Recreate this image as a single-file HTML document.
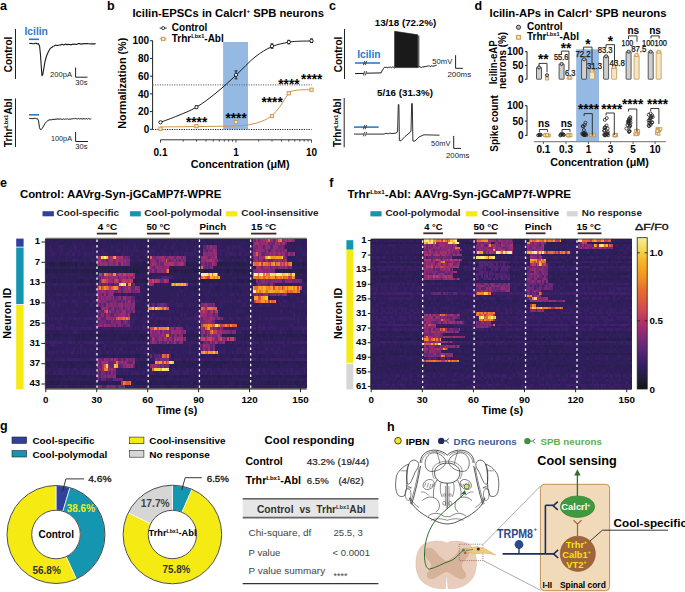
<!DOCTYPE html>
<html><head><meta charset="utf-8"><style>
html,body{margin:0;padding:0;background:#fff;}
body{width:685px;height:592px;position:relative;overflow:hidden;font-family:"Liberation Sans", sans-serif;}
.hm{position:absolute;overflow:hidden;}
.hm div{position:absolute;left:0;width:100%;}
svg{position:absolute;left:0;top:0;}
svg text{font-family:"Liberation Sans", sans-serif;}
</style></head><body>
<div class="hm" style="left:45.80px;top:238.60px;width:260.90px;height:149.64px"><div style="top:0.00px;height:4.00px;background:linear-gradient(90deg,#321e5f 0 3.4px,#2f1e59 0 6.8px,#2b1e54 0 11.9px,#2f1e59 0 13.7px,#2b1e54 0 15.4px,#321e5f 0 17.1px,#2b1e54 0 22.2px,#2f1e59 0 23.9px,#2b1e54 0 25.6px,#2f1e59 0 27.3px,#2b1e54 0 29.0px,#2f1e59 0 30.7px,#2b1e54 0 34.1px,#2f1e59 0 35.8px,#2b1e54 0 39.3px,#321e5f 0 41.0px,#2f1e59 0 44.4px,#321e5f 0 46.1px,#2b1e54 0 49.5px,#2f1e59 0 51.2px,#2b1e54 0 52.9px,#2f1e59 0 54.6px,#281e4e 0 56.3px,#2f1e59 0 59.7px,#2b1e54 0 61.5px,#281e4e 0 63.2px,#2f1e59 0 64.9px,#281e4e 0 66.6px,#2f1e59 0 68.3px,#2b1e54 0 70.0px,#281e4e 0 71.7px,#2b1e54 0 76.8px,#2f1e59 0 80.2px,#2b1e54 0 81.9px,#2f1e59 0 87.1px,#321e5f 0 88.8px,#2b1e54 0 90.5px,#321e5f 0 92.2px,#2f1e59 0 95.6px,#281e4e 0 97.3px,#2b1e54 0 99.0px,#281e4e 0 100.7px,#2b1e54 0 102.4px,#321e5f 0 107.5px,#2b1e54 0 109.2px,#2f1e59 0 112.7px,#321e5f 0 114.4px,#2f1e59 0 116.1px,#2b1e54 0 119.5px,#2f1e59 0 122.9px,#321e5f 0 124.6px,#2f1e59 0 126.3px,#321e5f 0 128.0px,#2b1e54 0 129.7px,#321e5f 0 133.1px,#2b1e54 0 136.6px,#2f1e59 0 140.0px,#2b1e54 0 145.1px,#321e5f 0 146.8px,#2b1e54 0 148.5px,#321e5f 0 150.2px,#2b1e54 0 155.3px,#321e5f 0 158.8px,#2b1e54 0 162.2px,#2f1e59 0 163.9px,#321e5f 0 165.6px,#281e4e 0 167.3px,#2f1e59 0 169.0px,#321e5f 0 170.7px,#2f1e59 0 174.1px,#321e5f 0 175.8px,#2b1e54 0 179.2px,#2f1e59 0 184.4px,#2b1e54 0 186.1px,#321e5f 0 187.8px,#2b1e54 0 189.5px,#2f1e59 0 191.2px,#321e5f 0 192.9px,#2b1e54 0 206.5px,#952c72 0 208.3px,#5f2874 0 210.0px,#a4306c 0 211.7px,#5f2874 0 213.4px,#862a74 0 215.1px,#952c72 0 216.8px,#9d2d70 0 220.2px,#ac3268 0 221.9px,#df5d3a 0 223.6px,#7e2975 0 225.3px,#9d2d70 0 227.0px,#5f2874 0 228.7px,#7e2975 0 230.4px,#ac3268 0 232.2px,#e46635 0 233.9px,#ed8129 0 235.6px,#762876 0 237.3px,#8d2b73 0 239.0px,#a4306c 0 240.7px,#7e2975 0 242.4px,#a4306c 0 245.8px,#952c72 0 247.5px,#7e2975 0 249.2px,#2f1e59 0 252.6px,#321e5f 0 256.1px,#2b1e54 0 259.5px,#2f1e59 0 260.9px)"></div><div style="top:3.40px;height:4.00px;background:linear-gradient(90deg,#2b1e54 0 3.4px,#2f1e59 0 5.1px,#321e5f 0 8.5px,#2f1e59 0 10.2px,#321e5f 0 11.9px,#2f1e59 0 13.7px,#2b1e54 0 18.8px,#2f1e59 0 20.5px,#321e5f 0 22.2px,#2b1e54 0 25.6px,#321e5f 0 27.3px,#2f1e59 0 30.7px,#2b1e54 0 32.4px,#321e5f 0 39.3px,#2f1e59 0 41.0px,#2b1e54 0 44.4px,#321e5f 0 46.1px,#2f1e59 0 47.8px,#2b1e54 0 52.9px,#2f1e59 0 54.6px,#321e5f 0 61.5px,#2b1e54 0 63.2px,#321e5f 0 64.9px,#2b1e54 0 66.6px,#2f1e59 0 68.3px,#2b1e54 0 70.0px,#321e5f 0 71.7px,#2b1e54 0 73.4px,#2f1e59 0 81.9px,#321e5f 0 85.4px,#2f1e59 0 87.1px,#321e5f 0 90.5px,#2b1e54 0 92.2px,#2f1e59 0 93.9px,#2b1e54 0 95.6px,#2f1e59 0 99.0px,#321e5f 0 100.7px,#2b1e54 0 102.4px,#321e5f 0 104.1px,#2b1e54 0 111.0px,#321e5f 0 116.1px,#2b1e54 0 117.8px,#321e5f 0 122.9px,#2b1e54 0 124.6px,#321e5f 0 129.7px,#2b1e54 0 131.4px,#2f1e59 0 133.1px,#321e5f 0 134.9px,#2f1e59 0 138.3px,#321e5f 0 140.0px,#2f1e59 0 141.7px,#321e5f 0 143.4px,#2b1e54 0 145.1px,#2f1e59 0 146.8px,#321e5f 0 148.5px,#2b1e54 0 150.2px,#321e5f 0 151.9px,#2b1e54 0 153.6px,#2f1e59 0 157.0px,#2b1e54 0 158.8px,#321e5f 0 160.5px,#2b1e54 0 163.9px,#2f1e59 0 165.6px,#2b1e54 0 169.0px,#321e5f 0 170.7px,#2b1e54 0 172.4px,#2f1e59 0 174.1px,#321e5f 0 175.8px,#2f1e59 0 177.5px,#321e5f 0 180.9px,#2b1e54 0 184.4px,#321e5f 0 191.2px,#2f1e59 0 192.9px,#321e5f 0 199.7px,#2b1e54 0 201.4px,#321e5f 0 203.1px,#2f1e59 0 204.8px,#2b1e54 0 206.5px,#5f2874 0 208.3px,#a4306c 0 211.7px,#9d2d70 0 213.4px,#862a74 0 215.1px,#952c72 0 218.5px,#862a74 0 220.2px,#a4306c 0 221.9px,#5f2874 0 223.6px,#9d2d70 0 225.3px,#5f2874 0 228.7px,#a4306c 0 230.4px,#862a74 0 232.2px,#a4306c 0 233.9px,#7e2975 0 235.6px,#952c72 0 237.3px,#a4306c 0 239.0px,#5f2874 0 240.7px,#2f1e59 0 242.4px,#321e5f 0 244.1px,#2b1e54 0 245.8px,#321e5f 0 247.5px,#2b1e54 0 250.9px,#2f1e59 0 252.6px,#2b1e54 0 254.3px,#2f1e59 0 256.1px,#2b1e54 0 259.5px,#321e5f 0 260.9px)"></div><div style="top:6.80px;height:4.00px;background:linear-gradient(90deg,#321e5f 0 1.7px,#2f1e59 0 3.4px,#391f64 0 5.1px,#321e5f 0 10.2px,#2f1e59 0 11.9px,#391f64 0 17.1px,#321e5f 0 18.8px,#2f1e59 0 23.9px,#321e5f 0 25.6px,#2f1e59 0 27.3px,#391f64 0 30.7px,#321e5f 0 34.1px,#2f1e59 0 35.8px,#391f64 0 37.6px,#2f1e59 0 39.3px,#321e5f 0 44.4px,#2f1e59 0 46.1px,#391f64 0 47.8px,#2f1e59 0 51.2px,#321e5f 0 54.6px,#2b1e54 0 56.3px,#321e5f 0 61.5px,#2f1e59 0 63.2px,#321e5f 0 64.9px,#391f64 0 66.6px,#2f1e59 0 68.3px,#321e5f 0 71.7px,#2f1e59 0 76.8px,#391f64 0 78.5px,#2f1e59 0 80.2px,#391f64 0 81.9px,#321e5f 0 83.6px,#2f1e59 0 85.4px,#321e5f 0 88.8px,#391f64 0 90.5px,#2f1e59 0 92.2px,#321e5f 0 93.9px,#2b1e54 0 95.6px,#2f1e59 0 102.4px,#321e5f 0 105.8px,#2f1e59 0 107.5px,#321e5f 0 111.0px,#2f1e59 0 112.7px,#391f64 0 114.4px,#2b1e54 0 116.1px,#2f1e59 0 117.8px,#391f64 0 119.5px,#2f1e59 0 124.6px,#391f64 0 128.0px,#2f1e59 0 129.7px,#321e5f 0 131.4px,#2f1e59 0 133.1px,#2b1e54 0 134.9px,#2f1e59 0 136.6px,#321e5f 0 140.0px,#2f1e59 0 141.7px,#321e5f 0 143.4px,#2f1e59 0 148.5px,#391f64 0 150.2px,#2f1e59 0 151.9px,#321e5f 0 153.6px,#2f1e59 0 157.0px,#582773 0 160.5px,#9d2d70 0 162.2px,#6f2875 0 163.9px,#952c72 0 165.6px,#6f2875 0 167.3px,#7e2975 0 169.0px,#762876 0 170.7px,#2f1e59 0 172.4px,#321e5f 0 174.1px,#2f1e59 0 175.8px,#321e5f 0 177.5px,#2f1e59 0 179.2px,#321e5f 0 180.9px,#391f64 0 184.4px,#321e5f 0 186.1px,#391f64 0 189.5px,#2f1e59 0 191.2px,#391f64 0 194.6px,#2f1e59 0 196.3px,#321e5f 0 203.1px,#2f1e59 0 204.8px,#391f64 0 206.5px,#8d2b73 0 208.3px,#862a74 0 210.0px,#762876 0 211.7px,#952c72 0 215.1px,#7e2975 0 216.8px,#582773 0 218.5px,#952c72 0 220.2px,#8d2b73 0 221.9px,#952c72 0 223.6px,#582773 0 227.0px,#9d2d70 0 228.7px,#8d2b73 0 230.4px,#952c72 0 232.2px,#6f2875 0 235.6px,#8d2b73 0 237.3px,#582773 0 239.0px,#321e5f 0 240.7px,#391f64 0 242.4px,#321e5f 0 245.8px,#2f1e59 0 247.5px,#321e5f 0 252.6px,#391f64 0 254.3px,#321e5f 0 256.1px,#2f1e59 0 257.8px,#321e5f 0 260.9px)"></div><div style="top:10.20px;height:4.00px;background:linear-gradient(90deg,#321e5f 0 1.7px,#2f1e59 0 3.4px,#391f64 0 6.8px,#321e5f 0 8.5px,#2f1e59 0 10.2px,#321e5f 0 15.4px,#391f64 0 17.1px,#2f1e59 0 20.5px,#321e5f 0 23.9px,#391f64 0 25.6px,#321e5f 0 29.0px,#391f64 0 30.7px,#2f1e59 0 32.4px,#391f64 0 34.1px,#2f1e59 0 35.8px,#321e5f 0 41.0px,#2f1e59 0 42.7px,#321e5f 0 44.4px,#2f1e59 0 47.8px,#321e5f 0 51.2px,#2f1e59 0 52.9px,#321e5f 0 54.6px,#391f64 0 58.0px,#2f1e59 0 61.5px,#321e5f 0 70.0px,#391f64 0 75.1px,#2f1e59 0 76.8px,#391f64 0 78.5px,#2f1e59 0 80.2px,#391f64 0 81.9px,#321e5f 0 83.6px,#391f64 0 85.4px,#321e5f 0 87.1px,#391f64 0 88.8px,#2f1e59 0 90.5px,#391f64 0 92.2px,#2f1e59 0 97.3px,#321e5f 0 100.7px,#391f64 0 102.4px,#321e5f 0 104.1px,#391f64 0 107.5px,#2f1e59 0 114.4px,#321e5f 0 116.1px,#391f64 0 117.8px,#2f1e59 0 119.5px,#321e5f 0 121.2px,#2f1e59 0 128.0px,#321e5f 0 129.7px,#391f64 0 131.4px,#2f1e59 0 133.1px,#321e5f 0 138.3px,#2f1e59 0 140.0px,#391f64 0 141.7px,#2f1e59 0 143.4px,#321e5f 0 148.5px,#391f64 0 150.2px,#321e5f 0 153.6px,#391f64 0 155.3px,#2f1e59 0 157.0px,#762876 0 158.8px,#582773 0 162.2px,#7e2975 0 163.9px,#6f2875 0 167.3px,#9d2d70 0 169.0px,#8d2b73 0 170.7px,#2f1e59 0 172.4px,#321e5f 0 174.1px,#391f64 0 175.8px,#321e5f 0 177.5px,#391f64 0 179.2px,#321e5f 0 180.9px,#391f64 0 184.4px,#2f1e59 0 186.1px,#391f64 0 187.8px,#321e5f 0 189.5px,#2f1e59 0 192.9px,#391f64 0 194.6px,#321e5f 0 196.3px,#391f64 0 199.7px,#321e5f 0 203.1px,#391f64 0 206.5px,#862a74 0 208.3px,#6f2875 0 210.0px,#952c72 0 215.1px,#8d2b73 0 218.5px,#582773 0 220.2px,#8d2b73 0 221.9px,#582773 0 225.3px,#862a74 0 227.0px,#952c72 0 228.7px,#862a74 0 230.4px,#6f2875 0 232.2px,#862a74 0 233.9px,#762876 0 235.6px,#7e2975 0 239.0px,#8d2b73 0 240.7px,#321e5f 0 242.4px,#2f1e59 0 247.5px,#321e5f 0 250.9px,#2f1e59 0 252.6px,#321e5f 0 254.3px,#391f64 0 256.1px,#321e5f 0 257.8px,#391f64 0 259.5px,#321e5f 0 260.9px)"></div><div style="top:13.60px;height:4.00px;background:linear-gradient(90deg,#321e5f 0 5.1px,#391f64 0 8.5px,#321e5f 0 10.2px,#2f1e59 0 13.7px,#391f64 0 15.4px,#321e5f 0 17.1px,#2f1e59 0 18.8px,#321e5f 0 20.5px,#391f64 0 23.9px,#321e5f 0 25.6px,#3f1f69 0 29.0px,#2f1e59 0 30.7px,#321e5f 0 32.4px,#391f64 0 34.1px,#321e5f 0 37.6px,#391f64 0 41.0px,#321e5f 0 42.7px,#3f1f69 0 44.4px,#321e5f 0 46.1px,#391f64 0 47.8px,#321e5f 0 49.5px,#391f64 0 52.9px,#321e5f 0 56.3px,#391f64 0 61.5px,#2f1e59 0 64.9px,#321e5f 0 66.6px,#2f1e59 0 68.3px,#321e5f 0 71.7px,#2f1e59 0 75.1px,#391f64 0 78.5px,#321e5f 0 80.2px,#391f64 0 81.9px,#321e5f 0 83.6px,#2f1e59 0 85.4px,#391f64 0 87.1px,#2f1e59 0 88.8px,#321e5f 0 90.5px,#2f1e59 0 92.2px,#321e5f 0 99.0px,#3f1f69 0 100.7px,#391f64 0 102.4px,#321e5f 0 104.1px,#391f64 0 105.8px,#321e5f 0 107.5px,#391f64 0 109.2px,#321e5f 0 111.0px,#391f64 0 112.7px,#2f1e59 0 116.1px,#391f64 0 119.5px,#321e5f 0 121.2px,#2f1e59 0 122.9px,#391f64 0 124.6px,#2f1e59 0 126.3px,#321e5f 0 128.0px,#391f64 0 133.1px,#2f1e59 0 134.9px,#391f64 0 136.6px,#2f1e59 0 138.3px,#3f1f69 0 140.0px,#391f64 0 150.2px,#2f1e59 0 153.6px,#391f64 0 155.3px,#2f1e59 0 157.0px,#952c72 0 158.8px,#862a74 0 160.5px,#7e2975 0 162.2px,#8d2b73 0 165.6px,#7e2975 0 167.3px,#8d2b73 0 169.0px,#9d2d70 0 170.7px,#321e5f 0 172.4px,#391f64 0 175.8px,#321e5f 0 177.5px,#2f1e59 0 179.2px,#391f64 0 184.4px,#3f1f69 0 186.1px,#391f64 0 189.5px,#321e5f 0 192.9px,#3f1f69 0 196.3px,#2f1e59 0 198.0px,#391f64 0 203.1px,#321e5f 0 206.5px,#9d2d70 0 208.3px,#ac3268 0 210.0px,#df5d3a 0 211.7px,#862a74 0 213.4px,#a4306c 0 215.1px,#5f2874 0 218.5px,#762876 0 220.2px,#862a74 0 221.9px,#7e2975 0 223.6px,#a4306c 0 225.3px,#862a74 0 227.0px,#a4306c 0 228.7px,#952c72 0 230.4px,#7e2975 0 232.2px,#9d2d70 0 233.9px,#862a74 0 235.6px,#9d2d70 0 239.0px,#5f2874 0 242.4px,#9d2d70 0 244.1px,#762876 0 245.8px,#7e2975 0 247.5px,#9d2d70 0 249.2px,#2f1e59 0 250.9px,#321e5f 0 256.1px,#391f64 0 257.8px,#321e5f 0 259.5px,#391f64 0 260.9px)"></div><div style="top:17.00px;height:4.00px;background:linear-gradient(90deg,#2f1e59 0 5.1px,#321e5f 0 8.5px,#2f1e59 0 10.2px,#2b1e54 0 11.9px,#321e5f 0 13.7px,#2b1e54 0 18.8px,#2f1e59 0 20.5px,#321e5f 0 22.2px,#2f1e59 0 23.9px,#321e5f 0 25.6px,#2f1e59 0 27.3px,#321e5f 0 29.0px,#2f1e59 0 30.7px,#321e5f 0 32.4px,#2f1e59 0 34.1px,#2b1e54 0 35.8px,#321e5f 0 41.0px,#2f1e59 0 42.7px,#321e5f 0 44.4px,#2f1e59 0 47.8px,#321e5f 0 49.5px,#2f1e59 0 51.2px,#952c72 0 52.9px,#9d2d70 0 54.6px,#f4ee9a 0 56.3px,#f5c63d 0 58.0px,#f4ee9a 0 59.7px,#f5c63d 0 61.5px,#b43464 0 63.2px,#8d2b73 0 64.9px,#b43464 0 66.6px,#eb792c 0 68.3px,#f5a624 0 70.0px,#ac3268 0 73.4px,#9d2d70 0 75.1px,#ac3268 0 76.8px,#5f2874 0 78.5px,#762876 0 81.9px,#5f2874 0 83.6px,#2f1e59 0 85.4px,#2b1e54 0 87.1px,#2f1e59 0 90.5px,#321e5f 0 93.9px,#2b1e54 0 97.3px,#2f1e59 0 100.7px,#321e5f 0 102.4px,#2f1e59 0 104.1px,#e26237 0 105.8px,#7e2975 0 107.5px,#5f2874 0 109.2px,#7e2975 0 111.0px,#8d2b73 0 112.7px,#952c72 0 116.1px,#a4306c 0 117.8px,#862a74 0 119.5px,#5f2874 0 121.2px,#862a74 0 122.9px,#9d2d70 0 124.6px,#8d2b73 0 126.3px,#952c72 0 128.0px,#5f2874 0 129.7px,#862a74 0 131.4px,#952c72 0 134.9px,#5f2874 0 136.6px,#9d2d70 0 138.3px,#7e2975 0 140.0px,#2f1e59 0 146.8px,#321e5f 0 148.5px,#2f1e59 0 155.3px,#8d2b73 0 157.0px,#a4306c 0 158.8px,#9d2d70 0 160.5px,#8d2b73 0 162.2px,#672875 0 163.9px,#862a74 0 165.6px,#8d2b73 0 167.3px,#7e2975 0 169.0px,#ac3268 0 170.7px,#2b1e54 0 172.4px,#321e5f 0 177.5px,#2b1e54 0 179.2px,#321e5f 0 184.4px,#2b1e54 0 187.8px,#321e5f 0 189.5px,#2f1e59 0 191.2px,#2b1e54 0 194.6px,#321e5f 0 198.0px,#2f1e59 0 201.4px,#2b1e54 0 204.8px,#321e5f 0 206.5px,#5f2874 0 208.3px,#9d2d70 0 210.0px,#952c72 0 211.7px,#5f2874 0 213.4px,#a4306c 0 215.1px,#9d2d70 0 218.5px,#f08826 0 220.2px,#f5ac28 0 221.9px,#f4e070 0 223.6px,#f5a624 0 225.3px,#f39b21 0 227.0px,#f18f24 0 230.4px,#f5a624 0 232.2px,#f39b21 0 233.9px,#f4a121 0 235.6px,#f4da62 0 237.3px,#952c72 0 239.0px,#7e2975 0 240.7px,#321e5f 0 242.4px,#2b1e54 0 245.8px,#321e5f 0 247.5px,#2b1e54 0 249.2px,#321e5f 0 252.6px,#2b1e54 0 254.3px,#321e5f 0 256.1px,#2b1e54 0 259.5px,#321e5f 0 260.9px)"></div><div style="top:20.41px;height:4.00px;background:linear-gradient(90deg,#2f1e59 0 3.4px,#321e5f 0 5.1px,#2f1e59 0 8.5px,#321e5f 0 11.9px,#2f1e59 0 13.7px,#321e5f 0 15.4px,#2f1e59 0 17.1px,#321e5f 0 18.8px,#391f64 0 20.5px,#321e5f 0 25.6px,#391f64 0 32.4px,#321e5f 0 35.8px,#2f1e59 0 37.6px,#391f64 0 39.3px,#2f1e59 0 42.7px,#321e5f 0 44.4px,#2f1e59 0 46.1px,#391f64 0 47.8px,#2f1e59 0 49.5px,#391f64 0 51.2px,#9d2d70 0 52.9px,#a4306c 0 54.6px,#9d2d70 0 56.3px,#762876 0 58.0px,#8d2b73 0 59.7px,#5f2874 0 61.5px,#7e2975 0 63.2px,#9d2d70 0 64.9px,#a4306c 0 66.6px,#862a74 0 68.3px,#7e2975 0 70.0px,#a4306c 0 71.7px,#9d2d70 0 73.4px,#952c72 0 76.8px,#862a74 0 78.5px,#a4306c 0 80.2px,#762876 0 81.9px,#7e2975 0 83.6px,#391f64 0 85.4px,#321e5f 0 88.8px,#2f1e59 0 90.5px,#321e5f 0 92.2px,#391f64 0 95.6px,#321e5f 0 100.7px,#391f64 0 102.4px,#2f1e59 0 104.1px,#862a74 0 105.8px,#952c72 0 107.5px,#9d2d70 0 109.2px,#762876 0 111.0px,#5f2874 0 112.7px,#9d2d70 0 114.4px,#862a74 0 116.1px,#a4306c 0 117.8px,#862a74 0 119.5px,#dd583e 0 121.2px,#862a74 0 122.9px,#5f2874 0 124.6px,#8d2b73 0 126.3px,#7e2975 0 128.0px,#952c72 0 129.7px,#5f2874 0 131.4px,#862a74 0 133.1px,#5f2874 0 134.9px,#952c72 0 136.6px,#5f2874 0 138.3px,#862a74 0 140.0px,#321e5f 0 141.7px,#2f1e59 0 143.4px,#391f64 0 145.1px,#2f1e59 0 146.8px,#391f64 0 148.5px,#2f1e59 0 155.3px,#952c72 0 157.0px,#8d2b73 0 160.5px,#a4306c 0 162.2px,#9d2d70 0 163.9px,#b43464 0 165.6px,#8d2b73 0 167.3px,#a4306c 0 169.0px,#6f2875 0 170.7px,#952c72 0 172.4px,#391f64 0 175.8px,#321e5f 0 180.9px,#2f1e59 0 186.1px,#391f64 0 187.8px,#2f1e59 0 191.2px,#391f64 0 192.9px,#321e5f 0 196.3px,#2f1e59 0 198.0px,#391f64 0 199.7px,#2f1e59 0 203.1px,#391f64 0 204.8px,#2f1e59 0 206.5px,#762876 0 208.3px,#8d2b73 0 210.0px,#a4306c 0 211.7px,#5f2874 0 213.4px,#952c72 0 215.1px,#8d2b73 0 216.8px,#5f2874 0 218.5px,#862a74 0 220.2px,#9d2d70 0 221.9px,#5f2874 0 223.6px,#862a74 0 225.3px,#5f2874 0 227.0px,#952c72 0 228.7px,#9d2d70 0 230.4px,#862a74 0 232.2px,#9d2d70 0 235.6px,#5f2874 0 237.3px,#8d2b73 0 239.0px,#a4306c 0 240.7px,#2f1e59 0 242.4px,#321e5f 0 244.1px,#391f64 0 245.8px,#2f1e59 0 250.9px,#321e5f 0 252.6px,#391f64 0 256.1px,#321e5f 0 257.8px,#2f1e59 0 260.9px)"></div><div style="top:23.81px;height:4.00px;background:linear-gradient(90deg,#281e4e 0 1.7px,#2b1e54 0 3.4px,#251d43 0 8.5px,#281e4e 0 13.7px,#211d38 0 15.4px,#251d43 0 17.1px,#211d38 0 18.8px,#251d43 0 27.3px,#2b1e54 0 29.0px,#211d38 0 30.7px,#281e4e 0 32.4px,#2b1e54 0 34.1px,#281e4e 0 35.8px,#251d43 0 37.6px,#2b1e54 0 41.0px,#281e4e 0 42.7px,#2b1e54 0 44.4px,#251d43 0 46.1px,#281e4e 0 47.8px,#251d43 0 49.5px,#211d38 0 51.2px,#9d2d70 0 52.9px,#8d2b73 0 54.6px,#a4306c 0 56.3px,#952c72 0 59.7px,#9d2d70 0 61.5px,#5f2874 0 63.2px,#952c72 0 64.9px,#8d2b73 0 66.6px,#862a74 0 68.3px,#7e2975 0 70.0px,#a4306c 0 71.7px,#5f2874 0 75.1px,#a4306c 0 76.8px,#7e2975 0 78.5px,#952c72 0 80.2px,#7e2975 0 81.9px,#762876 0 83.6px,#2b1e54 0 87.1px,#281e4e 0 88.8px,#251d43 0 90.5px,#281e4e 0 92.2px,#2b1e54 0 95.6px,#281e4e 0 97.3px,#251d43 0 99.0px,#281e4e 0 100.7px,#251d43 0 104.1px,#862a74 0 105.8px,#a4306c 0 107.5px,#952c72 0 111.0px,#672875 0 112.7px,#952c72 0 114.4px,#672875 0 117.8px,#a4306c 0 119.5px,#ac3268 0 121.2px,#a4306c 0 122.9px,#b43464 0 124.6px,#9d2d70 0 126.3px,#ac3268 0 128.0px,#862a74 0 131.4px,#952c72 0 133.1px,#a4306c 0 134.9px,#ac3268 0 136.6px,#9d2d70 0 138.3px,#672875 0 140.0px,#211d38 0 141.7px,#2b1e54 0 143.4px,#281e4e 0 146.8px,#251d43 0 148.5px,#2b1e54 0 150.2px,#281e4e 0 151.9px,#251d43 0 153.6px,#281e4e 0 155.3px,#7e2975 0 158.8px,#5f2874 0 160.5px,#862a74 0 162.2px,#5f2874 0 165.6px,#a4306c 0 167.3px,#952c72 0 169.0px,#7e2975 0 170.7px,#211d38 0 172.4px,#281e4e 0 174.1px,#211d38 0 175.8px,#251d43 0 177.5px,#281e4e 0 179.2px,#251d43 0 180.9px,#281e4e 0 191.2px,#251d43 0 194.6px,#2b1e54 0 196.3px,#251d43 0 198.0px,#281e4e 0 199.7px,#2b1e54 0 201.4px,#281e4e 0 203.1px,#2b1e54 0 204.8px,#281e4e 0 206.5px,#f39b21 0 208.3px,#e46635 0 213.4px,#f18f24 0 215.1px,#c13e5d 0 216.8px,#ed8129 0 218.5px,#e9712f 0 221.9px,#dd583e 0 223.6px,#c13e5d 0 225.3px,#ed8129 0 227.0px,#f39b21 0 228.7px,#c13e5d 0 230.4px,#e76b32 0 232.2px,#ed8129 0 233.9px,#c13e5d 0 235.6px,#e26237 0 237.3px,#c13e5d 0 239.0px,#e46635 0 240.7px,#c13e5d 0 242.4px,#e76b32 0 244.1px,#f18f24 0 245.8px,#251d43 0 247.5px,#281e4e 0 250.9px,#251d43 0 254.3px,#2b1e54 0 256.1px,#211d38 0 257.8px,#251d43 0 259.5px,#281e4e 0 260.9px)"></div><div style="top:27.21px;height:4.00px;background:linear-gradient(90deg,#321e5f 0 3.4px,#2f1e59 0 5.1px,#321e5f 0 6.8px,#2b1e54 0 8.5px,#2f1e59 0 11.9px,#321e5f 0 13.7px,#2b1e54 0 17.1px,#321e5f 0 18.8px,#2b1e54 0 20.5px,#321e5f 0 22.2px,#2b1e54 0 23.9px,#321e5f 0 25.6px,#2f1e59 0 27.3px,#321e5f 0 29.0px,#2b1e54 0 30.7px,#2f1e59 0 32.4px,#321e5f 0 34.1px,#2f1e59 0 35.8px,#321e5f 0 39.3px,#2b1e54 0 41.0px,#321e5f 0 44.4px,#2b1e54 0 46.1px,#321e5f 0 47.8px,#2f1e59 0 49.5px,#391f64 0 51.2px,#281e4e 0 102.4px,#d95444 0 104.1px,#862a74 0 105.8px,#762876 0 107.5px,#582773 0 109.2px,#8d2b73 0 111.0px,#9d2d70 0 112.7px,#862a74 0 114.4px,#8d2b73 0 116.1px,#7e2975 0 117.8px,#862a74 0 121.2px,#952c72 0 122.9px,#321e5f 0 124.6px,#2f1e59 0 126.3px,#2b1e54 0 129.7px,#2f1e59 0 133.1px,#321e5f 0 134.9px,#2f1e59 0 136.6px,#2b1e54 0 138.3px,#2f1e59 0 140.0px,#321e5f 0 143.4px,#2f1e59 0 145.1px,#321e5f 0 146.8px,#2b1e54 0 150.2px,#321e5f 0 153.6px,#2f1e59 0 155.3px,#e76b32 0 157.0px,#7e2975 0 158.8px,#582773 0 160.5px,#862a74 0 162.2px,#582773 0 163.9px,#7e2975 0 165.6px,#8d2b73 0 167.3px,#2f1e59 0 170.7px,#2b1e54 0 172.4px,#2f1e59 0 174.1px,#321e5f 0 179.2px,#2b1e54 0 184.4px,#2f1e59 0 186.1px,#321e5f 0 187.8px,#2b1e54 0 189.5px,#2f1e59 0 191.2px,#321e5f 0 192.9px,#2f1e59 0 199.7px,#321e5f 0 208.3px,#2b1e54 0 210.0px,#952c72 0 211.7px,#a4306c 0 213.4px,#8d2b73 0 215.1px,#762876 0 216.8px,#952c72 0 218.5px,#a4306c 0 220.2px,#9d2d70 0 221.9px,#952c72 0 223.6px,#5f2874 0 225.3px,#862a74 0 227.0px,#7e2975 0 228.7px,#9d2d70 0 230.4px,#5f2874 0 232.2px,#862a74 0 233.9px,#952c72 0 235.6px,#8d2b73 0 237.3px,#862a74 0 239.0px,#9d2d70 0 240.7px,#7e2975 0 242.4px,#5f2874 0 244.1px,#862a74 0 245.8px,#321e5f 0 247.5px,#2f1e59 0 249.2px,#2b1e54 0 250.9px,#2f1e59 0 256.1px,#2b1e54 0 257.8px,#321e5f 0 259.5px,#2f1e59 0 260.9px)"></div><div style="top:30.61px;height:4.00px;background:linear-gradient(90deg,#251d43 0 1.7px,#281e4e 0 6.8px,#251d43 0 8.5px,#281e4e 0 10.2px,#251d43 0 11.9px,#281e4e 0 13.7px,#251d43 0 15.4px,#2b1e54 0 17.1px,#251d43 0 18.8px,#281e4e 0 20.5px,#2b1e54 0 22.2px,#251d43 0 23.9px,#281e4e 0 27.3px,#251d43 0 29.0px,#281e4e 0 30.7px,#251d43 0 32.4px,#2b1e54 0 34.1px,#281e4e 0 41.0px,#251d43 0 42.7px,#281e4e 0 44.4px,#2b1e54 0 46.1px,#251d43 0 47.8px,#281e4e 0 51.2px,#251d43 0 52.9px,#2b1e54 0 56.3px,#281e4e 0 58.0px,#251d43 0 59.7px,#2b1e54 0 61.5px,#251d43 0 64.9px,#281e4e 0 66.6px,#251d43 0 68.3px,#281e4e 0 73.4px,#2b1e54 0 76.8px,#251d43 0 81.9px,#2b1e54 0 83.6px,#251d43 0 85.4px,#281e4e 0 87.1px,#211d38 0 88.8px,#281e4e 0 90.5px,#211d38 0 92.2px,#251d43 0 93.9px,#281e4e 0 95.6px,#2b1e54 0 97.3px,#281e4e 0 100.7px,#251d43 0 102.4px,#8d2b73 0 104.1px,#6f2875 0 105.8px,#8d2b73 0 107.5px,#762876 0 109.2px,#582773 0 111.0px,#952c72 0 112.7px,#862a74 0 116.1px,#952c72 0 117.8px,#7e2975 0 119.5px,#c13e5d 0 121.2px,#eb792c 0 122.9px,#251d43 0 124.6px,#281e4e 0 128.0px,#251d43 0 131.4px,#281e4e 0 133.1px,#2b1e54 0 134.9px,#251d43 0 136.6px,#2b1e54 0 138.3px,#251d43 0 140.0px,#281e4e 0 141.7px,#251d43 0 143.4px,#281e4e 0 145.1px,#2b1e54 0 146.8px,#251d43 0 148.5px,#211d38 0 150.2px,#251d43 0 153.6px,#281e4e 0 157.0px,#251d43 0 158.8px,#211d38 0 160.5px,#281e4e 0 162.2px,#251d43 0 165.6px,#281e4e 0 170.7px,#251d43 0 174.1px,#281e4e 0 175.8px,#2b1e54 0 179.2px,#281e4e 0 180.9px,#211d38 0 182.6px,#281e4e 0 184.4px,#2b1e54 0 187.8px,#251d43 0 192.9px,#281e4e 0 194.6px,#251d43 0 199.7px,#281e4e 0 203.1px,#2b1e54 0 206.5px,#7e2975 0 210.0px,#8d2b73 0 211.7px,#862a74 0 213.4px,#9d2d70 0 215.1px,#952c72 0 216.8px,#7e2975 0 218.5px,#952c72 0 220.2px,#7e2975 0 221.9px,#8d2b73 0 223.6px,#762876 0 227.0px,#7e2975 0 228.7px,#281e4e 0 235.6px,#2b1e54 0 237.3px,#211d38 0 239.0px,#281e4e 0 240.7px,#251d43 0 245.8px,#281e4e 0 247.5px,#2b1e54 0 249.2px,#281e4e 0 252.6px,#251d43 0 259.5px,#281e4e 0 260.9px)"></div><div style="top:34.01px;height:4.00px;background:linear-gradient(90deg,#2f1e59 0 1.7px,#2b1e54 0 3.4px,#321e5f 0 5.1px,#2f1e59 0 8.5px,#2b1e54 0 11.9px,#2f1e59 0 13.7px,#2b1e54 0 17.1px,#2f1e59 0 18.8px,#321e5f 0 20.5px,#2b1e54 0 22.2px,#321e5f 0 25.6px,#2f1e59 0 30.7px,#2b1e54 0 32.4px,#2f1e59 0 34.1px,#2b1e54 0 37.6px,#2f1e59 0 39.3px,#2b1e54 0 42.7px,#2f1e59 0 46.1px,#2b1e54 0 47.8px,#2f1e59 0 51.2px,#2b1e54 0 52.9px,#bb3960 0 54.6px,#ac3268 0 56.3px,#6f2875 0 58.0px,#ed8129 0 59.7px,#dd583e 0 61.5px,#c84259 0 64.9px,#a4306c 0 66.6px,#f18f24 0 70.0px,#952c72 0 71.7px,#ac3268 0 73.4px,#bb3960 0 75.1px,#9d2d70 0 76.8px,#c13e5d 0 78.5px,#c84259 0 80.2px,#a4306c 0 81.9px,#b43464 0 83.6px,#ac3268 0 85.4px,#bb3960 0 87.1px,#952c72 0 88.8px,#2b1e54 0 90.5px,#2f1e59 0 92.2px,#2b1e54 0 93.9px,#321e5f 0 95.6px,#2b1e54 0 97.3px,#321e5f 0 99.0px,#2f1e59 0 102.4px,#321e5f 0 104.1px,#2b1e54 0 105.8px,#2f1e59 0 107.5px,#2b1e54 0 109.2px,#2f1e59 0 111.0px,#321e5f 0 112.7px,#2f1e59 0 116.1px,#2b1e54 0 117.8px,#2f1e59 0 121.2px,#2b1e54 0 122.9px,#321e5f 0 126.3px,#2f1e59 0 131.4px,#321e5f 0 133.1px,#2f1e59 0 134.9px,#2b1e54 0 136.6px,#2f1e59 0 138.3px,#2b1e54 0 141.7px,#2f1e59 0 143.4px,#2b1e54 0 145.1px,#2f1e59 0 148.5px,#321e5f 0 150.2px,#2b1e54 0 153.6px,#321e5f 0 155.3px,#f4ee9a 0 160.5px,#f4e98c 0 162.2px,#f6b62f 0 163.9px,#f4e070 0 165.6px,#eb792c 0 167.3px,#f4da62 0 169.0px,#f4ee9a 0 170.7px,#eb792c 0 172.4px,#2f1e59 0 174.1px,#321e5f 0 175.8px,#2b1e54 0 177.5px,#2f1e59 0 179.2px,#2b1e54 0 180.9px,#2f1e59 0 184.4px,#321e5f 0 186.1px,#2b1e54 0 189.5px,#2f1e59 0 191.2px,#2b1e54 0 192.9px,#2f1e59 0 194.6px,#2b1e54 0 196.3px,#2f1e59 0 198.0px,#2b1e54 0 199.7px,#2f1e59 0 203.1px,#2b1e54 0 206.5px,#eb792c 0 208.3px,#f4ee9a 0 211.7px,#eb792c 0 213.4px,#f4ee9a 0 216.8px,#eb792c 0 218.5px,#f4e070 0 220.2px,#eb792c 0 223.6px,#f4ee9a 0 225.3px,#f4da62 0 228.7px,#f6b62f 0 230.4px,#f4ee9a 0 233.9px,#f4e57e 0 235.6px,#f5b12b 0 237.3px,#f5c63d 0 239.0px,#f4da62 0 240.7px,#f4e57e 0 242.4px,#f5b12b 0 244.1px,#eb792c 0 245.8px,#f4da62 0 249.2px,#2f1e59 0 250.9px,#2b1e54 0 252.6px,#2f1e59 0 256.1px,#2b1e54 0 257.8px,#2f1e59 0 259.5px,#2b1e54 0 260.9px)"></div><div style="top:37.41px;height:4.00px;background:linear-gradient(90deg,#321e5f 0 3.4px,#2b1e54 0 5.1px,#2f1e59 0 6.8px,#321e5f 0 8.5px,#2f1e59 0 11.9px,#2b1e54 0 15.4px,#321e5f 0 17.1px,#2b1e54 0 18.8px,#321e5f 0 20.5px,#2f1e59 0 22.2px,#2b1e54 0 23.9px,#2f1e59 0 25.6px,#2b1e54 0 30.7px,#321e5f 0 32.4px,#2f1e59 0 34.1px,#321e5f 0 35.8px,#2f1e59 0 37.6px,#321e5f 0 39.3px,#2f1e59 0 44.4px,#321e5f 0 47.8px,#2b1e54 0 49.5px,#321e5f 0 51.2px,#5f2874 0 54.6px,#9d2d70 0 56.3px,#7e2975 0 58.0px,#8d2b73 0 59.7px,#a4306c 0 61.5px,#8d2b73 0 63.2px,#952c72 0 64.9px,#9d2d70 0 68.3px,#952c72 0 70.0px,#9d2d70 0 71.7px,#5f2874 0 73.4px,#952c72 0 75.1px,#9d2d70 0 76.8px,#952c72 0 78.5px,#9d2d70 0 80.2px,#762876 0 81.9px,#a4306c 0 83.6px,#862a74 0 85.4px,#7e2975 0 87.1px,#9d2d70 0 88.8px,#2b1e54 0 90.5px,#2f1e59 0 93.9px,#321e5f 0 97.3px,#2b1e54 0 99.0px,#2f1e59 0 102.4px,#321e5f 0 105.8px,#3f1f69 0 107.5px,#321e5f 0 109.2px,#3f1f69 0 116.1px,#522471 0 121.2px,#4c2270 0 122.9px,#46206e 0 124.6px,#4c2270 0 126.3px,#3f1f69 0 128.0px,#321e5f 0 129.7px,#2f1e59 0 131.4px,#321e5f 0 133.1px,#2f1e59 0 134.9px,#321e5f 0 136.6px,#2b1e54 0 138.3px,#2f1e59 0 146.8px,#2b1e54 0 148.5px,#2f1e59 0 155.3px,#e76b32 0 157.0px,#f29522 0 158.8px,#e26237 0 160.5px,#c84259 0 163.9px,#f5b12b 0 165.6px,#f5a624 0 167.3px,#f08826 0 169.0px,#f4a121 0 170.7px,#e9712f 0 172.4px,#f5ac28 0 174.1px,#321e5f 0 177.5px,#2f1e59 0 179.2px,#2b1e54 0 180.9px,#2f1e59 0 182.6px,#2b1e54 0 184.4px,#2f1e59 0 187.8px,#321e5f 0 191.2px,#2b1e54 0 192.9px,#321e5f 0 196.3px,#2f1e59 0 198.0px,#321e5f 0 199.7px,#2f1e59 0 201.4px,#321e5f 0 204.8px,#2b1e54 0 206.5px,#eb792c 0 210.0px,#e9712f 0 211.7px,#e46635 0 213.4px,#ed8129 0 215.1px,#f29522 0 216.8px,#e26237 0 218.5px,#e46635 0 220.2px,#f29522 0 221.9px,#e9712f 0 223.6px,#f29522 0 228.7px,#c13e5d 0 230.4px,#e9712f 0 232.2px,#f18f24 0 233.9px,#e9712f 0 235.6px,#f4a121 0 237.3px,#e46635 0 239.0px,#e76b32 0 240.7px,#eb792c 0 242.4px,#c13e5d 0 245.8px,#f39b21 0 247.5px,#ed8129 0 249.2px,#2b1e54 0 250.9px,#321e5f 0 252.6px,#2b1e54 0 254.3px,#2f1e59 0 256.1px,#2b1e54 0 257.8px,#2f1e59 0 259.5px,#2b1e54 0 260.9px)"></div><div style="top:40.81px;height:4.00px;background:linear-gradient(90deg,#2b1e54 0 3.4px,#2f1e59 0 5.1px,#281e4e 0 6.8px,#251d43 0 10.2px,#2b1e54 0 11.9px,#281e4e 0 13.7px,#2b1e54 0 23.9px,#281e4e 0 25.6px,#2b1e54 0 30.7px,#251d43 0 32.4px,#281e4e 0 34.1px,#251d43 0 37.6px,#281e4e 0 39.3px,#2b1e54 0 44.4px,#251d43 0 46.1px,#281e4e 0 47.8px,#2b1e54 0 51.2px,#251d43 0 52.9px,#6f2875 0 54.6px,#b43464 0 56.3px,#e26237 0 58.0px,#d95444 0 59.7px,#c13e5d 0 61.5px,#9d2d70 0 64.9px,#952c72 0 66.6px,#6f2875 0 68.3px,#bb3960 0 70.0px,#c84259 0 71.7px,#ac3268 0 73.4px,#6f2875 0 75.1px,#ac3268 0 76.8px,#c13e5d 0 78.5px,#bb3960 0 80.2px,#b43464 0 81.9px,#ac3268 0 83.6px,#c84259 0 85.4px,#b43464 0 87.1px,#281e4e 0 88.8px,#251d43 0 90.5px,#281e4e 0 92.2px,#2b1e54 0 93.9px,#281e4e 0 95.6px,#251d43 0 97.3px,#281e4e 0 99.0px,#251d43 0 102.4px,#bb3960 0 104.1px,#a4306c 0 105.8px,#c84259 0 107.5px,#9d2d70 0 109.2px,#bb3960 0 111.0px,#b43464 0 112.7px,#a4306c 0 114.4px,#6f2875 0 117.8px,#b43464 0 119.5px,#a4306c 0 121.2px,#952c72 0 122.9px,#281e4e 0 124.6px,#2b1e54 0 126.3px,#281e4e 0 128.0px,#2b1e54 0 129.7px,#281e4e 0 133.1px,#2b1e54 0 134.9px,#281e4e 0 138.3px,#2b1e54 0 140.0px,#2f1e59 0 141.7px,#251d43 0 143.4px,#2b1e54 0 148.5px,#251d43 0 150.2px,#2b1e54 0 153.6px,#251d43 0 158.8px,#281e4e 0 160.5px,#2b1e54 0 162.2px,#281e4e 0 169.0px,#2b1e54 0 170.7px,#281e4e 0 174.1px,#2b1e54 0 175.8px,#281e4e 0 177.5px,#2b1e54 0 180.9px,#281e4e 0 182.6px,#2b1e54 0 184.4px,#281e4e 0 186.1px,#2b1e54 0 189.5px,#281e4e 0 191.2px,#251d43 0 198.0px,#2b1e54 0 199.7px,#281e4e 0 203.1px,#251d43 0 206.5px,#281e4e 0 210.0px,#8d2b73 0 211.7px,#522471 0 213.4px,#762876 0 215.1px,#8d2b73 0 218.5px,#672875 0 220.2px,#862a74 0 221.9px,#762876 0 223.6px,#672875 0 225.3px,#862a74 0 227.0px,#7e2975 0 228.7px,#952c72 0 230.4px,#862a74 0 235.6px,#522471 0 239.0px,#8d2b73 0 240.7px,#862a74 0 242.4px,#8d2b73 0 245.8px,#762876 0 247.5px,#6f2875 0 249.2px,#7e2975 0 250.9px,#762876 0 254.3px,#672875 0 256.1px,#2b1e54 0 257.8px,#281e4e 0 260.9px)"></div><div style="top:44.21px;height:4.00px;background:linear-gradient(90deg,#391f64 0 1.7px,#321e5f 0 3.4px,#2f1e59 0 5.1px,#321e5f 0 6.8px,#391f64 0 11.9px,#321e5f 0 13.7px,#2f1e59 0 15.4px,#391f64 0 18.8px,#2f1e59 0 20.5px,#391f64 0 22.2px,#321e5f 0 23.9px,#2f1e59 0 25.6px,#321e5f 0 27.3px,#391f64 0 29.0px,#321e5f 0 30.7px,#391f64 0 34.1px,#321e5f 0 35.8px,#391f64 0 37.6px,#321e5f 0 39.3px,#391f64 0 42.7px,#2f1e59 0 44.4px,#321e5f 0 49.5px,#391f64 0 51.2px,#5f2874 0 52.9px,#762876 0 54.6px,#4c2270 0 56.3px,#672875 0 58.0px,#5f2874 0 59.7px,#7e2975 0 61.5px,#4c2270 0 63.2px,#5f2874 0 64.9px,#4c2270 0 68.3px,#5f2874 0 73.4px,#f6b62f 0 75.1px,#f4ee9a 0 76.8px,#f5d553 0 78.5px,#f4ee9a 0 80.2px,#6f2875 0 81.9px,#ed8129 0 83.6px,#f4a121 0 85.4px,#4c2270 0 87.1px,#762876 0 88.8px,#2f1e59 0 90.5px,#321e5f 0 92.2px,#2f1e59 0 93.9px,#391f64 0 95.6px,#3f1f69 0 97.3px,#321e5f 0 99.0px,#2f1e59 0 100.7px,#321e5f 0 102.4px,#7e2975 0 104.1px,#9d2d70 0 105.8px,#862a74 0 107.5px,#2f1e59 0 111.0px,#391f64 0 112.7px,#321e5f 0 114.4px,#2f1e59 0 116.1px,#321e5f 0 117.8px,#391f64 0 121.2px,#321e5f 0 122.9px,#2f1e59 0 124.6px,#d6504a 0 126.3px,#f6b62f 0 128.0px,#f08826 0 129.7px,#f6be35 0 131.4px,#f5b12b 0 133.1px,#f4a121 0 134.9px,#f6b62f 0 136.6px,#f29522 0 138.3px,#f5b12b 0 140.0px,#d6504a 0 141.7px,#391f64 0 148.5px,#2f1e59 0 150.2px,#391f64 0 151.9px,#321e5f 0 155.3px,#391f64 0 157.0px,#2f1e59 0 158.8px,#321e5f 0 163.9px,#391f64 0 167.3px,#321e5f 0 169.0px,#391f64 0 170.7px,#321e5f 0 172.4px,#2f1e59 0 175.8px,#391f64 0 177.5px,#321e5f 0 182.6px,#391f64 0 186.1px,#321e5f 0 189.5px,#391f64 0 191.2px,#321e5f 0 192.9px,#391f64 0 194.6px,#321e5f 0 198.0px,#391f64 0 199.7px,#321e5f 0 201.4px,#391f64 0 203.1px,#2f1e59 0 204.8px,#391f64 0 206.5px,#321e5f 0 210.0px,#522471 0 211.7px,#8d2b73 0 213.4px,#762876 0 215.1px,#672875 0 216.8px,#7e2975 0 218.5px,#762876 0 220.2px,#6f2875 0 221.9px,#522471 0 223.6px,#8d2b73 0 227.0px,#522471 0 228.7px,#321e5f 0 230.4px,#2f1e59 0 233.9px,#321e5f 0 235.6px,#2f1e59 0 237.3px,#3f1f69 0 239.0px,#2f1e59 0 240.7px,#391f64 0 242.4px,#321e5f 0 244.1px,#2f1e59 0 245.8px,#391f64 0 247.5px,#321e5f 0 249.2px,#2f1e59 0 250.9px,#321e5f 0 254.3px,#391f64 0 257.8px,#2f1e59 0 260.9px)"></div><div style="top:47.61px;height:4.00px;background:linear-gradient(90deg,#2b1e54 0 1.7px,#2f1e59 0 5.1px,#2b1e54 0 6.8px,#2f1e59 0 8.5px,#321e5f 0 10.2px,#2b1e54 0 11.9px,#2f1e59 0 15.4px,#2b1e54 0 18.8px,#2f1e59 0 23.9px,#2b1e54 0 27.3px,#321e5f 0 30.7px,#2b1e54 0 32.4px,#281e4e 0 34.1px,#2b1e54 0 35.8px,#281e4e 0 37.6px,#2b1e54 0 39.3px,#2f1e59 0 41.0px,#281e4e 0 42.7px,#2f1e59 0 44.4px,#2b1e54 0 46.1px,#281e4e 0 47.8px,#321e5f 0 49.5px,#2b1e54 0 51.2px,#bb3960 0 52.9px,#f08826 0 54.6px,#bb3960 0 56.3px,#df5d3a 0 58.0px,#f18f24 0 59.7px,#e9712f 0 61.5px,#df5d3a 0 63.2px,#bb3960 0 64.9px,#dd583e 0 66.6px,#ed8129 0 68.3px,#f29522 0 70.0px,#f08826 0 71.7px,#bb3960 0 73.4px,#7e2975 0 75.1px,#5f2874 0 76.8px,#7e2975 0 78.5px,#a4306c 0 80.2px,#862a74 0 81.9px,#a4306c 0 83.6px,#952c72 0 85.4px,#5f2874 0 88.8px,#9d2d70 0 90.5px,#8d2b73 0 92.2px,#862a74 0 93.9px,#2b1e54 0 95.6px,#321e5f 0 97.3px,#2f1e59 0 99.0px,#2b1e54 0 100.7px,#2f1e59 0 124.6px,#2b1e54 0 126.3px,#2f1e59 0 128.0px,#321e5f 0 129.7px,#2b1e54 0 131.4px,#2f1e59 0 133.1px,#321e5f 0 134.9px,#281e4e 0 136.6px,#2b1e54 0 138.3px,#2f1e59 0 140.0px,#321e5f 0 141.7px,#2b1e54 0 143.4px,#281e4e 0 145.1px,#2b1e54 0 148.5px,#281e4e 0 151.9px,#2b1e54 0 157.0px,#2f1e59 0 160.5px,#281e4e 0 162.2px,#2f1e59 0 163.9px,#321e5f 0 165.6px,#2b1e54 0 167.3px,#321e5f 0 169.0px,#281e4e 0 174.1px,#2f1e59 0 175.8px,#2b1e54 0 177.5px,#321e5f 0 179.2px,#2b1e54 0 182.6px,#2f1e59 0 186.1px,#2b1e54 0 187.8px,#281e4e 0 189.5px,#2f1e59 0 191.2px,#2b1e54 0 192.9px,#2f1e59 0 196.3px,#321e5f 0 198.0px,#2f1e59 0 199.7px,#2b1e54 0 201.4px,#321e5f 0 203.1px,#281e4e 0 204.8px,#2b1e54 0 206.5px,#f5ac28 0 208.3px,#e76b32 0 211.7px,#f39b21 0 213.4px,#f5a624 0 215.1px,#f39b21 0 216.8px,#f6b62f 0 218.5px,#f5a624 0 220.2px,#f18f24 0 221.9px,#ed8129 0 223.6px,#f18f24 0 225.3px,#f5a624 0 227.0px,#cf4756 0 228.7px,#f18f24 0 230.4px,#f39b21 0 232.2px,#eb792c 0 233.9px,#f08826 0 235.6px,#cf4756 0 237.3px,#eb792c 0 239.0px,#f5a624 0 240.7px,#e76b32 0 242.4px,#f4a121 0 244.1px,#f5a624 0 245.8px,#f6b62f 0 247.5px,#f08826 0 249.2px,#f5a624 0 250.9px,#cf4756 0 252.6px,#f5b12b 0 254.3px,#cf4756 0 256.1px,#2b1e54 0 257.8px,#2f1e59 0 260.9px)"></div><div style="top:51.02px;height:4.00px;background:linear-gradient(90deg,#321e5f 0 1.7px,#2b1e54 0 3.4px,#321e5f 0 5.1px,#2f1e59 0 6.8px,#2b1e54 0 8.5px,#2f1e59 0 10.2px,#321e5f 0 11.9px,#2b1e54 0 13.7px,#321e5f 0 15.4px,#2b1e54 0 17.1px,#321e5f 0 18.8px,#2b1e54 0 20.5px,#2f1e59 0 23.9px,#2b1e54 0 25.6px,#2f1e59 0 37.6px,#2b1e54 0 39.3px,#2f1e59 0 41.0px,#2b1e54 0 44.4px,#2f1e59 0 46.1px,#2b1e54 0 47.8px,#2f1e59 0 49.5px,#321e5f 0 51.2px,#8d2b73 0 52.9px,#7e2975 0 54.6px,#9d2d70 0 58.0px,#952c72 0 59.7px,#762876 0 61.5px,#862a74 0 63.2px,#952c72 0 64.9px,#8d2b73 0 66.6px,#862a74 0 68.3px,#5f2874 0 71.7px,#952c72 0 73.4px,#862a74 0 75.1px,#5f2874 0 76.8px,#862a74 0 78.5px,#8d2b73 0 80.2px,#952c72 0 81.9px,#862a74 0 83.6px,#a4306c 0 85.4px,#5f2874 0 87.1px,#762876 0 88.8px,#7e2975 0 90.5px,#762876 0 92.2px,#952c72 0 93.9px,#321e5f 0 95.6px,#2f1e59 0 97.3px,#321e5f 0 100.7px,#2f1e59 0 131.4px,#321e5f 0 134.9px,#391f64 0 136.6px,#2f1e59 0 138.3px,#321e5f 0 140.0px,#2f1e59 0 141.7px,#321e5f 0 145.1px,#2f1e59 0 146.8px,#321e5f 0 148.5px,#2b1e54 0 150.2px,#321e5f 0 151.9px,#2f1e59 0 153.6px,#2b1e54 0 155.3px,#321e5f 0 157.0px,#2f1e59 0 158.8px,#321e5f 0 162.2px,#391f64 0 163.9px,#2f1e59 0 165.6px,#2b1e54 0 167.3px,#2f1e59 0 170.7px,#321e5f 0 172.4px,#2b1e54 0 174.1px,#321e5f 0 175.8px,#2f1e59 0 177.5px,#321e5f 0 180.9px,#2b1e54 0 182.6px,#321e5f 0 186.1px,#2b1e54 0 187.8px,#321e5f 0 189.5px,#2f1e59 0 192.9px,#2b1e54 0 196.3px,#2f1e59 0 198.0px,#321e5f 0 203.1px,#2f1e59 0 204.8px,#321e5f 0 206.5px,#f4ee9a 0 210.0px,#ed8129 0 211.7px,#f5ac28 0 213.4px,#e76b32 0 215.1px,#f29522 0 216.8px,#f5ac28 0 218.5px,#f29522 0 220.2px,#e9712f 0 221.9px,#f4a121 0 223.6px,#f6b62f 0 225.3px,#f5a624 0 227.0px,#f4a121 0 228.7px,#f18f24 0 230.4px,#f29522 0 232.2px,#f18f24 0 233.9px,#f5ac28 0 235.6px,#f4a121 0 237.3px,#f18f24 0 239.0px,#ed8129 0 240.7px,#cf4756 0 242.4px,#e9712f 0 244.1px,#e46635 0 245.8px,#e76b32 0 247.5px,#ed8129 0 249.2px,#f18f24 0 250.9px,#e46635 0 252.6px,#eb792c 0 254.3px,#321e5f 0 259.5px,#391f64 0 260.9px)"></div><div style="top:54.42px;height:4.00px;background:linear-gradient(90deg,#321e5f 0 1.7px,#391f64 0 3.4px,#2f1e59 0 5.1px,#321e5f 0 10.2px,#391f64 0 15.4px,#321e5f 0 17.1px,#2f1e59 0 18.8px,#391f64 0 20.5px,#321e5f 0 23.9px,#2f1e59 0 27.3px,#391f64 0 29.0px,#321e5f 0 30.7px,#2f1e59 0 32.4px,#391f64 0 34.1px,#321e5f 0 35.8px,#2f1e59 0 37.6px,#321e5f 0 39.3px,#391f64 0 41.0px,#321e5f 0 42.7px,#391f64 0 44.4px,#321e5f 0 46.1px,#391f64 0 49.5px,#321e5f 0 51.2px,#952c72 0 52.9px,#7e2975 0 54.6px,#8d2b73 0 56.3px,#582773 0 58.0px,#9d2d70 0 59.7px,#582773 0 61.5px,#8d2b73 0 64.9px,#9d2d70 0 66.6px,#582773 0 68.3px,#321e5f 0 71.7px,#2f1e59 0 73.4px,#391f64 0 75.1px,#2f1e59 0 76.8px,#321e5f 0 80.2px,#391f64 0 81.9px,#2f1e59 0 87.1px,#321e5f 0 88.8px,#391f64 0 90.5px,#2f1e59 0 92.2px,#391f64 0 93.9px,#321e5f 0 95.6px,#391f64 0 97.3px,#2f1e59 0 100.7px,#321e5f 0 102.4px,#2f1e59 0 124.6px,#391f64 0 126.3px,#2f1e59 0 128.0px,#321e5f 0 131.4px,#391f64 0 133.1px,#321e5f 0 136.6px,#2f1e59 0 138.3px,#391f64 0 140.0px,#321e5f 0 145.1px,#2f1e59 0 146.8px,#391f64 0 148.5px,#321e5f 0 151.9px,#391f64 0 155.3px,#2f1e59 0 158.8px,#391f64 0 160.5px,#2f1e59 0 163.9px,#321e5f 0 165.6px,#391f64 0 167.3px,#2f1e59 0 169.0px,#391f64 0 170.7px,#2f1e59 0 174.1px,#391f64 0 175.8px,#321e5f 0 179.2px,#2f1e59 0 184.4px,#391f64 0 187.8px,#321e5f 0 189.5px,#2f1e59 0 191.2px,#391f64 0 192.9px,#321e5f 0 196.3px,#391f64 0 198.0px,#321e5f 0 199.7px,#391f64 0 201.4px,#2f1e59 0 203.1px,#321e5f 0 204.8px,#391f64 0 206.5px,#5f2874 0 208.3px,#762876 0 210.0px,#952c72 0 211.7px,#5f2874 0 213.4px,#862a74 0 215.1px,#762876 0 216.8px,#9d2d70 0 218.5px,#952c72 0 220.2px,#9d2d70 0 221.9px,#5f2874 0 223.6px,#762876 0 227.0px,#7e2975 0 228.7px,#862a74 0 230.4px,#5f2874 0 232.2px,#862a74 0 233.9px,#5f2874 0 235.6px,#762876 0 237.3px,#8d2b73 0 239.0px,#9d2d70 0 240.7px,#2f1e59 0 242.4px,#321e5f 0 244.1px,#391f64 0 245.8px,#2f1e59 0 249.2px,#321e5f 0 250.9px,#2f1e59 0 252.6px,#321e5f 0 254.3px,#2f1e59 0 256.1px,#321e5f 0 257.8px,#391f64 0 259.5px,#321e5f 0 260.9px)"></div><div style="top:57.82px;height:4.00px;background:linear-gradient(90deg,#2f1e59 0 1.7px,#321e5f 0 6.8px,#2b1e54 0 10.2px,#321e5f 0 11.9px,#2f1e59 0 13.7px,#2b1e54 0 15.4px,#2f1e59 0 17.1px,#321e5f 0 18.8px,#2f1e59 0 22.2px,#321e5f 0 27.3px,#2f1e59 0 29.0px,#2b1e54 0 32.4px,#321e5f 0 37.6px,#2f1e59 0 39.3px,#321e5f 0 41.0px,#2f1e59 0 42.7px,#2b1e54 0 44.4px,#2f1e59 0 46.1px,#321e5f 0 47.8px,#2b1e54 0 49.5px,#2f1e59 0 51.2px,#9d2d70 0 52.9px,#762876 0 54.6px,#9d2d70 0 56.3px,#862a74 0 58.0px,#762876 0 59.7px,#952c72 0 61.5px,#7e2975 0 63.2px,#8d2b73 0 64.9px,#762876 0 66.6px,#9d2d70 0 68.3px,#582773 0 70.0px,#6f2875 0 71.7px,#7e2975 0 73.4px,#8d2b73 0 75.1px,#582773 0 76.8px,#9d2d70 0 80.2px,#762876 0 83.6px,#8d2b73 0 85.4px,#582773 0 88.8px,#2f1e59 0 92.2px,#2b1e54 0 93.9px,#321e5f 0 95.6px,#2f1e59 0 97.3px,#2b1e54 0 100.7px,#2f1e59 0 126.3px,#321e5f 0 129.7px,#2f1e59 0 131.4px,#321e5f 0 133.1px,#2f1e59 0 134.9px,#2b1e54 0 136.6px,#321e5f 0 140.0px,#2f1e59 0 141.7px,#321e5f 0 146.8px,#2b1e54 0 150.2px,#2f1e59 0 151.9px,#2b1e54 0 155.3px,#321e5f 0 157.0px,#2f1e59 0 160.5px,#321e5f 0 167.3px,#2b1e54 0 169.0px,#2f1e59 0 175.8px,#321e5f 0 179.2px,#2f1e59 0 180.9px,#321e5f 0 182.6px,#2b1e54 0 184.4px,#321e5f 0 186.1px,#2f1e59 0 187.8px,#321e5f 0 189.5px,#2b1e54 0 192.9px,#321e5f 0 194.6px,#2f1e59 0 198.0px,#321e5f 0 199.7px,#2f1e59 0 201.4px,#2b1e54 0 203.1px,#321e5f 0 204.8px,#2b1e54 0 206.5px,#321e5f 0 208.3px,#f4a121 0 211.7px,#d95444 0 215.1px,#f39b21 0 216.8px,#f4a121 0 218.5px,#f5c63d 0 221.9px,#2b1e54 0 225.3px,#2f1e59 0 230.4px,#2b1e54 0 232.2px,#2f1e59 0 235.6px,#321e5f 0 237.3px,#2f1e59 0 239.0px,#2b1e54 0 244.1px,#321e5f 0 245.8px,#2f1e59 0 249.2px,#321e5f 0 252.6px,#2b1e54 0 254.3px,#321e5f 0 256.1px,#2f1e59 0 257.8px,#321e5f 0 260.9px)"></div><div style="top:61.22px;height:4.00px;background:linear-gradient(90deg,#2f1e59 0 1.7px,#321e5f 0 3.4px,#391f64 0 5.1px,#321e5f 0 6.8px,#391f64 0 8.5px,#2f1e59 0 10.2px,#321e5f 0 17.1px,#391f64 0 20.5px,#321e5f 0 23.9px,#2f1e59 0 25.6px,#391f64 0 30.7px,#2f1e59 0 32.4px,#321e5f 0 39.3px,#391f64 0 42.7px,#2f1e59 0 46.1px,#391f64 0 49.5px,#2f1e59 0 51.2px,#952c72 0 52.9px,#862a74 0 54.6px,#762876 0 56.3px,#862a74 0 59.7px,#6f2875 0 61.5px,#582773 0 63.2px,#6f2875 0 64.9px,#762876 0 68.3px,#862a74 0 70.0px,#6f2875 0 71.7px,#582773 0 75.1px,#7e2975 0 76.8px,#582773 0 78.5px,#9d2d70 0 80.2px,#6f2875 0 81.9px,#9d2d70 0 83.6px,#8d2b73 0 85.4px,#582773 0 87.1px,#7e2975 0 88.8px,#321e5f 0 90.5px,#391f64 0 93.9px,#321e5f 0 97.3px,#2f1e59 0 99.0px,#321e5f 0 102.4px,#2f1e59 0 124.6px,#391f64 0 126.3px,#321e5f 0 128.0px,#2f1e59 0 129.7px,#391f64 0 131.4px,#2f1e59 0 133.1px,#321e5f 0 143.4px,#2f1e59 0 145.1px,#321e5f 0 146.8px,#2f1e59 0 148.5px,#391f64 0 150.2px,#2f1e59 0 153.6px,#321e5f 0 155.3px,#391f64 0 157.0px,#2f1e59 0 158.8px,#391f64 0 163.9px,#2f1e59 0 165.6px,#391f64 0 167.3px,#321e5f 0 174.1px,#391f64 0 175.8px,#321e5f 0 177.5px,#391f64 0 179.2px,#321e5f 0 180.9px,#391f64 0 182.6px,#2f1e59 0 184.4px,#391f64 0 186.1px,#321e5f 0 189.5px,#2f1e59 0 191.2px,#391f64 0 194.6px,#2f1e59 0 196.3px,#321e5f 0 198.0px,#2f1e59 0 199.7px,#391f64 0 201.4px,#321e5f 0 208.3px,#c13e5d 0 210.0px,#e76b32 0 211.7px,#dd583e 0 213.4px,#e9712f 0 215.1px,#f29522 0 216.8px,#f39b21 0 218.5px,#dd583e 0 220.2px,#f18f24 0 221.9px,#c13e5d 0 223.6px,#f39b21 0 225.3px,#dd583e 0 227.0px,#e46635 0 228.7px,#f18f24 0 230.4px,#321e5f 0 232.2px,#391f64 0 233.9px,#2f1e59 0 237.3px,#391f64 0 240.7px,#2f1e59 0 242.4px,#321e5f 0 244.1px,#2f1e59 0 247.5px,#321e5f 0 250.9px,#391f64 0 252.6px,#321e5f 0 254.3px,#391f64 0 257.8px,#321e5f 0 259.5px,#2f1e59 0 260.9px)"></div><div style="top:64.62px;height:4.00px;background:linear-gradient(90deg,#2f1e59 0 5.1px,#391f64 0 8.5px,#321e5f 0 10.2px,#2f1e59 0 11.9px,#391f64 0 13.7px,#2f1e59 0 20.5px,#391f64 0 22.2px,#2b1e54 0 23.9px,#321e5f 0 25.6px,#2f1e59 0 29.0px,#391f64 0 32.4px,#2f1e59 0 39.3px,#2b1e54 0 41.0px,#2f1e59 0 42.7px,#321e5f 0 44.4px,#391f64 0 46.1px,#321e5f 0 49.5px,#391f64 0 51.2px,#8d2b73 0 52.9px,#582773 0 54.6px,#7e2975 0 56.3px,#6f2875 0 58.0px,#582773 0 59.7px,#9d2d70 0 61.5px,#762876 0 63.2px,#8d2b73 0 66.6px,#762876 0 68.3px,#8d2b73 0 70.0px,#6f2875 0 71.7px,#8d2b73 0 75.1px,#9d2d70 0 76.8px,#762876 0 78.5px,#952c72 0 80.2px,#862a74 0 85.4px,#7e2975 0 87.1px,#952c72 0 88.8px,#2f1e59 0 92.2px,#321e5f 0 93.9px,#2f1e59 0 95.6px,#321e5f 0 97.3px,#2b1e54 0 99.0px,#391f64 0 102.4px,#5f2874 0 104.1px,#3f1f69 0 105.8px,#5f2874 0 107.5px,#522471 0 109.2px,#3f1f69 0 111.0px,#672875 0 112.7px,#582773 0 114.4px,#6f2875 0 116.1px,#672875 0 117.8px,#5f2874 0 121.2px,#3f1f69 0 122.9px,#321e5f 0 124.6px,#2f1e59 0 126.3px,#321e5f 0 128.0px,#2f1e59 0 129.7px,#391f64 0 136.6px,#321e5f 0 138.3px,#2f1e59 0 140.0px,#321e5f 0 143.4px,#391f64 0 145.1px,#321e5f 0 146.8px,#391f64 0 148.5px,#2f1e59 0 150.2px,#321e5f 0 151.9px,#2f1e59 0 153.6px,#391f64 0 155.3px,#7e2975 0 157.0px,#862a74 0 158.8px,#952c72 0 160.5px,#862a74 0 162.2px,#6f2875 0 163.9px,#762876 0 165.6px,#522471 0 167.3px,#862a74 0 169.0px,#2f1e59 0 170.7px,#321e5f 0 174.1px,#391f64 0 175.8px,#321e5f 0 177.5px,#2f1e59 0 179.2px,#321e5f 0 180.9px,#2f1e59 0 182.6px,#321e5f 0 184.4px,#2f1e59 0 187.8px,#321e5f 0 189.5px,#2f1e59 0 192.9px,#321e5f 0 194.6px,#2f1e59 0 196.3px,#391f64 0 199.7px,#2f1e59 0 201.4px,#321e5f 0 203.1px,#2f1e59 0 204.8px,#391f64 0 206.5px,#321e5f 0 208.3px,#2f1e59 0 211.7px,#321e5f 0 213.4px,#391f64 0 216.8px,#321e5f 0 220.2px,#391f64 0 223.6px,#2f1e59 0 225.3px,#321e5f 0 232.2px,#2f1e59 0 233.9px,#391f64 0 235.6px,#2f1e59 0 237.3px,#391f64 0 239.0px,#2f1e59 0 240.7px,#391f64 0 242.4px,#321e5f 0 244.1px,#2f1e59 0 245.8px,#391f64 0 249.2px,#2f1e59 0 250.9px,#321e5f 0 256.1px,#2f1e59 0 257.8px,#321e5f 0 260.9px)"></div><div style="top:68.02px;height:4.00px;background:linear-gradient(90deg,#2b1e54 0 1.7px,#2f1e59 0 5.1px,#321e5f 0 10.2px,#2f1e59 0 20.5px,#321e5f 0 23.9px,#2f1e59 0 25.6px,#321e5f 0 27.3px,#2f1e59 0 29.0px,#2b1e54 0 30.7px,#321e5f 0 32.4px,#2f1e59 0 34.1px,#321e5f 0 35.8px,#2b1e54 0 37.6px,#2f1e59 0 41.0px,#321e5f 0 42.7px,#2f1e59 0 44.4px,#2b1e54 0 46.1px,#2f1e59 0 47.8px,#2b1e54 0 49.5px,#321e5f 0 51.2px,#2f1e59 0 52.9px,#2b1e54 0 54.6px,#7e2975 0 56.3px,#9d2d70 0 58.0px,#8d2b73 0 59.7px,#9d2d70 0 61.5px,#7e2975 0 63.2px,#582773 0 64.9px,#862a74 0 66.6px,#9d2d70 0 68.3px,#582773 0 70.0px,#762876 0 71.7px,#582773 0 73.4px,#7e2975 0 75.1px,#952c72 0 76.8px,#582773 0 78.5px,#8d2b73 0 80.2px,#7e2975 0 81.9px,#952c72 0 83.6px,#582773 0 85.4px,#8d2b73 0 87.1px,#762876 0 88.8px,#2b1e54 0 90.5px,#2f1e59 0 92.2px,#2b1e54 0 93.9px,#2f1e59 0 95.6px,#321e5f 0 99.0px,#2f1e59 0 100.7px,#321e5f 0 102.4px,#f29522 0 105.8px,#f5c63d 0 107.5px,#d95444 0 109.2px,#f5d553 0 111.0px,#f5a624 0 112.7px,#f4a121 0 114.4px,#f29522 0 116.1px,#d95444 0 117.8px,#f18f24 0 119.5px,#d95444 0 122.9px,#2f1e59 0 126.3px,#2b1e54 0 128.0px,#2f1e59 0 131.4px,#321e5f 0 133.1px,#2f1e59 0 136.6px,#2b1e54 0 140.0px,#2f1e59 0 141.7px,#321e5f 0 143.4px,#2b1e54 0 145.1px,#321e5f 0 146.8px,#2b1e54 0 148.5px,#2f1e59 0 150.2px,#321e5f 0 151.9px,#2b1e54 0 153.6px,#321e5f 0 155.3px,#e9712f 0 157.0px,#d34b50 0 158.8px,#a4306c 0 160.5px,#df5d3a 0 162.2px,#eb792c 0 163.9px,#e9712f 0 167.3px,#dd583e 0 169.0px,#e26237 0 170.7px,#321e5f 0 174.1px,#2f1e59 0 180.9px,#321e5f 0 182.6px,#2f1e59 0 184.4px,#321e5f 0 186.1px,#2b1e54 0 187.8px,#321e5f 0 189.5px,#2f1e59 0 191.2px,#321e5f 0 192.9px,#2f1e59 0 196.3px,#2b1e54 0 199.7px,#2f1e59 0 201.4px,#2b1e54 0 203.1px,#321e5f 0 208.3px,#2f1e59 0 210.0px,#321e5f 0 213.4px,#2b1e54 0 215.1px,#2f1e59 0 216.8px,#2b1e54 0 218.5px,#2f1e59 0 221.9px,#321e5f 0 223.6px,#2b1e54 0 225.3px,#2f1e59 0 227.0px,#321e5f 0 228.7px,#2f1e59 0 230.4px,#321e5f 0 232.2px,#2f1e59 0 233.9px,#321e5f 0 235.6px,#2b1e54 0 237.3px,#321e5f 0 239.0px,#2f1e59 0 240.7px,#2b1e54 0 244.1px,#321e5f 0 245.8px,#2b1e54 0 247.5px,#321e5f 0 249.2px,#2f1e59 0 250.9px,#321e5f 0 252.6px,#2f1e59 0 254.3px,#321e5f 0 260.9px)"></div><div style="top:71.42px;height:4.00px;background:linear-gradient(90deg,#2f1e59 0 1.7px,#321e5f 0 3.4px,#2f1e59 0 5.1px,#321e5f 0 6.8px,#2b1e54 0 8.5px,#2f1e59 0 10.2px,#321e5f 0 17.1px,#2f1e59 0 18.8px,#321e5f 0 20.5px,#391f64 0 22.2px,#321e5f 0 27.3px,#391f64 0 30.7px,#321e5f 0 32.4px,#2f1e59 0 34.1px,#2b1e54 0 35.8px,#2f1e59 0 37.6px,#2b1e54 0 39.3px,#321e5f 0 41.0px,#2f1e59 0 42.7px,#321e5f 0 44.4px,#2f1e59 0 46.1px,#321e5f 0 47.8px,#2f1e59 0 51.2px,#8d2b73 0 52.9px,#762876 0 54.6px,#5f2874 0 58.0px,#bb3960 0 59.7px,#df5d3a 0 61.5px,#5f2874 0 63.2px,#a4306c 0 64.9px,#762876 0 66.6px,#7e2975 0 68.3px,#5f2874 0 70.0px,#7e2975 0 71.7px,#8d2b73 0 73.4px,#5f2874 0 75.1px,#862a74 0 76.8px,#a4306c 0 78.5px,#8d2b73 0 80.2px,#5f2874 0 81.9px,#762876 0 83.6px,#862a74 0 85.4px,#5f2874 0 87.1px,#952c72 0 88.8px,#2f1e59 0 92.2px,#391f64 0 93.9px,#321e5f 0 99.0px,#2f1e59 0 102.4px,#321e5f 0 104.1px,#2f1e59 0 105.8px,#321e5f 0 107.5px,#2b1e54 0 109.2px,#2f1e59 0 111.0px,#321e5f 0 114.4px,#2b1e54 0 117.8px,#2f1e59 0 119.5px,#391f64 0 121.2px,#321e5f 0 122.9px,#391f64 0 124.6px,#2f1e59 0 126.3px,#391f64 0 128.0px,#2b1e54 0 129.7px,#2f1e59 0 131.4px,#321e5f 0 133.1px,#2f1e59 0 134.9px,#321e5f 0 136.6px,#2f1e59 0 138.3px,#321e5f 0 143.4px,#2f1e59 0 148.5px,#321e5f 0 150.2px,#2b1e54 0 153.6px,#ac3268 0 155.3px,#9d2d70 0 157.0px,#bb3960 0 158.8px,#9d2d70 0 160.5px,#952c72 0 162.2px,#6f2875 0 163.9px,#a4306c 0 165.6px,#bb3960 0 167.3px,#6f2875 0 169.0px,#bb3960 0 170.7px,#c84259 0 172.4px,#321e5f 0 174.1px,#2f1e59 0 177.5px,#321e5f 0 179.2px,#2f1e59 0 182.6px,#321e5f 0 184.4px,#2b1e54 0 186.1px,#2f1e59 0 187.8px,#321e5f 0 189.5px,#2f1e59 0 191.2px,#391f64 0 192.9px,#2f1e59 0 194.6px,#321e5f 0 196.3px,#391f64 0 198.0px,#2f1e59 0 201.4px,#2b1e54 0 203.1px,#321e5f 0 204.8px,#391f64 0 206.5px,#321e5f 0 211.7px,#2f1e59 0 216.8px,#321e5f 0 220.2px,#2b1e54 0 221.9px,#2f1e59 0 227.0px,#321e5f 0 230.4px,#2f1e59 0 233.9px,#391f64 0 237.3px,#2b1e54 0 239.0px,#321e5f 0 240.7px,#2f1e59 0 242.4px,#321e5f 0 244.1px,#391f64 0 245.8px,#321e5f 0 249.2px,#2b1e54 0 250.9px,#2f1e59 0 259.5px,#2b1e54 0 260.9px)"></div><div style="top:74.82px;height:4.00px;background:linear-gradient(90deg,#391f64 0 1.7px,#2f1e59 0 3.4px,#321e5f 0 6.8px,#2f1e59 0 13.7px,#2b1e54 0 15.4px,#391f64 0 17.1px,#2f1e59 0 20.5px,#2b1e54 0 22.2px,#2f1e59 0 23.9px,#2b1e54 0 25.6px,#321e5f 0 27.3px,#2f1e59 0 32.4px,#2b1e54 0 34.1px,#2f1e59 0 35.8px,#321e5f 0 37.6px,#2f1e59 0 41.0px,#321e5f 0 42.7px,#2f1e59 0 44.4px,#321e5f 0 49.5px,#2b1e54 0 51.2px,#6f2875 0 52.9px,#582773 0 54.6px,#952c72 0 56.3px,#862a74 0 58.0px,#582773 0 59.7px,#952c72 0 61.5px,#762876 0 64.9px,#582773 0 68.3px,#862a74 0 70.0px,#762876 0 71.7px,#8d2b73 0 75.1px,#9d2d70 0 78.5px,#862a74 0 80.2px,#6f2875 0 81.9px,#9d2d70 0 83.6px,#321e5f 0 85.4px,#2f1e59 0 87.1px,#321e5f 0 90.5px,#2f1e59 0 92.2px,#321e5f 0 93.9px,#2b1e54 0 95.6px,#2f1e59 0 99.0px,#321e5f 0 100.7px,#2f1e59 0 102.4px,#321e5f 0 105.8px,#391f64 0 109.2px,#321e5f 0 114.4px,#2f1e59 0 116.1px,#321e5f 0 119.5px,#2f1e59 0 121.2px,#321e5f 0 124.6px,#2f1e59 0 128.0px,#321e5f 0 129.7px,#2f1e59 0 131.4px,#2b1e54 0 133.1px,#321e5f 0 134.9px,#391f64 0 136.6px,#2b1e54 0 138.3px,#391f64 0 140.0px,#321e5f 0 141.7px,#2b1e54 0 143.4px,#2f1e59 0 148.5px,#391f64 0 151.9px,#321e5f 0 153.6px,#952c72 0 155.3px,#9d2d70 0 157.0px,#952c72 0 160.5px,#762876 0 162.2px,#7e2975 0 163.9px,#8d2b73 0 165.6px,#862a74 0 167.3px,#5f2874 0 169.0px,#762876 0 170.7px,#8d2b73 0 172.4px,#321e5f 0 174.1px,#2f1e59 0 175.8px,#2b1e54 0 177.5px,#2f1e59 0 179.2px,#321e5f 0 180.9px,#2f1e59 0 182.6px,#391f64 0 184.4px,#2f1e59 0 187.8px,#321e5f 0 191.2px,#2f1e59 0 192.9px,#2b1e54 0 194.6px,#321e5f 0 196.3px,#2b1e54 0 198.0px,#2f1e59 0 201.4px,#321e5f 0 203.1px,#2b1e54 0 204.8px,#2f1e59 0 210.0px,#321e5f 0 211.7px,#2f1e59 0 213.4px,#321e5f 0 215.1px,#2f1e59 0 221.9px,#321e5f 0 223.6px,#2f1e59 0 225.3px,#321e5f 0 227.0px,#2f1e59 0 230.4px,#321e5f 0 242.4px,#2f1e59 0 244.1px,#321e5f 0 245.8px,#2b1e54 0 247.5px,#391f64 0 249.2px,#321e5f 0 250.9px,#2f1e59 0 252.6px,#391f64 0 254.3px,#2f1e59 0 259.5px,#321e5f 0 260.9px)"></div><div style="top:78.22px;height:4.00px;background:linear-gradient(90deg,#321e5f 0 1.7px,#3f1f69 0 3.4px,#321e5f 0 5.1px,#391f64 0 6.8px,#321e5f 0 8.5px,#3f1f69 0 10.2px,#391f64 0 11.9px,#321e5f 0 13.7px,#3f1f69 0 17.1px,#321e5f 0 22.2px,#391f64 0 25.6px,#321e5f 0 27.3px,#391f64 0 29.0px,#3f1f69 0 30.7px,#321e5f 0 32.4px,#391f64 0 34.1px,#321e5f 0 37.6px,#391f64 0 44.4px,#3f1f69 0 46.1px,#391f64 0 47.8px,#3f1f69 0 49.5px,#391f64 0 51.2px,#9d2d70 0 52.9px,#952c72 0 54.6px,#5f2874 0 59.7px,#9d2d70 0 61.5px,#8d2b73 0 63.2px,#9d2d70 0 64.9px,#862a74 0 66.6px,#a4306c 0 68.3px,#7e2975 0 70.0px,#d6504a 0 71.7px,#e9712f 0 73.4px,#d95444 0 75.1px,#e26237 0 76.8px,#e9712f 0 78.5px,#d6504a 0 80.2px,#ed8129 0 81.9px,#d95444 0 83.6px,#391f64 0 88.8px,#3f1f69 0 90.5px,#391f64 0 92.2px,#321e5f 0 95.6px,#391f64 0 99.0px,#321e5f 0 100.7px,#391f64 0 104.1px,#3f1f69 0 105.8px,#391f64 0 107.5px,#321e5f 0 109.2px,#391f64 0 111.0px,#3f1f69 0 112.7px,#321e5f 0 114.4px,#3f1f69 0 116.1px,#391f64 0 119.5px,#321e5f 0 121.2px,#391f64 0 122.9px,#3f1f69 0 124.6px,#321e5f 0 128.0px,#391f64 0 133.1px,#321e5f 0 138.3px,#391f64 0 146.8px,#321e5f 0 148.5px,#3f1f69 0 150.2px,#391f64 0 151.9px,#3f1f69 0 153.6px,#8d2b73 0 155.3px,#5f2874 0 157.0px,#952c72 0 158.8px,#8d2b73 0 160.5px,#762876 0 162.2px,#8d2b73 0 163.9px,#a4306c 0 165.6px,#862a74 0 167.3px,#952c72 0 169.0px,#5f2874 0 170.7px,#7e2975 0 172.4px,#952c72 0 174.1px,#5f2874 0 175.8px,#952c72 0 177.5px,#391f64 0 179.2px,#321e5f 0 182.6px,#3f1f69 0 186.1px,#391f64 0 187.8px,#321e5f 0 189.5px,#391f64 0 191.2px,#3f1f69 0 194.6px,#321e5f 0 199.7px,#3f1f69 0 203.1px,#391f64 0 206.5px,#321e5f 0 213.4px,#391f64 0 215.1px,#321e5f 0 218.5px,#3f1f69 0 220.2px,#391f64 0 221.9px,#321e5f 0 223.6px,#3f1f69 0 225.3px,#391f64 0 233.9px,#3f1f69 0 235.6px,#391f64 0 240.7px,#3f1f69 0 242.4px,#391f64 0 245.8px,#321e5f 0 247.5px,#3f1f69 0 249.2px,#321e5f 0 250.9px,#391f64 0 252.6px,#321e5f 0 259.5px,#391f64 0 260.9px)"></div><div style="top:81.62px;height:4.00px;background:linear-gradient(90deg,#2f1e59 0 1.7px,#391f64 0 3.4px,#2f1e59 0 5.1px,#321e5f 0 6.8px,#2f1e59 0 10.2px,#321e5f 0 11.9px,#391f64 0 13.7px,#321e5f 0 17.1px,#2f1e59 0 23.9px,#2b1e54 0 25.6px,#321e5f 0 27.3px,#2b1e54 0 29.0px,#2f1e59 0 30.7px,#321e5f 0 34.1px,#2f1e59 0 37.6px,#321e5f 0 41.0px,#2f1e59 0 44.4px,#2b1e54 0 46.1px,#321e5f 0 47.8px,#2f1e59 0 51.2px,#522471 0 52.9px,#6f2875 0 54.6px,#762876 0 56.3px,#6f2875 0 58.0px,#762876 0 59.7px,#522471 0 61.5px,#762876 0 63.2px,#522471 0 64.9px,#8d2b73 0 66.6px,#762876 0 68.3px,#6f2875 0 70.0px,#862a74 0 75.1px,#522471 0 76.8px,#762876 0 78.5px,#952c72 0 80.2px,#6f2875 0 81.9px,#522471 0 83.6px,#391f64 0 88.8px,#2f1e59 0 90.5px,#2b1e54 0 92.2px,#2f1e59 0 93.9px,#321e5f 0 95.6px,#391f64 0 97.3px,#321e5f 0 99.0px,#391f64 0 100.7px,#2f1e59 0 104.1px,#321e5f 0 107.5px,#2f1e59 0 109.2px,#391f64 0 111.0px,#321e5f 0 112.7px,#2b1e54 0 114.4px,#2f1e59 0 119.5px,#391f64 0 121.2px,#321e5f 0 122.9px,#391f64 0 124.6px,#321e5f 0 131.4px,#2f1e59 0 133.1px,#391f64 0 134.9px,#321e5f 0 138.3px,#2f1e59 0 140.0px,#321e5f 0 141.7px,#2f1e59 0 143.4px,#321e5f 0 145.1px,#2f1e59 0 146.8px,#321e5f 0 150.2px,#391f64 0 151.9px,#321e5f 0 153.6px,#582773 0 155.3px,#6f2875 0 157.0px,#7e2975 0 158.8px,#8d2b73 0 160.5px,#862a74 0 162.2px,#9d2d70 0 163.9px,#8d2b73 0 165.6px,#6f2875 0 169.0px,#391f64 0 172.4px,#321e5f 0 174.1px,#391f64 0 175.8px,#321e5f 0 179.2px,#2f1e59 0 180.9px,#321e5f 0 182.6px,#2f1e59 0 184.4px,#321e5f 0 186.1px,#391f64 0 187.8px,#2f1e59 0 189.5px,#321e5f 0 191.2px,#2f1e59 0 199.7px,#321e5f 0 201.4px,#2b1e54 0 203.1px,#321e5f 0 204.8px,#2b1e54 0 206.5px,#2f1e59 0 208.3px,#391f64 0 210.0px,#2f1e59 0 215.1px,#321e5f 0 218.5px,#2f1e59 0 220.2px,#321e5f 0 223.6px,#391f64 0 225.3px,#2f1e59 0 227.0px,#321e5f 0 230.4px,#2f1e59 0 233.9px,#321e5f 0 239.0px,#2f1e59 0 240.7px,#321e5f 0 242.4px,#2f1e59 0 245.8px,#321e5f 0 249.2px,#2f1e59 0 250.9px,#391f64 0 252.6px,#321e5f 0 254.3px,#2f1e59 0 256.1px,#321e5f 0 259.5px,#2f1e59 0 260.9px)"></div><div style="top:85.03px;height:4.00px;background:linear-gradient(90deg,#2f1e59 0 1.7px,#321e5f 0 3.4px,#391f64 0 8.5px,#2f1e59 0 11.9px,#321e5f 0 13.7px,#391f64 0 15.4px,#321e5f 0 18.8px,#391f64 0 20.5px,#2f1e59 0 22.2px,#321e5f 0 23.9px,#2f1e59 0 25.6px,#321e5f 0 29.0px,#2f1e59 0 30.7px,#321e5f 0 34.1px,#2f1e59 0 35.8px,#391f64 0 37.6px,#2f1e59 0 39.3px,#321e5f 0 47.8px,#391f64 0 51.2px,#8d2b73 0 52.9px,#952c72 0 56.3px,#762876 0 58.0px,#9d2d70 0 59.7px,#862a74 0 61.5px,#952c72 0 63.2px,#862a74 0 64.9px,#6f2875 0 66.6px,#862a74 0 68.3px,#8d2b73 0 70.0px,#522471 0 71.7px,#952c72 0 73.4px,#862a74 0 75.1px,#6f2875 0 76.8px,#522471 0 80.2px,#6f2875 0 81.9px,#762876 0 83.6px,#391f64 0 87.1px,#2f1e59 0 88.8px,#321e5f 0 95.6px,#391f64 0 102.4px,#321e5f 0 104.1px,#2f1e59 0 105.8px,#391f64 0 107.5px,#321e5f 0 114.4px,#391f64 0 116.1px,#321e5f 0 119.5px,#2f1e59 0 121.2px,#391f64 0 122.9px,#321e5f 0 124.6px,#2f1e59 0 126.3px,#321e5f 0 128.0px,#391f64 0 129.7px,#2f1e59 0 131.4px,#391f64 0 134.9px,#321e5f 0 136.6px,#2f1e59 0 138.3px,#321e5f 0 140.0px,#391f64 0 141.7px,#321e5f 0 146.8px,#391f64 0 148.5px,#2f1e59 0 150.2px,#321e5f 0 151.9px,#391f64 0 153.6px,#321e5f 0 155.3px,#c13e5d 0 157.0px,#e9712f 0 158.8px,#ed8129 0 160.5px,#e76b32 0 162.2px,#f29522 0 163.9px,#f08826 0 165.6px,#e26237 0 167.3px,#e46635 0 169.0px,#f4e98c 0 170.7px,#f4ee9a 0 172.4px,#f29522 0 174.1px,#c13e5d 0 177.5px,#dd583e 0 179.2px,#ed8129 0 180.9px,#dd583e 0 182.6px,#c13e5d 0 184.4px,#f08826 0 186.1px,#df5d3a 0 187.8px,#e26237 0 189.5px,#df5d3a 0 191.2px,#2f1e59 0 194.6px,#391f64 0 196.3px,#2f1e59 0 201.4px,#321e5f 0 203.1px,#2f1e59 0 204.8px,#391f64 0 210.0px,#2f1e59 0 211.7px,#321e5f 0 213.4px,#391f64 0 215.1px,#2f1e59 0 216.8px,#391f64 0 218.5px,#2f1e59 0 221.9px,#321e5f 0 223.6px,#2f1e59 0 225.3px,#391f64 0 227.0px,#2f1e59 0 228.7px,#391f64 0 230.4px,#321e5f 0 232.2px,#2f1e59 0 235.6px,#321e5f 0 240.7px,#2f1e59 0 242.4px,#321e5f 0 244.1px,#391f64 0 247.5px,#2f1e59 0 249.2px,#321e5f 0 250.9px,#391f64 0 252.6px,#2f1e59 0 254.3px,#391f64 0 256.1px,#2f1e59 0 257.8px,#321e5f 0 259.5px,#2f1e59 0 260.9px)"></div><div style="top:88.43px;height:4.00px;background:linear-gradient(90deg,#3f1f69 0 3.4px,#391f64 0 8.5px,#321e5f 0 10.2px,#3f1f69 0 15.4px,#391f64 0 17.1px,#321e5f 0 18.8px,#391f64 0 22.2px,#321e5f 0 23.9px,#391f64 0 32.4px,#321e5f 0 34.1px,#391f64 0 39.3px,#3f1f69 0 41.0px,#391f64 0 42.7px,#3f1f69 0 46.1px,#321e5f 0 47.8px,#391f64 0 49.5px,#3f1f69 0 51.2px,#391f64 0 52.9px,#321e5f 0 54.6px,#391f64 0 61.5px,#321e5f 0 63.2px,#391f64 0 64.9px,#321e5f 0 68.3px,#3f1f69 0 71.7px,#391f64 0 73.4px,#321e5f 0 75.1px,#3f1f69 0 76.8px,#391f64 0 81.9px,#3f1f69 0 85.4px,#391f64 0 87.1px,#321e5f 0 88.8px,#3f1f69 0 90.5px,#321e5f 0 92.2px,#391f64 0 93.9px,#321e5f 0 95.6px,#3f1f69 0 104.1px,#cf4756 0 107.5px,#f39b21 0 111.0px,#cf4756 0 112.7px,#f29522 0 114.4px,#eb792c 0 116.1px,#ed8129 0 117.8px,#f08826 0 119.5px,#ed8129 0 121.2px,#f5ac28 0 122.9px,#7e2975 0 124.6px,#9d2d70 0 126.3px,#8d2b73 0 128.0px,#5f2874 0 129.7px,#9d2d70 0 131.4px,#8d2b73 0 133.1px,#862a74 0 134.9px,#762876 0 136.6px,#3f1f69 0 138.3px,#321e5f 0 140.0px,#391f64 0 141.7px,#3f1f69 0 143.4px,#391f64 0 145.1px,#3f1f69 0 146.8px,#321e5f 0 150.2px,#391f64 0 151.9px,#3f1f69 0 153.6px,#391f64 0 155.3px,#a4306c 0 157.0px,#862a74 0 158.8px,#d95444 0 160.5px,#f08826 0 162.2px,#f39b21 0 163.9px,#952c72 0 165.6px,#a4306c 0 167.3px,#7e2975 0 170.7px,#5f2874 0 174.1px,#862a74 0 175.8px,#7e2975 0 177.5px,#3f1f69 0 179.2px,#391f64 0 180.9px,#3f1f69 0 182.6px,#321e5f 0 184.4px,#3f1f69 0 186.1px,#321e5f 0 187.8px,#3f1f69 0 192.9px,#321e5f 0 194.6px,#391f64 0 196.3px,#3f1f69 0 198.0px,#391f64 0 201.4px,#3f1f69 0 204.8px,#391f64 0 208.3px,#3f1f69 0 210.0px,#321e5f 0 211.7px,#3f1f69 0 213.4px,#391f64 0 215.1px,#3f1f69 0 220.2px,#321e5f 0 221.9px,#3f1f69 0 223.6px,#391f64 0 230.4px,#321e5f 0 233.9px,#391f64 0 235.6px,#3f1f69 0 237.3px,#391f64 0 239.0px,#321e5f 0 240.7px,#391f64 0 242.4px,#321e5f 0 247.5px,#3f1f69 0 249.2px,#391f64 0 256.1px,#3f1f69 0 257.8px,#391f64 0 259.5px,#3f1f69 0 260.9px)"></div><div style="top:91.83px;height:4.00px;background:linear-gradient(90deg,#321e5f 0 3.4px,#2f1e59 0 10.2px,#2b1e54 0 11.9px,#2f1e59 0 13.7px,#321e5f 0 15.4px,#2f1e59 0 17.1px,#321e5f 0 20.5px,#2f1e59 0 25.6px,#321e5f 0 27.3px,#391f64 0 30.7px,#321e5f 0 34.1px,#2f1e59 0 35.8px,#2b1e54 0 37.6px,#321e5f 0 39.3px,#2f1e59 0 41.0px,#2b1e54 0 42.7px,#321e5f 0 44.4px,#2b1e54 0 46.1px,#2f1e59 0 49.5px,#2b1e54 0 51.2px,#321e5f 0 58.0px,#2f1e59 0 63.2px,#321e5f 0 64.9px,#2b1e54 0 68.3px,#321e5f 0 70.0px,#2f1e59 0 71.7px,#2b1e54 0 73.4px,#321e5f 0 78.5px,#2f1e59 0 80.2px,#321e5f 0 81.9px,#2f1e59 0 83.6px,#321e5f 0 85.4px,#2f1e59 0 87.1px,#321e5f 0 88.8px,#2b1e54 0 92.2px,#2f1e59 0 93.9px,#321e5f 0 95.6px,#2f1e59 0 99.0px,#321e5f 0 100.7px,#2f1e59 0 104.1px,#9d2d70 0 105.8px,#7e2975 0 107.5px,#9d2d70 0 109.2px,#7e2975 0 111.0px,#952c72 0 112.7px,#9d2d70 0 114.4px,#5f2874 0 116.1px,#9d2d70 0 117.8px,#7e2975 0 119.5px,#5f2874 0 121.2px,#952c72 0 122.9px,#5f2874 0 124.6px,#9d2d70 0 126.3px,#a4306c 0 128.0px,#952c72 0 133.1px,#9d2d70 0 134.9px,#7e2975 0 138.3px,#952c72 0 140.0px,#2f1e59 0 143.4px,#321e5f 0 145.1px,#2f1e59 0 146.8px,#2b1e54 0 148.5px,#391f64 0 150.2px,#321e5f 0 151.9px,#2f1e59 0 153.6px,#391f64 0 155.3px,#862a74 0 157.0px,#a4306c 0 158.8px,#5f2874 0 160.5px,#952c72 0 162.2px,#8d2b73 0 163.9px,#e26237 0 165.6px,#f29522 0 167.3px,#c13e5d 0 170.7px,#9d2d70 0 172.4px,#952c72 0 174.1px,#a4306c 0 175.8px,#862a74 0 177.5px,#8d2b73 0 179.2px,#862a74 0 182.6px,#7e2975 0 184.4px,#5f2874 0 186.1px,#7e2975 0 187.8px,#862a74 0 189.5px,#321e5f 0 192.9px,#391f64 0 194.6px,#2b1e54 0 196.3px,#321e5f 0 198.0px,#2b1e54 0 199.7px,#321e5f 0 203.1px,#2b1e54 0 204.8px,#2f1e59 0 206.5px,#2b1e54 0 208.3px,#321e5f 0 210.0px,#2b1e54 0 211.7px,#2f1e59 0 213.4px,#391f64 0 215.1px,#321e5f 0 216.8px,#2b1e54 0 218.5px,#321e5f 0 223.6px,#2f1e59 0 227.0px,#321e5f 0 228.7px,#2f1e59 0 232.2px,#321e5f 0 233.9px,#391f64 0 235.6px,#2f1e59 0 237.3px,#321e5f 0 240.7px,#2b1e54 0 247.5px,#321e5f 0 250.9px,#2f1e59 0 252.6px,#2b1e54 0 256.1px,#391f64 0 257.8px,#321e5f 0 259.5px,#2f1e59 0 260.9px)"></div><div style="top:95.23px;height:4.00px;background:linear-gradient(90deg,#281e4e 0 3.4px,#2b1e54 0 5.1px,#2f1e59 0 6.8px,#281e4e 0 13.7px,#2b1e54 0 20.5px,#281e4e 0 22.2px,#2f1e59 0 23.9px,#2b1e54 0 29.0px,#281e4e 0 30.7px,#2b1e54 0 32.4px,#251d43 0 34.1px,#2b1e54 0 35.8px,#281e4e 0 39.3px,#2b1e54 0 42.7px,#281e4e 0 44.4px,#251d43 0 46.1px,#2b1e54 0 49.5px,#281e4e 0 51.2px,#251d43 0 52.9px,#281e4e 0 59.7px,#2b1e54 0 61.5px,#2f1e59 0 63.2px,#2b1e54 0 64.9px,#2f1e59 0 66.6px,#2b1e54 0 68.3px,#251d43 0 70.0px,#2f1e59 0 71.7px,#2b1e54 0 76.8px,#281e4e 0 78.5px,#2b1e54 0 81.9px,#251d43 0 83.6px,#281e4e 0 85.4px,#2f1e59 0 87.1px,#2b1e54 0 88.8px,#281e4e 0 90.5px,#2b1e54 0 93.9px,#251d43 0 95.6px,#281e4e 0 100.7px,#2b1e54 0 102.4px,#281e4e 0 104.1px,#862a74 0 107.5px,#7e2975 0 109.2px,#8d2b73 0 111.0px,#7e2975 0 112.7px,#8d2b73 0 114.4px,#862a74 0 116.1px,#9d2d70 0 117.8px,#862a74 0 119.5px,#f18f24 0 121.2px,#f08826 0 122.9px,#582773 0 124.6px,#8d2b73 0 126.3px,#582773 0 128.0px,#8d2b73 0 129.7px,#862a74 0 131.4px,#582773 0 133.1px,#862a74 0 136.6px,#251d43 0 138.3px,#2f1e59 0 140.0px,#2b1e54 0 143.4px,#281e4e 0 145.1px,#2b1e54 0 146.8px,#251d43 0 148.5px,#281e4e 0 155.3px,#8d2b73 0 157.0px,#5f2874 0 160.5px,#a4306c 0 162.2px,#762876 0 163.9px,#9d2d70 0 165.6px,#762876 0 167.3px,#862a74 0 169.0px,#7e2975 0 170.7px,#9d2d70 0 172.4px,#a4306c 0 174.1px,#762876 0 175.8px,#281e4e 0 179.2px,#2b1e54 0 180.9px,#251d43 0 182.6px,#2b1e54 0 184.4px,#251d43 0 186.1px,#281e4e 0 187.8px,#2b1e54 0 189.5px,#251d43 0 191.2px,#2b1e54 0 194.6px,#281e4e 0 196.3px,#2f1e59 0 198.0px,#281e4e 0 199.7px,#251d43 0 201.4px,#2b1e54 0 203.1px,#281e4e 0 208.3px,#2b1e54 0 210.0px,#251d43 0 215.1px,#2b1e54 0 216.8px,#251d43 0 218.5px,#2b1e54 0 223.6px,#251d43 0 227.0px,#2b1e54 0 228.7px,#281e4e 0 230.4px,#2b1e54 0 237.3px,#281e4e 0 239.0px,#2b1e54 0 240.7px,#251d43 0 242.4px,#281e4e 0 244.1px,#251d43 0 245.8px,#2b1e54 0 247.5px,#281e4e 0 250.9px,#2b1e54 0 256.1px,#251d43 0 257.8px,#281e4e 0 260.9px)"></div><div style="top:98.63px;height:4.00px;background:linear-gradient(90deg,#321e5f 0 1.7px,#2b1e54 0 5.1px,#2f1e59 0 6.8px,#2b1e54 0 8.5px,#321e5f 0 10.2px,#2f1e59 0 11.9px,#2b1e54 0 13.7px,#2f1e59 0 22.2px,#321e5f 0 25.6px,#2b1e54 0 27.3px,#2f1e59 0 29.0px,#2b1e54 0 35.8px,#281e4e 0 39.3px,#2b1e54 0 44.4px,#321e5f 0 46.1px,#2f1e59 0 49.5px,#2b1e54 0 52.9px,#321e5f 0 54.6px,#2f1e59 0 56.3px,#2b1e54 0 59.7px,#2f1e59 0 61.5px,#2b1e54 0 63.2px,#2f1e59 0 64.9px,#2b1e54 0 66.6px,#281e4e 0 68.3px,#2f1e59 0 71.7px,#2b1e54 0 73.4px,#2f1e59 0 75.1px,#281e4e 0 76.8px,#2b1e54 0 78.5px,#281e4e 0 80.2px,#2b1e54 0 87.1px,#2f1e59 0 92.2px,#281e4e 0 93.9px,#2f1e59 0 95.6px,#281e4e 0 99.0px,#321e5f 0 100.7px,#2b1e54 0 104.1px,#5f2874 0 105.8px,#a4306c 0 107.5px,#9d2d70 0 109.2px,#5f2874 0 111.0px,#7e2975 0 112.7px,#9d2d70 0 114.4px,#952c72 0 116.1px,#762876 0 117.8px,#a4306c 0 121.2px,#762876 0 122.9px,#9d2d70 0 124.6px,#8d2b73 0 126.3px,#5f2874 0 128.0px,#a4306c 0 129.7px,#862a74 0 131.4px,#a4306c 0 133.1px,#9d2d70 0 134.9px,#a4306c 0 136.6px,#5f2874 0 138.3px,#8d2b73 0 140.0px,#2f1e59 0 141.7px,#281e4e 0 143.4px,#2f1e59 0 146.8px,#2b1e54 0 148.5px,#2f1e59 0 151.9px,#281e4e 0 153.6px,#762876 0 155.3px,#c13e5d 0 157.0px,#c84259 0 158.8px,#9d2d70 0 160.5px,#c13e5d 0 163.9px,#c84259 0 165.6px,#9d2d70 0 167.3px,#a4306c 0 169.0px,#762876 0 172.4px,#ac3268 0 174.1px,#cf4756 0 175.8px,#762876 0 177.5px,#9d2d70 0 179.2px,#762876 0 180.9px,#c13e5d 0 182.6px,#762876 0 184.4px,#c13e5d 0 186.1px,#c84259 0 187.8px,#762876 0 189.5px,#2f1e59 0 191.2px,#321e5f 0 192.9px,#2f1e59 0 194.6px,#281e4e 0 196.3px,#2b1e54 0 198.0px,#281e4e 0 199.7px,#2b1e54 0 203.1px,#321e5f 0 206.5px,#2f1e59 0 208.3px,#2b1e54 0 211.7px,#2f1e59 0 213.4px,#2b1e54 0 215.1px,#321e5f 0 216.8px,#2f1e59 0 218.5px,#2b1e54 0 221.9px,#321e5f 0 223.6px,#2b1e54 0 227.0px,#2f1e59 0 233.9px,#2b1e54 0 235.6px,#2f1e59 0 237.3px,#321e5f 0 239.0px,#2b1e54 0 240.7px,#2f1e59 0 242.4px,#321e5f 0 244.1px,#2f1e59 0 245.8px,#281e4e 0 247.5px,#2f1e59 0 250.9px,#2b1e54 0 254.3px,#321e5f 0 256.1px,#2f1e59 0 259.5px,#281e4e 0 260.9px)"></div><div style="top:102.03px;height:4.00px;background:linear-gradient(90deg,#3f1f69 0 1.7px,#321e5f 0 3.4px,#3f1f69 0 10.2px,#391f64 0 11.9px,#3f1f69 0 13.7px,#391f64 0 15.4px,#3f1f69 0 17.1px,#321e5f 0 22.2px,#3f1f69 0 25.6px,#321e5f 0 27.3px,#391f64 0 29.0px,#321e5f 0 32.4px,#391f64 0 34.1px,#321e5f 0 37.6px,#3f1f69 0 39.3px,#391f64 0 42.7px,#3f1f69 0 47.8px,#321e5f 0 49.5px,#3f1f69 0 51.2px,#391f64 0 52.9px,#3f1f69 0 54.6px,#391f64 0 56.3px,#3f1f69 0 58.0px,#321e5f 0 66.6px,#391f64 0 71.7px,#3f1f69 0 73.4px,#391f64 0 75.1px,#3f1f69 0 80.2px,#321e5f 0 81.9px,#391f64 0 87.1px,#3f1f69 0 88.8px,#391f64 0 95.6px,#3f1f69 0 97.3px,#391f64 0 100.7px,#3f1f69 0 104.1px,#762876 0 105.8px,#9d2d70 0 107.5px,#862a74 0 111.0px,#582773 0 112.7px,#952c72 0 114.4px,#762876 0 116.1px,#582773 0 117.8px,#6f2875 0 119.5px,#582773 0 121.2px,#9d2d70 0 122.9px,#582773 0 124.6px,#862a74 0 126.3px,#762876 0 128.0px,#9d2d70 0 129.7px,#6f2875 0 131.4px,#582773 0 133.1px,#862a74 0 134.9px,#8d2b73 0 136.6px,#391f64 0 138.3px,#321e5f 0 140.0px,#3f1f69 0 141.7px,#321e5f 0 143.4px,#391f64 0 145.1px,#3f1f69 0 148.5px,#391f64 0 155.3px,#3f1f69 0 157.0px,#5f2874 0 158.8px,#762876 0 160.5px,#7e2975 0 162.2px,#5f2874 0 163.9px,#9d2d70 0 165.6px,#5f2874 0 167.3px,#7e2975 0 169.0px,#a4306c 0 170.7px,#8d2b73 0 172.4px,#5f2874 0 174.1px,#7e2975 0 175.8px,#762876 0 177.5px,#9d2d70 0 179.2px,#321e5f 0 182.6px,#391f64 0 184.4px,#3f1f69 0 186.1px,#321e5f 0 187.8px,#391f64 0 194.6px,#321e5f 0 196.3px,#391f64 0 198.0px,#321e5f 0 199.7px,#3f1f69 0 201.4px,#391f64 0 203.1px,#321e5f 0 204.8px,#3f1f69 0 206.5px,#391f64 0 208.3px,#3f1f69 0 211.7px,#391f64 0 213.4px,#321e5f 0 216.8px,#391f64 0 218.5px,#3f1f69 0 220.2px,#391f64 0 221.9px,#3f1f69 0 223.6px,#321e5f 0 225.3px,#3f1f69 0 227.0px,#321e5f 0 228.7px,#391f64 0 235.6px,#3f1f69 0 237.3px,#391f64 0 239.0px,#321e5f 0 240.7px,#3f1f69 0 242.4px,#391f64 0 244.1px,#321e5f 0 245.8px,#3f1f69 0 249.2px,#391f64 0 250.9px,#3f1f69 0 252.6px,#391f64 0 254.3px,#3f1f69 0 260.9px)"></div><div style="top:105.43px;height:4.00px;background:linear-gradient(90deg,#2b1e54 0 1.7px,#2f1e59 0 5.1px,#391f64 0 8.5px,#321e5f 0 11.9px,#2f1e59 0 15.4px,#321e5f 0 17.1px,#2f1e59 0 18.8px,#321e5f 0 20.5px,#2f1e59 0 22.2px,#321e5f 0 23.9px,#2f1e59 0 29.0px,#321e5f 0 30.7px,#2f1e59 0 32.4px,#2b1e54 0 34.1px,#391f64 0 35.8px,#321e5f 0 37.6px,#2f1e59 0 39.3px,#2b1e54 0 41.0px,#2f1e59 0 42.7px,#321e5f 0 47.8px,#391f64 0 49.5px,#2f1e59 0 51.2px,#321e5f 0 52.9px,#2b1e54 0 56.3px,#2f1e59 0 58.0px,#391f64 0 59.7px,#321e5f 0 68.3px,#2f1e59 0 70.0px,#321e5f 0 71.7px,#2f1e59 0 73.4px,#2b1e54 0 75.1px,#321e5f 0 80.2px,#2f1e59 0 88.8px,#2b1e54 0 90.5px,#2f1e59 0 92.2px,#2b1e54 0 93.9px,#2f1e59 0 95.6px,#391f64 0 97.3px,#321e5f 0 99.0px,#2b1e54 0 100.7px,#321e5f 0 102.4px,#2f1e59 0 104.1px,#321e5f 0 105.8px,#2f1e59 0 107.5px,#321e5f 0 111.0px,#2f1e59 0 112.7px,#321e5f 0 114.4px,#2f1e59 0 116.1px,#321e5f 0 119.5px,#2f1e59 0 121.2px,#2b1e54 0 122.9px,#2f1e59 0 124.6px,#321e5f 0 128.0px,#2f1e59 0 129.7px,#321e5f 0 133.1px,#2f1e59 0 134.9px,#321e5f 0 140.0px,#2f1e59 0 141.7px,#321e5f 0 143.4px,#391f64 0 145.1px,#321e5f 0 146.8px,#2b1e54 0 148.5px,#2f1e59 0 150.2px,#2b1e54 0 151.9px,#321e5f 0 153.6px,#862a74 0 155.3px,#582773 0 157.0px,#9d2d70 0 158.8px,#862a74 0 160.5px,#952c72 0 162.2px,#8d2b73 0 163.9px,#582773 0 167.3px,#7e2975 0 169.0px,#321e5f 0 170.7px,#2f1e59 0 172.4px,#321e5f 0 175.8px,#2b1e54 0 177.5px,#321e5f 0 179.2px,#2f1e59 0 184.4px,#2b1e54 0 187.8px,#321e5f 0 191.2px,#2f1e59 0 192.9px,#2b1e54 0 196.3px,#321e5f 0 198.0px,#2b1e54 0 201.4px,#2f1e59 0 203.1px,#321e5f 0 206.5px,#2f1e59 0 208.3px,#321e5f 0 210.0px,#2b1e54 0 211.7px,#2f1e59 0 213.4px,#321e5f 0 215.1px,#2f1e59 0 216.8px,#321e5f 0 220.2px,#2f1e59 0 221.9px,#321e5f 0 223.6px,#2b1e54 0 225.3px,#321e5f 0 230.4px,#2b1e54 0 232.2px,#321e5f 0 233.9px,#2f1e59 0 235.6px,#321e5f 0 237.3px,#391f64 0 239.0px,#321e5f 0 245.8px,#2b1e54 0 247.5px,#321e5f 0 249.2px,#2b1e54 0 252.6px,#321e5f 0 254.3px,#2f1e59 0 257.8px,#321e5f 0 259.5px,#2f1e59 0 260.9px)"></div><div style="top:108.83px;height:4.00px;background:linear-gradient(90deg,#391f64 0 1.7px,#321e5f 0 3.4px,#2b1e54 0 6.8px,#321e5f 0 8.5px,#2f1e59 0 10.2px,#321e5f 0 20.5px,#391f64 0 22.2px,#2f1e59 0 23.9px,#321e5f 0 25.6px,#2f1e59 0 27.3px,#391f64 0 29.0px,#2f1e59 0 34.1px,#391f64 0 35.8px,#2f1e59 0 37.6px,#391f64 0 39.3px,#2f1e59 0 44.4px,#391f64 0 46.1px,#2f1e59 0 49.5px,#391f64 0 51.2px,#2f1e59 0 52.9px,#391f64 0 54.6px,#2f1e59 0 58.0px,#391f64 0 59.7px,#2b1e54 0 61.5px,#2f1e59 0 63.2px,#321e5f 0 66.6px,#2f1e59 0 68.3px,#391f64 0 70.0px,#2f1e59 0 73.4px,#391f64 0 76.8px,#2b1e54 0 78.5px,#321e5f 0 81.9px,#2f1e59 0 83.6px,#321e5f 0 88.8px,#2b1e54 0 90.5px,#391f64 0 92.2px,#321e5f 0 93.9px,#391f64 0 95.6px,#2f1e59 0 97.3px,#321e5f 0 99.0px,#391f64 0 100.7px,#321e5f 0 104.1px,#391f64 0 105.8px,#2f1e59 0 107.5px,#321e5f 0 109.2px,#2f1e59 0 111.0px,#321e5f 0 116.1px,#2f1e59 0 121.2px,#321e5f 0 124.6px,#391f64 0 126.3px,#321e5f 0 129.7px,#2f1e59 0 131.4px,#321e5f 0 133.1px,#2f1e59 0 134.9px,#321e5f 0 136.6px,#2f1e59 0 138.3px,#321e5f 0 140.0px,#2f1e59 0 143.4px,#391f64 0 145.1px,#2f1e59 0 153.6px,#582773 0 157.0px,#952c72 0 158.8px,#7e2975 0 160.5px,#6f2875 0 162.2px,#9d2d70 0 163.9px,#582773 0 167.3px,#7e2975 0 169.0px,#321e5f 0 170.7px,#2f1e59 0 172.4px,#321e5f 0 175.8px,#2f1e59 0 177.5px,#391f64 0 179.2px,#2f1e59 0 182.6px,#321e5f 0 184.4px,#2f1e59 0 189.5px,#321e5f 0 191.2px,#391f64 0 194.6px,#2f1e59 0 196.3px,#321e5f 0 198.0px,#2f1e59 0 201.4px,#391f64 0 204.8px,#2f1e59 0 206.5px,#391f64 0 208.3px,#2b1e54 0 210.0px,#2f1e59 0 211.7px,#321e5f 0 213.4px,#2f1e59 0 218.5px,#391f64 0 221.9px,#2f1e59 0 225.3px,#391f64 0 227.0px,#321e5f 0 232.2px,#391f64 0 233.9px,#2f1e59 0 235.6px,#321e5f 0 239.0px,#2f1e59 0 247.5px,#321e5f 0 249.2px,#2f1e59 0 250.9px,#321e5f 0 252.6px,#2f1e59 0 254.3px,#321e5f 0 256.1px,#391f64 0 259.5px,#321e5f 0 260.9px)"></div><div style="top:112.23px;height:4.00px;background:linear-gradient(90deg,#2f1e59 0 1.7px,#391f64 0 6.8px,#3f1f69 0 8.5px,#321e5f 0 10.2px,#391f64 0 11.9px,#2f1e59 0 13.7px,#321e5f 0 15.4px,#391f64 0 18.8px,#321e5f 0 20.5px,#391f64 0 22.2px,#321e5f 0 23.9px,#391f64 0 25.6px,#3f1f69 0 27.3px,#391f64 0 29.0px,#2f1e59 0 30.7px,#3f1f69 0 32.4px,#321e5f 0 34.1px,#391f64 0 35.8px,#321e5f 0 37.6px,#391f64 0 41.0px,#321e5f 0 42.7px,#391f64 0 44.4px,#321e5f 0 47.8px,#391f64 0 49.5px,#3f1f69 0 51.2px,#2f1e59 0 52.9px,#391f64 0 54.6px,#3f1f69 0 56.3px,#321e5f 0 59.7px,#3f1f69 0 63.2px,#321e5f 0 64.9px,#391f64 0 66.6px,#2f1e59 0 68.3px,#321e5f 0 70.0px,#391f64 0 73.4px,#321e5f 0 76.8px,#3f1f69 0 78.5px,#391f64 0 80.2px,#321e5f 0 81.9px,#2f1e59 0 83.6px,#391f64 0 85.4px,#3f1f69 0 87.1px,#391f64 0 88.8px,#321e5f 0 92.2px,#391f64 0 93.9px,#321e5f 0 97.3px,#3f1f69 0 99.0px,#391f64 0 100.7px,#3f1f69 0 102.4px,#2f1e59 0 104.1px,#321e5f 0 105.8px,#391f64 0 107.5px,#321e5f 0 112.7px,#2f1e59 0 114.4px,#321e5f 0 116.1px,#391f64 0 119.5px,#321e5f 0 121.2px,#391f64 0 122.9px,#3f1f69 0 124.6px,#2f1e59 0 126.3px,#321e5f 0 128.0px,#391f64 0 129.7px,#321e5f 0 136.6px,#3f1f69 0 138.3px,#321e5f 0 141.7px,#391f64 0 143.4px,#3f1f69 0 145.1px,#321e5f 0 146.8px,#391f64 0 148.5px,#321e5f 0 151.9px,#3f1f69 0 155.3px,#f08826 0 157.0px,#f5a624 0 158.8px,#ed8129 0 160.5px,#d6504a 0 162.2px,#f4a121 0 163.9px,#f18f24 0 165.6px,#f29522 0 167.3px,#f6be35 0 169.0px,#eb792c 0 170.7px,#f5a624 0 172.4px,#391f64 0 175.8px,#321e5f 0 177.5px,#3f1f69 0 179.2px,#321e5f 0 180.9px,#2f1e59 0 182.6px,#391f64 0 184.4px,#321e5f 0 186.1px,#391f64 0 187.8px,#321e5f 0 189.5px,#391f64 0 192.9px,#321e5f 0 194.6px,#391f64 0 196.3px,#321e5f 0 198.0px,#391f64 0 201.4px,#321e5f 0 203.1px,#3f1f69 0 204.8px,#321e5f 0 206.5px,#391f64 0 208.3px,#3f1f69 0 210.0px,#321e5f 0 211.7px,#3f1f69 0 213.4px,#391f64 0 216.8px,#3f1f69 0 218.5px,#2f1e59 0 220.2px,#321e5f 0 221.9px,#2f1e59 0 223.6px,#321e5f 0 227.0px,#391f64 0 228.7px,#321e5f 0 230.4px,#391f64 0 232.2px,#2f1e59 0 233.9px,#391f64 0 235.6px,#2f1e59 0 237.3px,#391f64 0 239.0px,#321e5f 0 244.1px,#2f1e59 0 245.8px,#3f1f69 0 247.5px,#321e5f 0 249.2px,#2f1e59 0 250.9px,#321e5f 0 252.6px,#3f1f69 0 257.8px,#391f64 0 260.9px)"></div><div style="top:115.63px;height:4.00px;background:linear-gradient(90deg,#2f1e59 0 5.1px,#321e5f 0 6.8px,#2b1e54 0 8.5px,#2f1e59 0 11.9px,#321e5f 0 13.7px,#2f1e59 0 27.3px,#2b1e54 0 29.0px,#2f1e59 0 32.4px,#2b1e54 0 34.1px,#2f1e59 0 35.8px,#2b1e54 0 39.3px,#321e5f 0 41.0px,#2b1e54 0 42.7px,#2f1e59 0 44.4px,#2b1e54 0 47.8px,#321e5f 0 49.5px,#2f1e59 0 51.2px,#281e4e 0 52.9px,#2f1e59 0 56.3px,#2b1e54 0 59.7px,#2f1e59 0 64.9px,#2b1e54 0 66.6px,#281e4e 0 68.3px,#2b1e54 0 70.0px,#321e5f 0 71.7px,#2b1e54 0 73.4px,#2f1e59 0 75.1px,#2b1e54 0 78.5px,#2f1e59 0 80.2px,#2b1e54 0 83.6px,#281e4e 0 85.4px,#2f1e59 0 87.1px,#321e5f 0 88.8px,#2b1e54 0 90.5px,#281e4e 0 93.9px,#2f1e59 0 95.6px,#2b1e54 0 100.7px,#2f1e59 0 102.4px,#2b1e54 0 104.1px,#672875 0 105.8px,#391f64 0 107.5px,#582773 0 109.2px,#522471 0 112.7px,#672875 0 114.4px,#522471 0 116.1px,#e76b32 0 117.8px,#dd583e 0 119.5px,#b43464 0 121.2px,#eb792c 0 122.9px,#522471 0 124.6px,#2b1e54 0 126.3px,#281e4e 0 128.0px,#2f1e59 0 129.7px,#321e5f 0 131.4px,#2f1e59 0 133.1px,#321e5f 0 134.9px,#2f1e59 0 140.0px,#2b1e54 0 141.7px,#321e5f 0 143.4px,#2f1e59 0 146.8px,#321e5f 0 148.5px,#2f1e59 0 151.9px,#2b1e54 0 153.6px,#2f1e59 0 155.3px,#2b1e54 0 158.8px,#321e5f 0 160.5px,#2b1e54 0 162.2px,#321e5f 0 165.6px,#2f1e59 0 167.3px,#2b1e54 0 169.0px,#281e4e 0 170.7px,#2f1e59 0 172.4px,#321e5f 0 174.1px,#2b1e54 0 175.8px,#2f1e59 0 179.2px,#2b1e54 0 180.9px,#2f1e59 0 184.4px,#2b1e54 0 186.1px,#281e4e 0 187.8px,#2f1e59 0 189.5px,#2b1e54 0 192.9px,#281e4e 0 194.6px,#2b1e54 0 199.7px,#2f1e59 0 201.4px,#2b1e54 0 203.1px,#2f1e59 0 206.5px,#2b1e54 0 208.3px,#2f1e59 0 211.7px,#2b1e54 0 213.4px,#281e4e 0 215.1px,#2b1e54 0 216.8px,#281e4e 0 218.5px,#2f1e59 0 221.9px,#2b1e54 0 227.0px,#281e4e 0 228.7px,#2f1e59 0 235.6px,#2b1e54 0 237.3px,#2f1e59 0 240.7px,#321e5f 0 242.4px,#2b1e54 0 245.8px,#321e5f 0 247.5px,#2b1e54 0 249.2px,#321e5f 0 250.9px,#2f1e59 0 252.6px,#321e5f 0 254.3px,#2b1e54 0 256.1px,#2f1e59 0 257.8px,#2b1e54 0 260.9px)"></div><div style="top:119.03px;height:4.00px;background:linear-gradient(90deg,#3f1f69 0 3.4px,#391f64 0 5.1px,#321e5f 0 8.5px,#3f1f69 0 10.2px,#391f64 0 13.7px,#321e5f 0 15.4px,#3f1f69 0 17.1px,#391f64 0 18.8px,#321e5f 0 20.5px,#3f1f69 0 23.9px,#391f64 0 27.3px,#3f1f69 0 30.7px,#391f64 0 32.4px,#3f1f69 0 34.1px,#391f64 0 35.8px,#321e5f 0 37.6px,#391f64 0 39.3px,#321e5f 0 41.0px,#391f64 0 49.5px,#3f1f69 0 51.2px,#862a74 0 52.9px,#762876 0 54.6px,#6f2875 0 56.3px,#582773 0 58.0px,#952c72 0 59.7px,#7e2975 0 61.5px,#862a74 0 63.2px,#762876 0 64.9px,#9d2d70 0 66.6px,#582773 0 68.3px,#9d2d70 0 70.0px,#862a74 0 71.7px,#582773 0 75.1px,#7e2975 0 76.8px,#582773 0 80.2px,#8d2b73 0 81.9px,#762876 0 83.6px,#7e2975 0 85.4px,#762876 0 87.1px,#7e2975 0 88.8px,#391f64 0 90.5px,#3f1f69 0 92.2px,#321e5f 0 93.9px,#3f1f69 0 95.6px,#391f64 0 97.3px,#321e5f 0 99.0px,#3f1f69 0 100.7px,#391f64 0 102.4px,#321e5f 0 104.1px,#391f64 0 109.2px,#7e2975 0 111.0px,#762876 0 112.7px,#522471 0 114.4px,#862a74 0 116.1px,#7e2975 0 117.8px,#6f2875 0 119.5px,#862a74 0 122.9px,#391f64 0 126.3px,#321e5f 0 128.0px,#391f64 0 129.7px,#3f1f69 0 131.4px,#391f64 0 133.1px,#3f1f69 0 134.9px,#321e5f 0 140.0px,#3f1f69 0 141.7px,#321e5f 0 145.1px,#3f1f69 0 146.8px,#321e5f 0 148.5px,#3f1f69 0 150.2px,#391f64 0 151.9px,#3f1f69 0 155.3px,#321e5f 0 157.0px,#391f64 0 158.8px,#321e5f 0 163.9px,#391f64 0 167.3px,#321e5f 0 169.0px,#391f64 0 170.7px,#3f1f69 0 174.1px,#321e5f 0 179.2px,#3f1f69 0 180.9px,#391f64 0 184.4px,#321e5f 0 186.1px,#391f64 0 187.8px,#3f1f69 0 192.9px,#391f64 0 194.6px,#3f1f69 0 196.3px,#321e5f 0 198.0px,#391f64 0 201.4px,#321e5f 0 203.1px,#3f1f69 0 210.0px,#321e5f 0 215.1px,#391f64 0 218.5px,#321e5f 0 220.2px,#3f1f69 0 221.9px,#391f64 0 225.3px,#3f1f69 0 230.4px,#391f64 0 232.2px,#3f1f69 0 239.0px,#391f64 0 240.7px,#3f1f69 0 245.8px,#391f64 0 247.5px,#321e5f 0 249.2px,#3f1f69 0 250.9px,#391f64 0 252.6px,#3f1f69 0 259.5px,#391f64 0 260.9px)"></div><div style="top:122.44px;height:4.00px;background:linear-gradient(90deg,#281e4e 0 3.4px,#2b1e54 0 6.8px,#2f1e59 0 8.5px,#281e4e 0 13.7px,#2b1e54 0 15.4px,#281e4e 0 17.1px,#2b1e54 0 18.8px,#281e4e 0 25.6px,#2b1e54 0 30.7px,#2f1e59 0 32.4px,#281e4e 0 34.1px,#2b1e54 0 35.8px,#2f1e59 0 37.6px,#281e4e 0 39.3px,#2b1e54 0 41.0px,#281e4e 0 42.7px,#2b1e54 0 44.4px,#251d43 0 46.1px,#2b1e54 0 51.2px,#952c72 0 52.9px,#5f2874 0 54.6px,#862a74 0 56.3px,#a4306c 0 58.0px,#952c72 0 59.7px,#a4306c 0 61.5px,#5f2874 0 68.3px,#7e2975 0 70.0px,#e9712f 0 71.7px,#a4306c 0 73.4px,#862a74 0 75.1px,#9d2d70 0 76.8px,#7e2975 0 78.5px,#a4306c 0 80.2px,#7e2975 0 81.9px,#5f2874 0 87.1px,#9d2d70 0 88.8px,#281e4e 0 90.5px,#2f1e59 0 92.2px,#2b1e54 0 93.9px,#281e4e 0 97.3px,#2b1e54 0 99.0px,#281e4e 0 100.7px,#2b1e54 0 102.4px,#281e4e 0 105.8px,#2b1e54 0 107.5px,#251d43 0 109.2px,#f4a121 0 111.0px,#eb792c 0 112.7px,#f5a624 0 114.4px,#f39b21 0 116.1px,#c13e5d 0 117.8px,#f08826 0 119.5px,#c13e5d 0 121.2px,#e46635 0 122.9px,#f4da62 0 124.6px,#f4ee9a 0 126.3px,#f6be35 0 128.0px,#2b1e54 0 136.6px,#281e4e 0 140.0px,#2b1e54 0 146.8px,#2f1e59 0 148.5px,#281e4e 0 151.9px,#251d43 0 153.6px,#2b1e54 0 155.3px,#2f1e59 0 157.0px,#281e4e 0 160.5px,#2f1e59 0 162.2px,#281e4e 0 163.9px,#2b1e54 0 165.6px,#251d43 0 167.3px,#2f1e59 0 169.0px,#2b1e54 0 170.7px,#251d43 0 172.4px,#281e4e 0 177.5px,#251d43 0 180.9px,#2b1e54 0 182.6px,#251d43 0 184.4px,#2f1e59 0 186.1px,#251d43 0 187.8px,#281e4e 0 189.5px,#2f1e59 0 191.2px,#281e4e 0 192.9px,#2b1e54 0 196.3px,#281e4e 0 199.7px,#2f1e59 0 201.4px,#281e4e 0 203.1px,#2b1e54 0 204.8px,#251d43 0 206.5px,#2b1e54 0 210.0px,#281e4e 0 211.7px,#2b1e54 0 213.4px,#251d43 0 215.1px,#2b1e54 0 220.2px,#2f1e59 0 221.9px,#281e4e 0 225.3px,#2b1e54 0 227.0px,#281e4e 0 230.4px,#251d43 0 232.2px,#2b1e54 0 233.9px,#2f1e59 0 235.6px,#2b1e54 0 237.3px,#281e4e 0 242.4px,#2b1e54 0 249.2px,#281e4e 0 252.6px,#2b1e54 0 257.8px,#281e4e 0 259.5px,#2b1e54 0 260.9px)"></div><div style="top:125.84px;height:4.00px;background:linear-gradient(90deg,#281e4e 0 5.1px,#2f1e59 0 11.9px,#281e4e 0 13.7px,#2b1e54 0 17.1px,#281e4e 0 20.5px,#2b1e54 0 23.9px,#281e4e 0 29.0px,#2f1e59 0 30.7px,#2b1e54 0 32.4px,#2f1e59 0 34.1px,#2b1e54 0 37.6px,#281e4e 0 39.3px,#2f1e59 0 42.7px,#281e4e 0 44.4px,#2b1e54 0 46.1px,#281e4e 0 47.8px,#2b1e54 0 51.2px,#862a74 0 52.9px,#5f2874 0 56.3px,#a4306c 0 58.0px,#df5d3a 0 59.7px,#f5d553 0 61.5px,#9d2d70 0 63.2px,#762876 0 64.9px,#5f2874 0 66.6px,#7e2975 0 68.3px,#f5c63d 0 70.0px,#f5b12b 0 71.7px,#5f2874 0 76.8px,#8d2b73 0 78.5px,#7e2975 0 80.2px,#9d2d70 0 83.6px,#8d2b73 0 85.4px,#a4306c 0 87.1px,#5f2874 0 88.8px,#281e4e 0 92.2px,#2f1e59 0 93.9px,#281e4e 0 95.6px,#2b1e54 0 97.3px,#281e4e 0 99.0px,#2b1e54 0 102.4px,#2f1e59 0 104.1px,#862a74 0 105.8px,#9d2d70 0 107.5px,#952c72 0 109.2px,#9d2d70 0 111.0px,#862a74 0 114.4px,#5f2874 0 116.1px,#8d2b73 0 117.8px,#5f2874 0 119.5px,#762876 0 121.2px,#7e2975 0 122.9px,#281e4e 0 124.6px,#2b1e54 0 126.3px,#2f1e59 0 128.0px,#2b1e54 0 129.7px,#281e4e 0 131.4px,#2b1e54 0 133.1px,#2f1e59 0 134.9px,#281e4e 0 136.6px,#2b1e54 0 138.3px,#2f1e59 0 140.0px,#2b1e54 0 141.7px,#281e4e 0 143.4px,#2b1e54 0 150.2px,#2f1e59 0 151.9px,#281e4e 0 153.6px,#2f1e59 0 155.3px,#281e4e 0 157.0px,#2b1e54 0 158.8px,#281e4e 0 162.2px,#2b1e54 0 167.3px,#281e4e 0 170.7px,#2b1e54 0 174.1px,#281e4e 0 175.8px,#2f1e59 0 182.6px,#2b1e54 0 184.4px,#2f1e59 0 187.8px,#2b1e54 0 191.2px,#2f1e59 0 196.3px,#281e4e 0 198.0px,#2f1e59 0 199.7px,#281e4e 0 204.8px,#2b1e54 0 206.5px,#281e4e 0 208.3px,#2b1e54 0 210.0px,#281e4e 0 211.7px,#2b1e54 0 213.4px,#2f1e59 0 215.1px,#2b1e54 0 218.5px,#281e4e 0 220.2px,#2b1e54 0 223.6px,#2f1e59 0 225.3px,#2b1e54 0 227.0px,#2f1e59 0 232.2px,#281e4e 0 233.9px,#2f1e59 0 237.3px,#2b1e54 0 239.0px,#2f1e59 0 247.5px,#2b1e54 0 249.2px,#2f1e59 0 252.6px,#281e4e 0 254.3px,#2b1e54 0 257.8px,#2f1e59 0 260.9px)"></div><div style="top:129.24px;height:4.00px;background:linear-gradient(90deg,#2f1e59 0 1.7px,#321e5f 0 3.4px,#391f64 0 5.1px,#321e5f 0 11.9px,#391f64 0 13.7px,#321e5f 0 15.4px,#391f64 0 17.1px,#321e5f 0 20.5px,#391f64 0 23.9px,#321e5f 0 27.3px,#391f64 0 30.7px,#321e5f 0 32.4px,#2f1e59 0 34.1px,#321e5f 0 37.6px,#391f64 0 41.0px,#321e5f 0 42.7px,#391f64 0 44.4px,#2f1e59 0 51.2px,#5f2874 0 52.9px,#862a74 0 54.6px,#5f2874 0 56.3px,#a4306c 0 58.0px,#eb792c 0 59.7px,#f08826 0 61.5px,#7e2975 0 63.2px,#8d2b73 0 64.9px,#a4306c 0 66.6px,#762876 0 68.3px,#862a74 0 70.0px,#391f64 0 71.7px,#321e5f 0 75.1px,#391f64 0 81.9px,#321e5f 0 83.6px,#2f1e59 0 85.4px,#321e5f 0 90.5px,#2f1e59 0 92.2px,#321e5f 0 93.9px,#2f1e59 0 100.7px,#391f64 0 104.1px,#321e5f 0 105.8px,#e76b32 0 107.5px,#f5c63d 0 109.2px,#f5cf45 0 112.7px,#f4da62 0 114.4px,#f5b12b 0 116.1px,#f4e98c 0 117.8px,#f4e070 0 119.5px,#f4e98c 0 121.2px,#f4e070 0 122.9px,#321e5f 0 124.6px,#2f1e59 0 126.3px,#391f64 0 129.7px,#2f1e59 0 131.4px,#321e5f 0 136.6px,#2f1e59 0 140.0px,#391f64 0 143.4px,#321e5f 0 145.1px,#391f64 0 146.8px,#321e5f 0 148.5px,#2f1e59 0 150.2px,#391f64 0 151.9px,#321e5f 0 158.8px,#2f1e59 0 160.5px,#391f64 0 165.6px,#321e5f 0 172.4px,#391f64 0 174.1px,#321e5f 0 175.8px,#391f64 0 177.5px,#321e5f 0 179.2px,#391f64 0 180.9px,#2f1e59 0 182.6px,#321e5f 0 186.1px,#2f1e59 0 187.8px,#391f64 0 191.2px,#321e5f 0 192.9px,#2f1e59 0 194.6px,#391f64 0 199.7px,#321e5f 0 201.4px,#2f1e59 0 203.1px,#321e5f 0 204.8px,#391f64 0 206.5px,#2f1e59 0 211.7px,#391f64 0 213.4px,#2f1e59 0 216.8px,#391f64 0 218.5px,#2f1e59 0 221.9px,#321e5f 0 233.9px,#2f1e59 0 235.6px,#391f64 0 237.3px,#321e5f 0 240.7px,#391f64 0 242.4px,#321e5f 0 244.1px,#391f64 0 247.5px,#321e5f 0 250.9px,#2f1e59 0 252.6px,#321e5f 0 256.1px,#2f1e59 0 257.8px,#391f64 0 259.5px,#321e5f 0 260.9px)"></div><div style="top:132.64px;height:4.00px;background:linear-gradient(90deg,#391f64 0 1.7px,#2f1e59 0 3.4px,#321e5f 0 5.1px,#2f1e59 0 6.8px,#391f64 0 10.2px,#321e5f 0 11.9px,#391f64 0 13.7px,#3f1f69 0 15.4px,#391f64 0 17.1px,#321e5f 0 20.5px,#391f64 0 22.2px,#321e5f 0 25.6px,#391f64 0 27.3px,#2f1e59 0 29.0px,#321e5f 0 30.7px,#391f64 0 32.4px,#321e5f 0 35.8px,#391f64 0 44.4px,#321e5f 0 46.1px,#391f64 0 47.8px,#321e5f 0 49.5px,#391f64 0 51.2px,#762876 0 52.9px,#522471 0 54.6px,#7e2975 0 56.3px,#762876 0 58.0px,#6f2875 0 59.7px,#522471 0 61.5px,#862a74 0 63.2px,#522471 0 64.9px,#8d2b73 0 66.6px,#522471 0 68.3px,#7e2975 0 70.0px,#391f64 0 75.1px,#321e5f 0 76.8px,#391f64 0 78.5px,#321e5f 0 80.2px,#391f64 0 81.9px,#321e5f 0 83.6px,#2f1e59 0 85.4px,#391f64 0 93.9px,#321e5f 0 95.6px,#391f64 0 99.0px,#321e5f 0 102.4px,#2f1e59 0 104.1px,#391f64 0 105.8px,#3f1f69 0 107.5px,#391f64 0 109.2px,#321e5f 0 111.0px,#2f1e59 0 112.7px,#391f64 0 116.1px,#321e5f 0 117.8px,#391f64 0 119.5px,#321e5f 0 122.9px,#391f64 0 124.6px,#321e5f 0 126.3px,#391f64 0 133.1px,#321e5f 0 134.9px,#2f1e59 0 136.6px,#3f1f69 0 140.0px,#391f64 0 143.4px,#321e5f 0 146.8px,#391f64 0 148.5px,#321e5f 0 151.9px,#391f64 0 153.6px,#321e5f 0 155.3px,#391f64 0 157.0px,#321e5f 0 158.8px,#3f1f69 0 160.5px,#2f1e59 0 162.2px,#321e5f 0 163.9px,#3f1f69 0 165.6px,#321e5f 0 167.3px,#391f64 0 169.0px,#321e5f 0 170.7px,#391f64 0 172.4px,#2f1e59 0 174.1px,#391f64 0 186.1px,#321e5f 0 187.8px,#391f64 0 192.9px,#321e5f 0 194.6px,#391f64 0 198.0px,#321e5f 0 199.7px,#391f64 0 201.4px,#321e5f 0 206.5px,#391f64 0 213.4px,#2f1e59 0 215.1px,#321e5f 0 216.8px,#391f64 0 218.5px,#321e5f 0 221.9px,#2f1e59 0 223.6px,#321e5f 0 225.3px,#391f64 0 228.7px,#321e5f 0 233.9px,#391f64 0 237.3px,#321e5f 0 240.7px,#391f64 0 242.4px,#321e5f 0 244.1px,#391f64 0 247.5px,#2f1e59 0 249.2px,#391f64 0 254.3px,#321e5f 0 257.8px,#391f64 0 259.5px,#321e5f 0 260.9px)"></div><div style="top:136.04px;height:4.00px;background:linear-gradient(90deg,#2b1e54 0 1.7px,#251d43 0 3.4px,#281e4e 0 10.2px,#2f1e59 0 11.9px,#251d43 0 13.7px,#281e4e 0 17.1px,#2f1e59 0 18.8px,#281e4e 0 20.5px,#2b1e54 0 22.2px,#2f1e59 0 23.9px,#2b1e54 0 25.6px,#2f1e59 0 29.0px,#2b1e54 0 35.8px,#281e4e 0 39.3px,#2b1e54 0 42.7px,#2f1e59 0 44.4px,#281e4e 0 46.1px,#2b1e54 0 51.2px,#8d2b73 0 52.9px,#522471 0 54.6px,#8d2b73 0 56.3px,#672875 0 58.0px,#862a74 0 59.7px,#762876 0 61.5px,#952c72 0 63.2px,#862a74 0 64.9px,#762876 0 66.6px,#952c72 0 68.3px,#8d2b73 0 70.0px,#281e4e 0 71.7px,#251d43 0 73.4px,#281e4e 0 76.8px,#251d43 0 78.5px,#281e4e 0 80.2px,#2b1e54 0 81.9px,#281e4e 0 85.4px,#2f1e59 0 87.1px,#281e4e 0 88.8px,#2b1e54 0 93.9px,#281e4e 0 97.3px,#251d43 0 99.0px,#2f1e59 0 100.7px,#2b1e54 0 104.1px,#281e4e 0 114.4px,#251d43 0 116.1px,#2b1e54 0 117.8px,#251d43 0 119.5px,#281e4e 0 121.2px,#2b1e54 0 122.9px,#2f1e59 0 124.6px,#2b1e54 0 126.3px,#2f1e59 0 128.0px,#281e4e 0 131.4px,#2b1e54 0 133.1px,#281e4e 0 136.6px,#251d43 0 138.3px,#2f1e59 0 140.0px,#251d43 0 141.7px,#281e4e 0 143.4px,#2b1e54 0 145.1px,#2f1e59 0 146.8px,#281e4e 0 148.5px,#2b1e54 0 151.9px,#251d43 0 153.6px,#281e4e 0 157.0px,#2b1e54 0 158.8px,#251d43 0 160.5px,#281e4e 0 162.2px,#2b1e54 0 163.9px,#281e4e 0 165.6px,#2f1e59 0 167.3px,#251d43 0 169.0px,#2f1e59 0 170.7px,#281e4e 0 172.4px,#251d43 0 174.1px,#2b1e54 0 175.8px,#281e4e 0 177.5px,#2b1e54 0 179.2px,#281e4e 0 180.9px,#2b1e54 0 184.4px,#281e4e 0 186.1px,#2f1e59 0 187.8px,#2b1e54 0 189.5px,#2f1e59 0 191.2px,#2b1e54 0 192.9px,#281e4e 0 199.7px,#2b1e54 0 203.1px,#281e4e 0 204.8px,#2b1e54 0 206.5px,#281e4e 0 208.3px,#2f1e59 0 210.0px,#281e4e 0 211.7px,#2b1e54 0 213.4px,#281e4e 0 215.1px,#2b1e54 0 221.9px,#281e4e 0 223.6px,#2b1e54 0 225.3px,#281e4e 0 227.0px,#251d43 0 228.7px,#2b1e54 0 232.2px,#281e4e 0 233.9px,#251d43 0 235.6px,#2b1e54 0 237.3px,#2f1e59 0 239.0px,#281e4e 0 240.7px,#2b1e54 0 242.4px,#281e4e 0 245.8px,#251d43 0 247.5px,#2b1e54 0 250.9px,#281e4e 0 252.6px,#251d43 0 254.3px,#281e4e 0 256.1px,#251d43 0 257.8px,#281e4e 0 259.5px,#251d43 0 260.9px)"></div><div style="top:139.44px;height:4.00px;background:linear-gradient(90deg,#2f1e59 0 3.4px,#2b1e54 0 6.8px,#321e5f 0 8.5px,#2b1e54 0 10.2px,#2f1e59 0 11.9px,#2b1e54 0 17.1px,#321e5f 0 22.2px,#2b1e54 0 23.9px,#321e5f 0 29.0px,#2b1e54 0 30.7px,#321e5f 0 32.4px,#2f1e59 0 34.1px,#321e5f 0 37.6px,#2b1e54 0 39.3px,#2f1e59 0 41.0px,#321e5f 0 42.7px,#2f1e59 0 44.4px,#2b1e54 0 46.1px,#2f1e59 0 47.8px,#2b1e54 0 49.5px,#321e5f 0 51.2px,#6f2875 0 52.9px,#3f1f69 0 54.6px,#5f2874 0 56.3px,#582773 0 59.7px,#3f1f69 0 61.5px,#582773 0 63.2px,#3f1f69 0 66.6px,#5f2874 0 71.7px,#522471 0 73.4px,#672875 0 76.8px,#2b1e54 0 78.5px,#321e5f 0 83.6px,#2f1e59 0 85.4px,#321e5f 0 87.1px,#2b1e54 0 88.8px,#2f1e59 0 90.5px,#321e5f 0 92.2px,#2f1e59 0 95.6px,#321e5f 0 100.7px,#2f1e59 0 104.1px,#321e5f 0 105.8px,#2b1e54 0 107.5px,#2f1e59 0 116.1px,#321e5f 0 117.8px,#2b1e54 0 119.5px,#321e5f 0 121.2px,#2f1e59 0 122.9px,#321e5f 0 126.3px,#2b1e54 0 128.0px,#2f1e59 0 131.4px,#321e5f 0 133.1px,#2b1e54 0 134.9px,#321e5f 0 136.6px,#2f1e59 0 138.3px,#321e5f 0 143.4px,#2f1e59 0 146.8px,#2b1e54 0 150.2px,#321e5f 0 158.8px,#2f1e59 0 160.5px,#2b1e54 0 162.2px,#2f1e59 0 165.6px,#321e5f 0 167.3px,#2f1e59 0 169.0px,#2b1e54 0 170.7px,#2f1e59 0 172.4px,#2b1e54 0 175.8px,#321e5f 0 177.5px,#2f1e59 0 179.2px,#2b1e54 0 180.9px,#321e5f 0 184.4px,#2f1e59 0 187.8px,#2b1e54 0 189.5px,#321e5f 0 196.3px,#2f1e59 0 198.0px,#321e5f 0 199.7px,#2f1e59 0 201.4px,#321e5f 0 203.1px,#2f1e59 0 204.8px,#2b1e54 0 208.3px,#2f1e59 0 211.7px,#2b1e54 0 215.1px,#2f1e59 0 218.5px,#321e5f 0 221.9px,#2b1e54 0 223.6px,#321e5f 0 225.3px,#2b1e54 0 227.0px,#2f1e59 0 228.7px,#321e5f 0 230.4px,#2b1e54 0 232.2px,#321e5f 0 233.9px,#2f1e59 0 237.3px,#2b1e54 0 239.0px,#2f1e59 0 242.4px,#321e5f 0 245.8px,#2f1e59 0 247.5px,#321e5f 0 250.9px,#2f1e59 0 254.3px,#321e5f 0 257.8px,#2f1e59 0 259.5px,#321e5f 0 260.9px)"></div><div style="top:142.84px;height:4.00px;background:linear-gradient(90deg,#2b1e54 0 3.4px,#281e4e 0 5.1px,#251d43 0 6.8px,#281e4e 0 8.5px,#2b1e54 0 10.2px,#281e4e 0 13.7px,#2f1e59 0 17.1px,#281e4e 0 18.8px,#2b1e54 0 20.5px,#281e4e 0 29.0px,#2b1e54 0 30.7px,#281e4e 0 32.4px,#2f1e59 0 34.1px,#281e4e 0 42.7px,#2f1e59 0 44.4px,#2b1e54 0 47.8px,#2f1e59 0 49.5px,#2b1e54 0 51.2px,#2f1e59 0 52.9px,#2b1e54 0 54.6px,#281e4e 0 56.3px,#2b1e54 0 59.7px,#281e4e 0 61.5px,#2b1e54 0 63.2px,#2f1e59 0 64.9px,#2b1e54 0 66.6px,#281e4e 0 68.3px,#2b1e54 0 70.0px,#281e4e 0 71.7px,#2b1e54 0 73.4px,#281e4e 0 75.1px,#ac3268 0 76.8px,#ed8129 0 78.5px,#e26237 0 80.2px,#d95444 0 83.6px,#ed8129 0 85.4px,#2f1e59 0 90.5px,#281e4e 0 93.9px,#2b1e54 0 97.3px,#281e4e 0 99.0px,#2b1e54 0 100.7px,#2f1e59 0 104.1px,#281e4e 0 105.8px,#2b1e54 0 109.2px,#281e4e 0 111.0px,#2b1e54 0 117.8px,#281e4e 0 121.2px,#2b1e54 0 122.9px,#281e4e 0 124.6px,#2b1e54 0 126.3px,#281e4e 0 128.0px,#2b1e54 0 131.4px,#281e4e 0 134.9px,#2b1e54 0 136.6px,#281e4e 0 138.3px,#2b1e54 0 140.0px,#2f1e59 0 141.7px,#2b1e54 0 143.4px,#2f1e59 0 146.8px,#281e4e 0 150.2px,#2b1e54 0 151.9px,#2f1e59 0 153.6px,#2b1e54 0 157.0px,#281e4e 0 158.8px,#2b1e54 0 162.2px,#281e4e 0 163.9px,#2b1e54 0 167.3px,#281e4e 0 169.0px,#2b1e54 0 175.8px,#2f1e59 0 177.5px,#2b1e54 0 182.6px,#2f1e59 0 187.8px,#2b1e54 0 189.5px,#281e4e 0 192.9px,#2f1e59 0 194.6px,#281e4e 0 199.7px,#2b1e54 0 203.1px,#251d43 0 204.8px,#281e4e 0 206.5px,#2f1e59 0 211.7px,#2b1e54 0 213.4px,#2f1e59 0 215.1px,#281e4e 0 216.8px,#2b1e54 0 218.5px,#281e4e 0 221.9px,#251d43 0 223.6px,#2b1e54 0 225.3px,#281e4e 0 227.0px,#2b1e54 0 228.7px,#281e4e 0 232.2px,#2b1e54 0 235.6px,#281e4e 0 237.3px,#2b1e54 0 239.0px,#281e4e 0 240.7px,#2f1e59 0 242.4px,#2b1e54 0 244.1px,#281e4e 0 245.8px,#2f1e59 0 247.5px,#2b1e54 0 249.2px,#281e4e 0 252.6px,#2f1e59 0 254.3px,#2b1e54 0 256.1px,#281e4e 0 257.8px,#2b1e54 0 260.9px)"></div><div style="top:146.24px;height:3.40px;background:linear-gradient(90deg,#2f1e59 0 1.7px,#2b1e54 0 3.4px,#321e5f 0 6.8px,#2f1e59 0 8.5px,#321e5f 0 10.2px,#2f1e59 0 11.9px,#391f64 0 13.7px,#321e5f 0 15.4px,#2f1e59 0 17.1px,#321e5f 0 18.8px,#391f64 0 20.5px,#321e5f 0 23.9px,#2f1e59 0 25.6px,#321e5f 0 27.3px,#2b1e54 0 29.0px,#2f1e59 0 30.7px,#321e5f 0 35.8px,#2f1e59 0 37.6px,#2b1e54 0 39.3px,#391f64 0 41.0px,#321e5f 0 42.7px,#2f1e59 0 47.8px,#391f64 0 49.5px,#321e5f 0 51.2px,#762876 0 52.9px,#6f2875 0 54.6px,#7e2975 0 56.3px,#4c2270 0 59.7px,#6f2875 0 61.5px,#8d2b73 0 63.2px,#672875 0 64.9px,#762876 0 66.6px,#7e2975 0 68.3px,#6f2875 0 70.0px,#4c2270 0 71.7px,#672875 0 73.4px,#7e2975 0 75.1px,#5f2874 0 76.8px,#7e2975 0 78.5px,#2f1e59 0 80.2px,#321e5f 0 83.6px,#391f64 0 87.1px,#321e5f 0 88.8px,#2f1e59 0 90.5px,#391f64 0 92.2px,#321e5f 0 95.6px,#391f64 0 97.3px,#2f1e59 0 99.0px,#391f64 0 102.4px,#2f1e59 0 104.1px,#321e5f 0 107.5px,#391f64 0 109.2px,#321e5f 0 112.7px,#2f1e59 0 114.4px,#391f64 0 119.5px,#2f1e59 0 126.3px,#391f64 0 131.4px,#321e5f 0 133.1px,#2f1e59 0 134.9px,#321e5f 0 136.6px,#391f64 0 138.3px,#2f1e59 0 140.0px,#321e5f 0 141.7px,#391f64 0 143.4px,#2f1e59 0 146.8px,#2b1e54 0 148.5px,#321e5f 0 150.2px,#391f64 0 151.9px,#2f1e59 0 153.6px,#321e5f 0 158.8px,#391f64 0 160.5px,#321e5f 0 163.9px,#2f1e59 0 165.6px,#391f64 0 167.3px,#2f1e59 0 169.0px,#321e5f 0 172.4px,#2f1e59 0 177.5px,#391f64 0 179.2px,#321e5f 0 180.9px,#391f64 0 182.6px,#321e5f 0 187.8px,#2b1e54 0 189.5px,#321e5f 0 191.2px,#2f1e59 0 192.9px,#391f64 0 194.6px,#2f1e59 0 203.1px,#321e5f 0 204.8px,#391f64 0 206.5px,#321e5f 0 208.3px,#2f1e59 0 218.5px,#321e5f 0 223.6px,#2f1e59 0 227.0px,#321e5f 0 230.4px,#2f1e59 0 232.2px,#391f64 0 233.9px,#321e5f 0 235.6px,#2f1e59 0 237.3px,#391f64 0 239.0px,#321e5f 0 240.7px,#391f64 0 242.4px,#2f1e59 0 245.8px,#391f64 0 247.5px,#321e5f 0 249.2px,#391f64 0 250.9px,#2f1e59 0 252.6px,#2b1e54 0 254.3px,#321e5f 0 257.8px,#2f1e59 0 260.9px)"></div></div>
<div class="hm" style="left:371.20px;top:239.30px;width:260.50px;height:149.42px"><div style="top:0.00px;height:3.01px;background:linear-gradient(90deg,#2f1e59 0 3.4px,#321e5f 0 5.1px,#391f64 0 6.9px,#2f1e59 0 8.6px,#321e5f 0 10.3px,#2b1e54 0 12.0px,#321e5f 0 13.7px,#2f1e59 0 15.4px,#321e5f 0 22.3px,#391f64 0 24.0px,#2f1e59 0 29.2px,#321e5f 0 32.6px,#2b1e54 0 34.3px,#2f1e59 0 39.4px,#391f64 0 41.2px,#2f1e59 0 42.9px,#2b1e54 0 44.6px,#391f64 0 48.0px,#321e5f 0 49.7px,#2b1e54 0 51.5px,#2f1e59 0 53.2px,#f4e070 0 54.9px,#f4ee9a 0 56.6px,#f4e57e 0 58.3px,#f6b62f 0 60.0px,#f4ee9a 0 61.7px,#f39b21 0 63.5px,#f4a121 0 65.2px,#e76b32 0 68.6px,#ed8129 0 70.3px,#c84259 0 72.0px,#f4a121 0 73.7px,#e76b32 0 75.5px,#c84259 0 77.2px,#e76b32 0 78.9px,#f5cf45 0 80.6px,#f5b12b 0 82.3px,#f4e070 0 84.0px,#f4e98c 0 85.8px,#321e5f 0 89.2px,#2f1e59 0 92.6px,#321e5f 0 94.3px,#2f1e59 0 97.8px,#391f64 0 99.5px,#321e5f 0 101.2px,#2b1e54 0 102.9px,#391f64 0 104.6px,#9d2d70 0 106.3px,#e46635 0 108.0px,#e26237 0 109.8px,#ed8129 0 111.5px,#f08826 0 114.9px,#f18f24 0 116.6px,#862a74 0 118.3px,#a4306c 0 120.1px,#9d2d70 0 121.8px,#862a74 0 123.5px,#952c72 0 125.2px,#5f2874 0 126.9px,#9d2d70 0 128.6px,#8d2b73 0 130.3px,#952c72 0 132.1px,#7e2975 0 133.8px,#862a74 0 135.5px,#a4306c 0 137.2px,#7e2975 0 138.9px,#952c72 0 140.6px,#5f2874 0 142.3px,#2b1e54 0 145.8px,#321e5f 0 147.5px,#2f1e59 0 149.2px,#2b1e54 0 152.6px,#321e5f 0 154.3px,#391f64 0 156.1px,#321e5f 0 157.8px,#c13e5d 0 159.5px,#f08826 0 161.2px,#df5d3a 0 162.9px,#e26237 0 164.6px,#ed8129 0 166.4px,#f39b21 0 168.1px,#e9712f 0 169.8px,#e46635 0 171.5px,#df5d3a 0 173.2px,#f4a121 0 174.9px,#df5d3a 0 176.6px,#eb792c 0 178.4px,#ed8129 0 180.1px,#e46635 0 181.8px,#f18f24 0 183.5px,#c13e5d 0 188.7px,#f4a121 0 190.4px,#321e5f 0 192.1px,#2b1e54 0 193.8px,#2f1e59 0 195.5px,#391f64 0 197.2px,#321e5f 0 200.7px,#391f64 0 202.4px,#321e5f 0 205.8px,#2f1e59 0 207.5px,#f4ee9a 0 209.2px,#f4e98c 0 210.9px,#e46635 0 212.7px,#df5d3a 0 214.4px,#e76b32 0 216.1px,#e26237 0 217.8px,#dd583e 0 219.5px,#c13e5d 0 221.2px,#ed8129 0 223.0px,#f4a121 0 224.7px,#ed8129 0 226.4px,#df5d3a 0 229.8px,#f18f24 0 231.5px,#f29522 0 233.2px,#c13e5d 0 236.7px,#dd583e 0 238.4px,#e26237 0 240.1px,#321e5f 0 241.8px,#391f64 0 243.5px,#321e5f 0 245.2px,#2f1e59 0 250.4px,#2b1e54 0 252.1px,#321e5f 0 257.2px,#2f1e59 0 259.0px,#391f64 0 260.5px)"></div><div style="top:2.41px;height:3.01px;background:linear-gradient(90deg,#281e4e 0 1.7px,#2b1e54 0 3.4px,#281e4e 0 5.1px,#2f1e59 0 6.9px,#281e4e 0 8.6px,#2b1e54 0 10.3px,#2f1e59 0 12.0px,#281e4e 0 17.2px,#2b1e54 0 18.9px,#281e4e 0 24.0px,#2b1e54 0 25.7px,#281e4e 0 27.4px,#2b1e54 0 29.2px,#251d43 0 30.9px,#2b1e54 0 32.6px,#2f1e59 0 34.3px,#281e4e 0 37.7px,#2b1e54 0 39.4px,#281e4e 0 41.2px,#2b1e54 0 42.9px,#281e4e 0 48.0px,#2b1e54 0 51.5px,#281e4e 0 53.2px,#f5c63d 0 54.9px,#f39b21 0 56.6px,#f4e57e 0 58.3px,#f5d553 0 60.0px,#f4e57e 0 61.7px,#df5d3a 0 63.5px,#f4e070 0 65.2px,#7e2975 0 68.6px,#9d2d70 0 72.0px,#952c72 0 73.7px,#862a74 0 75.5px,#a4306c 0 77.2px,#f5cf45 0 78.9px,#f4ee9a 0 80.6px,#f5c63d 0 82.3px,#f4a121 0 84.0px,#f4ee9a 0 85.8px,#f4e98c 0 87.5px,#762876 0 89.2px,#2f1e59 0 90.9px,#2b1e54 0 94.3px,#251d43 0 96.0px,#2b1e54 0 97.8px,#251d43 0 99.5px,#2b1e54 0 101.2px,#281e4e 0 104.6px,#2b1e54 0 106.3px,#862a74 0 108.0px,#762876 0 109.8px,#7e2975 0 111.5px,#582773 0 113.2px,#952c72 0 114.9px,#8d2b73 0 118.3px,#7e2975 0 120.1px,#2f1e59 0 123.5px,#862a74 0 126.9px,#582773 0 130.3px,#8d2b73 0 132.1px,#7e2975 0 133.8px,#8d2b73 0 135.5px,#862a74 0 137.2px,#762876 0 140.6px,#952c72 0 142.3px,#281e4e 0 144.1px,#2b1e54 0 145.8px,#281e4e 0 147.5px,#2b1e54 0 149.2px,#281e4e 0 150.9px,#2b1e54 0 152.6px,#281e4e 0 156.1px,#f18f24 0 157.8px,#f08826 0 159.5px,#9d2d70 0 161.2px,#5f2874 0 162.9px,#9d2d70 0 166.4px,#7e2975 0 168.1px,#5f2874 0 169.8px,#a4306c 0 171.5px,#8d2b73 0 173.2px,#862a74 0 174.9px,#2b1e54 0 181.8px,#281e4e 0 183.5px,#2f1e59 0 185.2px,#2b1e54 0 188.7px,#281e4e 0 190.4px,#2b1e54 0 192.1px,#251d43 0 193.8px,#2b1e54 0 197.2px,#2f1e59 0 200.7px,#2b1e54 0 204.1px,#281e4e 0 207.5px,#2f1e59 0 209.2px,#7e2975 0 210.9px,#c84259 0 212.7px,#a4306c 0 214.4px,#bb3960 0 216.1px,#2f1e59 0 217.8px,#2b1e54 0 223.0px,#281e4e 0 224.7px,#2b1e54 0 229.8px,#2f1e59 0 231.5px,#2b1e54 0 236.7px,#281e4e 0 238.4px,#2f1e59 0 240.1px,#281e4e 0 241.8px,#2f1e59 0 245.2px,#281e4e 0 247.0px,#2b1e54 0 252.1px,#281e4e 0 259.0px,#2f1e59 0 260.5px)"></div><div style="top:4.82px;height:3.01px;background:linear-gradient(90deg,#2f1e59 0 1.7px,#391f64 0 3.4px,#321e5f 0 5.1px,#2f1e59 0 6.9px,#321e5f 0 8.6px,#391f64 0 10.3px,#321e5f 0 12.0px,#2f1e59 0 13.7px,#391f64 0 15.4px,#321e5f 0 17.2px,#391f64 0 24.0px,#2f1e59 0 29.2px,#321e5f 0 30.9px,#2f1e59 0 32.6px,#321e5f 0 34.3px,#2f1e59 0 36.0px,#321e5f 0 37.7px,#2f1e59 0 39.4px,#321e5f 0 41.2px,#2f1e59 0 42.9px,#321e5f 0 44.6px,#391f64 0 48.0px,#2f1e59 0 49.7px,#391f64 0 53.2px,#a4306c 0 54.9px,#5f2874 0 56.6px,#8d2b73 0 58.3px,#862a74 0 60.0px,#5f2874 0 61.7px,#a4306c 0 63.5px,#952c72 0 65.2px,#5f2874 0 66.9px,#8d2b73 0 68.6px,#a4306c 0 70.3px,#9d2d70 0 72.0px,#a4306c 0 73.7px,#862a74 0 75.5px,#a4306c 0 77.2px,#862a74 0 78.9px,#952c72 0 80.6px,#5f2874 0 82.3px,#9d2d70 0 84.0px,#952c72 0 85.8px,#2f1e59 0 90.9px,#321e5f 0 92.6px,#391f64 0 94.3px,#321e5f 0 97.8px,#2f1e59 0 99.5px,#321e5f 0 101.2px,#2f1e59 0 104.6px,#7e2975 0 106.3px,#862a74 0 108.0px,#7e2975 0 109.8px,#a4306c 0 111.5px,#8d2b73 0 113.2px,#5f2874 0 116.6px,#b43464 0 118.3px,#f08826 0 120.1px,#9d2d70 0 121.8px,#a4306c 0 125.2px,#7e2975 0 128.6px,#5f2874 0 130.3px,#a4306c 0 132.1px,#8d2b73 0 133.8px,#7e2975 0 135.5px,#8d2b73 0 138.9px,#a4306c 0 142.3px,#2f1e59 0 147.5px,#391f64 0 149.2px,#2f1e59 0 152.6px,#391f64 0 154.3px,#2f1e59 0 156.1px,#9d2d70 0 157.8px,#952c72 0 159.5px,#7e2975 0 161.2px,#862a74 0 164.6px,#7e2975 0 168.1px,#5f2874 0 169.8px,#862a74 0 171.5px,#a4306c 0 173.2px,#321e5f 0 178.4px,#2f1e59 0 185.2px,#321e5f 0 186.9px,#2f1e59 0 193.8px,#321e5f 0 195.5px,#391f64 0 197.2px,#2f1e59 0 198.9px,#321e5f 0 202.4px,#2f1e59 0 204.1px,#391f64 0 205.8px,#321e5f 0 207.5px,#862a74 0 209.2px,#582773 0 210.9px,#952c72 0 212.7px,#582773 0 214.4px,#7e2975 0 216.1px,#862a74 0 217.8px,#7e2975 0 221.2px,#582773 0 223.0px,#f5ac28 0 224.7px,#eb792c 0 226.4px,#862a74 0 228.1px,#f4e070 0 229.8px,#f4ee9a 0 231.5px,#f5cf45 0 233.2px,#eb792c 0 235.0px,#f6b62f 0 236.7px,#8d2b73 0 238.4px,#e46635 0 240.1px,#c84259 0 241.8px,#2f1e59 0 245.2px,#391f64 0 247.0px,#2f1e59 0 252.1px,#391f64 0 253.8px,#321e5f 0 255.5px,#2f1e59 0 257.2px,#321e5f 0 259.0px,#391f64 0 260.5px)"></div><div style="top:7.23px;height:3.01px;background:linear-gradient(90deg,#2f1e59 0 6.9px,#321e5f 0 8.6px,#2f1e59 0 10.3px,#321e5f 0 13.7px,#2f1e59 0 15.4px,#2b1e54 0 17.2px,#321e5f 0 18.9px,#2b1e54 0 20.6px,#321e5f 0 22.3px,#2f1e59 0 24.0px,#321e5f 0 25.7px,#2f1e59 0 27.4px,#2b1e54 0 29.2px,#321e5f 0 32.6px,#2f1e59 0 37.7px,#321e5f 0 39.4px,#2f1e59 0 41.2px,#321e5f 0 42.9px,#2f1e59 0 48.0px,#321e5f 0 49.7px,#2f1e59 0 53.2px,#9d2d70 0 54.9px,#5f2874 0 56.6px,#9d2d70 0 58.3px,#5f2874 0 60.0px,#862a74 0 61.7px,#8d2b73 0 65.2px,#952c72 0 66.9px,#9d2d70 0 68.6px,#5f2874 0 70.3px,#9d2d70 0 72.0px,#862a74 0 73.7px,#9d2d70 0 75.5px,#8d2b73 0 80.6px,#5f2874 0 82.3px,#9d2d70 0 84.0px,#e76b32 0 87.5px,#eb792c 0 89.2px,#2f1e59 0 92.6px,#2b1e54 0 94.3px,#391f64 0 96.0px,#2f1e59 0 97.8px,#391f64 0 99.5px,#321e5f 0 101.2px,#391f64 0 104.6px,#7e2975 0 108.0px,#952c72 0 109.8px,#7e2975 0 111.5px,#762876 0 113.2px,#8d2b73 0 116.6px,#7e2975 0 120.1px,#5f2874 0 121.8px,#c13e5d 0 123.5px,#862a74 0 125.2px,#7e2975 0 126.9px,#9d2d70 0 128.6px,#862a74 0 130.3px,#7e2975 0 132.1px,#5f2874 0 133.8px,#762876 0 137.2px,#8d2b73 0 138.9px,#952c72 0 140.6px,#a4306c 0 142.3px,#391f64 0 144.1px,#321e5f 0 147.5px,#391f64 0 149.2px,#321e5f 0 150.9px,#2f1e59 0 152.6px,#321e5f 0 156.1px,#862a74 0 157.8px,#7e2975 0 159.5px,#5f2874 0 161.2px,#9d2d70 0 162.9px,#952c72 0 164.6px,#5f2874 0 166.4px,#862a74 0 169.8px,#952c72 0 171.5px,#9d2d70 0 173.2px,#2f1e59 0 174.9px,#2b1e54 0 176.6px,#391f64 0 178.4px,#321e5f 0 180.1px,#2b1e54 0 181.8px,#321e5f 0 183.5px,#391f64 0 185.2px,#2f1e59 0 188.7px,#2b1e54 0 190.4px,#321e5f 0 192.1px,#2b1e54 0 193.8px,#2f1e59 0 197.2px,#321e5f 0 200.7px,#2f1e59 0 202.4px,#321e5f 0 204.1px,#2b1e54 0 205.8px,#321e5f 0 207.5px,#762876 0 209.2px,#9d2d70 0 210.9px,#762876 0 212.7px,#6f2875 0 214.4px,#9d2d70 0 216.1px,#862a74 0 217.8px,#7e2975 0 219.5px,#762876 0 221.2px,#9d2d70 0 223.0px,#952c72 0 224.7px,#762876 0 226.4px,#8d2b73 0 228.1px,#9d2d70 0 229.8px,#8d2b73 0 231.5px,#6f2875 0 233.2px,#9d2d70 0 235.0px,#6f2875 0 236.7px,#9d2d70 0 238.4px,#762876 0 240.1px,#862a74 0 241.8px,#2f1e59 0 245.2px,#321e5f 0 253.8px,#2b1e54 0 255.5px,#391f64 0 259.0px,#2f1e59 0 260.5px)"></div><div style="top:9.64px;height:3.01px;background:linear-gradient(90deg,#391f64 0 1.7px,#2f1e59 0 3.4px,#2b1e54 0 5.1px,#391f64 0 6.9px,#321e5f 0 12.0px,#2f1e59 0 13.7px,#321e5f 0 15.4px,#2f1e59 0 20.6px,#391f64 0 22.3px,#2f1e59 0 24.0px,#321e5f 0 25.7px,#2f1e59 0 37.7px,#321e5f 0 39.4px,#2f1e59 0 41.2px,#391f64 0 42.9px,#2f1e59 0 46.3px,#321e5f 0 48.0px,#2f1e59 0 51.5px,#321e5f 0 53.2px,#7e2975 0 54.9px,#5f2874 0 56.6px,#862a74 0 58.3px,#a4306c 0 60.0px,#862a74 0 61.7px,#5f2874 0 63.5px,#7e2975 0 65.2px,#762876 0 66.9px,#7e2975 0 68.6px,#862a74 0 75.5px,#952c72 0 77.2px,#a4306c 0 78.9px,#7e2975 0 80.6px,#a4306c 0 82.3px,#862a74 0 84.0px,#a4306c 0 85.8px,#952c72 0 87.5px,#5f2874 0 89.2px,#862a74 0 90.9px,#321e5f 0 96.0px,#2f1e59 0 97.8px,#321e5f 0 99.5px,#2f1e59 0 101.2px,#391f64 0 102.9px,#2f1e59 0 104.6px,#9d2d70 0 106.3px,#672875 0 108.0px,#952c72 0 109.8px,#8d2b73 0 113.2px,#672875 0 114.9px,#952c72 0 116.6px,#9d2d70 0 120.1px,#952c72 0 121.8px,#f29522 0 123.5px,#b43464 0 125.2px,#862a74 0 126.9px,#8d2b73 0 128.6px,#9d2d70 0 130.3px,#b43464 0 133.8px,#672875 0 135.5px,#952c72 0 137.2px,#862a74 0 138.9px,#952c72 0 140.6px,#9d2d70 0 142.3px,#321e5f 0 150.9px,#2f1e59 0 154.3px,#391f64 0 156.1px,#9d2d70 0 157.8px,#862a74 0 159.5px,#952c72 0 161.2px,#5f2874 0 162.9px,#862a74 0 164.6px,#9d2d70 0 166.4px,#8d2b73 0 169.8px,#a4306c 0 171.5px,#952c72 0 173.2px,#321e5f 0 174.9px,#2b1e54 0 176.6px,#2f1e59 0 178.4px,#321e5f 0 181.8px,#2f1e59 0 183.5px,#321e5f 0 185.2px,#2b1e54 0 188.7px,#2f1e59 0 192.1px,#2b1e54 0 193.8px,#321e5f 0 200.7px,#2f1e59 0 202.4px,#321e5f 0 204.1px,#391f64 0 205.8px,#2f1e59 0 209.2px,#2b1e54 0 210.9px,#321e5f 0 212.7px,#2f1e59 0 214.4px,#2b1e54 0 216.1px,#2f1e59 0 217.8px,#321e5f 0 219.5px,#2f1e59 0 221.2px,#2b1e54 0 223.0px,#321e5f 0 224.7px,#2b1e54 0 228.1px,#321e5f 0 236.7px,#2f1e59 0 238.4px,#321e5f 0 241.8px,#2b1e54 0 243.5px,#321e5f 0 247.0px,#2f1e59 0 248.7px,#391f64 0 252.1px,#321e5f 0 259.0px,#391f64 0 260.5px)"></div><div style="top:12.05px;height:3.01px;background:linear-gradient(90deg,#321e5f 0 3.4px,#2f1e59 0 5.1px,#321e5f 0 10.3px,#2f1e59 0 12.0px,#321e5f 0 15.4px,#391f64 0 17.2px,#321e5f 0 24.0px,#2f1e59 0 25.7px,#2b1e54 0 27.4px,#321e5f 0 34.3px,#2f1e59 0 36.0px,#321e5f 0 41.2px,#2f1e59 0 44.6px,#391f64 0 48.0px,#321e5f 0 49.7px,#2f1e59 0 53.2px,#952c72 0 56.6px,#762876 0 58.3px,#a4306c 0 60.0px,#862a74 0 61.7px,#7e2975 0 63.5px,#8d2b73 0 65.2px,#9d2d70 0 66.9px,#7e2975 0 68.6px,#a4306c 0 72.0px,#9d2d70 0 73.7px,#a4306c 0 75.5px,#5f2874 0 77.2px,#9d2d70 0 78.9px,#7e2975 0 80.6px,#8d2b73 0 82.3px,#762876 0 84.0px,#5f2874 0 85.8px,#8d2b73 0 87.5px,#5f2874 0 89.2px,#321e5f 0 90.9px,#2f1e59 0 101.2px,#2b1e54 0 102.9px,#2f1e59 0 104.6px,#8d2b73 0 106.3px,#f5c63d 0 108.0px,#f39b21 0 109.8px,#f4a121 0 111.5px,#9d2d70 0 113.2px,#672875 0 114.9px,#a4306c 0 116.6px,#672875 0 118.3px,#b43464 0 120.1px,#a4306c 0 121.8px,#952c72 0 123.5px,#8d2b73 0 125.2px,#f4ee9a 0 128.6px,#f6b62f 0 130.3px,#e9712f 0 132.1px,#f4ee9a 0 133.8px,#f5b12b 0 135.5px,#f5d553 0 137.2px,#f4ee9a 0 140.6px,#a4306c 0 142.3px,#2f1e59 0 144.1px,#321e5f 0 149.2px,#2b1e54 0 150.9px,#391f64 0 152.6px,#2f1e59 0 156.1px,#f5b12b 0 157.8px,#f5c63d 0 159.5px,#f5a624 0 161.2px,#f4da62 0 162.9px,#f4ee9a 0 166.4px,#e76b32 0 168.1px,#f5d553 0 169.8px,#e76b32 0 171.5px,#f4e98c 0 173.2px,#e9712f 0 174.9px,#b43464 0 176.6px,#e9712f 0 178.4px,#e46635 0 180.1px,#eb792c 0 181.8px,#dd583e 0 183.5px,#b43464 0 185.2px,#d95444 0 186.9px,#b43464 0 188.7px,#f08826 0 190.4px,#e26237 0 192.1px,#f08826 0 193.8px,#b43464 0 195.5px,#e46635 0 197.2px,#f08826 0 198.9px,#391f64 0 200.7px,#321e5f 0 202.4px,#2f1e59 0 205.8px,#391f64 0 207.5px,#321e5f 0 210.9px,#2f1e59 0 216.1px,#391f64 0 217.8px,#321e5f 0 219.5px,#2b1e54 0 221.2px,#2f1e59 0 223.0px,#321e5f 0 224.7px,#391f64 0 226.4px,#2f1e59 0 229.8px,#2b1e54 0 233.2px,#321e5f 0 240.1px,#2b1e54 0 243.5px,#2f1e59 0 245.2px,#2b1e54 0 247.0px,#321e5f 0 250.4px,#2b1e54 0 252.1px,#321e5f 0 253.8px,#391f64 0 255.5px,#2f1e59 0 260.5px)"></div><div style="top:14.46px;height:3.01px;background:linear-gradient(90deg,#2f1e59 0 1.7px,#2b1e54 0 3.4px,#2f1e59 0 5.1px,#2b1e54 0 6.9px,#281e4e 0 8.6px,#2f1e59 0 10.3px,#281e4e 0 12.0px,#321e5f 0 13.7px,#2f1e59 0 15.4px,#2b1e54 0 22.3px,#2f1e59 0 27.4px,#2b1e54 0 30.9px,#281e4e 0 32.6px,#2f1e59 0 37.7px,#2b1e54 0 39.4px,#2f1e59 0 42.9px,#2b1e54 0 44.6px,#281e4e 0 46.3px,#2b1e54 0 51.5px,#2f1e59 0 53.2px,#ac3268 0 54.9px,#b43464 0 56.6px,#862a74 0 58.3px,#b43464 0 60.0px,#672875 0 61.7px,#a4306c 0 63.5px,#b43464 0 66.9px,#ac3268 0 68.6px,#672875 0 70.3px,#a4306c 0 73.7px,#8d2b73 0 78.9px,#672875 0 82.3px,#a4306c 0 84.0px,#862a74 0 85.8px,#a4306c 0 87.5px,#9d2d70 0 89.2px,#952c72 0 90.9px,#2f1e59 0 94.3px,#2b1e54 0 97.8px,#281e4e 0 99.5px,#2b1e54 0 101.2px,#2f1e59 0 104.6px,#281e4e 0 144.1px,#2f1e59 0 145.8px,#2b1e54 0 147.5px,#281e4e 0 149.2px,#2f1e59 0 150.9px,#2b1e54 0 152.6px,#2f1e59 0 154.3px,#2b1e54 0 159.5px,#7e2975 0 161.2px,#762876 0 164.6px,#6f2875 0 166.4px,#672875 0 168.1px,#7e2975 0 169.8px,#2b1e54 0 178.4px,#2f1e59 0 181.8px,#2b1e54 0 183.5px,#2f1e59 0 186.9px,#2b1e54 0 188.7px,#2f1e59 0 190.4px,#2b1e54 0 193.8px,#281e4e 0 195.5px,#321e5f 0 197.2px,#2f1e59 0 198.9px,#2b1e54 0 200.7px,#2f1e59 0 202.4px,#2b1e54 0 204.1px,#321e5f 0 205.8px,#2f1e59 0 209.2px,#321e5f 0 210.9px,#2b1e54 0 212.7px,#281e4e 0 214.4px,#2b1e54 0 216.1px,#281e4e 0 219.5px,#2b1e54 0 221.2px,#281e4e 0 223.0px,#2f1e59 0 224.7px,#2b1e54 0 228.1px,#281e4e 0 229.8px,#2f1e59 0 231.5px,#2b1e54 0 233.2px,#2f1e59 0 240.1px,#2b1e54 0 241.8px,#2f1e59 0 243.5px,#2b1e54 0 245.2px,#2f1e59 0 247.0px,#2b1e54 0 248.7px,#2f1e59 0 252.1px,#2b1e54 0 255.5px,#2f1e59 0 257.2px,#281e4e 0 259.0px,#2f1e59 0 260.5px)"></div><div style="top:16.87px;height:3.01px;background:linear-gradient(90deg,#391f64 0 1.7px,#321e5f 0 5.1px,#391f64 0 8.6px,#2f1e59 0 10.3px,#321e5f 0 12.0px,#391f64 0 13.7px,#321e5f 0 18.9px,#2f1e59 0 20.6px,#321e5f 0 22.3px,#391f64 0 24.0px,#2f1e59 0 25.7px,#321e5f 0 27.4px,#2f1e59 0 29.2px,#391f64 0 30.9px,#321e5f 0 34.3px,#391f64 0 36.0px,#2f1e59 0 37.7px,#321e5f 0 42.9px,#391f64 0 44.6px,#321e5f 0 48.0px,#2f1e59 0 53.2px,#762876 0 54.9px,#46206e 0 56.6px,#762876 0 58.3px,#5f2874 0 61.7px,#672875 0 63.5px,#762876 0 66.9px,#672875 0 70.3px,#5f2874 0 72.0px,#762876 0 75.5px,#5f2874 0 78.9px,#7e2975 0 80.6px,#46206e 0 82.3px,#321e5f 0 84.0px,#391f64 0 85.8px,#321e5f 0 90.9px,#391f64 0 92.6px,#321e5f 0 99.5px,#2f1e59 0 102.9px,#391f64 0 104.6px,#f4e070 0 108.0px,#f4e57e 0 109.8px,#f4ee9a 0 113.2px,#f4da62 0 114.9px,#f6be35 0 116.6px,#e46635 0 118.3px,#f5d553 0 120.1px,#f4da62 0 121.8px,#f4e98c 0 123.5px,#391f64 0 126.9px,#321e5f 0 128.6px,#2f1e59 0 130.3px,#391f64 0 132.1px,#2f1e59 0 133.8px,#391f64 0 135.5px,#321e5f 0 137.2px,#2f1e59 0 138.9px,#321e5f 0 142.3px,#2f1e59 0 144.1px,#391f64 0 145.8px,#321e5f 0 149.2px,#391f64 0 152.6px,#321e5f 0 156.1px,#391f64 0 157.8px,#321e5f 0 159.5px,#a4306c 0 161.2px,#8d2b73 0 162.9px,#862a74 0 166.4px,#5f2874 0 168.1px,#9d2d70 0 169.8px,#952c72 0 171.5px,#391f64 0 176.6px,#2f1e59 0 178.4px,#321e5f 0 180.1px,#2f1e59 0 181.8px,#391f64 0 186.9px,#321e5f 0 188.7px,#2f1e59 0 190.4px,#391f64 0 193.8px,#321e5f 0 198.9px,#391f64 0 200.7px,#321e5f 0 205.8px,#2f1e59 0 207.5px,#391f64 0 209.2px,#321e5f 0 210.9px,#391f64 0 212.7px,#2f1e59 0 214.4px,#321e5f 0 216.1px,#391f64 0 217.8px,#321e5f 0 219.5px,#391f64 0 223.0px,#321e5f 0 226.4px,#391f64 0 228.1px,#321e5f 0 229.8px,#2f1e59 0 231.5px,#321e5f 0 233.2px,#2f1e59 0 235.0px,#391f64 0 238.4px,#321e5f 0 240.1px,#2f1e59 0 243.5px,#391f64 0 245.2px,#2f1e59 0 247.0px,#391f64 0 248.7px,#2f1e59 0 250.4px,#321e5f 0 252.1px,#391f64 0 255.5px,#321e5f 0 257.2px,#391f64 0 260.5px)"></div><div style="top:19.28px;height:3.01px;background:linear-gradient(90deg,#281e4e 0 1.7px,#2f1e59 0 3.4px,#2b1e54 0 12.0px,#281e4e 0 17.2px,#2f1e59 0 18.9px,#281e4e 0 22.3px,#2b1e54 0 27.4px,#281e4e 0 29.2px,#2f1e59 0 30.9px,#2b1e54 0 34.3px,#2f1e59 0 36.0px,#281e4e 0 37.7px,#2f1e59 0 39.4px,#2b1e54 0 42.9px,#281e4e 0 44.6px,#2b1e54 0 46.3px,#281e4e 0 48.0px,#2b1e54 0 53.2px,#b43464 0 54.9px,#a4306c 0 56.6px,#ac3268 0 58.3px,#bb3960 0 60.0px,#6f2875 0 61.7px,#9d2d70 0 63.5px,#ac3268 0 65.2px,#c84259 0 66.9px,#bb3960 0 68.6px,#9d2d70 0 70.3px,#6f2875 0 72.0px,#ac3268 0 73.7px,#952c72 0 75.5px,#bb3960 0 77.2px,#952c72 0 78.9px,#c84259 0 80.6px,#a4306c 0 84.0px,#bb3960 0 85.8px,#a4306c 0 87.5px,#c13e5d 0 89.2px,#9d2d70 0 90.9px,#281e4e 0 97.8px,#2b1e54 0 101.2px,#281e4e 0 102.9px,#2b1e54 0 104.6px,#2f1e59 0 106.3px,#2b1e54 0 109.8px,#281e4e 0 111.5px,#2f1e59 0 113.2px,#2b1e54 0 116.6px,#2f1e59 0 118.3px,#281e4e 0 120.1px,#2b1e54 0 123.5px,#281e4e 0 126.9px,#2b1e54 0 132.1px,#281e4e 0 133.8px,#2f1e59 0 135.5px,#281e4e 0 138.9px,#2f1e59 0 140.6px,#2b1e54 0 142.3px,#2f1e59 0 145.8px,#2b1e54 0 147.5px,#281e4e 0 149.2px,#2b1e54 0 150.9px,#281e4e 0 154.3px,#2f1e59 0 156.1px,#281e4e 0 157.8px,#2b1e54 0 159.5px,#f4a121 0 161.2px,#f5a624 0 162.9px,#f18f24 0 164.6px,#f39b21 0 166.4px,#c84259 0 169.8px,#f4a121 0 171.5px,#e46635 0 173.2px,#f5a624 0 174.9px,#281e4e 0 176.6px,#2b1e54 0 185.2px,#2f1e59 0 186.9px,#2b1e54 0 190.4px,#281e4e 0 192.1px,#2b1e54 0 193.8px,#2f1e59 0 198.9px,#2b1e54 0 200.7px,#281e4e 0 202.4px,#2f1e59 0 204.1px,#2b1e54 0 205.8px,#2f1e59 0 207.5px,#2b1e54 0 209.2px,#281e4e 0 210.9px,#2f1e59 0 212.7px,#2b1e54 0 214.4px,#2f1e59 0 216.1px,#281e4e 0 219.5px,#2f1e59 0 221.2px,#2b1e54 0 223.0px,#281e4e 0 224.7px,#2f1e59 0 226.4px,#2b1e54 0 228.1px,#281e4e 0 229.8px,#2b1e54 0 231.5px,#281e4e 0 233.2px,#2b1e54 0 235.0px,#2f1e59 0 236.7px,#281e4e 0 240.1px,#2f1e59 0 241.8px,#281e4e 0 243.5px,#2f1e59 0 245.2px,#2b1e54 0 252.1px,#281e4e 0 253.8px,#2b1e54 0 255.5px,#281e4e 0 260.5px)"></div><div style="top:21.69px;height:3.01px;background:linear-gradient(90deg,#321e5f 0 1.7px,#3f1f69 0 3.4px,#2f1e59 0 5.1px,#321e5f 0 8.6px,#391f64 0 12.0px,#3f1f69 0 13.7px,#391f64 0 17.2px,#321e5f 0 18.9px,#3f1f69 0 20.6px,#321e5f 0 22.3px,#3f1f69 0 24.0px,#391f64 0 25.7px,#321e5f 0 29.2px,#391f64 0 32.6px,#2f1e59 0 34.3px,#391f64 0 36.0px,#321e5f 0 39.4px,#391f64 0 42.9px,#3f1f69 0 44.6px,#321e5f 0 46.3px,#391f64 0 49.7px,#321e5f 0 51.5px,#391f64 0 53.2px,#7e2975 0 54.9px,#9d2d70 0 58.3px,#8d2b73 0 60.0px,#862a74 0 61.7px,#9d2d70 0 63.5px,#5f2874 0 66.9px,#952c72 0 68.6px,#c13e5d 0 70.3px,#e9712f 0 72.0px,#f08826 0 73.7px,#7e2975 0 75.5px,#5f2874 0 77.2px,#7e2975 0 80.6px,#9d2d70 0 82.3px,#862a74 0 84.0px,#5f2874 0 85.8px,#762876 0 87.5px,#862a74 0 89.2px,#391f64 0 90.9px,#2f1e59 0 92.6px,#391f64 0 94.3px,#2f1e59 0 96.0px,#321e5f 0 97.8px,#3f1f69 0 99.5px,#2f1e59 0 102.9px,#391f64 0 104.6px,#46206e 0 108.0px,#582773 0 111.5px,#522471 0 113.2px,#582773 0 114.9px,#4c2270 0 116.6px,#522471 0 118.3px,#582773 0 120.1px,#46206e 0 121.8px,#4c2270 0 123.5px,#582773 0 125.2px,#522471 0 126.9px,#4c2270 0 128.6px,#522471 0 135.5px,#321e5f 0 137.2px,#522471 0 138.9px,#2f1e59 0 140.6px,#321e5f 0 142.3px,#3f1f69 0 144.1px,#391f64 0 147.5px,#321e5f 0 150.9px,#391f64 0 152.6px,#3f1f69 0 156.1px,#391f64 0 159.5px,#f08826 0 161.2px,#e26237 0 162.9px,#c84259 0 164.6px,#ed8129 0 166.4px,#c84259 0 168.1px,#f4a121 0 169.8px,#e26237 0 171.5px,#eb792c 0 173.2px,#e26237 0 174.9px,#391f64 0 176.6px,#3f1f69 0 178.4px,#391f64 0 181.8px,#321e5f 0 183.5px,#391f64 0 188.7px,#3f1f69 0 190.4px,#321e5f 0 193.8px,#2f1e59 0 195.5px,#391f64 0 197.2px,#2f1e59 0 200.7px,#321e5f 0 202.4px,#3f1f69 0 204.1px,#321e5f 0 205.8px,#391f64 0 207.5px,#321e5f 0 209.2px,#391f64 0 216.1px,#3f1f69 0 221.2px,#321e5f 0 223.0px,#391f64 0 229.8px,#3f1f69 0 233.2px,#391f64 0 236.7px,#321e5f 0 240.1px,#391f64 0 243.5px,#321e5f 0 245.2px,#391f64 0 248.7px,#3f1f69 0 250.4px,#321e5f 0 253.8px,#391f64 0 255.5px,#321e5f 0 257.2px,#391f64 0 260.5px)"></div><div style="top:24.10px;height:3.01px;background:linear-gradient(90deg,#321e5f 0 1.7px,#2b1e54 0 3.4px,#281e4e 0 5.1px,#2b1e54 0 6.9px,#321e5f 0 8.6px,#2b1e54 0 10.3px,#2f1e59 0 12.0px,#2b1e54 0 13.7px,#281e4e 0 15.4px,#2f1e59 0 17.2px,#321e5f 0 18.9px,#2b1e54 0 20.6px,#2f1e59 0 24.0px,#2b1e54 0 27.4px,#2f1e59 0 29.2px,#2b1e54 0 30.9px,#281e4e 0 32.6px,#2f1e59 0 34.3px,#2b1e54 0 36.0px,#281e4e 0 37.7px,#2b1e54 0 39.4px,#281e4e 0 42.9px,#2f1e59 0 44.6px,#2b1e54 0 48.0px,#281e4e 0 49.7px,#2f1e59 0 53.2px,#862a74 0 54.9px,#9d2d70 0 56.6px,#862a74 0 58.3px,#8d2b73 0 60.0px,#ac3268 0 61.7px,#862a74 0 63.5px,#672875 0 65.2px,#8d2b73 0 66.9px,#b43464 0 68.6px,#a4306c 0 70.3px,#672875 0 72.0px,#ac3268 0 73.7px,#8d2b73 0 75.5px,#672875 0 77.2px,#9d2d70 0 78.9px,#b43464 0 80.6px,#ac3268 0 82.3px,#672875 0 84.0px,#7e2975 0 85.8px,#952c72 0 87.5px,#672875 0 89.2px,#281e4e 0 92.6px,#2b1e54 0 94.3px,#281e4e 0 96.0px,#2b1e54 0 97.8px,#2f1e59 0 99.5px,#2b1e54 0 101.2px,#321e5f 0 102.9px,#2f1e59 0 104.6px,#321e5f 0 108.0px,#522471 0 111.5px,#4c2270 0 113.2px,#522471 0 114.9px,#582773 0 116.6px,#4c2270 0 120.1px,#582773 0 121.8px,#3f1f69 0 123.5px,#321e5f 0 125.2px,#522471 0 126.9px,#321e5f 0 128.6px,#4c2270 0 130.3px,#321e5f 0 132.1px,#582773 0 133.8px,#321e5f 0 135.5px,#46206e 0 137.2px,#321e5f 0 138.9px,#2b1e54 0 140.6px,#2f1e59 0 142.3px,#281e4e 0 144.1px,#2f1e59 0 147.5px,#2b1e54 0 152.6px,#2f1e59 0 159.5px,#9d2d70 0 161.2px,#c13e5d 0 162.9px,#b43464 0 164.6px,#6f2875 0 166.4px,#c13e5d 0 168.1px,#f5c63d 0 169.8px,#f08826 0 171.5px,#ac3268 0 173.2px,#c13e5d 0 174.9px,#6f2875 0 176.6px,#2f1e59 0 183.5px,#2b1e54 0 185.2px,#281e4e 0 186.9px,#2f1e59 0 188.7px,#2b1e54 0 190.4px,#2f1e59 0 192.1px,#321e5f 0 193.8px,#2b1e54 0 195.5px,#2f1e59 0 197.2px,#2b1e54 0 198.9px,#281e4e 0 200.7px,#2b1e54 0 205.8px,#2f1e59 0 207.5px,#2b1e54 0 209.2px,#2f1e59 0 210.9px,#2b1e54 0 212.7px,#2f1e59 0 214.4px,#281e4e 0 217.8px,#2b1e54 0 219.5px,#2f1e59 0 228.1px,#2b1e54 0 233.2px,#2f1e59 0 235.0px,#2b1e54 0 236.7px,#2f1e59 0 238.4px,#2b1e54 0 240.1px,#2f1e59 0 241.8px,#2b1e54 0 245.2px,#321e5f 0 247.0px,#281e4e 0 250.4px,#2b1e54 0 252.1px,#2f1e59 0 253.8px,#321e5f 0 255.5px,#2b1e54 0 257.2px,#2f1e59 0 259.0px,#2b1e54 0 260.5px)"></div><div style="top:26.51px;height:3.01px;background:linear-gradient(90deg,#3f1f69 0 1.7px,#391f64 0 3.4px,#321e5f 0 5.1px,#3f1f69 0 6.9px,#391f64 0 8.6px,#46206e 0 10.3px,#321e5f 0 12.0px,#3f1f69 0 22.3px,#391f64 0 24.0px,#3f1f69 0 29.2px,#391f64 0 34.3px,#321e5f 0 36.0px,#391f64 0 37.7px,#3f1f69 0 39.4px,#391f64 0 41.2px,#321e5f 0 42.9px,#391f64 0 48.0px,#3f1f69 0 49.7px,#391f64 0 51.5px,#46206e 0 53.2px,#762876 0 54.9px,#bb3960 0 56.6px,#ac3268 0 58.3px,#b43464 0 60.0px,#c84259 0 61.7px,#762876 0 63.5px,#c84259 0 65.2px,#ac3268 0 66.9px,#9d2d70 0 68.6px,#c13e5d 0 70.3px,#cf4756 0 72.0px,#b43464 0 73.7px,#9d2d70 0 75.5px,#ac3268 0 77.2px,#9d2d70 0 78.9px,#a4306c 0 80.6px,#952c72 0 82.3px,#b43464 0 84.0px,#a4306c 0 85.8px,#b43464 0 87.5px,#391f64 0 89.2px,#321e5f 0 90.9px,#391f64 0 92.6px,#46206e 0 96.0px,#391f64 0 97.8px,#3f1f69 0 99.5px,#321e5f 0 102.9px,#3f1f69 0 104.6px,#321e5f 0 106.3px,#46206e 0 108.0px,#4c2270 0 109.8px,#582773 0 111.5px,#46206e 0 113.2px,#4c2270 0 114.9px,#3f1f69 0 116.6px,#4c2270 0 118.3px,#582773 0 120.1px,#4c2270 0 121.8px,#522471 0 128.6px,#321e5f 0 130.3px,#582773 0 132.1px,#522471 0 133.8px,#582773 0 138.9px,#391f64 0 140.6px,#3f1f69 0 142.3px,#321e5f 0 144.1px,#391f64 0 145.8px,#321e5f 0 147.5px,#3f1f69 0 156.1px,#8d2b73 0 157.8px,#7e2975 0 159.5px,#522471 0 161.2px,#862a74 0 162.9px,#7e2975 0 164.6px,#862a74 0 166.4px,#762876 0 168.1px,#6f2875 0 171.5px,#8d2b73 0 173.2px,#6f2875 0 174.9px,#8d2b73 0 176.6px,#391f64 0 178.4px,#3f1f69 0 180.1px,#391f64 0 181.8px,#321e5f 0 183.5px,#3f1f69 0 185.2px,#321e5f 0 186.9px,#3f1f69 0 190.4px,#46206e 0 192.1px,#3f1f69 0 193.8px,#321e5f 0 195.5px,#391f64 0 198.9px,#321e5f 0 200.7px,#391f64 0 204.1px,#46206e 0 205.8px,#3f1f69 0 207.5px,#391f64 0 209.2px,#3f1f69 0 210.9px,#321e5f 0 212.7px,#3f1f69 0 219.5px,#321e5f 0 223.0px,#391f64 0 224.7px,#321e5f 0 228.1px,#3f1f69 0 229.8px,#391f64 0 231.5px,#46206e 0 233.2px,#321e5f 0 235.0px,#3f1f69 0 236.7px,#321e5f 0 238.4px,#391f64 0 241.8px,#321e5f 0 243.5px,#391f64 0 248.7px,#3f1f69 0 255.5px,#391f64 0 260.5px)"></div><div style="top:28.92px;height:3.01px;background:linear-gradient(90deg,#391f64 0 1.7px,#2f1e59 0 3.4px,#391f64 0 5.1px,#321e5f 0 6.9px,#391f64 0 8.6px,#321e5f 0 10.3px,#391f64 0 15.4px,#321e5f 0 17.2px,#391f64 0 18.9px,#321e5f 0 20.6px,#2f1e59 0 24.0px,#391f64 0 25.7px,#321e5f 0 27.4px,#2f1e59 0 29.2px,#391f64 0 32.6px,#2f1e59 0 34.3px,#321e5f 0 36.0px,#391f64 0 37.7px,#321e5f 0 39.4px,#391f64 0 41.2px,#321e5f 0 42.9px,#391f64 0 44.6px,#2f1e59 0 46.3px,#321e5f 0 48.0px,#2f1e59 0 49.7px,#391f64 0 53.2px,#8d2b73 0 54.9px,#952c72 0 56.6px,#7e2975 0 60.0px,#952c72 0 61.7px,#5f2874 0 63.5px,#7e2975 0 65.2px,#5f2874 0 68.6px,#9d2d70 0 70.3px,#862a74 0 72.0px,#a4306c 0 73.7px,#862a74 0 77.2px,#a4306c 0 78.9px,#5f2874 0 80.6px,#8d2b73 0 82.3px,#2f1e59 0 85.8px,#391f64 0 87.5px,#321e5f 0 89.2px,#2f1e59 0 92.6px,#321e5f 0 94.3px,#391f64 0 96.0px,#321e5f 0 97.8px,#391f64 0 99.5px,#321e5f 0 101.2px,#391f64 0 102.9px,#321e5f 0 104.6px,#522471 0 106.3px,#46206e 0 108.0px,#522471 0 109.8px,#46206e 0 111.5px,#321e5f 0 113.2px,#522471 0 114.9px,#321e5f 0 120.1px,#522471 0 121.8px,#46206e 0 123.5px,#582773 0 126.9px,#321e5f 0 128.6px,#46206e 0 130.3px,#582773 0 132.1px,#4c2270 0 133.8px,#522471 0 135.5px,#582773 0 137.2px,#3f1f69 0 138.9px,#321e5f 0 140.6px,#391f64 0 149.2px,#2f1e59 0 150.9px,#321e5f 0 156.1px,#522471 0 157.8px,#6f2875 0 159.5px,#862a74 0 161.2px,#8d2b73 0 162.9px,#952c72 0 164.6px,#6f2875 0 166.4px,#762876 0 168.1px,#862a74 0 169.8px,#952c72 0 171.5px,#862a74 0 173.2px,#762876 0 174.9px,#672875 0 176.6px,#321e5f 0 178.4px,#391f64 0 180.1px,#321e5f 0 183.5px,#2f1e59 0 185.2px,#321e5f 0 188.7px,#391f64 0 192.1px,#321e5f 0 193.8px,#391f64 0 195.5px,#2f1e59 0 197.2px,#321e5f 0 198.9px,#391f64 0 204.1px,#2f1e59 0 207.5px,#321e5f 0 216.1px,#2f1e59 0 217.8px,#321e5f 0 219.5px,#2f1e59 0 221.2px,#391f64 0 224.7px,#2f1e59 0 226.4px,#321e5f 0 228.1px,#391f64 0 231.5px,#321e5f 0 236.7px,#2f1e59 0 238.4px,#321e5f 0 247.0px,#2f1e59 0 250.4px,#391f64 0 252.1px,#321e5f 0 253.8px,#2f1e59 0 255.5px,#391f64 0 259.0px,#321e5f 0 260.5px)"></div><div style="top:31.33px;height:3.01px;background:linear-gradient(90deg,#2b1e54 0 1.7px,#2f1e59 0 5.1px,#2b1e54 0 8.6px,#321e5f 0 12.0px,#2b1e54 0 13.7px,#321e5f 0 15.4px,#2b1e54 0 17.2px,#321e5f 0 18.9px,#2b1e54 0 20.6px,#2f1e59 0 24.0px,#2b1e54 0 27.4px,#321e5f 0 30.9px,#2b1e54 0 32.6px,#2f1e59 0 34.3px,#321e5f 0 36.0px,#2b1e54 0 41.2px,#2f1e59 0 42.9px,#2b1e54 0 44.6px,#2f1e59 0 46.3px,#2b1e54 0 48.0px,#2f1e59 0 49.7px,#2b1e54 0 53.2px,#9d2d70 0 54.9px,#5f2874 0 56.6px,#9d2d70 0 58.3px,#762876 0 60.0px,#7e2975 0 63.5px,#862a74 0 65.2px,#7e2975 0 66.9px,#5f2874 0 73.7px,#8d2b73 0 77.2px,#762876 0 78.9px,#7e2975 0 82.3px,#9d2d70 0 84.0px,#a4306c 0 85.8px,#2f1e59 0 87.5px,#2b1e54 0 89.2px,#2f1e59 0 90.9px,#321e5f 0 92.6px,#2f1e59 0 94.3px,#2b1e54 0 96.0px,#2f1e59 0 99.5px,#2b1e54 0 101.2px,#2f1e59 0 104.6px,#321e5f 0 108.0px,#522471 0 109.8px,#582773 0 111.5px,#522471 0 113.2px,#46206e 0 114.9px,#522471 0 116.6px,#321e5f 0 118.3px,#4c2270 0 121.8px,#321e5f 0 123.5px,#46206e 0 125.2px,#321e5f 0 128.6px,#4c2270 0 130.3px,#46206e 0 133.8px,#3f1f69 0 135.5px,#46206e 0 137.2px,#321e5f 0 138.9px,#2b1e54 0 142.3px,#321e5f 0 144.1px,#2b1e54 0 145.8px,#2f1e59 0 147.5px,#321e5f 0 150.9px,#2f1e59 0 152.6px,#321e5f 0 154.3px,#2b1e54 0 156.1px,#672875 0 157.8px,#6f2875 0 159.5px,#522471 0 162.9px,#952c72 0 164.6px,#762876 0 166.4px,#7e2975 0 168.1px,#522471 0 169.8px,#862a74 0 173.2px,#762876 0 176.6px,#321e5f 0 178.4px,#2b1e54 0 181.8px,#2f1e59 0 185.2px,#321e5f 0 186.9px,#2f1e59 0 190.4px,#321e5f 0 192.1px,#2f1e59 0 195.5px,#321e5f 0 197.2px,#2b1e54 0 198.9px,#2f1e59 0 200.7px,#321e5f 0 202.4px,#2b1e54 0 204.1px,#2f1e59 0 205.8px,#2b1e54 0 207.5px,#321e5f 0 209.2px,#2f1e59 0 210.9px,#2b1e54 0 212.7px,#2f1e59 0 214.4px,#2b1e54 0 217.8px,#2f1e59 0 224.7px,#2b1e54 0 228.1px,#321e5f 0 231.5px,#2f1e59 0 235.0px,#2b1e54 0 236.7px,#2f1e59 0 238.4px,#2b1e54 0 241.8px,#2f1e59 0 248.7px,#2b1e54 0 252.1px,#2f1e59 0 253.8px,#321e5f 0 255.5px,#2b1e54 0 257.2px,#321e5f 0 259.0px,#2b1e54 0 260.5px)"></div><div style="top:33.74px;height:3.01px;background:linear-gradient(90deg,#2f1e59 0 3.4px,#281e4e 0 6.9px,#321e5f 0 8.6px,#2b1e54 0 10.3px,#281e4e 0 12.0px,#2b1e54 0 13.7px,#281e4e 0 15.4px,#2b1e54 0 17.2px,#281e4e 0 18.9px,#2f1e59 0 24.0px,#281e4e 0 25.7px,#2b1e54 0 29.2px,#2f1e59 0 30.9px,#281e4e 0 34.3px,#2f1e59 0 37.7px,#321e5f 0 39.4px,#2f1e59 0 42.9px,#281e4e 0 44.6px,#2b1e54 0 48.0px,#2f1e59 0 49.7px,#321e5f 0 51.5px,#2f1e59 0 53.2px,#7e2975 0 54.9px,#762876 0 56.6px,#6f2875 0 58.3px,#582773 0 61.7px,#952c72 0 63.5px,#6f2875 0 65.2px,#582773 0 66.9px,#8d2b73 0 70.3px,#952c72 0 72.0px,#862a74 0 73.7px,#582773 0 75.5px,#762876 0 77.2px,#582773 0 78.9px,#7e2975 0 80.6px,#862a74 0 82.3px,#281e4e 0 84.0px,#2f1e59 0 87.5px,#2b1e54 0 96.0px,#2f1e59 0 97.8px,#2b1e54 0 102.9px,#2f1e59 0 104.6px,#582773 0 106.3px,#4c2270 0 108.0px,#582773 0 111.5px,#321e5f 0 113.2px,#4c2270 0 114.9px,#522471 0 116.6px,#321e5f 0 118.3px,#582773 0 120.1px,#4c2270 0 125.2px,#522471 0 126.9px,#4c2270 0 128.6px,#46206e 0 130.3px,#4c2270 0 132.1px,#522471 0 133.8px,#46206e 0 135.5px,#321e5f 0 137.2px,#46206e 0 138.9px,#281e4e 0 140.6px,#2b1e54 0 142.3px,#281e4e 0 144.1px,#2b1e54 0 145.8px,#281e4e 0 147.5px,#2b1e54 0 149.2px,#2f1e59 0 152.6px,#281e4e 0 156.1px,#672875 0 157.8px,#7e2975 0 159.5px,#952c72 0 161.2px,#862a74 0 164.6px,#952c72 0 166.4px,#6f2875 0 168.1px,#672875 0 169.8px,#522471 0 171.5px,#8d2b73 0 173.2px,#6f2875 0 174.9px,#7e2975 0 176.6px,#2f1e59 0 180.1px,#2b1e54 0 183.5px,#2f1e59 0 185.2px,#321e5f 0 186.9px,#281e4e 0 188.7px,#2f1e59 0 192.1px,#2b1e54 0 195.5px,#2f1e59 0 197.2px,#281e4e 0 198.9px,#2b1e54 0 200.7px,#2f1e59 0 202.4px,#2b1e54 0 205.8px,#281e4e 0 209.2px,#2f1e59 0 210.9px,#281e4e 0 212.7px,#2b1e54 0 214.4px,#2f1e59 0 221.2px,#2b1e54 0 233.2px,#2f1e59 0 238.4px,#2b1e54 0 240.1px,#281e4e 0 241.8px,#321e5f 0 243.5px,#2f1e59 0 245.2px,#2b1e54 0 247.0px,#281e4e 0 250.4px,#2f1e59 0 252.1px,#281e4e 0 257.2px,#2f1e59 0 260.5px)"></div><div style="top:36.15px;height:3.01px;background:linear-gradient(90deg,#2f1e59 0 1.7px,#321e5f 0 3.4px,#2f1e59 0 6.9px,#2b1e54 0 8.6px,#391f64 0 10.3px,#2b1e54 0 12.0px,#391f64 0 13.7px,#2f1e59 0 15.4px,#391f64 0 17.2px,#321e5f 0 18.9px,#2f1e59 0 20.6px,#391f64 0 22.3px,#321e5f 0 24.0px,#2f1e59 0 25.7px,#2b1e54 0 27.4px,#2f1e59 0 30.9px,#321e5f 0 36.0px,#2f1e59 0 37.7px,#321e5f 0 39.4px,#2f1e59 0 41.2px,#2b1e54 0 42.9px,#2f1e59 0 44.6px,#321e5f 0 46.3px,#2f1e59 0 53.2px,#8d2b73 0 54.9px,#952c72 0 56.6px,#c13e5d 0 58.3px,#9d2d70 0 60.0px,#952c72 0 61.7px,#c13e5d 0 63.5px,#9d2d70 0 65.2px,#c13e5d 0 66.9px,#a4306c 0 68.6px,#8d2b73 0 72.0px,#ac3268 0 73.7px,#b43464 0 75.5px,#952c72 0 77.2px,#b43464 0 78.9px,#a4306c 0 80.6px,#8d2b73 0 82.3px,#321e5f 0 84.0px,#2b1e54 0 85.8px,#321e5f 0 87.5px,#2b1e54 0 89.2px,#321e5f 0 92.6px,#2f1e59 0 94.3px,#321e5f 0 96.0px,#2f1e59 0 102.9px,#321e5f 0 104.6px,#522471 0 106.3px,#4c2270 0 108.0px,#321e5f 0 109.8px,#582773 0 111.5px,#321e5f 0 113.2px,#522471 0 114.9px,#582773 0 116.6px,#321e5f 0 118.3px,#4c2270 0 120.1px,#46206e 0 121.8px,#321e5f 0 123.5px,#522471 0 126.9px,#4c2270 0 128.6px,#582773 0 132.1px,#46206e 0 133.8px,#582773 0 135.5px,#46206e 0 137.2px,#4c2270 0 138.9px,#321e5f 0 140.6px,#2b1e54 0 142.3px,#391f64 0 144.1px,#2b1e54 0 145.8px,#321e5f 0 147.5px,#2f1e59 0 149.2px,#321e5f 0 152.6px,#2f1e59 0 154.3px,#2b1e54 0 156.1px,#6f2875 0 159.5px,#7e2975 0 161.2px,#6f2875 0 162.9px,#7e2975 0 164.6px,#6f2875 0 166.4px,#8d2b73 0 168.1px,#6f2875 0 171.5px,#522471 0 173.2px,#862a74 0 174.9px,#522471 0 176.6px,#2f1e59 0 178.4px,#391f64 0 180.1px,#321e5f 0 181.8px,#2b1e54 0 183.5px,#321e5f 0 185.2px,#2b1e54 0 186.9px,#2f1e59 0 188.7px,#321e5f 0 190.4px,#2f1e59 0 192.1px,#321e5f 0 195.5px,#2f1e59 0 197.2px,#321e5f 0 198.9px,#2f1e59 0 202.4px,#2b1e54 0 204.1px,#321e5f 0 210.9px,#391f64 0 212.7px,#2f1e59 0 216.1px,#321e5f 0 217.8px,#2b1e54 0 219.5px,#2f1e59 0 221.2px,#321e5f 0 223.0px,#391f64 0 224.7px,#2f1e59 0 226.4px,#321e5f 0 231.5px,#2b1e54 0 233.2px,#321e5f 0 235.0px,#2f1e59 0 236.7px,#321e5f 0 238.4px,#2f1e59 0 241.8px,#2b1e54 0 243.5px,#2f1e59 0 247.0px,#2b1e54 0 248.7px,#321e5f 0 252.1px,#391f64 0 253.8px,#321e5f 0 255.5px,#391f64 0 259.0px,#2f1e59 0 260.5px)"></div><div style="top:38.56px;height:3.01px;background:linear-gradient(90deg,#2f1e59 0 1.7px,#281e4e 0 3.4px,#2b1e54 0 5.1px,#2f1e59 0 6.9px,#2b1e54 0 8.6px,#2f1e59 0 10.3px,#2b1e54 0 12.0px,#281e4e 0 13.7px,#2b1e54 0 17.2px,#321e5f 0 18.9px,#281e4e 0 20.6px,#321e5f 0 22.3px,#2b1e54 0 25.7px,#321e5f 0 27.4px,#281e4e 0 29.2px,#2b1e54 0 32.6px,#2f1e59 0 36.0px,#2b1e54 0 37.7px,#281e4e 0 39.4px,#2f1e59 0 41.2px,#281e4e 0 42.9px,#2f1e59 0 46.3px,#281e4e 0 48.0px,#2b1e54 0 53.2px,#862a74 0 54.9px,#8d2b73 0 56.6px,#9d2d70 0 58.3px,#862a74 0 60.0px,#762876 0 61.7px,#952c72 0 63.5px,#5f2874 0 65.2px,#862a74 0 68.6px,#7e2975 0 70.3px,#5f2874 0 72.0px,#8d2b73 0 73.7px,#a4306c 0 75.5px,#952c72 0 77.2px,#8d2b73 0 78.9px,#a4306c 0 82.3px,#862a74 0 84.0px,#5f2874 0 85.8px,#a4306c 0 87.5px,#762876 0 89.2px,#2b1e54 0 90.9px,#2f1e59 0 92.6px,#321e5f 0 94.3px,#281e4e 0 96.0px,#2f1e59 0 101.2px,#2b1e54 0 104.6px,#4c2270 0 106.3px,#522471 0 108.0px,#321e5f 0 111.5px,#46206e 0 113.2px,#4c2270 0 114.9px,#46206e 0 116.6px,#582773 0 118.3px,#522471 0 120.1px,#3f1f69 0 121.8px,#582773 0 123.5px,#3f1f69 0 125.2px,#582773 0 126.9px,#321e5f 0 128.6px,#46206e 0 130.3px,#582773 0 132.1px,#522471 0 133.8px,#3f1f69 0 135.5px,#4c2270 0 137.2px,#582773 0 138.9px,#2f1e59 0 140.6px,#2b1e54 0 144.1px,#2f1e59 0 145.8px,#2b1e54 0 147.5px,#2f1e59 0 149.2px,#2b1e54 0 150.9px,#2f1e59 0 152.6px,#2b1e54 0 154.3px,#2f1e59 0 156.1px,#952c72 0 159.5px,#762876 0 161.2px,#522471 0 162.9px,#8d2b73 0 166.4px,#522471 0 171.5px,#8d2b73 0 173.2px,#952c72 0 174.9px,#6f2875 0 176.6px,#281e4e 0 178.4px,#2b1e54 0 181.8px,#281e4e 0 183.5px,#2f1e59 0 186.9px,#321e5f 0 188.7px,#281e4e 0 192.1px,#2b1e54 0 193.8px,#2f1e59 0 195.5px,#321e5f 0 197.2px,#2f1e59 0 200.7px,#281e4e 0 202.4px,#2f1e59 0 204.1px,#2b1e54 0 205.8px,#2f1e59 0 209.2px,#2b1e54 0 210.9px,#281e4e 0 214.4px,#2f1e59 0 216.1px,#321e5f 0 217.8px,#2b1e54 0 221.2px,#2f1e59 0 223.0px,#281e4e 0 224.7px,#2b1e54 0 226.4px,#281e4e 0 229.8px,#2b1e54 0 235.0px,#281e4e 0 236.7px,#2b1e54 0 240.1px,#281e4e 0 241.8px,#2f1e59 0 243.5px,#2b1e54 0 247.0px,#281e4e 0 248.7px,#2f1e59 0 253.8px,#281e4e 0 255.5px,#2b1e54 0 259.0px,#321e5f 0 260.5px)"></div><div style="top:40.97px;height:3.01px;background:linear-gradient(90deg,#321e5f 0 1.7px,#2f1e59 0 8.6px,#321e5f 0 10.3px,#2b1e54 0 13.7px,#2f1e59 0 15.4px,#2b1e54 0 18.9px,#2f1e59 0 20.6px,#2b1e54 0 22.3px,#2f1e59 0 25.7px,#2b1e54 0 29.2px,#2f1e59 0 30.9px,#2b1e54 0 36.0px,#321e5f 0 39.4px,#2f1e59 0 41.2px,#2b1e54 0 42.9px,#321e5f 0 44.6px,#2f1e59 0 46.3px,#2b1e54 0 48.0px,#2f1e59 0 49.7px,#321e5f 0 51.5px,#2b1e54 0 53.2px,#2f1e59 0 56.6px,#2b1e54 0 58.3px,#2f1e59 0 60.0px,#321e5f 0 63.5px,#2b1e54 0 68.6px,#2f1e59 0 70.3px,#2b1e54 0 72.0px,#321e5f 0 73.7px,#2b1e54 0 77.2px,#2f1e59 0 78.9px,#321e5f 0 80.6px,#2f1e59 0 84.0px,#2b1e54 0 87.5px,#2f1e59 0 89.2px,#2b1e54 0 90.9px,#2f1e59 0 94.3px,#2b1e54 0 96.0px,#321e5f 0 97.8px,#2f1e59 0 99.5px,#2b1e54 0 101.2px,#2f1e59 0 108.0px,#321e5f 0 113.2px,#2f1e59 0 114.9px,#321e5f 0 116.6px,#2b1e54 0 118.3px,#2f1e59 0 121.8px,#321e5f 0 128.6px,#2b1e54 0 130.3px,#2f1e59 0 132.1px,#321e5f 0 133.8px,#2b1e54 0 135.5px,#2f1e59 0 140.6px,#321e5f 0 152.6px,#2b1e54 0 154.3px,#321e5f 0 156.1px,#762876 0 157.8px,#6f2875 0 159.5px,#762876 0 161.2px,#952c72 0 162.9px,#6f2875 0 164.6px,#522471 0 166.4px,#952c72 0 168.1px,#8d2b73 0 169.8px,#522471 0 171.5px,#862a74 0 173.2px,#522471 0 174.9px,#8d2b73 0 176.6px,#321e5f 0 178.4px,#2f1e59 0 180.1px,#2b1e54 0 186.9px,#2f1e59 0 192.1px,#321e5f 0 193.8px,#2b1e54 0 197.2px,#321e5f 0 198.9px,#2f1e59 0 202.4px,#2b1e54 0 209.2px,#2f1e59 0 210.9px,#2b1e54 0 214.4px,#2f1e59 0 216.1px,#321e5f 0 217.8px,#2b1e54 0 221.2px,#321e5f 0 223.0px,#2b1e54 0 226.4px,#321e5f 0 228.1px,#2b1e54 0 229.8px,#321e5f 0 233.2px,#2f1e59 0 241.8px,#321e5f 0 245.2px,#2f1e59 0 247.0px,#321e5f 0 248.7px,#2b1e54 0 250.4px,#321e5f 0 252.1px,#2f1e59 0 253.8px,#2b1e54 0 255.5px,#2f1e59 0 257.2px,#2b1e54 0 259.0px,#321e5f 0 260.5px)"></div><div style="top:43.38px;height:3.01px;background:linear-gradient(90deg,#321e5f 0 1.7px,#391f64 0 3.4px,#321e5f 0 5.1px,#391f64 0 6.9px,#3f1f69 0 8.6px,#321e5f 0 10.3px,#391f64 0 13.7px,#3f1f69 0 15.4px,#391f64 0 17.2px,#321e5f 0 18.9px,#3f1f69 0 20.6px,#391f64 0 27.4px,#3f1f69 0 29.2px,#321e5f 0 30.9px,#391f64 0 32.6px,#3f1f69 0 34.3px,#321e5f 0 36.0px,#3f1f69 0 37.7px,#321e5f 0 41.2px,#391f64 0 42.9px,#321e5f 0 49.7px,#391f64 0 51.5px,#321e5f 0 53.2px,#3f1f69 0 54.9px,#391f64 0 56.6px,#3f1f69 0 58.3px,#321e5f 0 60.0px,#3f1f69 0 63.5px,#321e5f 0 65.2px,#391f64 0 66.9px,#3f1f69 0 70.3px,#391f64 0 72.0px,#321e5f 0 75.5px,#3f1f69 0 77.2px,#321e5f 0 80.6px,#3f1f69 0 82.3px,#321e5f 0 84.0px,#391f64 0 85.8px,#321e5f 0 87.5px,#391f64 0 89.2px,#321e5f 0 92.6px,#391f64 0 94.3px,#3f1f69 0 96.0px,#391f64 0 97.8px,#3f1f69 0 99.5px,#321e5f 0 101.2px,#391f64 0 102.9px,#3f1f69 0 104.6px,#7e2975 0 109.8px,#582773 0 113.2px,#862a74 0 114.9px,#8d2b73 0 116.6px,#582773 0 118.3px,#6f2875 0 120.1px,#952c72 0 121.8px,#7e2975 0 123.5px,#582773 0 126.9px,#7e2975 0 128.6px,#762876 0 130.3px,#582773 0 132.1px,#7e2975 0 133.8px,#762876 0 135.5px,#582773 0 137.2px,#9d2d70 0 138.9px,#3f1f69 0 140.6px,#391f64 0 142.3px,#3f1f69 0 144.1px,#391f64 0 145.8px,#3f1f69 0 149.2px,#391f64 0 156.1px,#582773 0 157.8px,#6f2875 0 159.5px,#762876 0 161.2px,#582773 0 162.9px,#762876 0 164.6px,#5f2874 0 166.4px,#582773 0 168.1px,#672875 0 169.8px,#762876 0 171.5px,#672875 0 173.2px,#46206e 0 174.9px,#5f2874 0 176.6px,#6f2875 0 181.8px,#3f1f69 0 185.2px,#321e5f 0 188.7px,#391f64 0 190.4px,#321e5f 0 192.1px,#391f64 0 193.8px,#321e5f 0 195.5px,#391f64 0 198.9px,#3f1f69 0 200.7px,#391f64 0 202.4px,#321e5f 0 205.8px,#391f64 0 207.5px,#321e5f 0 209.2px,#391f64 0 210.9px,#3f1f69 0 212.7px,#391f64 0 217.8px,#321e5f 0 219.5px,#391f64 0 221.2px,#3f1f69 0 223.0px,#391f64 0 228.1px,#321e5f 0 229.8px,#3f1f69 0 231.5px,#321e5f 0 233.2px,#3f1f69 0 236.7px,#391f64 0 240.1px,#3f1f69 0 241.8px,#321e5f 0 245.2px,#3f1f69 0 247.0px,#391f64 0 253.8px,#3f1f69 0 257.2px,#391f64 0 259.0px,#321e5f 0 260.5px)"></div><div style="top:45.79px;height:3.01px;background:linear-gradient(90deg,#2f1e59 0 1.7px,#391f64 0 3.4px,#2f1e59 0 5.1px,#321e5f 0 8.6px,#2f1e59 0 10.3px,#391f64 0 12.0px,#2f1e59 0 13.7px,#391f64 0 15.4px,#2f1e59 0 18.9px,#321e5f 0 22.3px,#2f1e59 0 24.0px,#391f64 0 27.4px,#321e5f 0 29.2px,#2f1e59 0 30.9px,#321e5f 0 32.6px,#2f1e59 0 34.3px,#2b1e54 0 36.0px,#2f1e59 0 37.7px,#321e5f 0 39.4px,#2f1e59 0 41.2px,#391f64 0 42.9px,#321e5f 0 46.3px,#2f1e59 0 48.0px,#391f64 0 49.7px,#2f1e59 0 51.5px,#321e5f 0 56.6px,#2f1e59 0 60.0px,#2b1e54 0 61.7px,#321e5f 0 63.5px,#2b1e54 0 65.2px,#2f1e59 0 66.9px,#2b1e54 0 68.6px,#2f1e59 0 70.3px,#2b1e54 0 72.0px,#2f1e59 0 75.5px,#2b1e54 0 77.2px,#2f1e59 0 78.9px,#321e5f 0 80.6px,#2f1e59 0 82.3px,#321e5f 0 84.0px,#2f1e59 0 87.5px,#321e5f 0 90.9px,#2f1e59 0 94.3px,#321e5f 0 96.0px,#391f64 0 97.8px,#321e5f 0 101.2px,#2f1e59 0 104.6px,#862a74 0 106.3px,#8d2b73 0 108.0px,#862a74 0 109.8px,#9d2d70 0 111.5px,#8d2b73 0 113.2px,#862a74 0 114.9px,#582773 0 116.6px,#952c72 0 118.3px,#582773 0 120.1px,#8d2b73 0 121.8px,#952c72 0 123.5px,#762876 0 125.2px,#8d2b73 0 126.9px,#9d2d70 0 128.6px,#582773 0 130.3px,#8d2b73 0 132.1px,#862a74 0 133.8px,#762876 0 135.5px,#952c72 0 137.2px,#7e2975 0 138.9px,#391f64 0 140.6px,#321e5f 0 142.3px,#2f1e59 0 144.1px,#391f64 0 145.8px,#2f1e59 0 147.5px,#391f64 0 149.2px,#2f1e59 0 150.9px,#321e5f 0 154.3px,#391f64 0 156.1px,#762876 0 157.8px,#672875 0 159.5px,#46206e 0 161.2px,#762876 0 162.9px,#46206e 0 164.6px,#582773 0 166.4px,#46206e 0 168.1px,#5f2874 0 171.5px,#46206e 0 173.2px,#5f2874 0 174.9px,#762876 0 176.6px,#46206e 0 178.4px,#762876 0 180.1px,#672875 0 181.8px,#321e5f 0 183.5px,#391f64 0 185.2px,#2f1e59 0 186.9px,#391f64 0 188.7px,#2b1e54 0 190.4px,#321e5f 0 200.7px,#2b1e54 0 204.1px,#2f1e59 0 205.8px,#321e5f 0 207.5px,#2f1e59 0 209.2px,#321e5f 0 210.9px,#391f64 0 212.7px,#321e5f 0 214.4px,#2f1e59 0 216.1px,#391f64 0 217.8px,#2b1e54 0 219.5px,#2f1e59 0 223.0px,#321e5f 0 224.7px,#2f1e59 0 226.4px,#2b1e54 0 228.1px,#2f1e59 0 229.8px,#321e5f 0 233.2px,#2f1e59 0 236.7px,#2b1e54 0 238.4px,#2f1e59 0 245.2px,#321e5f 0 250.4px,#2f1e59 0 252.1px,#321e5f 0 253.8px,#2b1e54 0 255.5px,#321e5f 0 257.2px,#2b1e54 0 259.0px,#321e5f 0 260.5px)"></div><div style="top:48.20px;height:3.01px;background:linear-gradient(90deg,#3f1f69 0 1.7px,#391f64 0 5.1px,#3f1f69 0 6.9px,#321e5f 0 8.6px,#2f1e59 0 10.3px,#391f64 0 15.4px,#321e5f 0 18.9px,#3f1f69 0 20.6px,#321e5f 0 22.3px,#3f1f69 0 24.0px,#391f64 0 25.7px,#3f1f69 0 27.4px,#321e5f 0 32.6px,#391f64 0 36.0px,#2f1e59 0 39.4px,#391f64 0 42.9px,#321e5f 0 44.6px,#391f64 0 49.7px,#3f1f69 0 53.2px,#321e5f 0 65.2px,#391f64 0 66.9px,#321e5f 0 68.6px,#391f64 0 70.3px,#321e5f 0 72.0px,#3f1f69 0 73.7px,#321e5f 0 75.5px,#391f64 0 80.6px,#3f1f69 0 82.3px,#391f64 0 85.8px,#321e5f 0 87.5px,#391f64 0 89.2px,#321e5f 0 92.6px,#2f1e59 0 94.3px,#3f1f69 0 96.0px,#391f64 0 104.6px,#762876 0 106.3px,#582773 0 108.0px,#952c72 0 109.8px,#582773 0 114.9px,#952c72 0 116.6px,#762876 0 118.3px,#9d2d70 0 120.1px,#6f2875 0 121.8px,#762876 0 123.5px,#582773 0 125.2px,#6f2875 0 126.9px,#582773 0 128.6px,#8d2b73 0 130.3px,#952c72 0 132.1px,#8d2b73 0 133.8px,#7e2975 0 135.5px,#762876 0 137.2px,#8d2b73 0 138.9px,#321e5f 0 142.3px,#3f1f69 0 144.1px,#391f64 0 145.8px,#321e5f 0 152.6px,#391f64 0 156.1px,#762876 0 159.5px,#672875 0 161.2px,#762876 0 162.9px,#46206e 0 164.6px,#672875 0 166.4px,#5f2874 0 168.1px,#762876 0 169.8px,#6f2875 0 171.5px,#522471 0 173.2px,#762876 0 176.6px,#6f2875 0 180.1px,#582773 0 181.8px,#321e5f 0 183.5px,#391f64 0 185.2px,#321e5f 0 188.7px,#391f64 0 192.1px,#321e5f 0 193.8px,#2f1e59 0 195.5px,#321e5f 0 197.2px,#2f1e59 0 198.9px,#321e5f 0 205.8px,#391f64 0 207.5px,#321e5f 0 210.9px,#3f1f69 0 214.4px,#321e5f 0 216.1px,#391f64 0 217.8px,#3f1f69 0 219.5px,#391f64 0 223.0px,#321e5f 0 224.7px,#2f1e59 0 226.4px,#391f64 0 228.1px,#321e5f 0 231.5px,#2f1e59 0 233.2px,#321e5f 0 235.0px,#2f1e59 0 236.7px,#321e5f 0 238.4px,#391f64 0 240.1px,#2f1e59 0 241.8px,#391f64 0 243.5px,#321e5f 0 245.2px,#3f1f69 0 248.7px,#391f64 0 260.5px)"></div><div style="top:50.61px;height:3.01px;background:linear-gradient(90deg,#321e5f 0 3.4px,#2f1e59 0 5.1px,#391f64 0 6.9px,#2f1e59 0 10.3px,#321e5f 0 13.7px,#2f1e59 0 15.4px,#391f64 0 17.2px,#321e5f 0 18.9px,#2f1e59 0 20.6px,#391f64 0 22.3px,#321e5f 0 24.0px,#391f64 0 25.7px,#321e5f 0 27.4px,#2f1e59 0 32.6px,#391f64 0 34.3px,#2f1e59 0 44.6px,#391f64 0 46.3px,#321e5f 0 48.0px,#2f1e59 0 54.9px,#391f64 0 56.6px,#321e5f 0 58.3px,#391f64 0 60.0px,#2f1e59 0 61.7px,#321e5f 0 65.2px,#2f1e59 0 70.3px,#391f64 0 72.0px,#321e5f 0 73.7px,#2f1e59 0 75.5px,#391f64 0 77.2px,#2f1e59 0 78.9px,#321e5f 0 84.0px,#2f1e59 0 85.8px,#321e5f 0 87.5px,#391f64 0 90.9px,#2f1e59 0 92.6px,#321e5f 0 94.3px,#2f1e59 0 101.2px,#321e5f 0 102.9px,#391f64 0 104.6px,#862a74 0 106.3px,#762876 0 109.8px,#952c72 0 111.5px,#7e2975 0 113.2px,#8d2b73 0 116.6px,#762876 0 118.3px,#8d2b73 0 120.1px,#7e2975 0 121.8px,#582773 0 123.5px,#8d2b73 0 125.2px,#582773 0 130.3px,#762876 0 132.1px,#582773 0 133.8px,#952c72 0 135.5px,#9d2d70 0 137.2px,#8d2b73 0 138.9px,#321e5f 0 140.6px,#2f1e59 0 142.3px,#321e5f 0 144.1px,#391f64 0 145.8px,#321e5f 0 147.5px,#391f64 0 149.2px,#2f1e59 0 152.6px,#321e5f 0 156.1px,#8d2b73 0 157.8px,#7e2975 0 159.5px,#522471 0 161.2px,#6f2875 0 162.9px,#8d2b73 0 164.6px,#7e2975 0 168.1px,#762876 0 169.8px,#2f1e59 0 171.5px,#321e5f 0 173.2px,#2f1e59 0 176.6px,#321e5f 0 178.4px,#2f1e59 0 180.1px,#391f64 0 181.8px,#321e5f 0 183.5px,#391f64 0 185.2px,#321e5f 0 186.9px,#391f64 0 188.7px,#2f1e59 0 190.4px,#2b1e54 0 192.1px,#321e5f 0 193.8px,#2f1e59 0 197.2px,#321e5f 0 198.9px,#2f1e59 0 200.7px,#321e5f 0 202.4px,#2f1e59 0 205.8px,#321e5f 0 207.5px,#391f64 0 209.2px,#321e5f 0 212.7px,#2f1e59 0 216.1px,#321e5f 0 217.8px,#391f64 0 219.5px,#321e5f 0 223.0px,#2f1e59 0 226.4px,#321e5f 0 229.8px,#391f64 0 231.5px,#321e5f 0 233.2px,#391f64 0 235.0px,#321e5f 0 236.7px,#2f1e59 0 238.4px,#391f64 0 243.5px,#2f1e59 0 247.0px,#391f64 0 248.7px,#321e5f 0 252.1px,#2f1e59 0 253.8px,#321e5f 0 255.5px,#2f1e59 0 257.2px,#321e5f 0 259.0px,#2f1e59 0 260.5px)"></div><div style="top:53.02px;height:3.01px;background:linear-gradient(90deg,#391f64 0 3.4px,#46206e 0 5.1px,#391f64 0 10.3px,#3f1f69 0 13.7px,#391f64 0 15.4px,#3f1f69 0 17.2px,#46206e 0 18.9px,#3f1f69 0 20.6px,#391f64 0 22.3px,#46206e 0 24.0px,#3f1f69 0 25.7px,#46206e 0 32.6px,#3f1f69 0 34.3px,#46206e 0 36.0px,#3f1f69 0 39.4px,#46206e 0 41.2px,#391f64 0 46.3px,#3f1f69 0 48.0px,#46206e 0 49.7px,#3f1f69 0 53.2px,#391f64 0 54.9px,#46206e 0 56.6px,#391f64 0 60.0px,#582773 0 61.7px,#672875 0 63.5px,#5f2874 0 66.9px,#672875 0 70.3px,#391f64 0 72.0px,#672875 0 73.7px,#522471 0 75.5px,#5f2874 0 77.2px,#4c2270 0 80.6px,#391f64 0 82.3px,#5f2874 0 85.8px,#391f64 0 89.2px,#3f1f69 0 90.9px,#46206e 0 94.3px,#3f1f69 0 102.9px,#46206e 0 104.6px,#c13e5d 0 106.3px,#f08826 0 108.0px,#ed8129 0 109.8px,#eb792c 0 113.2px,#f5d553 0 114.9px,#f6be35 0 116.6px,#df5d3a 0 118.3px,#ed8129 0 120.1px,#46206e 0 125.2px,#3f1f69 0 133.8px,#391f64 0 135.5px,#3f1f69 0 137.2px,#391f64 0 138.9px,#46206e 0 140.6px,#3f1f69 0 142.3px,#391f64 0 144.1px,#3f1f69 0 145.8px,#46206e 0 147.5px,#391f64 0 149.2px,#3f1f69 0 152.6px,#391f64 0 156.1px,#762876 0 157.8px,#6f2875 0 159.5px,#522471 0 161.2px,#6f2875 0 164.6px,#522471 0 168.1px,#e76b32 0 169.8px,#c13e5d 0 171.5px,#46206e 0 173.2px,#391f64 0 174.9px,#3f1f69 0 176.6px,#46206e 0 178.4px,#391f64 0 185.2px,#3f1f69 0 186.9px,#391f64 0 188.7px,#46206e 0 190.4px,#3f1f69 0 193.8px,#391f64 0 195.5px,#46206e 0 198.9px,#391f64 0 200.7px,#3f1f69 0 202.4px,#46206e 0 204.1px,#3f1f69 0 207.5px,#391f64 0 209.2px,#3f1f69 0 210.9px,#391f64 0 212.7px,#46206e 0 216.1px,#391f64 0 217.8px,#46206e 0 219.5px,#3f1f69 0 221.2px,#391f64 0 223.0px,#46206e 0 224.7px,#3f1f69 0 226.4px,#391f64 0 228.1px,#46206e 0 229.8px,#3f1f69 0 235.0px,#391f64 0 236.7px,#3f1f69 0 238.4px,#46206e 0 241.8px,#3f1f69 0 243.5px,#46206e 0 245.2px,#3f1f69 0 247.0px,#391f64 0 248.7px,#46206e 0 250.4px,#3f1f69 0 252.1px,#46206e 0 253.8px,#391f64 0 260.5px)"></div><div style="top:55.43px;height:3.01px;background:linear-gradient(90deg,#321e5f 0 5.1px,#2f1e59 0 6.9px,#321e5f 0 8.6px,#2b1e54 0 10.3px,#2f1e59 0 12.0px,#321e5f 0 15.4px,#2f1e59 0 20.6px,#321e5f 0 24.0px,#2f1e59 0 27.4px,#321e5f 0 29.2px,#2b1e54 0 30.9px,#321e5f 0 32.6px,#2f1e59 0 34.3px,#2b1e54 0 37.7px,#2f1e59 0 39.4px,#391f64 0 42.9px,#2f1e59 0 44.6px,#321e5f 0 46.3px,#2f1e59 0 48.0px,#321e5f 0 51.5px,#2f1e59 0 54.9px,#321e5f 0 56.6px,#2f1e59 0 58.3px,#321e5f 0 60.0px,#2b1e54 0 61.7px,#321e5f 0 63.5px,#2b1e54 0 65.2px,#391f64 0 66.9px,#2b1e54 0 68.6px,#321e5f 0 72.0px,#2b1e54 0 73.7px,#391f64 0 75.5px,#2f1e59 0 77.2px,#321e5f 0 78.9px,#2f1e59 0 80.6px,#391f64 0 82.3px,#321e5f 0 85.8px,#2f1e59 0 87.5px,#2b1e54 0 89.2px,#321e5f 0 92.6px,#2f1e59 0 94.3px,#2b1e54 0 96.0px,#2f1e59 0 97.8px,#321e5f 0 101.2px,#2f1e59 0 102.9px,#321e5f 0 106.3px,#2f1e59 0 111.5px,#391f64 0 113.2px,#2f1e59 0 114.9px,#321e5f 0 118.3px,#2f1e59 0 120.1px,#2b1e54 0 121.8px,#321e5f 0 123.5px,#2f1e59 0 125.2px,#321e5f 0 126.9px,#391f64 0 128.6px,#2f1e59 0 130.3px,#321e5f 0 132.1px,#2b1e54 0 133.8px,#321e5f 0 135.5px,#391f64 0 138.9px,#2b1e54 0 140.6px,#2f1e59 0 147.5px,#321e5f 0 149.2px,#2f1e59 0 150.9px,#391f64 0 152.6px,#2f1e59 0 156.1px,#f18f24 0 157.8px,#d95444 0 159.5px,#f08826 0 161.2px,#5f2874 0 162.9px,#862a74 0 166.4px,#a4306c 0 168.1px,#7e2975 0 169.8px,#2b1e54 0 173.2px,#321e5f 0 176.6px,#2f1e59 0 178.4px,#321e5f 0 181.8px,#2f1e59 0 183.5px,#321e5f 0 190.4px,#391f64 0 192.1px,#321e5f 0 195.5px,#2f1e59 0 197.2px,#2b1e54 0 198.9px,#2f1e59 0 200.7px,#2b1e54 0 202.4px,#2f1e59 0 205.8px,#321e5f 0 209.2px,#2f1e59 0 210.9px,#2b1e54 0 212.7px,#2f1e59 0 214.4px,#2b1e54 0 216.1px,#321e5f 0 219.5px,#2f1e59 0 223.0px,#321e5f 0 224.7px,#2f1e59 0 226.4px,#321e5f 0 228.1px,#2f1e59 0 231.5px,#321e5f 0 233.2px,#2f1e59 0 236.7px,#2b1e54 0 241.8px,#391f64 0 243.5px,#321e5f 0 245.2px,#2f1e59 0 250.4px,#391f64 0 252.1px,#2b1e54 0 253.8px,#2f1e59 0 257.2px,#321e5f 0 259.0px,#2f1e59 0 260.5px)"></div><div style="top:57.84px;height:3.01px;background:linear-gradient(90deg,#321e5f 0 1.7px,#391f64 0 3.4px,#3f1f69 0 5.1px,#321e5f 0 8.6px,#391f64 0 10.3px,#321e5f 0 13.7px,#391f64 0 15.4px,#321e5f 0 17.2px,#391f64 0 25.7px,#3f1f69 0 27.4px,#391f64 0 32.6px,#321e5f 0 34.3px,#391f64 0 37.7px,#3f1f69 0 39.4px,#391f64 0 41.2px,#321e5f 0 42.9px,#2f1e59 0 44.6px,#391f64 0 46.3px,#321e5f 0 49.7px,#391f64 0 53.2px,#2f1e59 0 54.9px,#321e5f 0 56.6px,#391f64 0 60.0px,#321e5f 0 61.7px,#391f64 0 63.5px,#321e5f 0 65.2px,#2f1e59 0 68.6px,#321e5f 0 70.3px,#2f1e59 0 72.0px,#321e5f 0 75.5px,#391f64 0 82.3px,#321e5f 0 84.0px,#391f64 0 85.8px,#2f1e59 0 87.5px,#321e5f 0 94.3px,#391f64 0 96.0px,#321e5f 0 99.5px,#2f1e59 0 101.2px,#321e5f 0 104.6px,#391f64 0 108.0px,#2f1e59 0 109.8px,#321e5f 0 113.2px,#391f64 0 114.9px,#321e5f 0 118.3px,#391f64 0 123.5px,#321e5f 0 125.2px,#2f1e59 0 126.9px,#321e5f 0 130.3px,#391f64 0 132.1px,#321e5f 0 133.8px,#391f64 0 140.6px,#321e5f 0 142.3px,#2f1e59 0 145.8px,#321e5f 0 149.2px,#391f64 0 150.9px,#321e5f 0 152.6px,#391f64 0 156.1px,#5f2874 0 157.8px,#a4306c 0 159.5px,#7e2975 0 161.2px,#f18f24 0 162.9px,#f5d553 0 164.6px,#f5cf45 0 166.4px,#8d2b73 0 169.8px,#762876 0 171.5px,#862a74 0 173.2px,#8d2b73 0 174.9px,#9d2d70 0 176.6px,#321e5f 0 178.4px,#2f1e59 0 181.8px,#391f64 0 183.5px,#2f1e59 0 185.2px,#321e5f 0 186.9px,#2f1e59 0 188.7px,#391f64 0 190.4px,#321e5f 0 200.7px,#2f1e59 0 204.1px,#391f64 0 207.5px,#321e5f 0 209.2px,#2f1e59 0 210.9px,#3f1f69 0 214.4px,#391f64 0 217.8px,#321e5f 0 221.2px,#3f1f69 0 223.0px,#391f64 0 224.7px,#2f1e59 0 226.4px,#391f64 0 228.1px,#3f1f69 0 229.8px,#321e5f 0 233.2px,#391f64 0 238.4px,#321e5f 0 241.8px,#3f1f69 0 243.5px,#321e5f 0 245.2px,#2f1e59 0 247.0px,#391f64 0 248.7px,#2f1e59 0 253.8px,#391f64 0 257.2px,#321e5f 0 259.0px,#391f64 0 260.5px)"></div><div style="top:60.25px;height:3.01px;background:linear-gradient(90deg,#2b1e54 0 1.7px,#321e5f 0 5.1px,#2b1e54 0 6.9px,#2f1e59 0 10.3px,#321e5f 0 13.7px,#2f1e59 0 15.4px,#2b1e54 0 17.2px,#321e5f 0 20.6px,#2f1e59 0 25.7px,#321e5f 0 30.9px,#2f1e59 0 32.6px,#2b1e54 0 36.0px,#2f1e59 0 37.7px,#2b1e54 0 39.4px,#321e5f 0 41.2px,#2f1e59 0 42.9px,#321e5f 0 44.6px,#2f1e59 0 46.3px,#2b1e54 0 49.7px,#321e5f 0 51.5px,#2f1e59 0 53.2px,#321e5f 0 54.9px,#2b1e54 0 56.6px,#2f1e59 0 58.3px,#2b1e54 0 60.0px,#2f1e59 0 61.7px,#321e5f 0 65.2px,#2b1e54 0 68.6px,#2f1e59 0 72.0px,#321e5f 0 73.7px,#2f1e59 0 75.5px,#321e5f 0 78.9px,#2f1e59 0 80.6px,#2b1e54 0 82.3px,#2f1e59 0 84.0px,#2b1e54 0 87.5px,#2f1e59 0 89.2px,#321e5f 0 92.6px,#2b1e54 0 94.3px,#2f1e59 0 96.0px,#2b1e54 0 97.8px,#321e5f 0 99.5px,#2f1e59 0 101.2px,#2b1e54 0 102.9px,#321e5f 0 106.3px,#2b1e54 0 108.0px,#321e5f 0 109.8px,#2b1e54 0 111.5px,#2f1e59 0 113.2px,#2b1e54 0 114.9px,#2f1e59 0 116.6px,#2b1e54 0 120.1px,#2f1e59 0 125.2px,#2b1e54 0 133.8px,#2f1e59 0 135.5px,#321e5f 0 137.2px,#2f1e59 0 138.9px,#321e5f 0 140.6px,#2b1e54 0 147.5px,#321e5f 0 149.2px,#2f1e59 0 152.6px,#321e5f 0 154.3px,#2f1e59 0 156.1px,#2b1e54 0 157.8px,#2f1e59 0 159.5px,#8d2b73 0 161.2px,#862a74 0 162.9px,#952c72 0 164.6px,#862a74 0 166.4px,#9d2d70 0 168.1px,#952c72 0 169.8px,#8d2b73 0 171.5px,#7e2975 0 173.2px,#8d2b73 0 174.9px,#7e2975 0 178.4px,#9d2d70 0 180.1px,#862a74 0 181.8px,#952c72 0 183.5px,#a4306c 0 185.2px,#5f2874 0 186.9px,#762876 0 192.1px,#a4306c 0 193.8px,#2f1e59 0 197.2px,#2b1e54 0 204.1px,#2f1e59 0 205.8px,#2b1e54 0 207.5px,#2f1e59 0 210.9px,#2b1e54 0 214.4px,#2f1e59 0 217.8px,#2b1e54 0 219.5px,#321e5f 0 224.7px,#2f1e59 0 229.8px,#2b1e54 0 231.5px,#321e5f 0 236.7px,#2b1e54 0 240.1px,#2f1e59 0 243.5px,#321e5f 0 245.2px,#2f1e59 0 247.0px,#2b1e54 0 250.4px,#321e5f 0 252.1px,#2b1e54 0 253.8px,#321e5f 0 255.5px,#2f1e59 0 257.2px,#2b1e54 0 260.5px)"></div><div style="top:62.66px;height:3.01px;background:linear-gradient(90deg,#321e5f 0 1.7px,#2f1e59 0 6.9px,#321e5f 0 10.3px,#391f64 0 13.7px,#2f1e59 0 15.4px,#321e5f 0 17.2px,#2f1e59 0 20.6px,#321e5f 0 24.0px,#2b1e54 0 25.7px,#2f1e59 0 29.2px,#321e5f 0 30.9px,#2f1e59 0 34.3px,#391f64 0 36.0px,#321e5f 0 37.7px,#2f1e59 0 44.6px,#391f64 0 46.3px,#2f1e59 0 49.7px,#391f64 0 51.5px,#2f1e59 0 54.9px,#321e5f 0 58.3px,#2b1e54 0 60.0px,#391f64 0 61.7px,#2f1e59 0 63.5px,#391f64 0 65.2px,#2f1e59 0 66.9px,#321e5f 0 70.3px,#2f1e59 0 72.0px,#321e5f 0 73.7px,#2f1e59 0 75.5px,#321e5f 0 77.2px,#2b1e54 0 78.9px,#321e5f 0 80.6px,#391f64 0 82.3px,#2f1e59 0 84.0px,#321e5f 0 85.8px,#391f64 0 87.5px,#321e5f 0 89.2px,#2f1e59 0 90.9px,#321e5f 0 92.6px,#2b1e54 0 96.0px,#321e5f 0 97.8px,#2f1e59 0 102.9px,#391f64 0 104.6px,#321e5f 0 106.3px,#2f1e59 0 108.0px,#321e5f 0 109.8px,#2b1e54 0 111.5px,#2f1e59 0 113.2px,#391f64 0 114.9px,#321e5f 0 116.6px,#2f1e59 0 118.3px,#321e5f 0 120.1px,#2f1e59 0 123.5px,#391f64 0 125.2px,#321e5f 0 126.9px,#2b1e54 0 128.6px,#321e5f 0 132.1px,#2f1e59 0 135.5px,#321e5f 0 140.6px,#2f1e59 0 142.3px,#321e5f 0 144.1px,#2f1e59 0 145.8px,#391f64 0 147.5px,#321e5f 0 150.9px,#2f1e59 0 152.6px,#2b1e54 0 156.1px,#281e4e 0 188.7px,#321e5f 0 190.4px,#2f1e59 0 195.5px,#2b1e54 0 197.2px,#2f1e59 0 200.7px,#321e5f 0 204.1px,#2f1e59 0 205.8px,#321e5f 0 210.9px,#2f1e59 0 216.1px,#2b1e54 0 217.8px,#321e5f 0 221.2px,#2f1e59 0 224.7px,#391f64 0 226.4px,#321e5f 0 228.1px,#2b1e54 0 229.8px,#321e5f 0 236.7px,#2f1e59 0 238.4px,#391f64 0 240.1px,#321e5f 0 241.8px,#2b1e54 0 243.5px,#2f1e59 0 245.2px,#321e5f 0 247.0px,#2b1e54 0 248.7px,#2f1e59 0 250.4px,#321e5f 0 260.5px)"></div><div style="top:65.07px;height:3.01px;background:linear-gradient(90deg,#2b1e54 0 1.7px,#2f1e59 0 3.4px,#321e5f 0 5.1px,#391f64 0 6.9px,#2f1e59 0 8.6px,#321e5f 0 12.0px,#2b1e54 0 13.7px,#321e5f 0 15.4px,#2f1e59 0 17.2px,#391f64 0 18.9px,#321e5f 0 22.3px,#2b1e54 0 24.0px,#321e5f 0 29.2px,#2f1e59 0 30.9px,#2b1e54 0 32.6px,#321e5f 0 34.3px,#2b1e54 0 37.7px,#2f1e59 0 39.4px,#391f64 0 41.2px,#321e5f 0 46.3px,#2b1e54 0 48.0px,#2f1e59 0 53.2px,#321e5f 0 56.6px,#2f1e59 0 63.5px,#2b1e54 0 65.2px,#321e5f 0 66.9px,#2f1e59 0 70.3px,#2b1e54 0 73.7px,#2f1e59 0 78.9px,#321e5f 0 82.3px,#2f1e59 0 85.8px,#321e5f 0 87.5px,#2b1e54 0 89.2px,#321e5f 0 94.3px,#2f1e59 0 96.0px,#2b1e54 0 97.8px,#2f1e59 0 99.5px,#321e5f 0 104.6px,#2f1e59 0 108.0px,#2b1e54 0 109.8px,#391f64 0 111.5px,#321e5f 0 118.3px,#2f1e59 0 121.8px,#321e5f 0 123.5px,#2f1e59 0 125.2px,#321e5f 0 126.9px,#391f64 0 128.6px,#321e5f 0 130.3px,#2f1e59 0 132.1px,#321e5f 0 135.5px,#2f1e59 0 137.2px,#321e5f 0 140.6px,#2f1e59 0 142.3px,#321e5f 0 144.1px,#2f1e59 0 145.8px,#321e5f 0 147.5px,#2f1e59 0 149.2px,#321e5f 0 150.9px,#2f1e59 0 152.6px,#321e5f 0 154.3px,#2f1e59 0 156.1px,#321e5f 0 157.8px,#2f1e59 0 159.5px,#b43464 0 161.2px,#f18f24 0 162.9px,#eb792c 0 164.6px,#321e5f 0 166.4px,#2f1e59 0 169.8px,#321e5f 0 171.5px,#2b1e54 0 173.2px,#321e5f 0 174.9px,#2b1e54 0 176.6px,#321e5f 0 178.4px,#2f1e59 0 180.1px,#2b1e54 0 181.8px,#321e5f 0 183.5px,#391f64 0 185.2px,#321e5f 0 188.7px,#2f1e59 0 192.1px,#321e5f 0 193.8px,#2f1e59 0 195.5px,#321e5f 0 202.4px,#2f1e59 0 204.1px,#2b1e54 0 205.8px,#2f1e59 0 209.2px,#2b1e54 0 212.7px,#2f1e59 0 216.1px,#321e5f 0 217.8px,#2f1e59 0 221.2px,#321e5f 0 229.8px,#2f1e59 0 231.5px,#321e5f 0 233.2px,#2f1e59 0 236.7px,#321e5f 0 240.1px,#2b1e54 0 243.5px,#321e5f 0 247.0px,#2f1e59 0 252.1px,#321e5f 0 253.8px,#2f1e59 0 257.2px,#321e5f 0 260.5px)"></div><div style="top:67.48px;height:3.01px;background:linear-gradient(90deg,#391f64 0 1.7px,#321e5f 0 6.9px,#2f1e59 0 8.6px,#321e5f 0 10.3px,#391f64 0 12.0px,#321e5f 0 15.4px,#391f64 0 22.3px,#321e5f 0 27.4px,#391f64 0 32.6px,#321e5f 0 34.3px,#391f64 0 36.0px,#321e5f 0 39.4px,#2f1e59 0 44.6px,#321e5f 0 49.7px,#2f1e59 0 51.5px,#391f64 0 54.9px,#2f1e59 0 56.6px,#321e5f 0 58.3px,#391f64 0 60.0px,#2f1e59 0 61.7px,#391f64 0 65.2px,#321e5f 0 66.9px,#2f1e59 0 68.6px,#391f64 0 78.9px,#2f1e59 0 82.3px,#391f64 0 84.0px,#321e5f 0 89.2px,#2f1e59 0 92.6px,#321e5f 0 94.3px,#2f1e59 0 97.8px,#321e5f 0 102.9px,#2f1e59 0 109.8px,#321e5f 0 114.9px,#391f64 0 116.6px,#321e5f 0 120.1px,#391f64 0 121.8px,#321e5f 0 125.2px,#391f64 0 128.6px,#2f1e59 0 132.1px,#391f64 0 135.5px,#321e5f 0 137.2px,#2f1e59 0 138.9px,#391f64 0 140.6px,#321e5f 0 142.3px,#2f1e59 0 144.1px,#391f64 0 145.8px,#321e5f 0 149.2px,#2f1e59 0 152.6px,#391f64 0 154.3px,#321e5f 0 156.1px,#391f64 0 159.5px,#e76b32 0 161.2px,#f5d553 0 162.9px,#f6be35 0 164.6px,#e9712f 0 166.4px,#f5b12b 0 169.8px,#f4ee9a 0 171.5px,#e9712f 0 173.2px,#f08826 0 176.6px,#df5d3a 0 178.4px,#e46635 0 180.1px,#b43464 0 183.5px,#dd583e 0 185.2px,#df5d3a 0 186.9px,#dd583e 0 188.7px,#f18f24 0 190.4px,#df5d3a 0 192.1px,#2f1e59 0 195.5px,#321e5f 0 197.2px,#391f64 0 198.9px,#2f1e59 0 200.7px,#391f64 0 202.4px,#321e5f 0 205.8px,#2f1e59 0 207.5px,#391f64 0 209.2px,#321e5f 0 210.9px,#391f64 0 212.7px,#2f1e59 0 214.4px,#321e5f 0 216.1px,#391f64 0 217.8px,#2f1e59 0 219.5px,#391f64 0 221.2px,#321e5f 0 223.0px,#2f1e59 0 224.7px,#321e5f 0 226.4px,#2f1e59 0 228.1px,#321e5f 0 229.8px,#391f64 0 231.5px,#321e5f 0 235.0px,#2f1e59 0 236.7px,#321e5f 0 238.4px,#391f64 0 240.1px,#321e5f 0 241.8px,#2f1e59 0 243.5px,#391f64 0 245.2px,#321e5f 0 247.0px,#2f1e59 0 252.1px,#391f64 0 253.8px,#321e5f 0 257.2px,#391f64 0 260.5px)"></div><div style="top:69.89px;height:3.01px;background:linear-gradient(90deg,#391f64 0 1.7px,#3f1f69 0 3.4px,#321e5f 0 5.1px,#391f64 0 6.9px,#321e5f 0 8.6px,#2f1e59 0 10.3px,#391f64 0 13.7px,#321e5f 0 15.4px,#2f1e59 0 17.2px,#391f64 0 18.9px,#2f1e59 0 20.6px,#391f64 0 25.7px,#321e5f 0 27.4px,#2f1e59 0 29.2px,#321e5f 0 30.9px,#391f64 0 32.6px,#321e5f 0 34.3px,#391f64 0 36.0px,#2f1e59 0 37.7px,#321e5f 0 39.4px,#3f1f69 0 41.2px,#391f64 0 42.9px,#2f1e59 0 44.6px,#321e5f 0 46.3px,#391f64 0 48.0px,#2f1e59 0 49.7px,#391f64 0 51.5px,#321e5f 0 56.6px,#391f64 0 58.3px,#2f1e59 0 60.0px,#321e5f 0 61.7px,#391f64 0 63.5px,#2f1e59 0 65.2px,#391f64 0 66.9px,#321e5f 0 68.6px,#391f64 0 70.3px,#2f1e59 0 72.0px,#321e5f 0 75.5px,#391f64 0 77.2px,#2f1e59 0 78.9px,#391f64 0 84.0px,#2f1e59 0 85.8px,#321e5f 0 87.5px,#391f64 0 90.9px,#321e5f 0 94.3px,#391f64 0 101.2px,#3f1f69 0 102.9px,#321e5f 0 104.6px,#2f1e59 0 106.3px,#321e5f 0 109.8px,#391f64 0 114.9px,#321e5f 0 116.6px,#2f1e59 0 120.1px,#321e5f 0 121.8px,#2f1e59 0 123.5px,#321e5f 0 125.2px,#391f64 0 128.6px,#2f1e59 0 132.1px,#321e5f 0 133.8px,#3f1f69 0 135.5px,#391f64 0 140.6px,#2f1e59 0 142.3px,#321e5f 0 144.1px,#2f1e59 0 145.8px,#391f64 0 150.9px,#321e5f 0 154.3px,#2f1e59 0 156.1px,#321e5f 0 159.5px,#7e2975 0 161.2px,#862a74 0 164.6px,#522471 0 166.4px,#862a74 0 168.1px,#8d2b73 0 169.8px,#762876 0 171.5px,#952c72 0 173.2px,#321e5f 0 176.6px,#2f1e59 0 178.4px,#321e5f 0 183.5px,#2f1e59 0 185.2px,#321e5f 0 188.7px,#391f64 0 190.4px,#3f1f69 0 192.1px,#321e5f 0 193.8px,#391f64 0 197.2px,#321e5f 0 198.9px,#391f64 0 202.4px,#321e5f 0 207.5px,#391f64 0 209.2px,#321e5f 0 210.9px,#2f1e59 0 212.7px,#391f64 0 217.8px,#321e5f 0 223.0px,#391f64 0 226.4px,#321e5f 0 228.1px,#3f1f69 0 229.8px,#321e5f 0 231.5px,#2f1e59 0 233.2px,#321e5f 0 235.0px,#391f64 0 236.7px,#321e5f 0 238.4px,#391f64 0 243.5px,#321e5f 0 245.2px,#2f1e59 0 248.7px,#391f64 0 250.4px,#321e5f 0 252.1px,#391f64 0 257.2px,#321e5f 0 260.5px)"></div><div style="top:72.30px;height:3.01px;background:linear-gradient(90deg,#3f1f69 0 1.7px,#391f64 0 5.1px,#321e5f 0 10.3px,#3f1f69 0 12.0px,#321e5f 0 13.7px,#391f64 0 18.9px,#3f1f69 0 20.6px,#391f64 0 22.3px,#321e5f 0 24.0px,#391f64 0 25.7px,#321e5f 0 27.4px,#391f64 0 37.7px,#3f1f69 0 39.4px,#321e5f 0 42.9px,#3f1f69 0 44.6px,#391f64 0 46.3px,#3f1f69 0 48.0px,#391f64 0 49.7px,#321e5f 0 51.5px,#391f64 0 53.2px,#3f1f69 0 56.6px,#321e5f 0 58.3px,#3f1f69 0 60.0px,#321e5f 0 61.7px,#3f1f69 0 65.2px,#391f64 0 66.9px,#321e5f 0 68.6px,#391f64 0 75.5px,#3f1f69 0 77.2px,#321e5f 0 80.6px,#3f1f69 0 82.3px,#321e5f 0 85.8px,#391f64 0 87.5px,#3f1f69 0 89.2px,#321e5f 0 90.9px,#3f1f69 0 92.6px,#391f64 0 97.8px,#321e5f 0 99.5px,#391f64 0 102.9px,#321e5f 0 104.6px,#df5d3a 0 106.3px,#f08826 0 108.0px,#e9712f 0 109.8px,#ed8129 0 111.5px,#b43464 0 113.2px,#f08826 0 114.9px,#d6504a 0 116.6px,#f08826 0 118.3px,#e9712f 0 120.1px,#e46635 0 121.8px,#f08826 0 123.5px,#391f64 0 125.2px,#321e5f 0 126.9px,#391f64 0 130.3px,#3f1f69 0 132.1px,#321e5f 0 133.8px,#3f1f69 0 137.2px,#321e5f 0 138.9px,#3f1f69 0 140.6px,#321e5f 0 144.1px,#391f64 0 147.5px,#321e5f 0 149.2px,#391f64 0 154.3px,#3f1f69 0 157.8px,#391f64 0 162.9px,#321e5f 0 166.4px,#391f64 0 171.5px,#321e5f 0 173.2px,#3f1f69 0 174.9px,#391f64 0 176.6px,#321e5f 0 178.4px,#391f64 0 181.8px,#3f1f69 0 183.5px,#321e5f 0 190.4px,#391f64 0 193.8px,#3f1f69 0 195.5px,#391f64 0 197.2px,#3f1f69 0 198.9px,#391f64 0 202.4px,#3f1f69 0 204.1px,#391f64 0 207.5px,#3f1f69 0 210.9px,#321e5f 0 212.7px,#391f64 0 214.4px,#321e5f 0 217.8px,#391f64 0 219.5px,#3f1f69 0 221.2px,#391f64 0 223.0px,#321e5f 0 224.7px,#3f1f69 0 226.4px,#391f64 0 228.1px,#3f1f69 0 229.8px,#391f64 0 231.5px,#321e5f 0 235.0px,#391f64 0 236.7px,#321e5f 0 238.4px,#3f1f69 0 241.8px,#391f64 0 250.4px,#3f1f69 0 252.1px,#391f64 0 253.8px,#321e5f 0 255.5px,#391f64 0 257.2px,#321e5f 0 259.0px,#391f64 0 260.5px)"></div><div style="top:74.71px;height:3.01px;background:linear-gradient(90deg,#321e5f 0 1.7px,#391f64 0 3.4px,#2f1e59 0 5.1px,#321e5f 0 6.9px,#2f1e59 0 8.6px,#391f64 0 10.3px,#321e5f 0 13.7px,#2f1e59 0 15.4px,#321e5f 0 17.2px,#2f1e59 0 18.9px,#321e5f 0 24.0px,#391f64 0 25.7px,#321e5f 0 27.4px,#2f1e59 0 29.2px,#391f64 0 30.9px,#2f1e59 0 32.6px,#321e5f 0 36.0px,#2f1e59 0 37.7px,#391f64 0 41.2px,#321e5f 0 51.5px,#2b1e54 0 53.2px,#a4306c 0 54.9px,#ac3268 0 56.6px,#672875 0 58.3px,#b43464 0 60.0px,#672875 0 61.7px,#ac3268 0 63.5px,#952c72 0 65.2px,#672875 0 66.9px,#9d2d70 0 68.6px,#eb792c 0 70.3px,#df5d3a 0 72.0px,#e26237 0 73.7px,#b43464 0 75.5px,#7e2975 0 77.2px,#952c72 0 78.9px,#ac3268 0 82.3px,#7e2975 0 84.0px,#672875 0 85.8px,#ac3268 0 87.5px,#862a74 0 89.2px,#2f1e59 0 90.9px,#321e5f 0 92.6px,#391f64 0 94.3px,#2f1e59 0 96.0px,#391f64 0 97.8px,#2f1e59 0 99.5px,#391f64 0 101.2px,#321e5f 0 102.9px,#2f1e59 0 104.6px,#f18f24 0 106.3px,#eb792c 0 108.0px,#d95444 0 109.8px,#dd583e 0 111.5px,#f08826 0 113.2px,#b43464 0 114.9px,#df5d3a 0 116.6px,#e76b32 0 118.3px,#e9712f 0 120.1px,#e76b32 0 121.8px,#b43464 0 123.5px,#321e5f 0 126.9px,#2f1e59 0 128.6px,#391f64 0 130.3px,#321e5f 0 133.8px,#2f1e59 0 135.5px,#391f64 0 137.2px,#2f1e59 0 144.1px,#321e5f 0 147.5px,#391f64 0 149.2px,#2f1e59 0 150.9px,#391f64 0 152.6px,#321e5f 0 154.3px,#391f64 0 156.1px,#321e5f 0 157.8px,#2f1e59 0 159.5px,#321e5f 0 161.2px,#391f64 0 162.9px,#2f1e59 0 164.6px,#321e5f 0 166.4px,#2f1e59 0 168.1px,#321e5f 0 169.8px,#391f64 0 171.5px,#321e5f 0 174.9px,#391f64 0 178.4px,#2f1e59 0 181.8px,#321e5f 0 183.5px,#391f64 0 185.2px,#2f1e59 0 188.7px,#321e5f 0 190.4px,#2f1e59 0 193.8px,#321e5f 0 195.5px,#2f1e59 0 197.2px,#321e5f 0 198.9px,#2b1e54 0 200.7px,#321e5f 0 204.1px,#391f64 0 205.8px,#2f1e59 0 209.2px,#321e5f 0 210.9px,#2b1e54 0 212.7px,#2f1e59 0 214.4px,#391f64 0 216.1px,#2f1e59 0 219.5px,#321e5f 0 221.2px,#2f1e59 0 224.7px,#321e5f 0 226.4px,#2f1e59 0 228.1px,#321e5f 0 229.8px,#2f1e59 0 233.2px,#2b1e54 0 235.0px,#2f1e59 0 236.7px,#391f64 0 240.1px,#2f1e59 0 241.8px,#391f64 0 243.5px,#321e5f 0 245.2px,#2f1e59 0 248.7px,#321e5f 0 252.1px,#2f1e59 0 253.8px,#321e5f 0 257.2px,#2f1e59 0 260.5px)"></div><div style="top:77.12px;height:3.01px;background:linear-gradient(90deg,#391f64 0 5.1px,#3f1f69 0 6.9px,#2f1e59 0 8.6px,#391f64 0 10.3px,#321e5f 0 12.0px,#3f1f69 0 15.4px,#391f64 0 17.2px,#321e5f 0 18.9px,#3f1f69 0 22.3px,#2f1e59 0 24.0px,#321e5f 0 25.7px,#2f1e59 0 27.4px,#391f64 0 29.2px,#3f1f69 0 30.9px,#391f64 0 32.6px,#3f1f69 0 34.3px,#391f64 0 36.0px,#321e5f 0 37.7px,#3f1f69 0 41.2px,#321e5f 0 42.9px,#391f64 0 44.6px,#3f1f69 0 46.3px,#321e5f 0 48.0px,#391f64 0 49.7px,#321e5f 0 53.2px,#8d2b73 0 54.9px,#7e2975 0 56.6px,#952c72 0 58.3px,#9d2d70 0 60.0px,#a4306c 0 61.7px,#5f2874 0 63.5px,#8d2b73 0 65.2px,#a4306c 0 66.9px,#952c72 0 68.6px,#5f2874 0 70.3px,#8d2b73 0 72.0px,#7e2975 0 75.5px,#5f2874 0 77.2px,#762876 0 78.9px,#5f2874 0 80.6px,#762876 0 82.3px,#8d2b73 0 84.0px,#862a74 0 85.8px,#5f2874 0 89.2px,#321e5f 0 90.9px,#391f64 0 92.6px,#321e5f 0 96.0px,#3f1f69 0 97.8px,#321e5f 0 99.5px,#391f64 0 102.9px,#3f1f69 0 104.6px,#391f64 0 108.0px,#f5cf45 0 109.8px,#f4ee9a 0 111.5px,#f4e98c 0 113.2px,#e76b32 0 116.6px,#f5cf45 0 118.3px,#f6be35 0 120.1px,#f4ee9a 0 121.8px,#f5b12b 0 123.5px,#f5d553 0 125.2px,#391f64 0 126.9px,#321e5f 0 128.6px,#2f1e59 0 130.3px,#3f1f69 0 132.1px,#321e5f 0 137.2px,#391f64 0 138.9px,#321e5f 0 140.6px,#391f64 0 144.1px,#3f1f69 0 145.8px,#391f64 0 147.5px,#321e5f 0 149.2px,#391f64 0 150.9px,#3f1f69 0 152.6px,#391f64 0 156.1px,#3f1f69 0 161.2px,#391f64 0 164.6px,#3f1f69 0 166.4px,#391f64 0 171.5px,#321e5f 0 173.2px,#391f64 0 174.9px,#321e5f 0 176.6px,#3f1f69 0 178.4px,#391f64 0 180.1px,#3f1f69 0 181.8px,#391f64 0 188.7px,#321e5f 0 192.1px,#391f64 0 197.2px,#3f1f69 0 198.9px,#391f64 0 200.7px,#2f1e59 0 202.4px,#3f1f69 0 204.1px,#391f64 0 205.8px,#321e5f 0 209.2px,#391f64 0 210.9px,#321e5f 0 214.4px,#391f64 0 224.7px,#2f1e59 0 226.4px,#321e5f 0 229.8px,#3f1f69 0 231.5px,#391f64 0 236.7px,#2f1e59 0 238.4px,#321e5f 0 240.1px,#391f64 0 241.8px,#2f1e59 0 243.5px,#321e5f 0 245.2px,#391f64 0 259.0px,#2f1e59 0 260.5px)"></div><div style="top:79.53px;height:3.01px;background:linear-gradient(90deg,#3f1f69 0 3.4px,#321e5f 0 5.1px,#3f1f69 0 12.0px,#321e5f 0 13.7px,#391f64 0 15.4px,#3f1f69 0 17.2px,#321e5f 0 22.3px,#3f1f69 0 24.0px,#321e5f 0 27.4px,#391f64 0 29.2px,#3f1f69 0 36.0px,#321e5f 0 39.4px,#391f64 0 41.2px,#321e5f 0 42.9px,#391f64 0 48.0px,#321e5f 0 49.7px,#3f1f69 0 51.5px,#391f64 0 53.2px,#a4306c 0 54.9px,#952c72 0 56.6px,#9d2d70 0 58.3px,#8d2b73 0 61.7px,#952c72 0 65.2px,#762876 0 66.9px,#7e2975 0 68.6px,#862a74 0 70.3px,#e46635 0 72.0px,#b43464 0 73.7px,#8d2b73 0 75.5px,#9d2d70 0 77.2px,#8d2b73 0 78.9px,#5f2874 0 80.6px,#7e2975 0 84.0px,#391f64 0 85.8px,#321e5f 0 87.5px,#3f1f69 0 89.2px,#391f64 0 92.6px,#3f1f69 0 94.3px,#321e5f 0 96.0px,#391f64 0 97.8px,#3f1f69 0 99.5px,#391f64 0 101.2px,#321e5f 0 102.9px,#391f64 0 108.0px,#e76b32 0 109.8px,#eb792c 0 111.5px,#b43464 0 113.2px,#f08826 0 114.9px,#e76b32 0 116.6px,#e26237 0 118.3px,#f08826 0 120.1px,#eb792c 0 121.8px,#b43464 0 123.5px,#391f64 0 125.2px,#3f1f69 0 126.9px,#391f64 0 128.6px,#321e5f 0 130.3px,#3f1f69 0 132.1px,#391f64 0 133.8px,#3f1f69 0 135.5px,#321e5f 0 138.9px,#391f64 0 142.3px,#321e5f 0 144.1px,#3f1f69 0 145.8px,#391f64 0 147.5px,#3f1f69 0 154.3px,#321e5f 0 156.1px,#391f64 0 159.5px,#321e5f 0 161.2px,#3f1f69 0 162.9px,#321e5f 0 168.1px,#391f64 0 169.8px,#321e5f 0 173.2px,#391f64 0 174.9px,#3f1f69 0 176.6px,#321e5f 0 178.4px,#391f64 0 183.5px,#321e5f 0 186.9px,#391f64 0 188.7px,#3f1f69 0 190.4px,#321e5f 0 197.2px,#391f64 0 198.9px,#321e5f 0 200.7px,#3f1f69 0 202.4px,#321e5f 0 204.1px,#3f1f69 0 205.8px,#391f64 0 209.2px,#321e5f 0 212.7px,#3f1f69 0 216.1px,#391f64 0 219.5px,#3f1f69 0 221.2px,#321e5f 0 223.0px,#391f64 0 226.4px,#321e5f 0 231.5px,#3f1f69 0 233.2px,#391f64 0 235.0px,#3f1f69 0 236.7px,#391f64 0 238.4px,#3f1f69 0 241.8px,#391f64 0 243.5px,#321e5f 0 247.0px,#391f64 0 250.4px,#321e5f 0 252.1px,#391f64 0 253.8px,#3f1f69 0 255.5px,#391f64 0 257.2px,#321e5f 0 259.0px,#3f1f69 0 260.5px)"></div><div style="top:81.94px;height:3.01px;background:linear-gradient(90deg,#2f1e59 0 6.9px,#391f64 0 8.6px,#321e5f 0 10.3px,#2f1e59 0 13.7px,#321e5f 0 15.4px,#2f1e59 0 17.2px,#391f64 0 20.6px,#2f1e59 0 22.3px,#391f64 0 24.0px,#2f1e59 0 32.6px,#321e5f 0 34.3px,#2f1e59 0 36.0px,#321e5f 0 37.7px,#391f64 0 39.4px,#321e5f 0 41.2px,#2f1e59 0 42.9px,#321e5f 0 44.6px,#2f1e59 0 46.3px,#2b1e54 0 48.0px,#2f1e59 0 49.7px,#391f64 0 51.5px,#2f1e59 0 53.2px,#5f2874 0 54.9px,#9d2d70 0 56.6px,#7e2975 0 58.3px,#9d2d70 0 60.0px,#762876 0 61.7px,#5f2874 0 66.9px,#862a74 0 68.6px,#8d2b73 0 70.3px,#5f2874 0 72.0px,#8d2b73 0 73.7px,#a4306c 0 75.5px,#5f2874 0 77.2px,#952c72 0 78.9px,#a4306c 0 80.6px,#8d2b73 0 82.3px,#9d2d70 0 84.0px,#762876 0 85.8px,#952c72 0 87.5px,#7e2975 0 89.2px,#a4306c 0 90.9px,#5f2874 0 92.6px,#391f64 0 96.0px,#321e5f 0 97.8px,#2f1e59 0 99.5px,#321e5f 0 101.2px,#2f1e59 0 104.6px,#952c72 0 106.3px,#5f2874 0 109.8px,#8d2b73 0 111.5px,#9d2d70 0 113.2px,#762876 0 114.9px,#862a74 0 116.6px,#7e2975 0 118.3px,#862a74 0 120.1px,#2b1e54 0 121.8px,#2f1e59 0 123.5px,#391f64 0 125.2px,#321e5f 0 126.9px,#2f1e59 0 128.6px,#321e5f 0 132.1px,#2f1e59 0 133.8px,#391f64 0 137.2px,#321e5f 0 140.6px,#2f1e59 0 142.3px,#321e5f 0 152.6px,#2f1e59 0 157.8px,#321e5f 0 164.6px,#2f1e59 0 166.4px,#391f64 0 169.8px,#2f1e59 0 171.5px,#321e5f 0 173.2px,#2f1e59 0 174.9px,#321e5f 0 176.6px,#391f64 0 178.4px,#321e5f 0 181.8px,#2f1e59 0 183.5px,#391f64 0 185.2px,#321e5f 0 186.9px,#2f1e59 0 190.4px,#391f64 0 192.1px,#2f1e59 0 193.8px,#321e5f 0 195.5px,#2f1e59 0 197.2px,#2b1e54 0 198.9px,#321e5f 0 200.7px,#391f64 0 202.4px,#321e5f 0 205.8px,#391f64 0 207.5px,#2b1e54 0 209.2px,#2f1e59 0 212.7px,#321e5f 0 214.4px,#2f1e59 0 216.1px,#321e5f 0 217.8px,#2f1e59 0 221.2px,#321e5f 0 223.0px,#2f1e59 0 224.7px,#321e5f 0 226.4px,#391f64 0 228.1px,#2f1e59 0 233.2px,#391f64 0 236.7px,#2f1e59 0 238.4px,#321e5f 0 240.1px,#2f1e59 0 241.8px,#321e5f 0 243.5px,#2f1e59 0 245.2px,#321e5f 0 247.0px,#2f1e59 0 252.1px,#321e5f 0 253.8px,#2f1e59 0 257.2px,#391f64 0 259.0px,#2f1e59 0 260.5px)"></div><div style="top:84.35px;height:3.01px;background:linear-gradient(90deg,#391f64 0 1.7px,#3f1f69 0 3.4px,#391f64 0 6.9px,#3f1f69 0 12.0px,#391f64 0 13.7px,#46206e 0 15.4px,#391f64 0 17.2px,#3f1f69 0 18.9px,#391f64 0 20.6px,#3f1f69 0 22.3px,#46206e 0 25.7px,#391f64 0 27.4px,#46206e 0 32.6px,#391f64 0 36.0px,#46206e 0 37.7px,#391f64 0 39.4px,#46206e 0 41.2px,#3f1f69 0 44.6px,#391f64 0 46.3px,#46206e 0 48.0px,#391f64 0 53.2px,#b43464 0 54.9px,#7e2975 0 56.6px,#d34b50 0 58.3px,#cf4756 0 60.0px,#b43464 0 63.5px,#bb3960 0 65.2px,#391f64 0 66.9px,#3f1f69 0 68.6px,#46206e 0 70.3px,#391f64 0 73.7px,#3f1f69 0 75.5px,#391f64 0 82.3px,#46206e 0 84.0px,#3f1f69 0 85.8px,#46206e 0 89.2px,#3f1f69 0 90.9px,#46206e 0 92.6px,#391f64 0 94.3px,#3f1f69 0 97.8px,#391f64 0 99.5px,#3f1f69 0 101.2px,#46206e 0 102.9px,#391f64 0 104.6px,#862a74 0 106.3px,#5f2874 0 108.0px,#862a74 0 109.8px,#7e2975 0 111.5px,#5f2874 0 113.2px,#7e2975 0 114.9px,#8d2b73 0 116.6px,#5f2874 0 118.3px,#952c72 0 120.1px,#5f2874 0 121.8px,#e46635 0 123.5px,#3f1f69 0 125.2px,#391f64 0 126.9px,#46206e 0 130.3px,#3f1f69 0 135.5px,#391f64 0 137.2px,#46206e 0 140.6px,#391f64 0 144.1px,#3f1f69 0 147.5px,#391f64 0 149.2px,#46206e 0 150.9px,#391f64 0 152.6px,#3f1f69 0 154.3px,#46206e 0 157.8px,#391f64 0 159.5px,#3f1f69 0 164.6px,#46206e 0 166.4px,#3f1f69 0 168.1px,#391f64 0 169.8px,#3f1f69 0 178.4px,#46206e 0 180.1px,#391f64 0 181.8px,#46206e 0 183.5px,#3f1f69 0 185.2px,#46206e 0 186.9px,#3f1f69 0 188.7px,#46206e 0 192.1px,#3f1f69 0 193.8px,#46206e 0 197.2px,#391f64 0 202.4px,#3f1f69 0 205.8px,#46206e 0 209.2px,#391f64 0 212.7px,#3f1f69 0 214.4px,#46206e 0 216.1px,#391f64 0 219.5px,#46206e 0 221.2px,#391f64 0 224.7px,#46206e 0 226.4px,#3f1f69 0 228.1px,#391f64 0 231.5px,#46206e 0 235.0px,#3f1f69 0 236.7px,#391f64 0 238.4px,#3f1f69 0 240.1px,#46206e 0 241.8px,#3f1f69 0 245.2px,#391f64 0 247.0px,#3f1f69 0 248.7px,#391f64 0 250.4px,#46206e 0 253.8px,#3f1f69 0 255.5px,#46206e 0 257.2px,#391f64 0 260.5px)"></div><div style="top:86.76px;height:3.01px;background:linear-gradient(90deg,#321e5f 0 5.1px,#391f64 0 6.9px,#321e5f 0 8.6px,#2f1e59 0 10.3px,#2b1e54 0 12.0px,#2f1e59 0 13.7px,#321e5f 0 17.2px,#2f1e59 0 22.3px,#321e5f 0 29.2px,#2f1e59 0 32.6px,#321e5f 0 34.3px,#2f1e59 0 39.4px,#321e5f 0 41.2px,#2f1e59 0 42.9px,#321e5f 0 44.6px,#391f64 0 46.3px,#321e5f 0 49.7px,#2f1e59 0 51.5px,#321e5f 0 53.2px,#9d2d70 0 54.9px,#862a74 0 56.6px,#9d2d70 0 58.3px,#8d2b73 0 60.0px,#762876 0 61.7px,#8d2b73 0 63.5px,#952c72 0 65.2px,#321e5f 0 66.9px,#2f1e59 0 72.0px,#2b1e54 0 73.7px,#321e5f 0 75.5px,#2b1e54 0 77.2px,#321e5f 0 78.9px,#2f1e59 0 84.0px,#391f64 0 85.8px,#2f1e59 0 87.5px,#321e5f 0 90.9px,#2b1e54 0 94.3px,#321e5f 0 96.0px,#2b1e54 0 97.8px,#2f1e59 0 99.5px,#2b1e54 0 102.9px,#321e5f 0 104.6px,#7e2975 0 106.3px,#762876 0 109.8px,#862a74 0 111.5px,#8d2b73 0 113.2px,#762876 0 114.9px,#862a74 0 116.6px,#582773 0 120.1px,#321e5f 0 128.6px,#2f1e59 0 130.3px,#2b1e54 0 132.1px,#2f1e59 0 133.8px,#321e5f 0 137.2px,#2b1e54 0 138.9px,#321e5f 0 144.1px,#2f1e59 0 147.5px,#321e5f 0 157.8px,#2b1e54 0 159.5px,#2f1e59 0 162.9px,#2b1e54 0 164.6px,#2f1e59 0 168.1px,#321e5f 0 169.8px,#2b1e54 0 173.2px,#2f1e59 0 174.9px,#321e5f 0 180.1px,#2f1e59 0 185.2px,#321e5f 0 186.9px,#2f1e59 0 188.7px,#321e5f 0 190.4px,#391f64 0 192.1px,#321e5f 0 193.8px,#391f64 0 195.5px,#321e5f 0 197.2px,#2f1e59 0 198.9px,#2b1e54 0 200.7px,#321e5f 0 202.4px,#2b1e54 0 204.1px,#2f1e59 0 207.5px,#2b1e54 0 209.2px,#321e5f 0 210.9px,#391f64 0 212.7px,#2f1e59 0 214.4px,#321e5f 0 219.5px,#391f64 0 223.0px,#2f1e59 0 224.7px,#2b1e54 0 226.4px,#321e5f 0 228.1px,#2b1e54 0 229.8px,#2f1e59 0 236.7px,#2b1e54 0 238.4px,#2f1e59 0 243.5px,#2b1e54 0 247.0px,#2f1e59 0 248.7px,#321e5f 0 253.8px,#391f64 0 255.5px,#2b1e54 0 257.2px,#321e5f 0 260.5px)"></div><div style="top:89.17px;height:3.01px;background:linear-gradient(90deg,#391f64 0 3.4px,#321e5f 0 5.1px,#391f64 0 6.9px,#3f1f69 0 8.6px,#391f64 0 13.7px,#321e5f 0 15.4px,#391f64 0 17.2px,#321e5f 0 20.6px,#391f64 0 22.3px,#3f1f69 0 27.4px,#391f64 0 29.2px,#3f1f69 0 30.9px,#321e5f 0 32.6px,#3f1f69 0 34.3px,#391f64 0 36.0px,#321e5f 0 37.7px,#3f1f69 0 39.4px,#321e5f 0 41.2px,#3f1f69 0 42.9px,#391f64 0 44.6px,#3f1f69 0 46.3px,#391f64 0 48.0px,#321e5f 0 49.7px,#391f64 0 53.2px,#862a74 0 54.9px,#952c72 0 56.6px,#762876 0 58.3px,#5f2874 0 60.0px,#a4306c 0 61.7px,#5f2874 0 63.5px,#952c72 0 65.2px,#8d2b73 0 66.9px,#7e2975 0 68.6px,#e26237 0 70.3px,#c13e5d 0 72.0px,#e9712f 0 73.7px,#a4306c 0 75.5px,#5f2874 0 78.9px,#862a74 0 80.6px,#7e2975 0 82.3px,#5f2874 0 87.5px,#a4306c 0 89.2px,#391f64 0 90.9px,#3f1f69 0 92.6px,#321e5f 0 96.0px,#391f64 0 97.8px,#321e5f 0 99.5px,#391f64 0 104.6px,#3f1f69 0 106.3px,#391f64 0 109.8px,#3f1f69 0 113.2px,#321e5f 0 114.9px,#391f64 0 116.6px,#321e5f 0 120.1px,#3f1f69 0 121.8px,#321e5f 0 123.5px,#3f1f69 0 125.2px,#391f64 0 126.9px,#3f1f69 0 128.6px,#321e5f 0 133.8px,#391f64 0 137.2px,#3f1f69 0 138.9px,#391f64 0 142.3px,#321e5f 0 144.1px,#3f1f69 0 147.5px,#391f64 0 150.9px,#321e5f 0 152.6px,#3f1f69 0 154.3px,#391f64 0 157.8px,#321e5f 0 162.9px,#391f64 0 164.6px,#3f1f69 0 166.4px,#391f64 0 168.1px,#321e5f 0 169.8px,#3f1f69 0 171.5px,#391f64 0 173.2px,#3f1f69 0 178.4px,#391f64 0 185.2px,#3f1f69 0 186.9px,#391f64 0 188.7px,#321e5f 0 190.4px,#391f64 0 193.8px,#3f1f69 0 197.2px,#321e5f 0 205.8px,#3f1f69 0 207.5px,#391f64 0 209.2px,#3f1f69 0 210.9px,#391f64 0 212.7px,#3f1f69 0 214.4px,#321e5f 0 217.8px,#391f64 0 219.5px,#3f1f69 0 221.2px,#321e5f 0 226.4px,#391f64 0 229.8px,#3f1f69 0 231.5px,#321e5f 0 235.0px,#3f1f69 0 238.4px,#391f64 0 240.1px,#3f1f69 0 241.8px,#321e5f 0 243.5px,#3f1f69 0 247.0px,#391f64 0 248.7px,#3f1f69 0 250.4px,#321e5f 0 253.8px,#3f1f69 0 255.5px,#321e5f 0 257.2px,#3f1f69 0 259.0px,#391f64 0 260.5px)"></div><div style="top:91.58px;height:3.01px;background:linear-gradient(90deg,#2b1e54 0 3.4px,#2f1e59 0 5.1px,#2b1e54 0 10.3px,#281e4e 0 12.0px,#2f1e59 0 13.7px,#2b1e54 0 15.4px,#2f1e59 0 17.2px,#281e4e 0 18.9px,#2f1e59 0 20.6px,#2b1e54 0 24.0px,#2f1e59 0 25.7px,#2b1e54 0 27.4px,#2f1e59 0 29.2px,#281e4e 0 34.3px,#2b1e54 0 36.0px,#2f1e59 0 37.7px,#2b1e54 0 39.4px,#321e5f 0 41.2px,#2b1e54 0 42.9px,#2f1e59 0 44.6px,#281e4e 0 46.3px,#321e5f 0 48.0px,#2f1e59 0 51.5px,#321e5f 0 53.2px,#862a74 0 54.9px,#9d2d70 0 56.6px,#8d2b73 0 58.3px,#762876 0 60.0px,#a4306c 0 63.5px,#862a74 0 65.2px,#8d2b73 0 66.9px,#a4306c 0 68.6px,#7e2975 0 70.3px,#a4306c 0 72.0px,#952c72 0 73.7px,#a4306c 0 75.5px,#9d2d70 0 77.2px,#8d2b73 0 78.9px,#7e2975 0 80.6px,#9d2d70 0 82.3px,#5f2874 0 84.0px,#952c72 0 85.8px,#8d2b73 0 87.5px,#2f1e59 0 92.6px,#2b1e54 0 97.8px,#2f1e59 0 99.5px,#2b1e54 0 101.2px,#2f1e59 0 102.9px,#2b1e54 0 104.6px,#2f1e59 0 106.3px,#281e4e 0 108.0px,#2f1e59 0 109.8px,#2b1e54 0 111.5px,#2f1e59 0 118.3px,#2b1e54 0 120.1px,#2f1e59 0 123.5px,#2b1e54 0 125.2px,#2f1e59 0 126.9px,#2b1e54 0 130.3px,#2f1e59 0 132.1px,#2b1e54 0 133.8px,#2f1e59 0 137.2px,#2b1e54 0 144.1px,#281e4e 0 145.8px,#2f1e59 0 147.5px,#2b1e54 0 152.6px,#2f1e59 0 154.3px,#2b1e54 0 156.1px,#2f1e59 0 157.8px,#321e5f 0 159.5px,#281e4e 0 161.2px,#321e5f 0 162.9px,#2f1e59 0 164.6px,#281e4e 0 166.4px,#2f1e59 0 168.1px,#321e5f 0 169.8px,#2f1e59 0 171.5px,#2b1e54 0 173.2px,#2f1e59 0 176.6px,#2b1e54 0 178.4px,#281e4e 0 180.1px,#2f1e59 0 181.8px,#2b1e54 0 183.5px,#281e4e 0 185.2px,#2b1e54 0 188.7px,#281e4e 0 190.4px,#2b1e54 0 195.5px,#2f1e59 0 197.2px,#2b1e54 0 200.7px,#321e5f 0 202.4px,#2f1e59 0 204.1px,#2b1e54 0 209.2px,#2f1e59 0 210.9px,#2b1e54 0 212.7px,#2f1e59 0 214.4px,#2b1e54 0 217.8px,#281e4e 0 219.5px,#2f1e59 0 224.7px,#2b1e54 0 226.4px,#281e4e 0 228.1px,#2b1e54 0 231.5px,#2f1e59 0 233.2px,#281e4e 0 235.0px,#2b1e54 0 236.7px,#281e4e 0 238.4px,#2f1e59 0 240.1px,#321e5f 0 241.8px,#281e4e 0 245.2px,#321e5f 0 247.0px,#281e4e 0 248.7px,#2f1e59 0 250.4px,#281e4e 0 252.1px,#2b1e54 0 253.8px,#2f1e59 0 259.0px,#2b1e54 0 260.5px)"></div><div style="top:93.99px;height:3.01px;background:linear-gradient(90deg,#321e5f 0 1.7px,#2b1e54 0 3.4px,#2f1e59 0 5.1px,#321e5f 0 8.6px,#2b1e54 0 10.3px,#2f1e59 0 12.0px,#2b1e54 0 15.4px,#2f1e59 0 17.2px,#321e5f 0 18.9px,#2b1e54 0 20.6px,#321e5f 0 22.3px,#2b1e54 0 24.0px,#2f1e59 0 25.7px,#2b1e54 0 29.2px,#321e5f 0 30.9px,#2b1e54 0 32.6px,#2f1e59 0 34.3px,#2b1e54 0 36.0px,#2f1e59 0 39.4px,#321e5f 0 41.2px,#2f1e59 0 42.9px,#2b1e54 0 48.0px,#2f1e59 0 49.7px,#321e5f 0 51.5px,#2b1e54 0 53.2px,#762876 0 54.9px,#6f2875 0 56.6px,#952c72 0 58.3px,#6f2875 0 60.0px,#762876 0 61.7px,#862a74 0 63.5px,#952c72 0 65.2px,#862a74 0 66.9px,#8d2b73 0 68.6px,#7e2975 0 70.3px,#582773 0 72.0px,#321e5f 0 73.7px,#2b1e54 0 75.5px,#2f1e59 0 77.2px,#321e5f 0 78.9px,#2b1e54 0 80.6px,#2f1e59 0 84.0px,#321e5f 0 85.8px,#2f1e59 0 89.2px,#321e5f 0 90.9px,#2f1e59 0 92.6px,#2b1e54 0 94.3px,#2f1e59 0 96.0px,#321e5f 0 97.8px,#2f1e59 0 99.5px,#2b1e54 0 101.2px,#2f1e59 0 102.9px,#2b1e54 0 104.6px,#2f1e59 0 106.3px,#2b1e54 0 108.0px,#321e5f 0 109.8px,#2f1e59 0 111.5px,#2b1e54 0 113.2px,#321e5f 0 116.6px,#2f1e59 0 120.1px,#321e5f 0 126.9px,#2f1e59 0 130.3px,#321e5f 0 132.1px,#2f1e59 0 137.2px,#2b1e54 0 138.9px,#2f1e59 0 142.3px,#321e5f 0 145.8px,#2b1e54 0 147.5px,#2f1e59 0 149.2px,#2b1e54 0 156.1px,#2f1e59 0 157.8px,#2b1e54 0 159.5px,#2f1e59 0 161.2px,#321e5f 0 162.9px,#2b1e54 0 164.6px,#2f1e59 0 166.4px,#321e5f 0 168.1px,#2b1e54 0 169.8px,#321e5f 0 171.5px,#2f1e59 0 174.9px,#321e5f 0 178.4px,#2b1e54 0 180.1px,#2f1e59 0 181.8px,#2b1e54 0 183.5px,#2f1e59 0 185.2px,#321e5f 0 186.9px,#2f1e59 0 190.4px,#321e5f 0 192.1px,#2b1e54 0 193.8px,#321e5f 0 198.9px,#2f1e59 0 202.4px,#2b1e54 0 205.8px,#2f1e59 0 207.5px,#321e5f 0 209.2px,#2f1e59 0 210.9px,#2b1e54 0 216.1px,#2f1e59 0 217.8px,#321e5f 0 219.5px,#2f1e59 0 223.0px,#2b1e54 0 224.7px,#321e5f 0 226.4px,#2f1e59 0 229.8px,#321e5f 0 231.5px,#2f1e59 0 233.2px,#321e5f 0 235.0px,#2b1e54 0 238.4px,#2f1e59 0 240.1px,#2b1e54 0 241.8px,#321e5f 0 245.2px,#2f1e59 0 247.0px,#321e5f 0 248.7px,#2f1e59 0 250.4px,#321e5f 0 253.8px,#2f1e59 0 259.0px,#2b1e54 0 260.5px)"></div><div style="top:96.40px;height:3.01px;background:linear-gradient(90deg,#391f64 0 1.7px,#321e5f 0 5.1px,#2f1e59 0 6.9px,#321e5f 0 17.2px,#2f1e59 0 18.9px,#321e5f 0 20.6px,#2f1e59 0 22.3px,#321e5f 0 25.7px,#391f64 0 29.2px,#321e5f 0 34.3px,#2f1e59 0 36.0px,#321e5f 0 42.9px,#2f1e59 0 44.6px,#2b1e54 0 46.3px,#321e5f 0 48.0px,#2f1e59 0 49.7px,#321e5f 0 51.5px,#391f64 0 53.2px,#b43464 0 54.9px,#ed8129 0 56.6px,#952c72 0 58.3px,#9d2d70 0 61.7px,#7e2975 0 63.5px,#8d2b73 0 65.2px,#9d2d70 0 66.9px,#7e2975 0 68.6px,#862a74 0 70.3px,#5f2874 0 72.0px,#a4306c 0 73.7px,#9d2d70 0 78.9px,#862a74 0 82.3px,#a4306c 0 84.0px,#952c72 0 87.5px,#7e2975 0 89.2px,#952c72 0 90.9px,#862a74 0 92.6px,#8d2b73 0 94.3px,#2f1e59 0 99.5px,#321e5f 0 101.2px,#2f1e59 0 106.3px,#391f64 0 108.0px,#321e5f 0 109.8px,#2f1e59 0 113.2px,#391f64 0 114.9px,#2f1e59 0 116.6px,#391f64 0 118.3px,#2f1e59 0 120.1px,#321e5f 0 121.8px,#2f1e59 0 123.5px,#321e5f 0 125.2px,#391f64 0 126.9px,#2f1e59 0 132.1px,#321e5f 0 135.5px,#391f64 0 140.6px,#2f1e59 0 142.3px,#321e5f 0 144.1px,#391f64 0 149.2px,#321e5f 0 152.6px,#2f1e59 0 156.1px,#321e5f 0 162.9px,#2f1e59 0 166.4px,#391f64 0 168.1px,#2f1e59 0 169.8px,#391f64 0 173.2px,#321e5f 0 174.9px,#2f1e59 0 178.4px,#391f64 0 180.1px,#2f1e59 0 183.5px,#321e5f 0 185.2px,#391f64 0 186.9px,#2f1e59 0 188.7px,#391f64 0 190.4px,#321e5f 0 193.8px,#2f1e59 0 195.5px,#321e5f 0 198.9px,#2b1e54 0 200.7px,#2f1e59 0 202.4px,#321e5f 0 204.1px,#2f1e59 0 205.8px,#321e5f 0 209.2px,#391f64 0 210.9px,#2f1e59 0 214.4px,#391f64 0 216.1px,#321e5f 0 219.5px,#2f1e59 0 221.2px,#321e5f 0 226.4px,#2f1e59 0 228.1px,#321e5f 0 229.8px,#391f64 0 231.5px,#2f1e59 0 235.0px,#391f64 0 236.7px,#2f1e59 0 238.4px,#2b1e54 0 240.1px,#2f1e59 0 248.7px,#391f64 0 250.4px,#2b1e54 0 253.8px,#391f64 0 255.5px,#2b1e54 0 257.2px,#321e5f 0 259.0px,#2f1e59 0 260.5px)"></div><div style="top:98.81px;height:3.01px;background:linear-gradient(90deg,#281e4e 0 1.7px,#2b1e54 0 3.4px,#2f1e59 0 5.1px,#2b1e54 0 8.6px,#281e4e 0 10.3px,#2b1e54 0 12.0px,#281e4e 0 13.7px,#2b1e54 0 18.9px,#281e4e 0 20.6px,#2f1e59 0 22.3px,#2b1e54 0 27.4px,#281e4e 0 29.2px,#251d43 0 30.9px,#281e4e 0 32.6px,#2b1e54 0 34.3px,#251d43 0 37.7px,#281e4e 0 39.4px,#2b1e54 0 46.3px,#281e4e 0 49.7px,#2b1e54 0 53.2px,#f08826 0 54.9px,#f18f24 0 56.6px,#dd583e 0 58.3px,#b43464 0 60.0px,#dd583e 0 61.7px,#f29522 0 63.5px,#b43464 0 65.2px,#eb792c 0 66.9px,#b43464 0 68.6px,#f29522 0 70.3px,#2b1e54 0 73.7px,#251d43 0 75.5px,#2f1e59 0 77.2px,#251d43 0 78.9px,#281e4e 0 80.6px,#251d43 0 82.3px,#2f1e59 0 84.0px,#281e4e 0 87.5px,#2b1e54 0 90.9px,#281e4e 0 96.0px,#2b1e54 0 99.5px,#281e4e 0 101.2px,#2b1e54 0 106.3px,#251d43 0 108.0px,#2b1e54 0 111.5px,#281e4e 0 113.2px,#251d43 0 114.9px,#2b1e54 0 116.6px,#281e4e 0 118.3px,#2b1e54 0 120.1px,#281e4e 0 121.8px,#2b1e54 0 123.5px,#281e4e 0 125.2px,#2b1e54 0 128.6px,#251d43 0 130.3px,#281e4e 0 132.1px,#2f1e59 0 133.8px,#281e4e 0 135.5px,#251d43 0 137.2px,#2b1e54 0 138.9px,#251d43 0 140.6px,#2b1e54 0 142.3px,#2f1e59 0 144.1px,#281e4e 0 145.8px,#2b1e54 0 150.9px,#281e4e 0 161.2px,#2b1e54 0 162.9px,#251d43 0 164.6px,#281e4e 0 168.1px,#2b1e54 0 171.5px,#251d43 0 174.9px,#2f1e59 0 176.6px,#281e4e 0 178.4px,#2b1e54 0 180.1px,#2f1e59 0 181.8px,#251d43 0 183.5px,#281e4e 0 186.9px,#2b1e54 0 192.1px,#251d43 0 193.8px,#2b1e54 0 195.5px,#281e4e 0 197.2px,#251d43 0 198.9px,#281e4e 0 200.7px,#251d43 0 204.1px,#281e4e 0 209.2px,#251d43 0 210.9px,#281e4e 0 212.7px,#2b1e54 0 216.1px,#2f1e59 0 217.8px,#251d43 0 221.2px,#2b1e54 0 223.0px,#251d43 0 224.7px,#2b1e54 0 228.1px,#281e4e 0 229.8px,#251d43 0 231.5px,#281e4e 0 233.2px,#251d43 0 235.0px,#2b1e54 0 236.7px,#2f1e59 0 238.4px,#281e4e 0 243.5px,#251d43 0 245.2px,#2b1e54 0 247.0px,#251d43 0 248.7px,#2f1e59 0 250.4px,#281e4e 0 252.1px,#2b1e54 0 255.5px,#251d43 0 259.0px,#281e4e 0 260.5px)"></div><div style="top:101.22px;height:3.01px;background:linear-gradient(90deg,#321e5f 0 1.7px,#391f64 0 3.4px,#321e5f 0 5.1px,#391f64 0 6.9px,#321e5f 0 8.6px,#46206e 0 13.7px,#3f1f69 0 15.4px,#391f64 0 17.2px,#46206e 0 18.9px,#391f64 0 22.3px,#46206e 0 24.0px,#3f1f69 0 25.7px,#391f64 0 30.9px,#321e5f 0 32.6px,#3f1f69 0 34.3px,#391f64 0 39.4px,#3f1f69 0 42.9px,#391f64 0 48.0px,#3f1f69 0 49.7px,#391f64 0 51.5px,#3f1f69 0 53.2px,#8d2b73 0 54.9px,#a4306c 0 58.3px,#7e2975 0 60.0px,#8d2b73 0 61.7px,#7e2975 0 63.5px,#952c72 0 65.2px,#a4306c 0 66.9px,#862a74 0 70.3px,#9d2d70 0 73.7px,#8d2b73 0 75.5px,#862a74 0 77.2px,#5f2874 0 78.9px,#a4306c 0 80.6px,#5f2874 0 82.3px,#3f1f69 0 84.0px,#46206e 0 85.8px,#3f1f69 0 94.3px,#391f64 0 96.0px,#3f1f69 0 97.8px,#391f64 0 102.9px,#3f1f69 0 106.3px,#391f64 0 108.0px,#3f1f69 0 109.8px,#46206e 0 111.5px,#3f1f69 0 114.9px,#46206e 0 116.6px,#3f1f69 0 120.1px,#391f64 0 121.8px,#3f1f69 0 125.2px,#391f64 0 128.6px,#46206e 0 132.1px,#391f64 0 135.5px,#3f1f69 0 142.3px,#321e5f 0 144.1px,#3f1f69 0 150.9px,#46206e 0 152.6px,#3f1f69 0 161.2px,#321e5f 0 162.9px,#391f64 0 164.6px,#3f1f69 0 168.1px,#321e5f 0 169.8px,#3f1f69 0 171.5px,#391f64 0 173.2px,#3f1f69 0 174.9px,#321e5f 0 176.6px,#391f64 0 178.4px,#321e5f 0 180.1px,#391f64 0 181.8px,#3f1f69 0 185.2px,#391f64 0 186.9px,#46206e 0 188.7px,#391f64 0 190.4px,#46206e 0 192.1px,#391f64 0 195.5px,#3f1f69 0 197.2px,#391f64 0 198.9px,#3f1f69 0 200.7px,#391f64 0 204.1px,#3f1f69 0 205.8px,#391f64 0 212.7px,#3f1f69 0 221.2px,#321e5f 0 223.0px,#391f64 0 224.7px,#3f1f69 0 226.4px,#391f64 0 229.8px,#3f1f69 0 231.5px,#391f64 0 233.2px,#3f1f69 0 235.0px,#391f64 0 238.4px,#3f1f69 0 241.8px,#391f64 0 243.5px,#3f1f69 0 245.2px,#321e5f 0 248.7px,#391f64 0 250.4px,#3f1f69 0 252.1px,#321e5f 0 253.8px,#3f1f69 0 257.2px,#391f64 0 260.5px)"></div><div style="top:103.63px;height:3.01px;background:linear-gradient(90deg,#321e5f 0 6.9px,#391f64 0 8.6px,#2f1e59 0 10.3px,#321e5f 0 12.0px,#391f64 0 13.7px,#321e5f 0 17.2px,#2f1e59 0 18.9px,#321e5f 0 24.0px,#391f64 0 25.7px,#2f1e59 0 27.4px,#321e5f 0 29.2px,#2f1e59 0 30.9px,#321e5f 0 32.6px,#391f64 0 34.3px,#2f1e59 0 37.7px,#391f64 0 39.4px,#2f1e59 0 41.2px,#321e5f 0 42.9px,#391f64 0 44.6px,#321e5f 0 46.3px,#2f1e59 0 48.0px,#391f64 0 51.5px,#f6b62f 0 53.2px,#d6504a 0 60.0px,#f39b21 0 61.7px,#d6504a 0 63.5px,#f6be35 0 65.2px,#f08826 0 66.9px,#f4ee9a 0 70.3px,#321e5f 0 72.0px,#391f64 0 75.5px,#321e5f 0 78.9px,#2f1e59 0 82.3px,#391f64 0 84.0px,#2f1e59 0 85.8px,#321e5f 0 87.5px,#2f1e59 0 89.2px,#391f64 0 90.9px,#321e5f 0 92.6px,#2f1e59 0 94.3px,#321e5f 0 96.0px,#391f64 0 97.8px,#2f1e59 0 99.5px,#321e5f 0 104.6px,#2f1e59 0 106.3px,#321e5f 0 108.0px,#391f64 0 111.5px,#321e5f 0 113.2px,#2f1e59 0 116.6px,#321e5f 0 118.3px,#391f64 0 120.1px,#2f1e59 0 125.2px,#391f64 0 126.9px,#321e5f 0 128.6px,#391f64 0 130.3px,#321e5f 0 133.8px,#391f64 0 135.5px,#2f1e59 0 142.3px,#321e5f 0 144.1px,#2f1e59 0 150.9px,#321e5f 0 152.6px,#2f1e59 0 154.3px,#321e5f 0 161.2px,#2f1e59 0 162.9px,#321e5f 0 166.4px,#391f64 0 168.1px,#321e5f 0 171.5px,#391f64 0 173.2px,#2f1e59 0 174.9px,#391f64 0 176.6px,#2f1e59 0 178.4px,#321e5f 0 180.1px,#391f64 0 181.8px,#321e5f 0 183.5px,#391f64 0 186.9px,#2f1e59 0 193.8px,#391f64 0 200.7px,#2f1e59 0 202.4px,#321e5f 0 205.8px,#2f1e59 0 209.2px,#321e5f 0 210.9px,#391f64 0 212.7px,#321e5f 0 216.1px,#2f1e59 0 223.0px,#321e5f 0 224.7px,#2f1e59 0 235.0px,#321e5f 0 236.7px,#2f1e59 0 240.1px,#321e5f 0 241.8px,#2f1e59 0 243.5px,#391f64 0 245.2px,#2f1e59 0 248.7px,#391f64 0 250.4px,#321e5f 0 253.8px,#2f1e59 0 255.5px,#391f64 0 257.2px,#321e5f 0 259.0px,#391f64 0 260.5px)"></div><div style="top:106.04px;height:3.01px;background:linear-gradient(90deg,#2f1e59 0 1.7px,#2b1e54 0 3.4px,#2f1e59 0 5.1px,#321e5f 0 8.6px,#2f1e59 0 10.3px,#2b1e54 0 12.0px,#321e5f 0 13.7px,#2b1e54 0 15.4px,#2f1e59 0 17.2px,#2b1e54 0 18.9px,#321e5f 0 20.6px,#2f1e59 0 25.7px,#281e4e 0 27.4px,#2f1e59 0 29.2px,#281e4e 0 30.9px,#2b1e54 0 34.3px,#2f1e59 0 37.7px,#2b1e54 0 42.9px,#2f1e59 0 44.6px,#2b1e54 0 46.3px,#321e5f 0 48.0px,#2b1e54 0 53.2px,#952c72 0 54.9px,#5f2874 0 58.3px,#8d2b73 0 60.0px,#862a74 0 61.7px,#7e2975 0 63.5px,#5f2874 0 68.6px,#9d2d70 0 70.3px,#7e2975 0 73.7px,#8d2b73 0 75.5px,#a4306c 0 77.2px,#7e2975 0 78.9px,#952c72 0 80.6px,#7e2975 0 82.3px,#952c72 0 84.0px,#5f2874 0 85.8px,#9d2d70 0 87.5px,#5f2874 0 89.2px,#281e4e 0 90.9px,#2b1e54 0 92.6px,#2f1e59 0 94.3px,#281e4e 0 96.0px,#2b1e54 0 99.5px,#281e4e 0 101.2px,#2f1e59 0 104.6px,#2b1e54 0 106.3px,#2f1e59 0 109.8px,#2b1e54 0 111.5px,#2f1e59 0 116.6px,#321e5f 0 118.3px,#281e4e 0 120.1px,#2b1e54 0 121.8px,#281e4e 0 123.5px,#2b1e54 0 125.2px,#2f1e59 0 126.9px,#2b1e54 0 128.6px,#2f1e59 0 130.3px,#2b1e54 0 132.1px,#2f1e59 0 135.5px,#2b1e54 0 137.2px,#281e4e 0 138.9px,#2b1e54 0 145.8px,#2f1e59 0 149.2px,#2b1e54 0 150.9px,#321e5f 0 152.6px,#2b1e54 0 154.3px,#321e5f 0 157.8px,#2b1e54 0 159.5px,#281e4e 0 161.2px,#321e5f 0 162.9px,#281e4e 0 164.6px,#321e5f 0 166.4px,#2b1e54 0 168.1px,#2f1e59 0 171.5px,#2b1e54 0 174.9px,#281e4e 0 176.6px,#2f1e59 0 178.4px,#281e4e 0 180.1px,#2f1e59 0 181.8px,#2b1e54 0 190.4px,#281e4e 0 192.1px,#2f1e59 0 195.5px,#281e4e 0 197.2px,#2f1e59 0 198.9px,#321e5f 0 202.4px,#2f1e59 0 204.1px,#321e5f 0 205.8px,#2b1e54 0 207.5px,#2f1e59 0 209.2px,#281e4e 0 212.7px,#2b1e54 0 216.1px,#321e5f 0 217.8px,#281e4e 0 219.5px,#2f1e59 0 221.2px,#2b1e54 0 223.0px,#2f1e59 0 224.7px,#2b1e54 0 226.4px,#2f1e59 0 229.8px,#281e4e 0 231.5px,#2f1e59 0 233.2px,#281e4e 0 235.0px,#2b1e54 0 236.7px,#281e4e 0 238.4px,#2f1e59 0 241.8px,#2b1e54 0 245.2px,#2f1e59 0 247.0px,#2b1e54 0 248.7px,#281e4e 0 250.4px,#2b1e54 0 252.1px,#321e5f 0 253.8px,#2f1e59 0 255.5px,#2b1e54 0 257.2px,#2f1e59 0 259.0px,#321e5f 0 260.5px)"></div><div style="top:108.45px;height:3.01px;background:linear-gradient(90deg,#321e5f 0 3.4px,#2b1e54 0 5.1px,#2f1e59 0 6.9px,#2b1e54 0 8.6px,#2f1e59 0 13.7px,#2b1e54 0 17.2px,#321e5f 0 18.9px,#2f1e59 0 20.6px,#2b1e54 0 22.3px,#2f1e59 0 25.7px,#2b1e54 0 27.4px,#321e5f 0 30.9px,#2f1e59 0 32.6px,#2b1e54 0 34.3px,#2f1e59 0 36.0px,#2b1e54 0 37.7px,#321e5f 0 39.4px,#2f1e59 0 42.9px,#2b1e54 0 53.2px,#9d2d70 0 54.9px,#a4306c 0 56.6px,#5f2874 0 58.3px,#7e2975 0 60.0px,#9d2d70 0 61.7px,#862a74 0 63.5px,#8d2b73 0 65.2px,#a4306c 0 68.6px,#7e2975 0 70.3px,#a4306c 0 72.0px,#f29522 0 73.7px,#d95444 0 75.5px,#862a74 0 77.2px,#2b1e54 0 78.9px,#321e5f 0 80.6px,#2f1e59 0 82.3px,#321e5f 0 84.0px,#2f1e59 0 85.8px,#321e5f 0 89.2px,#2f1e59 0 90.9px,#2b1e54 0 92.6px,#2f1e59 0 94.3px,#2b1e54 0 96.0px,#2f1e59 0 97.8px,#2b1e54 0 104.6px,#2f1e59 0 106.3px,#2b1e54 0 108.0px,#2f1e59 0 109.8px,#2b1e54 0 111.5px,#2f1e59 0 113.2px,#2b1e54 0 114.9px,#2f1e59 0 118.3px,#2b1e54 0 120.1px,#2f1e59 0 121.8px,#2b1e54 0 128.6px,#321e5f 0 130.3px,#2f1e59 0 133.8px,#321e5f 0 137.2px,#2f1e59 0 149.2px,#2b1e54 0 150.9px,#2f1e59 0 152.6px,#2b1e54 0 154.3px,#321e5f 0 157.8px,#2b1e54 0 164.6px,#2f1e59 0 166.4px,#2b1e54 0 169.8px,#281e4e 0 171.5px,#2b1e54 0 173.2px,#321e5f 0 174.9px,#281e4e 0 176.6px,#2f1e59 0 178.4px,#2b1e54 0 183.5px,#321e5f 0 185.2px,#2b1e54 0 188.7px,#2f1e59 0 193.8px,#321e5f 0 198.9px,#2f1e59 0 202.4px,#2b1e54 0 207.5px,#2f1e59 0 209.2px,#2b1e54 0 210.9px,#2f1e59 0 214.4px,#2b1e54 0 216.1px,#281e4e 0 217.8px,#321e5f 0 219.5px,#2f1e59 0 221.2px,#2b1e54 0 223.0px,#2f1e59 0 224.7px,#2b1e54 0 229.8px,#2f1e59 0 233.2px,#2b1e54 0 235.0px,#2f1e59 0 236.7px,#2b1e54 0 238.4px,#2f1e59 0 240.1px,#2b1e54 0 241.8px,#321e5f 0 243.5px,#2f1e59 0 245.2px,#2b1e54 0 248.7px,#2f1e59 0 253.8px,#2b1e54 0 255.5px,#2f1e59 0 260.5px)"></div><div style="top:110.86px;height:3.01px;background:linear-gradient(90deg,#2b1e54 0 3.4px,#2f1e59 0 5.1px,#2b1e54 0 6.9px,#321e5f 0 10.3px,#2f1e59 0 12.0px,#2b1e54 0 13.7px,#2f1e59 0 17.2px,#2b1e54 0 18.9px,#2f1e59 0 20.6px,#2b1e54 0 22.3px,#2f1e59 0 24.0px,#2b1e54 0 29.2px,#321e5f 0 30.9px,#2b1e54 0 32.6px,#321e5f 0 36.0px,#2b1e54 0 37.7px,#321e5f 0 39.4px,#2b1e54 0 41.2px,#2f1e59 0 42.9px,#2b1e54 0 44.6px,#2f1e59 0 46.3px,#2b1e54 0 48.0px,#321e5f 0 51.5px,#2f1e59 0 53.2px,#8d2b73 0 54.9px,#6f2875 0 56.6px,#582773 0 58.3px,#8d2b73 0 61.7px,#952c72 0 63.5px,#762876 0 65.2px,#7e2975 0 68.6px,#952c72 0 70.3px,#321e5f 0 72.0px,#2f1e59 0 73.7px,#321e5f 0 75.5px,#2f1e59 0 77.2px,#321e5f 0 78.9px,#2f1e59 0 82.3px,#321e5f 0 87.5px,#391f64 0 89.2px,#321e5f 0 90.9px,#2b1e54 0 92.6px,#321e5f 0 94.3px,#2f1e59 0 96.0px,#321e5f 0 99.5px,#2b1e54 0 101.2px,#2f1e59 0 106.3px,#321e5f 0 108.0px,#2f1e59 0 114.9px,#321e5f 0 116.6px,#2f1e59 0 120.1px,#321e5f 0 121.8px,#2f1e59 0 123.5px,#321e5f 0 125.2px,#2b1e54 0 126.9px,#321e5f 0 128.6px,#2f1e59 0 130.3px,#2b1e54 0 132.1px,#321e5f 0 137.2px,#2f1e59 0 138.9px,#321e5f 0 140.6px,#2f1e59 0 144.1px,#2b1e54 0 145.8px,#321e5f 0 147.5px,#2f1e59 0 149.2px,#321e5f 0 150.9px,#391f64 0 152.6px,#321e5f 0 154.3px,#2b1e54 0 157.8px,#2f1e59 0 159.5px,#321e5f 0 161.2px,#391f64 0 162.9px,#321e5f 0 164.6px,#2b1e54 0 166.4px,#321e5f 0 169.8px,#2b1e54 0 171.5px,#2f1e59 0 174.9px,#2b1e54 0 178.4px,#391f64 0 180.1px,#2f1e59 0 181.8px,#2b1e54 0 183.5px,#2f1e59 0 186.9px,#321e5f 0 188.7px,#2f1e59 0 192.1px,#2b1e54 0 193.8px,#321e5f 0 197.2px,#2f1e59 0 198.9px,#321e5f 0 200.7px,#2f1e59 0 204.1px,#2b1e54 0 205.8px,#321e5f 0 207.5px,#2b1e54 0 209.2px,#2f1e59 0 212.7px,#2b1e54 0 214.4px,#321e5f 0 219.5px,#2b1e54 0 221.2px,#321e5f 0 223.0px,#2f1e59 0 224.7px,#321e5f 0 226.4px,#2b1e54 0 229.8px,#2f1e59 0 231.5px,#321e5f 0 233.2px,#2f1e59 0 235.0px,#321e5f 0 236.7px,#2f1e59 0 238.4px,#321e5f 0 243.5px,#2f1e59 0 245.2px,#321e5f 0 247.0px,#2f1e59 0 248.7px,#2b1e54 0 250.4px,#321e5f 0 252.1px,#2f1e59 0 253.8px,#321e5f 0 257.2px,#2f1e59 0 259.0px,#321e5f 0 260.5px)"></div><div style="top:113.27px;height:3.01px;background:linear-gradient(90deg,#2b1e54 0 1.7px,#281e4e 0 5.1px,#2f1e59 0 6.9px,#2b1e54 0 12.0px,#281e4e 0 13.7px,#2f1e59 0 18.9px,#281e4e 0 25.7px,#251d43 0 27.4px,#2b1e54 0 29.2px,#281e4e 0 32.6px,#2f1e59 0 34.3px,#2b1e54 0 36.0px,#251d43 0 37.7px,#281e4e 0 39.4px,#2f1e59 0 41.2px,#281e4e 0 42.9px,#2b1e54 0 44.6px,#2f1e59 0 46.3px,#281e4e 0 49.7px,#2b1e54 0 51.5px,#281e4e 0 53.2px,#5f2874 0 56.6px,#762876 0 60.0px,#5f2874 0 61.7px,#8d2b73 0 63.5px,#9d2d70 0 65.2px,#5f2874 0 68.6px,#862a74 0 70.3px,#a4306c 0 72.0px,#952c72 0 73.7px,#862a74 0 75.5px,#a4306c 0 77.2px,#862a74 0 78.9px,#952c72 0 80.6px,#862a74 0 82.3px,#251d43 0 84.0px,#2b1e54 0 85.8px,#281e4e 0 89.2px,#2b1e54 0 96.0px,#2f1e59 0 97.8px,#2b1e54 0 99.5px,#281e4e 0 101.2px,#251d43 0 102.9px,#2b1e54 0 104.6px,#281e4e 0 106.3px,#2f1e59 0 108.0px,#281e4e 0 109.8px,#2f1e59 0 111.5px,#2b1e54 0 118.3px,#281e4e 0 121.8px,#2b1e54 0 123.5px,#281e4e 0 125.2px,#2b1e54 0 128.6px,#281e4e 0 132.1px,#2b1e54 0 133.8px,#251d43 0 137.2px,#281e4e 0 138.9px,#2b1e54 0 140.6px,#2f1e59 0 142.3px,#2b1e54 0 145.8px,#281e4e 0 147.5px,#2b1e54 0 149.2px,#251d43 0 150.9px,#2b1e54 0 152.6px,#281e4e 0 154.3px,#2b1e54 0 156.1px,#281e4e 0 157.8px,#2b1e54 0 161.2px,#281e4e 0 162.9px,#2b1e54 0 164.6px,#251d43 0 168.1px,#2b1e54 0 173.2px,#281e4e 0 176.6px,#2b1e54 0 178.4px,#281e4e 0 180.1px,#2b1e54 0 183.5px,#251d43 0 186.9px,#2f1e59 0 188.7px,#281e4e 0 192.1px,#2b1e54 0 193.8px,#251d43 0 195.5px,#281e4e 0 200.7px,#2b1e54 0 204.1px,#281e4e 0 207.5px,#2b1e54 0 209.2px,#251d43 0 210.9px,#2b1e54 0 212.7px,#2f1e59 0 214.4px,#281e4e 0 216.1px,#251d43 0 217.8px,#2f1e59 0 219.5px,#2b1e54 0 223.0px,#251d43 0 224.7px,#281e4e 0 228.1px,#2b1e54 0 229.8px,#281e4e 0 231.5px,#2b1e54 0 233.2px,#281e4e 0 235.0px,#251d43 0 236.7px,#2f1e59 0 238.4px,#281e4e 0 245.2px,#2f1e59 0 247.0px,#2b1e54 0 250.4px,#281e4e 0 253.8px,#2b1e54 0 255.5px,#281e4e 0 259.0px,#2b1e54 0 260.5px)"></div><div style="top:115.68px;height:3.01px;background:linear-gradient(90deg,#2b1e54 0 1.7px,#2f1e59 0 5.1px,#2b1e54 0 6.9px,#321e5f 0 12.0px,#2b1e54 0 13.7px,#321e5f 0 15.4px,#2f1e59 0 17.2px,#321e5f 0 18.9px,#2f1e59 0 24.0px,#2b1e54 0 25.7px,#2f1e59 0 27.4px,#321e5f 0 29.2px,#391f64 0 30.9px,#321e5f 0 36.0px,#2f1e59 0 39.4px,#321e5f 0 41.2px,#2f1e59 0 44.6px,#321e5f 0 46.3px,#2f1e59 0 48.0px,#2b1e54 0 49.7px,#2f1e59 0 51.5px,#2b1e54 0 53.2px,#8d2b73 0 54.9px,#582773 0 56.6px,#862a74 0 58.3px,#762876 0 60.0px,#952c72 0 61.7px,#7e2975 0 63.5px,#862a74 0 65.2px,#762876 0 66.9px,#7e2975 0 68.6px,#8d2b73 0 70.3px,#f08826 0 72.0px,#e9712f 0 73.7px,#582773 0 75.5px,#7e2975 0 77.2px,#9d2d70 0 78.9px,#952c72 0 80.6px,#9d2d70 0 82.3px,#2b1e54 0 84.0px,#2f1e59 0 85.8px,#321e5f 0 87.5px,#391f64 0 89.2px,#321e5f 0 90.9px,#2f1e59 0 92.6px,#321e5f 0 94.3px,#2b1e54 0 97.8px,#2f1e59 0 99.5px,#321e5f 0 102.9px,#391f64 0 104.6px,#321e5f 0 106.3px,#391f64 0 108.0px,#2f1e59 0 109.8px,#321e5f 0 113.2px,#2f1e59 0 114.9px,#321e5f 0 116.6px,#2b1e54 0 118.3px,#321e5f 0 120.1px,#2f1e59 0 125.2px,#321e5f 0 126.9px,#391f64 0 128.6px,#2b1e54 0 132.1px,#321e5f 0 137.2px,#2f1e59 0 140.6px,#321e5f 0 142.3px,#2f1e59 0 144.1px,#321e5f 0 147.5px,#2b1e54 0 150.9px,#2f1e59 0 152.6px,#2b1e54 0 156.1px,#321e5f 0 157.8px,#2f1e59 0 159.5px,#2b1e54 0 161.2px,#2f1e59 0 162.9px,#321e5f 0 166.4px,#2b1e54 0 168.1px,#2f1e59 0 169.8px,#321e5f 0 171.5px,#2f1e59 0 176.6px,#321e5f 0 178.4px,#2f1e59 0 180.1px,#321e5f 0 183.5px,#2b1e54 0 185.2px,#2f1e59 0 190.4px,#321e5f 0 193.8px,#2b1e54 0 195.5px,#2f1e59 0 197.2px,#2b1e54 0 198.9px,#321e5f 0 200.7px,#2b1e54 0 202.4px,#321e5f 0 204.1px,#2b1e54 0 207.5px,#2f1e59 0 209.2px,#321e5f 0 210.9px,#2b1e54 0 212.7px,#2f1e59 0 214.4px,#321e5f 0 216.1px,#2b1e54 0 217.8px,#321e5f 0 219.5px,#2b1e54 0 221.2px,#2f1e59 0 223.0px,#321e5f 0 226.4px,#2f1e59 0 228.1px,#321e5f 0 231.5px,#2f1e59 0 233.2px,#321e5f 0 235.0px,#391f64 0 236.7px,#2f1e59 0 238.4px,#2b1e54 0 240.1px,#321e5f 0 241.8px,#2b1e54 0 243.5px,#321e5f 0 245.2px,#2b1e54 0 247.0px,#391f64 0 248.7px,#2f1e59 0 253.8px,#321e5f 0 259.0px,#2f1e59 0 260.5px)"></div><div style="top:118.09px;height:3.01px;background:linear-gradient(90deg,#321e5f 0 3.4px,#2b1e54 0 5.1px,#321e5f 0 6.9px,#2f1e59 0 10.3px,#2b1e54 0 13.7px,#2f1e59 0 15.4px,#321e5f 0 17.2px,#2b1e54 0 18.9px,#321e5f 0 22.3px,#2f1e59 0 24.0px,#321e5f 0 29.2px,#2f1e59 0 32.6px,#2b1e54 0 34.3px,#321e5f 0 37.7px,#391f64 0 41.2px,#2f1e59 0 44.6px,#321e5f 0 46.3px,#2f1e59 0 48.0px,#321e5f 0 49.7px,#391f64 0 51.5px,#2f1e59 0 53.2px,#321e5f 0 54.9px,#46206e 0 56.6px,#522471 0 58.3px,#582773 0 60.0px,#46206e 0 61.7px,#522471 0 63.5px,#582773 0 65.2px,#46206e 0 66.9px,#321e5f 0 68.6px,#46206e 0 70.3px,#522471 0 72.0px,#582773 0 73.7px,#321e5f 0 75.5px,#522471 0 77.2px,#46206e 0 78.9px,#321e5f 0 80.6px,#2f1e59 0 82.3px,#321e5f 0 84.0px,#2f1e59 0 87.5px,#2b1e54 0 90.9px,#321e5f 0 92.6px,#2f1e59 0 94.3px,#321e5f 0 97.8px,#2f1e59 0 102.9px,#2b1e54 0 104.6px,#321e5f 0 106.3px,#391f64 0 108.0px,#2f1e59 0 111.5px,#321e5f 0 116.6px,#391f64 0 118.3px,#2f1e59 0 120.1px,#391f64 0 121.8px,#2b1e54 0 123.5px,#2f1e59 0 125.2px,#391f64 0 128.6px,#321e5f 0 132.1px,#2f1e59 0 135.5px,#2b1e54 0 137.2px,#391f64 0 138.9px,#321e5f 0 142.3px,#2f1e59 0 144.1px,#2b1e54 0 145.8px,#391f64 0 147.5px,#321e5f 0 152.6px,#2f1e59 0 156.1px,#321e5f 0 159.5px,#391f64 0 161.2px,#2f1e59 0 162.9px,#391f64 0 166.4px,#2f1e59 0 171.5px,#321e5f 0 173.2px,#2f1e59 0 174.9px,#2b1e54 0 176.6px,#2f1e59 0 183.5px,#321e5f 0 185.2px,#2b1e54 0 186.9px,#321e5f 0 188.7px,#2f1e59 0 190.4px,#321e5f 0 192.1px,#2b1e54 0 193.8px,#321e5f 0 195.5px,#2f1e59 0 205.8px,#321e5f 0 209.2px,#2f1e59 0 214.4px,#321e5f 0 216.1px,#391f64 0 217.8px,#2b1e54 0 219.5px,#321e5f 0 221.2px,#2f1e59 0 224.7px,#391f64 0 226.4px,#2f1e59 0 228.1px,#391f64 0 229.8px,#321e5f 0 231.5px,#2f1e59 0 233.2px,#321e5f 0 235.0px,#391f64 0 236.7px,#2b1e54 0 238.4px,#2f1e59 0 241.8px,#321e5f 0 243.5px,#2f1e59 0 247.0px,#321e5f 0 248.7px,#2f1e59 0 250.4px,#2b1e54 0 252.1px,#2f1e59 0 253.8px,#391f64 0 255.5px,#2f1e59 0 257.2px,#391f64 0 259.0px,#321e5f 0 260.5px)"></div><div style="top:120.50px;height:3.01px;background:linear-gradient(90deg,#2b1e54 0 5.1px,#321e5f 0 8.6px,#2b1e54 0 10.3px,#321e5f 0 12.0px,#2f1e59 0 17.2px,#321e5f 0 20.6px,#2b1e54 0 22.3px,#321e5f 0 24.0px,#2f1e59 0 25.7px,#321e5f 0 27.4px,#2f1e59 0 30.9px,#321e5f 0 32.6px,#2b1e54 0 34.3px,#2f1e59 0 37.7px,#2b1e54 0 39.4px,#2f1e59 0 41.2px,#321e5f 0 42.9px,#2b1e54 0 46.3px,#321e5f 0 48.0px,#2f1e59 0 49.7px,#321e5f 0 51.5px,#e9712f 0 53.2px,#b43464 0 54.9px,#e26237 0 56.6px,#df5d3a 0 58.3px,#e46635 0 60.0px,#e76b32 0 61.7px,#ed8129 0 63.5px,#eb792c 0 65.2px,#df5d3a 0 66.9px,#d95444 0 68.6px,#e46635 0 70.3px,#b43464 0 73.7px,#df5d3a 0 75.5px,#b43464 0 77.2px,#f18f24 0 78.9px,#d95444 0 80.6px,#ed8129 0 82.3px,#e76b32 0 84.0px,#dd583e 0 85.8px,#f18f24 0 87.5px,#2f1e59 0 89.2px,#321e5f 0 92.6px,#2b1e54 0 97.8px,#321e5f 0 99.5px,#2b1e54 0 102.9px,#2f1e59 0 104.6px,#2b1e54 0 106.3px,#321e5f 0 108.0px,#2b1e54 0 109.8px,#2f1e59 0 111.5px,#2b1e54 0 113.2px,#321e5f 0 116.6px,#2b1e54 0 118.3px,#2f1e59 0 120.1px,#321e5f 0 121.8px,#2f1e59 0 123.5px,#321e5f 0 125.2px,#2f1e59 0 126.9px,#2b1e54 0 130.3px,#2f1e59 0 132.1px,#321e5f 0 133.8px,#2f1e59 0 135.5px,#321e5f 0 137.2px,#2f1e59 0 138.9px,#321e5f 0 140.6px,#2f1e59 0 144.1px,#321e5f 0 145.8px,#2f1e59 0 149.2px,#321e5f 0 150.9px,#2f1e59 0 156.1px,#2b1e54 0 157.8px,#2f1e59 0 159.5px,#2b1e54 0 164.6px,#2f1e59 0 171.5px,#2b1e54 0 174.9px,#2f1e59 0 178.4px,#2b1e54 0 181.8px,#2f1e59 0 183.5px,#321e5f 0 186.9px,#2f1e59 0 188.7px,#2b1e54 0 190.4px,#321e5f 0 192.1px,#2f1e59 0 195.5px,#321e5f 0 198.9px,#2f1e59 0 200.7px,#321e5f 0 202.4px,#2f1e59 0 205.8px,#321e5f 0 207.5px,#2f1e59 0 210.9px,#321e5f 0 212.7px,#2b1e54 0 214.4px,#2f1e59 0 216.1px,#2b1e54 0 219.5px,#2f1e59 0 223.0px,#2b1e54 0 224.7px,#321e5f 0 226.4px,#2b1e54 0 228.1px,#2f1e59 0 231.5px,#321e5f 0 233.2px,#2f1e59 0 235.0px,#321e5f 0 236.7px,#2b1e54 0 238.4px,#2f1e59 0 240.1px,#2b1e54 0 241.8px,#321e5f 0 245.2px,#2b1e54 0 248.7px,#321e5f 0 250.4px,#2b1e54 0 252.1px,#321e5f 0 253.8px,#2b1e54 0 255.5px,#321e5f 0 257.2px,#2b1e54 0 260.5px)"></div><div style="top:122.91px;height:3.01px;background:linear-gradient(90deg,#2f1e59 0 1.7px,#321e5f 0 3.4px,#2f1e59 0 5.1px,#2b1e54 0 6.9px,#2f1e59 0 8.6px,#321e5f 0 10.3px,#2b1e54 0 18.9px,#2f1e59 0 20.6px,#321e5f 0 24.0px,#2b1e54 0 25.7px,#2f1e59 0 29.2px,#2b1e54 0 39.4px,#321e5f 0 41.2px,#2b1e54 0 44.6px,#2f1e59 0 46.3px,#321e5f 0 48.0px,#2b1e54 0 49.7px,#2f1e59 0 51.5px,#2b1e54 0 53.2px,#2f1e59 0 54.9px,#321e5f 0 58.3px,#2b1e54 0 68.6px,#2f1e59 0 73.7px,#2b1e54 0 75.5px,#2f1e59 0 77.2px,#281e4e 0 78.9px,#2f1e59 0 80.6px,#321e5f 0 82.3px,#2f1e59 0 85.8px,#2b1e54 0 90.9px,#321e5f 0 94.3px,#2f1e59 0 99.5px,#2b1e54 0 101.2px,#2f1e59 0 106.3px,#321e5f 0 108.0px,#2f1e59 0 113.2px,#2b1e54 0 116.6px,#281e4e 0 118.3px,#2b1e54 0 120.1px,#321e5f 0 121.8px,#2b1e54 0 123.5px,#321e5f 0 125.2px,#2b1e54 0 128.6px,#2f1e59 0 130.3px,#2b1e54 0 138.9px,#321e5f 0 140.6px,#281e4e 0 142.3px,#2b1e54 0 145.8px,#321e5f 0 147.5px,#2b1e54 0 150.9px,#321e5f 0 152.6px,#2b1e54 0 156.1px,#2f1e59 0 157.8px,#2b1e54 0 162.9px,#281e4e 0 164.6px,#321e5f 0 166.4px,#2b1e54 0 171.5px,#2f1e59 0 173.2px,#321e5f 0 174.9px,#2f1e59 0 176.6px,#2b1e54 0 180.1px,#321e5f 0 185.2px,#2b1e54 0 188.7px,#321e5f 0 190.4px,#2f1e59 0 193.8px,#2b1e54 0 195.5px,#2f1e59 0 197.2px,#2b1e54 0 198.9px,#321e5f 0 200.7px,#2b1e54 0 202.4px,#2f1e59 0 205.8px,#281e4e 0 207.5px,#2b1e54 0 209.2px,#2f1e59 0 214.4px,#2b1e54 0 216.1px,#2f1e59 0 219.5px,#2b1e54 0 221.2px,#2f1e59 0 223.0px,#321e5f 0 224.7px,#2f1e59 0 226.4px,#321e5f 0 229.8px,#2b1e54 0 233.2px,#2f1e59 0 240.1px,#321e5f 0 241.8px,#2b1e54 0 243.5px,#2f1e59 0 248.7px,#2b1e54 0 250.4px,#321e5f 0 253.8px,#2f1e59 0 255.5px,#2b1e54 0 257.2px,#2f1e59 0 259.0px,#321e5f 0 260.5px)"></div><div style="top:125.32px;height:3.01px;background:linear-gradient(90deg,#281e4e 0 1.7px,#2f1e59 0 13.7px,#2b1e54 0 15.4px,#2f1e59 0 17.2px,#281e4e 0 18.9px,#2b1e54 0 20.6px,#2f1e59 0 22.3px,#281e4e 0 24.0px,#2b1e54 0 34.3px,#281e4e 0 36.0px,#2f1e59 0 39.4px,#2b1e54 0 41.2px,#2f1e59 0 42.9px,#2b1e54 0 44.6px,#2f1e59 0 46.3px,#2b1e54 0 51.5px,#281e4e 0 54.9px,#2b1e54 0 58.3px,#2f1e59 0 63.5px,#281e4e 0 65.2px,#2f1e59 0 66.9px,#2b1e54 0 73.7px,#2f1e59 0 75.5px,#2b1e54 0 78.9px,#281e4e 0 80.6px,#2b1e54 0 84.0px,#2f1e59 0 85.8px,#2b1e54 0 89.2px,#2f1e59 0 94.3px,#2b1e54 0 101.2px,#2f1e59 0 104.6px,#2b1e54 0 106.3px,#281e4e 0 108.0px,#2b1e54 0 109.8px,#2f1e59 0 113.2px,#2b1e54 0 114.9px,#281e4e 0 116.6px,#2f1e59 0 118.3px,#2b1e54 0 120.1px,#2f1e59 0 123.5px,#281e4e 0 126.9px,#2f1e59 0 128.6px,#2b1e54 0 130.3px,#281e4e 0 132.1px,#2b1e54 0 133.8px,#281e4e 0 137.2px,#2f1e59 0 138.9px,#2b1e54 0 140.6px,#2f1e59 0 142.3px,#281e4e 0 144.1px,#2f1e59 0 145.8px,#2b1e54 0 149.2px,#2f1e59 0 150.9px,#2b1e54 0 154.3px,#2f1e59 0 156.1px,#281e4e 0 159.5px,#2f1e59 0 161.2px,#281e4e 0 162.9px,#2b1e54 0 164.6px,#2f1e59 0 166.4px,#281e4e 0 168.1px,#2b1e54 0 173.2px,#2f1e59 0 174.9px,#2b1e54 0 176.6px,#2f1e59 0 178.4px,#281e4e 0 180.1px,#2f1e59 0 181.8px,#2b1e54 0 183.5px,#281e4e 0 188.7px,#2b1e54 0 190.4px,#281e4e 0 193.8px,#2b1e54 0 195.5px,#281e4e 0 197.2px,#2f1e59 0 198.9px,#281e4e 0 200.7px,#2f1e59 0 204.1px,#281e4e 0 207.5px,#2f1e59 0 212.7px,#2b1e54 0 214.4px,#281e4e 0 216.1px,#2f1e59 0 223.0px,#2b1e54 0 224.7px,#2f1e59 0 226.4px,#281e4e 0 228.1px,#2b1e54 0 229.8px,#281e4e 0 231.5px,#2f1e59 0 233.2px,#281e4e 0 235.0px,#2f1e59 0 236.7px,#2b1e54 0 240.1px,#2f1e59 0 243.5px,#2b1e54 0 245.2px,#281e4e 0 247.0px,#2b1e54 0 248.7px,#281e4e 0 250.4px,#2f1e59 0 252.1px,#2b1e54 0 253.8px,#2f1e59 0 257.2px,#2b1e54 0 259.0px,#281e4e 0 260.5px)"></div><div style="top:127.73px;height:3.01px;background:linear-gradient(90deg,#2f1e59 0 1.7px,#2b1e54 0 3.4px,#321e5f 0 5.1px,#2b1e54 0 6.9px,#2f1e59 0 8.6px,#2b1e54 0 10.3px,#281e4e 0 12.0px,#2b1e54 0 15.4px,#321e5f 0 18.9px,#2b1e54 0 20.6px,#2f1e59 0 22.3px,#321e5f 0 24.0px,#2f1e59 0 25.7px,#2b1e54 0 29.2px,#2f1e59 0 32.6px,#2b1e54 0 39.4px,#321e5f 0 42.9px,#2f1e59 0 44.6px,#2b1e54 0 46.3px,#281e4e 0 48.0px,#321e5f 0 49.7px,#2f1e59 0 51.5px,#2b1e54 0 54.9px,#2f1e59 0 58.3px,#321e5f 0 60.0px,#2b1e54 0 61.7px,#2f1e59 0 63.5px,#321e5f 0 66.9px,#2f1e59 0 68.6px,#2b1e54 0 72.0px,#2f1e59 0 73.7px,#2b1e54 0 75.5px,#2f1e59 0 77.2px,#2b1e54 0 78.9px,#321e5f 0 80.6px,#2f1e59 0 82.3px,#321e5f 0 84.0px,#2f1e59 0 85.8px,#321e5f 0 87.5px,#2f1e59 0 89.2px,#2b1e54 0 90.9px,#2f1e59 0 92.6px,#2b1e54 0 94.3px,#2f1e59 0 102.9px,#2b1e54 0 106.3px,#2f1e59 0 109.8px,#2b1e54 0 114.9px,#321e5f 0 116.6px,#2f1e59 0 121.8px,#321e5f 0 125.2px,#2f1e59 0 126.9px,#2b1e54 0 128.6px,#321e5f 0 130.3px,#2f1e59 0 132.1px,#2b1e54 0 135.5px,#321e5f 0 137.2px,#2f1e59 0 138.9px,#2b1e54 0 140.6px,#2f1e59 0 142.3px,#321e5f 0 144.1px,#2f1e59 0 145.8px,#2b1e54 0 147.5px,#321e5f 0 149.2px,#2f1e59 0 150.9px,#321e5f 0 152.6px,#2f1e59 0 154.3px,#321e5f 0 156.1px,#2f1e59 0 157.8px,#2b1e54 0 159.5px,#321e5f 0 161.2px,#2f1e59 0 162.9px,#321e5f 0 164.6px,#2b1e54 0 168.1px,#2f1e59 0 169.8px,#2b1e54 0 171.5px,#2f1e59 0 173.2px,#321e5f 0 174.9px,#281e4e 0 176.6px,#321e5f 0 178.4px,#2f1e59 0 180.1px,#2b1e54 0 181.8px,#321e5f 0 183.5px,#281e4e 0 185.2px,#2f1e59 0 192.1px,#321e5f 0 193.8px,#2f1e59 0 195.5px,#2b1e54 0 197.2px,#2f1e59 0 202.4px,#2b1e54 0 204.1px,#2f1e59 0 207.5px,#2b1e54 0 210.9px,#321e5f 0 216.1px,#2b1e54 0 219.5px,#2f1e59 0 221.2px,#281e4e 0 223.0px,#2f1e59 0 224.7px,#321e5f 0 226.4px,#2b1e54 0 228.1px,#2f1e59 0 231.5px,#2b1e54 0 233.2px,#2f1e59 0 235.0px,#2b1e54 0 236.7px,#2f1e59 0 241.8px,#2b1e54 0 252.1px,#2f1e59 0 253.8px,#2b1e54 0 257.2px,#2f1e59 0 260.5px)"></div><div style="top:130.14px;height:3.01px;background:linear-gradient(90deg,#2f1e59 0 1.7px,#321e5f 0 5.1px,#2b1e54 0 6.9px,#2f1e59 0 8.6px,#2b1e54 0 12.0px,#2f1e59 0 13.7px,#2b1e54 0 15.4px,#281e4e 0 17.2px,#2f1e59 0 24.0px,#2b1e54 0 29.2px,#2f1e59 0 37.7px,#321e5f 0 39.4px,#2f1e59 0 41.2px,#2b1e54 0 44.6px,#321e5f 0 46.3px,#2b1e54 0 48.0px,#2f1e59 0 49.7px,#2b1e54 0 53.2px,#2f1e59 0 54.9px,#281e4e 0 56.6px,#2b1e54 0 60.0px,#2f1e59 0 61.7px,#281e4e 0 63.5px,#2b1e54 0 65.2px,#2f1e59 0 66.9px,#2b1e54 0 70.3px,#2f1e59 0 73.7px,#321e5f 0 75.5px,#2b1e54 0 77.2px,#2f1e59 0 80.6px,#281e4e 0 84.0px,#2b1e54 0 85.8px,#2f1e59 0 89.2px,#281e4e 0 90.9px,#2f1e59 0 92.6px,#2b1e54 0 94.3px,#2f1e59 0 97.8px,#2b1e54 0 101.2px,#281e4e 0 108.0px,#2f1e59 0 109.8px,#321e5f 0 111.5px,#2f1e59 0 113.2px,#2b1e54 0 114.9px,#2f1e59 0 116.6px,#2b1e54 0 123.5px,#281e4e 0 125.2px,#2b1e54 0 126.9px,#2f1e59 0 128.6px,#2b1e54 0 132.1px,#2f1e59 0 133.8px,#321e5f 0 135.5px,#2b1e54 0 137.2px,#2f1e59 0 138.9px,#321e5f 0 140.6px,#2f1e59 0 142.3px,#281e4e 0 144.1px,#2f1e59 0 147.5px,#2b1e54 0 150.9px,#321e5f 0 152.6px,#2f1e59 0 159.5px,#2b1e54 0 161.2px,#321e5f 0 162.9px,#2f1e59 0 168.1px,#321e5f 0 169.8px,#2b1e54 0 173.2px,#2f1e59 0 176.6px,#281e4e 0 178.4px,#321e5f 0 180.1px,#2f1e59 0 181.8px,#321e5f 0 183.5px,#2f1e59 0 188.7px,#2b1e54 0 190.4px,#321e5f 0 192.1px,#2b1e54 0 193.8px,#2f1e59 0 195.5px,#2b1e54 0 197.2px,#281e4e 0 198.9px,#2f1e59 0 200.7px,#2b1e54 0 204.1px,#2f1e59 0 212.7px,#321e5f 0 214.4px,#2b1e54 0 219.5px,#281e4e 0 221.2px,#2f1e59 0 223.0px,#2b1e54 0 226.4px,#2f1e59 0 228.1px,#2b1e54 0 229.8px,#321e5f 0 233.2px,#2f1e59 0 235.0px,#2b1e54 0 236.7px,#2f1e59 0 238.4px,#2b1e54 0 240.1px,#2f1e59 0 241.8px,#321e5f 0 243.5px,#2b1e54 0 245.2px,#2f1e59 0 248.7px,#2b1e54 0 250.4px,#2f1e59 0 252.1px,#2b1e54 0 253.8px,#281e4e 0 255.5px,#2b1e54 0 260.5px)"></div><div style="top:132.55px;height:3.01px;background:linear-gradient(90deg,#321e5f 0 1.7px,#2b1e54 0 3.4px,#2f1e59 0 6.9px,#321e5f 0 8.6px,#2f1e59 0 12.0px,#321e5f 0 13.7px,#2f1e59 0 15.4px,#321e5f 0 17.2px,#2b1e54 0 18.9px,#321e5f 0 20.6px,#2f1e59 0 22.3px,#2b1e54 0 24.0px,#321e5f 0 25.7px,#2f1e59 0 29.2px,#321e5f 0 30.9px,#2b1e54 0 32.6px,#2f1e59 0 34.3px,#321e5f 0 36.0px,#2f1e59 0 37.7px,#321e5f 0 44.6px,#2f1e59 0 51.5px,#2b1e54 0 53.2px,#321e5f 0 61.7px,#391f64 0 63.5px,#321e5f 0 66.9px,#391f64 0 68.6px,#2f1e59 0 72.0px,#391f64 0 73.7px,#2f1e59 0 77.2px,#321e5f 0 84.0px,#391f64 0 85.8px,#321e5f 0 87.5px,#2f1e59 0 90.9px,#321e5f 0 92.6px,#2f1e59 0 94.3px,#321e5f 0 96.0px,#2b1e54 0 97.8px,#2f1e59 0 99.5px,#321e5f 0 101.2px,#391f64 0 104.6px,#2f1e59 0 106.3px,#321e5f 0 109.8px,#391f64 0 111.5px,#2f1e59 0 116.6px,#321e5f 0 118.3px,#2f1e59 0 120.1px,#2b1e54 0 121.8px,#2f1e59 0 123.5px,#321e5f 0 125.2px,#2f1e59 0 128.6px,#321e5f 0 130.3px,#2b1e54 0 132.1px,#2f1e59 0 135.5px,#321e5f 0 137.2px,#2f1e59 0 140.6px,#391f64 0 142.3px,#321e5f 0 144.1px,#2f1e59 0 145.8px,#391f64 0 147.5px,#321e5f 0 152.6px,#391f64 0 154.3px,#2f1e59 0 156.1px,#321e5f 0 157.8px,#2f1e59 0 164.6px,#2b1e54 0 166.4px,#391f64 0 168.1px,#2f1e59 0 171.5px,#321e5f 0 173.2px,#2f1e59 0 176.6px,#321e5f 0 180.1px,#2f1e59 0 181.8px,#321e5f 0 183.5px,#2f1e59 0 185.2px,#321e5f 0 188.7px,#2f1e59 0 190.4px,#2b1e54 0 192.1px,#321e5f 0 195.5px,#2f1e59 0 198.9px,#321e5f 0 200.7px,#2b1e54 0 202.4px,#2f1e59 0 207.5px,#321e5f 0 209.2px,#391f64 0 210.9px,#321e5f 0 212.7px,#2f1e59 0 216.1px,#321e5f 0 224.7px,#391f64 0 226.4px,#321e5f 0 231.5px,#2f1e59 0 233.2px,#2b1e54 0 235.0px,#321e5f 0 236.7px,#391f64 0 238.4px,#2f1e59 0 240.1px,#2b1e54 0 241.8px,#321e5f 0 245.2px,#2f1e59 0 250.4px,#2b1e54 0 252.1px,#2f1e59 0 253.8px,#321e5f 0 255.5px,#2b1e54 0 257.2px,#2f1e59 0 260.5px)"></div><div style="top:134.96px;height:3.01px;background:linear-gradient(90deg,#2f1e59 0 1.7px,#3f1f69 0 3.4px,#321e5f 0 13.7px,#391f64 0 15.4px,#321e5f 0 17.2px,#2f1e59 0 18.9px,#321e5f 0 20.6px,#391f64 0 22.3px,#2f1e59 0 24.0px,#391f64 0 25.7px,#3f1f69 0 29.2px,#2f1e59 0 30.9px,#391f64 0 32.6px,#321e5f 0 37.7px,#391f64 0 41.2px,#321e5f 0 42.9px,#2f1e59 0 44.6px,#321e5f 0 46.3px,#391f64 0 49.7px,#321e5f 0 53.2px,#3f1f69 0 54.9px,#321e5f 0 56.6px,#391f64 0 58.3px,#321e5f 0 60.0px,#2f1e59 0 61.7px,#391f64 0 63.5px,#2f1e59 0 65.2px,#321e5f 0 66.9px,#2f1e59 0 68.6px,#391f64 0 73.7px,#321e5f 0 75.5px,#2f1e59 0 80.6px,#321e5f 0 82.3px,#391f64 0 85.8px,#321e5f 0 89.2px,#391f64 0 92.6px,#321e5f 0 94.3px,#2f1e59 0 96.0px,#391f64 0 99.5px,#321e5f 0 102.9px,#391f64 0 108.0px,#2f1e59 0 109.8px,#391f64 0 111.5px,#321e5f 0 113.2px,#2f1e59 0 114.9px,#391f64 0 120.1px,#321e5f 0 121.8px,#391f64 0 128.6px,#2f1e59 0 130.3px,#391f64 0 132.1px,#3f1f69 0 133.8px,#391f64 0 135.5px,#321e5f 0 137.2px,#2f1e59 0 138.9px,#321e5f 0 142.3px,#391f64 0 144.1px,#2f1e59 0 145.8px,#321e5f 0 147.5px,#3f1f69 0 149.2px,#391f64 0 150.9px,#3f1f69 0 152.6px,#321e5f 0 156.1px,#391f64 0 159.5px,#321e5f 0 161.2px,#391f64 0 162.9px,#321e5f 0 166.4px,#3f1f69 0 168.1px,#2f1e59 0 169.8px,#321e5f 0 174.9px,#391f64 0 176.6px,#2f1e59 0 178.4px,#3f1f69 0 180.1px,#391f64 0 181.8px,#2f1e59 0 183.5px,#321e5f 0 185.2px,#391f64 0 188.7px,#321e5f 0 190.4px,#2f1e59 0 192.1px,#321e5f 0 193.8px,#391f64 0 197.2px,#2f1e59 0 198.9px,#391f64 0 200.7px,#3f1f69 0 204.1px,#321e5f 0 205.8px,#3f1f69 0 209.2px,#391f64 0 210.9px,#2f1e59 0 212.7px,#391f64 0 214.4px,#321e5f 0 221.2px,#3f1f69 0 223.0px,#391f64 0 224.7px,#321e5f 0 226.4px,#391f64 0 228.1px,#321e5f 0 229.8px,#391f64 0 231.5px,#321e5f 0 233.2px,#3f1f69 0 235.0px,#391f64 0 236.7px,#321e5f 0 238.4px,#391f64 0 241.8px,#2f1e59 0 243.5px,#391f64 0 250.4px,#2f1e59 0 252.1px,#3f1f69 0 253.8px,#321e5f 0 259.0px,#3f1f69 0 260.5px)"></div><div style="top:137.37px;height:3.01px;background:linear-gradient(90deg,#2f1e59 0 3.4px,#391f64 0 5.1px,#2f1e59 0 6.9px,#391f64 0 8.6px,#321e5f 0 12.0px,#2f1e59 0 13.7px,#321e5f 0 15.4px,#2b1e54 0 17.2px,#391f64 0 18.9px,#2f1e59 0 22.3px,#321e5f 0 24.0px,#391f64 0 25.7px,#321e5f 0 27.4px,#2f1e59 0 30.9px,#391f64 0 32.6px,#2f1e59 0 34.3px,#391f64 0 36.0px,#2f1e59 0 39.4px,#391f64 0 41.2px,#2b1e54 0 42.9px,#2f1e59 0 46.3px,#321e5f 0 49.7px,#2f1e59 0 51.5px,#391f64 0 53.2px,#2f1e59 0 54.9px,#321e5f 0 58.3px,#2f1e59 0 60.0px,#321e5f 0 63.5px,#391f64 0 65.2px,#2f1e59 0 66.9px,#321e5f 0 72.0px,#2b1e54 0 73.7px,#321e5f 0 82.3px,#2f1e59 0 85.8px,#321e5f 0 87.5px,#391f64 0 89.2px,#321e5f 0 92.6px,#2f1e59 0 94.3px,#391f64 0 97.8px,#321e5f 0 99.5px,#2f1e59 0 101.2px,#321e5f 0 104.6px,#2f1e59 0 108.0px,#391f64 0 109.8px,#2b1e54 0 111.5px,#2f1e59 0 113.2px,#391f64 0 114.9px,#2f1e59 0 116.6px,#391f64 0 120.1px,#321e5f 0 121.8px,#2f1e59 0 123.5px,#391f64 0 125.2px,#2f1e59 0 128.6px,#321e5f 0 130.3px,#391f64 0 132.1px,#321e5f 0 133.8px,#391f64 0 135.5px,#2b1e54 0 137.2px,#391f64 0 140.6px,#321e5f 0 142.3px,#2f1e59 0 145.8px,#321e5f 0 147.5px,#2f1e59 0 149.2px,#391f64 0 150.9px,#321e5f 0 154.3px,#391f64 0 156.1px,#2b1e54 0 157.8px,#321e5f 0 159.5px,#2f1e59 0 161.2px,#321e5f 0 162.9px,#2b1e54 0 164.6px,#321e5f 0 169.8px,#2f1e59 0 171.5px,#391f64 0 173.2px,#321e5f 0 176.6px,#2f1e59 0 178.4px,#391f64 0 181.8px,#2f1e59 0 186.9px,#321e5f 0 188.7px,#2b1e54 0 190.4px,#2f1e59 0 192.1px,#391f64 0 193.8px,#2f1e59 0 195.5px,#391f64 0 197.2px,#2f1e59 0 200.7px,#321e5f 0 202.4px,#2f1e59 0 204.1px,#391f64 0 207.5px,#321e5f 0 209.2px,#391f64 0 210.9px,#321e5f 0 212.7px,#2f1e59 0 214.4px,#321e5f 0 216.1px,#2f1e59 0 217.8px,#321e5f 0 221.2px,#391f64 0 223.0px,#321e5f 0 224.7px,#2b1e54 0 226.4px,#2f1e59 0 228.1px,#2b1e54 0 229.8px,#321e5f 0 231.5px,#391f64 0 233.2px,#2f1e59 0 235.0px,#2b1e54 0 236.7px,#321e5f 0 240.1px,#391f64 0 241.8px,#2b1e54 0 243.5px,#321e5f 0 245.2px,#2f1e59 0 248.7px,#391f64 0 250.4px,#2b1e54 0 252.1px,#321e5f 0 253.8px,#2f1e59 0 255.5px,#391f64 0 257.2px,#321e5f 0 260.5px)"></div><div style="top:139.78px;height:3.01px;background:linear-gradient(90deg,#2f1e59 0 3.4px,#321e5f 0 6.9px,#2b1e54 0 8.6px,#321e5f 0 10.3px,#2f1e59 0 17.2px,#321e5f 0 18.9px,#2f1e59 0 22.3px,#391f64 0 24.0px,#2f1e59 0 29.2px,#321e5f 0 34.3px,#391f64 0 36.0px,#2f1e59 0 37.7px,#321e5f 0 41.2px,#2f1e59 0 42.9px,#391f64 0 44.6px,#321e5f 0 46.3px,#391f64 0 48.0px,#2f1e59 0 49.7px,#321e5f 0 51.5px,#2f1e59 0 53.2px,#391f64 0 54.9px,#321e5f 0 60.0px,#2f1e59 0 61.7px,#2b1e54 0 63.5px,#321e5f 0 66.9px,#2f1e59 0 72.0px,#321e5f 0 73.7px,#391f64 0 75.5px,#2f1e59 0 80.6px,#391f64 0 85.8px,#321e5f 0 90.9px,#391f64 0 92.6px,#2f1e59 0 99.5px,#321e5f 0 101.2px,#2f1e59 0 102.9px,#391f64 0 104.6px,#321e5f 0 106.3px,#2f1e59 0 109.8px,#391f64 0 111.5px,#321e5f 0 113.2px,#2b1e54 0 114.9px,#2f1e59 0 116.6px,#321e5f 0 118.3px,#2b1e54 0 120.1px,#391f64 0 121.8px,#2b1e54 0 123.5px,#321e5f 0 125.2px,#2f1e59 0 128.6px,#321e5f 0 130.3px,#391f64 0 132.1px,#321e5f 0 133.8px,#2b1e54 0 135.5px,#2f1e59 0 137.2px,#321e5f 0 140.6px,#2f1e59 0 142.3px,#321e5f 0 144.1px,#2b1e54 0 145.8px,#2f1e59 0 150.9px,#321e5f 0 154.3px,#2f1e59 0 157.8px,#321e5f 0 161.2px,#391f64 0 162.9px,#321e5f 0 164.6px,#2f1e59 0 168.1px,#321e5f 0 171.5px,#391f64 0 173.2px,#2f1e59 0 178.4px,#321e5f 0 185.2px,#2f1e59 0 186.9px,#391f64 0 188.7px,#321e5f 0 190.4px,#391f64 0 195.5px,#2f1e59 0 204.1px,#391f64 0 205.8px,#321e5f 0 207.5px,#391f64 0 209.2px,#321e5f 0 210.9px,#2f1e59 0 214.4px,#321e5f 0 217.8px,#391f64 0 219.5px,#2f1e59 0 221.2px,#391f64 0 224.7px,#321e5f 0 228.1px,#391f64 0 229.8px,#2f1e59 0 235.0px,#391f64 0 236.7px,#321e5f 0 238.4px,#2f1e59 0 240.1px,#321e5f 0 247.0px,#391f64 0 250.4px,#2f1e59 0 252.1px,#321e5f 0 253.8px,#2f1e59 0 255.5px,#2b1e54 0 257.2px,#321e5f 0 259.0px,#2f1e59 0 260.5px)"></div><div style="top:142.19px;height:3.01px;background:linear-gradient(90deg,#2f1e59 0 1.7px,#2b1e54 0 3.4px,#2f1e59 0 5.1px,#321e5f 0 6.9px,#2f1e59 0 12.0px,#391f64 0 13.7px,#321e5f 0 18.9px,#2b1e54 0 20.6px,#2f1e59 0 24.0px,#2b1e54 0 25.7px,#321e5f 0 30.9px,#2f1e59 0 36.0px,#2b1e54 0 37.7px,#321e5f 0 39.4px,#391f64 0 41.2px,#2b1e54 0 42.9px,#2f1e59 0 46.3px,#321e5f 0 48.0px,#391f64 0 51.5px,#2b1e54 0 53.2px,#2f1e59 0 54.9px,#391f64 0 56.6px,#321e5f 0 58.3px,#2f1e59 0 60.0px,#321e5f 0 61.7px,#2f1e59 0 65.2px,#321e5f 0 75.5px,#2f1e59 0 78.9px,#2b1e54 0 80.6px,#321e5f 0 84.0px,#2f1e59 0 85.8px,#2b1e54 0 87.5px,#2f1e59 0 89.2px,#2b1e54 0 90.9px,#321e5f 0 94.3px,#2f1e59 0 97.8px,#2b1e54 0 99.5px,#321e5f 0 106.3px,#2b1e54 0 108.0px,#2f1e59 0 109.8px,#2b1e54 0 111.5px,#321e5f 0 113.2px,#2f1e59 0 114.9px,#391f64 0 116.6px,#2f1e59 0 118.3px,#2b1e54 0 120.1px,#2f1e59 0 125.2px,#321e5f 0 128.6px,#2b1e54 0 130.3px,#321e5f 0 133.8px,#2b1e54 0 135.5px,#321e5f 0 138.9px,#2f1e59 0 140.6px,#321e5f 0 144.1px,#2f1e59 0 156.1px,#321e5f 0 157.8px,#2f1e59 0 159.5px,#321e5f 0 161.2px,#2f1e59 0 166.4px,#321e5f 0 173.2px,#2b1e54 0 174.9px,#391f64 0 176.6px,#321e5f 0 178.4px,#2f1e59 0 181.8px,#321e5f 0 186.9px,#2b1e54 0 188.7px,#391f64 0 190.4px,#321e5f 0 195.5px,#2b1e54 0 197.2px,#321e5f 0 202.4px,#2f1e59 0 204.1px,#321e5f 0 205.8px,#391f64 0 209.2px,#321e5f 0 212.7px,#2f1e59 0 214.4px,#2b1e54 0 217.8px,#2f1e59 0 219.5px,#2b1e54 0 221.2px,#391f64 0 223.0px,#2f1e59 0 224.7px,#391f64 0 226.4px,#321e5f 0 228.1px,#2b1e54 0 229.8px,#321e5f 0 236.7px,#2b1e54 0 238.4px,#391f64 0 240.1px,#2f1e59 0 241.8px,#321e5f 0 243.5px,#391f64 0 245.2px,#321e5f 0 247.0px,#2f1e59 0 248.7px,#321e5f 0 250.4px,#2f1e59 0 253.8px,#321e5f 0 255.5px,#391f64 0 257.2px,#2b1e54 0 260.5px)"></div><div style="top:144.60px;height:3.01px;background:linear-gradient(90deg,#391f64 0 3.4px,#321e5f 0 6.9px,#391f64 0 8.6px,#2f1e59 0 10.3px,#391f64 0 12.0px,#321e5f 0 13.7px,#391f64 0 15.4px,#3f1f69 0 17.2px,#391f64 0 18.9px,#2f1e59 0 20.6px,#3f1f69 0 24.0px,#321e5f 0 29.2px,#3f1f69 0 32.6px,#391f64 0 34.3px,#321e5f 0 37.7px,#391f64 0 39.4px,#321e5f 0 48.0px,#2f1e59 0 49.7px,#321e5f 0 53.2px,#3f1f69 0 56.6px,#391f64 0 60.0px,#321e5f 0 61.7px,#3f1f69 0 63.5px,#2f1e59 0 65.2px,#321e5f 0 66.9px,#391f64 0 68.6px,#321e5f 0 70.3px,#391f64 0 72.0px,#321e5f 0 75.5px,#391f64 0 77.2px,#3f1f69 0 78.9px,#391f64 0 80.6px,#3f1f69 0 82.3px,#391f64 0 85.8px,#321e5f 0 87.5px,#391f64 0 89.2px,#321e5f 0 90.9px,#2f1e59 0 92.6px,#321e5f 0 96.0px,#2f1e59 0 99.5px,#3f1f69 0 101.2px,#391f64 0 102.9px,#321e5f 0 106.3px,#391f64 0 109.8px,#321e5f 0 111.5px,#391f64 0 113.2px,#321e5f 0 116.6px,#391f64 0 118.3px,#3f1f69 0 120.1px,#391f64 0 121.8px,#321e5f 0 123.5px,#391f64 0 125.2px,#3f1f69 0 126.9px,#391f64 0 128.6px,#2f1e59 0 133.8px,#391f64 0 135.5px,#321e5f 0 140.6px,#2f1e59 0 142.3px,#321e5f 0 147.5px,#2f1e59 0 149.2px,#321e5f 0 150.9px,#3f1f69 0 152.6px,#321e5f 0 154.3px,#3f1f69 0 156.1px,#321e5f 0 159.5px,#3f1f69 0 161.2px,#391f64 0 162.9px,#2f1e59 0 166.4px,#321e5f 0 168.1px,#391f64 0 171.5px,#3f1f69 0 173.2px,#321e5f 0 174.9px,#3f1f69 0 176.6px,#321e5f 0 178.4px,#391f64 0 180.1px,#321e5f 0 181.8px,#391f64 0 186.9px,#3f1f69 0 188.7px,#321e5f 0 193.8px,#391f64 0 197.2px,#3f1f69 0 198.9px,#391f64 0 200.7px,#3f1f69 0 202.4px,#391f64 0 205.8px,#321e5f 0 209.2px,#391f64 0 212.7px,#3f1f69 0 214.4px,#391f64 0 216.1px,#321e5f 0 217.8px,#391f64 0 223.0px,#3f1f69 0 224.7px,#321e5f 0 226.4px,#3f1f69 0 228.1px,#321e5f 0 229.8px,#3f1f69 0 231.5px,#391f64 0 233.2px,#3f1f69 0 235.0px,#321e5f 0 236.7px,#391f64 0 240.1px,#321e5f 0 243.5px,#3f1f69 0 245.2px,#391f64 0 248.7px,#321e5f 0 250.4px,#391f64 0 252.1px,#321e5f 0 253.8px,#391f64 0 255.5px,#2f1e59 0 257.2px,#391f64 0 259.0px,#2f1e59 0 260.5px)"></div><div style="top:147.01px;height:2.41px;background:linear-gradient(90deg,#391f64 0 1.7px,#321e5f 0 3.4px,#2f1e59 0 5.1px,#321e5f 0 6.9px,#391f64 0 8.6px,#321e5f 0 17.2px,#2f1e59 0 18.9px,#391f64 0 20.6px,#2f1e59 0 22.3px,#391f64 0 24.0px,#2f1e59 0 25.7px,#391f64 0 27.4px,#2f1e59 0 30.9px,#391f64 0 34.3px,#2f1e59 0 39.4px,#321e5f 0 44.6px,#2f1e59 0 46.3px,#321e5f 0 48.0px,#2f1e59 0 51.5px,#391f64 0 54.9px,#321e5f 0 56.6px,#2f1e59 0 60.0px,#321e5f 0 61.7px,#2f1e59 0 63.5px,#391f64 0 65.2px,#321e5f 0 68.6px,#2f1e59 0 72.0px,#391f64 0 73.7px,#2f1e59 0 75.5px,#391f64 0 77.2px,#321e5f 0 82.3px,#391f64 0 84.0px,#2f1e59 0 89.2px,#321e5f 0 92.6px,#2f1e59 0 94.3px,#391f64 0 99.5px,#321e5f 0 101.2px,#391f64 0 104.6px,#321e5f 0 108.0px,#2f1e59 0 109.8px,#321e5f 0 111.5px,#2f1e59 0 113.2px,#391f64 0 114.9px,#2f1e59 0 116.6px,#391f64 0 118.3px,#321e5f 0 121.8px,#391f64 0 123.5px,#2f1e59 0 125.2px,#321e5f 0 130.3px,#2f1e59 0 132.1px,#321e5f 0 133.8px,#391f64 0 135.5px,#321e5f 0 137.2px,#391f64 0 138.9px,#2f1e59 0 140.6px,#391f64 0 142.3px,#321e5f 0 147.5px,#2f1e59 0 149.2px,#391f64 0 152.6px,#321e5f 0 154.3px,#2f1e59 0 156.1px,#391f64 0 161.2px,#321e5f 0 164.6px,#391f64 0 166.4px,#2f1e59 0 168.1px,#391f64 0 169.8px,#2f1e59 0 171.5px,#321e5f 0 173.2px,#391f64 0 174.9px,#2f1e59 0 178.4px,#391f64 0 180.1px,#321e5f 0 181.8px,#391f64 0 183.5px,#321e5f 0 188.7px,#2f1e59 0 190.4px,#321e5f 0 195.5px,#391f64 0 198.9px,#321e5f 0 200.7px,#2f1e59 0 202.4px,#321e5f 0 204.1px,#391f64 0 205.8px,#321e5f 0 207.5px,#2f1e59 0 210.9px,#391f64 0 214.4px,#321e5f 0 216.1px,#2f1e59 0 223.0px,#391f64 0 224.7px,#2f1e59 0 226.4px,#391f64 0 228.1px,#321e5f 0 229.8px,#391f64 0 231.5px,#2f1e59 0 233.2px,#391f64 0 235.0px,#321e5f 0 236.7px,#2f1e59 0 238.4px,#391f64 0 243.5px,#2f1e59 0 245.2px,#321e5f 0 247.0px,#391f64 0 250.4px,#2f1e59 0 253.8px,#391f64 0 255.5px,#321e5f 0 257.2px,#391f64 0 259.0px,#321e5f 0 260.5px)"></div></div>
<svg width="685" height="592" viewBox="0 0 685 592">
<text x="0.0" y="9.9" font-size="12.50" font-weight="bold" fill="#000">a</text>
<line x1="15.50" y1="29.00" x2="15.50" y2="79.00" stroke="#222" stroke-width="1.00"/>
<text x="12.2" y="54.5" font-size="10.00" font-weight="bold" fill="#000" text-anchor="middle" transform="rotate(-90 12.2 54.5)">Control</text>
<text x="24.5" y="35.2" font-size="10.20" font-weight="bold" fill="#2b7bca" textLength="23.4" lengthAdjust="spacingAndGlyphs">Icilin</text>
<line x1="29.00" y1="39.30" x2="39.00" y2="39.30" stroke="#2b7bca" stroke-width="1.60"/>
<path d="M29.20 43.16 L30.47 43.51 L31.73 43.42 L33.00 43.69 L34.06 43.75 L35.12 43.29 L36.18 43.28 L37.24 44.06 L38.30 43.58 L39.60 46.00 L40.50 55.00 L41.30 67.00 L42.00 75.66 L42.80 74.50 L43.80 68.60 L45.00 61.50 L46.70 55.50 L48.50 51.45 L50.40 48.17 L51.70 47.55 L53.00 46.28 L54.25 45.98 L55.50 45.09 L56.62 45.37 L57.75 45.43 L58.88 44.97 L60.00 45.02 L61.00 44.90 L62.00 44.31 L63.00 44.88 L64.00 44.68 L65.00 44.37 L66.00 44.08 L67.00 44.78 L68.00 44.38 L69.00 44.55 L70.00 44.64 L71.00 44.45 L72.00 44.60 L73.00 44.09 L74.00 44.41 L75.00 44.05 L76.00 44.45 L77.00 44.36 L78.00 43.62 L79.00 43.61 L80.00 43.65 L81.04 44.29 L82.08 43.78 L83.12 43.91 L84.16 43.59 L85.20 43.74 L86.24 43.60 L87.28 43.53 L88.32 43.71 L89.36 43.68 L90.40 43.93 L91.44 43.70 L92.48 43.89 L93.52 43.79 L94.56 43.88 L95.60 43.40" stroke="#1a1a1a" stroke-width="1.10" fill="none" stroke-linejoin="round"/>
<text x="50.0" y="76.6" font-size="7.60" font-weight="normal" fill="#222" textLength="22.0" lengthAdjust="spacingAndGlyphs">200pA</text>
<path d="M75.6 67.5 V77.2 H87.5" stroke="#222" stroke-width="1.00" fill="none"/>
<text x="75.2" y="85.4" font-size="7.60" font-weight="normal" fill="#222">30s</text>
<line x1="15.50" y1="98.50" x2="15.50" y2="147.00" stroke="#222" stroke-width="1.00"/>
<text x="12.2" y="122.8" font-size="10" font-weight="bold" text-anchor="middle" transform="rotate(-90 12.2 122.8)">Trhr<tspan font-size="5.6" dy="-3.8">Lbx1</tspan><tspan dy="3.8">Abl</tspan></text>
<line x1="29.00" y1="114.80" x2="39.00" y2="114.80" stroke="#2b7bca" stroke-width="1.60"/>
<path d="M29.20 118.39 L30.16 118.49 L31.12 118.55 L32.08 118.67 L33.04 118.55 L34.00 118.70 L34.90 118.12 L35.80 118.48 L36.70 118.86 L37.60 118.70 L38.60 121.00 L39.40 127.28 L40.20 129.33 L40.90 129.88 L42.00 128.62 L43.10 126.90 L45.00 123.53 L46.70 121.55 L47.85 120.51 L49.00 120.00 L50.05 119.75 L51.10 119.89 L52.08 119.71 L53.05 119.21 L54.02 119.58 L55.00 119.05 L56.00 119.34 L57.00 118.96 L58.00 118.83 L59.00 119.40 L60.00 118.90 L60.91 118.88 L61.82 119.40 L62.73 119.31 L63.64 118.88 L64.55 119.33 L65.45 119.02 L66.36 119.10 L67.27 118.75 L68.18 119.25 L69.09 119.05 L70.00 119.23 L70.93 119.17 L71.85 118.75 L72.78 118.79 L73.70 118.65 L74.63 118.63 L75.56 118.57 L76.48 118.73 L77.41 118.94 L78.33 118.51 L79.26 118.98 L80.19 118.74 L81.11 118.71 L82.04 119.07 L82.97 118.83 L83.89 118.71 L84.82 118.82 L85.74 118.97 L86.67 118.51 L87.60 119.15 L88.52 118.48 L89.45 118.98 L90.37 119.05 L91.30 118.80" stroke="#1a1a1a" stroke-width="1.00" fill="none" stroke-linejoin="round"/>
<text x="51.0" y="140.9" font-size="7.60" font-weight="normal" fill="#222" textLength="21.0" lengthAdjust="spacingAndGlyphs">100pA</text>
<path d="M75.6 132 V141.5 H88" stroke="#222" stroke-width="1.00" fill="none"/>
<text x="75.2" y="148.9" font-size="7.60" font-weight="normal" fill="#222">30s</text>
<text x="107.0" y="9.8" font-size="12.50" font-weight="bold" fill="#000">b</text>
<text x="132.4" y="16.8" font-size="11" font-weight="bold" textLength="191.5" lengthAdjust="spacingAndGlyphs">Icilin-EPSCs in Calcrl<tspan font-size="6.0" dy="-3.8">+</tspan><tspan dy="3.8"> SPB neurons</tspan></text>
<line x1="159.60" y1="28.10" x2="166.80" y2="28.10" stroke="#222" stroke-width="0.90"/>
<circle cx="163.2" cy="28.1" r="1.5" fill="#fff" stroke="#222" stroke-width="0.9"/>
<text x="171.8" y="31.3" font-size="10.00" font-weight="bold" fill="#000">Control</text>
<line x1="159.60" y1="38.90" x2="166.80" y2="38.90" stroke="#c8964b" stroke-width="0.90"/>
<rect x="161.50" y="37.20" width="3.40" height="3.40" fill="#f3e6c6" stroke="#c8964b" stroke-width="0.9"/>
<text x="171.8" y="42.1" font-size="10" font-weight="bold">Trhr<tspan font-size="5.6" dy="-3.8">Lbx1</tspan><tspan dy="3.8">-Abl</tspan></text>
<rect x="223.10" y="42.00" width="24.90" height="87.20" fill="#94bae4"/>
<line x1="152.60" y1="40.50" x2="152.60" y2="129.50" stroke="#222" stroke-width="1.00"/>
<line x1="150.00" y1="129.30" x2="152.60" y2="129.30" stroke="#222" stroke-width="1.00"/>
<text x="149.2" y="132.9" font-size="10.00" font-weight="bold" fill="#000" text-anchor="end">0</text>
<line x1="150.00" y1="111.59" x2="152.60" y2="111.59" stroke="#222" stroke-width="1.00"/>
<text x="149.2" y="115.2" font-size="10.00" font-weight="bold" fill="#000" text-anchor="end">20</text>
<line x1="150.00" y1="93.88" x2="152.60" y2="93.88" stroke="#222" stroke-width="1.00"/>
<text x="149.2" y="97.5" font-size="10.00" font-weight="bold" fill="#000" text-anchor="end">40</text>
<line x1="150.00" y1="76.17" x2="152.60" y2="76.17" stroke="#222" stroke-width="1.00"/>
<text x="149.2" y="79.8" font-size="10.00" font-weight="bold" fill="#000" text-anchor="end">60</text>
<line x1="150.00" y1="58.46" x2="152.60" y2="58.46" stroke="#222" stroke-width="1.00"/>
<text x="149.2" y="62.1" font-size="10.00" font-weight="bold" fill="#000" text-anchor="end">80</text>
<line x1="150.00" y1="40.75" x2="152.60" y2="40.75" stroke="#222" stroke-width="1.00"/>
<text x="149.2" y="44.4" font-size="10.00" font-weight="bold" fill="#000" text-anchor="end">100</text>
<text x="126.4" y="83.2" font-size="10.60" font-weight="bold" fill="#000" text-anchor="middle" transform="rotate(-90 126.4 83.2)" textLength="91.0" lengthAdjust="spacingAndGlyphs">Normalization (%)</text>
<line x1="152.60" y1="84.90" x2="311.60" y2="84.90" stroke="#777" stroke-width="1.20" stroke-dasharray="1.1 1.3"/>
<line x1="152.60" y1="129.50" x2="311.60" y2="129.50" stroke="#222" stroke-width="1.00" stroke-dasharray="1.2 1.2"/>
<line x1="160.50" y1="139.80" x2="311.50" y2="139.80" stroke="#333" stroke-width="1.00"/>
<line x1="160.50" y1="139.80" x2="160.50" y2="142.60" stroke="#333" stroke-width="0.90"/>
<line x1="183.23" y1="139.80" x2="183.23" y2="141.60" stroke="#333" stroke-width="0.90"/>
<line x1="196.52" y1="139.80" x2="196.52" y2="141.60" stroke="#333" stroke-width="0.90"/>
<line x1="205.96" y1="139.80" x2="205.96" y2="141.60" stroke="#333" stroke-width="0.90"/>
<line x1="213.27" y1="139.80" x2="213.27" y2="141.60" stroke="#333" stroke-width="0.90"/>
<line x1="219.25" y1="139.80" x2="219.25" y2="141.60" stroke="#333" stroke-width="0.90"/>
<line x1="224.30" y1="139.80" x2="224.30" y2="141.60" stroke="#333" stroke-width="0.90"/>
<line x1="228.68" y1="139.80" x2="228.68" y2="141.60" stroke="#333" stroke-width="0.90"/>
<line x1="232.55" y1="139.80" x2="232.55" y2="141.60" stroke="#333" stroke-width="0.90"/>
<line x1="236.00" y1="139.80" x2="236.00" y2="142.60" stroke="#333" stroke-width="0.90"/>
<line x1="258.73" y1="139.80" x2="258.73" y2="141.60" stroke="#333" stroke-width="0.90"/>
<line x1="272.02" y1="139.80" x2="272.02" y2="141.60" stroke="#333" stroke-width="0.90"/>
<line x1="281.46" y1="139.80" x2="281.46" y2="141.60" stroke="#333" stroke-width="0.90"/>
<line x1="288.77" y1="139.80" x2="288.77" y2="141.60" stroke="#333" stroke-width="0.90"/>
<line x1="294.75" y1="139.80" x2="294.75" y2="141.60" stroke="#333" stroke-width="0.90"/>
<line x1="299.80" y1="139.80" x2="299.80" y2="141.60" stroke="#333" stroke-width="0.90"/>
<line x1="304.18" y1="139.80" x2="304.18" y2="141.60" stroke="#333" stroke-width="0.90"/>
<line x1="308.05" y1="139.80" x2="308.05" y2="141.60" stroke="#333" stroke-width="0.90"/>
<line x1="311.50" y1="139.80" x2="311.50" y2="142.60" stroke="#333" stroke-width="0.90"/>
<text x="160.5" y="155.5" font-size="10.00" font-weight="bold" fill="#000" text-anchor="middle">0.1</text>
<text x="236.0" y="155.5" font-size="10.00" font-weight="bold" fill="#000" text-anchor="middle">1</text>
<text x="311.5" y="155.5" font-size="10.00" font-weight="bold" fill="#000" text-anchor="middle">10</text>
<text x="240.2" y="167.8" font-size="10.20" font-weight="bold" fill="#000" text-anchor="middle" textLength="98.7" lengthAdjust="spacingAndGlyphs">Concentration (μM)</text>
<path d="M160.50 122.30 C163.42 121.18 172.02 118.12 178.00 115.60 C183.98 113.08 190.07 110.97 196.40 107.20 C202.73 103.43 209.40 98.33 216.00 93.00 C222.60 87.67 229.50 81.20 236.00 75.20 C242.50 69.20 249.00 61.77 255.00 57.00 C261.00 52.23 266.37 49.07 272.00 46.60 C277.63 44.13 284.13 43.10 288.80 42.20 C293.47 41.30 296.22 41.40 300.00 41.20 C303.78 41.00 309.58 41.03 311.50 41.00" stroke="#111" stroke-width="0.95" fill="none"/>
<circle cx="160.5" cy="122.3" r="1.65" fill="#fff" stroke="#111" stroke-width="0.9"/>
<line x1="196.52" y1="105.83" x2="196.52" y2="108.49" stroke="#111" stroke-width="0.90"/>
<line x1="195.02" y1="105.83" x2="198.02" y2="105.83" stroke="#111" stroke-width="0.90"/>
<line x1="195.02" y1="108.49" x2="198.02" y2="108.49" stroke="#111" stroke-width="0.90"/>
<circle cx="196.5" cy="107.2" r="1.65" fill="#fff" stroke="#111" stroke-width="0.9"/>
<line x1="236.00" y1="70.86" x2="236.00" y2="78.83" stroke="#111" stroke-width="0.90"/>
<line x1="234.50" y1="70.86" x2="237.50" y2="70.86" stroke="#111" stroke-width="0.90"/>
<line x1="234.50" y1="78.83" x2="237.50" y2="78.83" stroke="#111" stroke-width="0.90"/>
<circle cx="236.0" cy="74.8" r="1.65" fill="#fff" stroke="#111" stroke-width="0.9"/>
<line x1="272.02" y1="43.85" x2="272.02" y2="48.28" stroke="#111" stroke-width="0.90"/>
<line x1="270.52" y1="43.85" x2="273.52" y2="43.85" stroke="#111" stroke-width="0.90"/>
<line x1="270.52" y1="48.28" x2="273.52" y2="48.28" stroke="#111" stroke-width="0.90"/>
<circle cx="272.0" cy="46.1" r="1.65" fill="#fff" stroke="#111" stroke-width="0.9"/>
<line x1="288.77" y1="40.31" x2="288.77" y2="43.85" stroke="#111" stroke-width="0.90"/>
<line x1="287.27" y1="40.31" x2="290.27" y2="40.31" stroke="#111" stroke-width="0.90"/>
<line x1="287.27" y1="43.85" x2="290.27" y2="43.85" stroke="#111" stroke-width="0.90"/>
<circle cx="288.8" cy="42.1" r="1.65" fill="#fff" stroke="#111" stroke-width="0.9"/>
<line x1="311.50" y1="38.98" x2="311.50" y2="42.52" stroke="#111" stroke-width="0.90"/>
<line x1="310.00" y1="38.98" x2="313.00" y2="38.98" stroke="#111" stroke-width="0.90"/>
<line x1="310.00" y1="42.52" x2="313.00" y2="42.52" stroke="#111" stroke-width="0.90"/>
<circle cx="311.5" cy="40.8" r="1.65" fill="#fff" stroke="#111" stroke-width="0.9"/>
<path d="M160.50 126.90 C164.58 126.87 176.75 126.78 185.00 126.70 C193.25 126.62 201.50 126.53 210.00 126.40 C218.50 126.27 229.33 126.20 236.00 125.90 C242.67 125.60 245.67 125.38 250.00 124.60 C254.33 123.82 258.33 122.70 262.00 121.20 C265.67 119.70 269.00 118.05 272.00 115.60 C275.00 113.15 277.20 110.20 280.00 106.50 C282.80 102.80 286.13 96.10 288.80 93.40 C291.47 90.70 292.22 90.93 296.00 90.30 C299.78 89.67 308.92 89.72 311.50 89.60" stroke="#c8964b" stroke-width="1.00" fill="none"/>
<rect x="158.85" y="127.12" width="3.30" height="3.30" fill="#f3e6c6" stroke="#c8964b" stroke-width="0.9"/>
<rect x="194.87" y="124.46" width="3.30" height="3.30" fill="#f3e6c6" stroke="#c8964b" stroke-width="0.9"/>
<rect x="234.35" y="120.48" width="3.30" height="3.30" fill="#f3e6c6" stroke="#c8964b" stroke-width="0.9"/>
<rect x="270.37" y="114.37" width="3.30" height="3.30" fill="#f3e6c6" stroke="#c8964b" stroke-width="0.9"/>
<rect x="287.12" y="91.61" width="3.30" height="3.30" fill="#f3e6c6" stroke="#c8964b" stroke-width="0.9"/>
<rect x="309.85" y="88.07" width="3.30" height="3.30" fill="#f3e6c6" stroke="#c8964b" stroke-width="0.9"/>
<text x="196.6" y="127.1" font-size="15.52" font-weight="bold" fill="#000" text-anchor="middle" textLength="21.2" lengthAdjust="spacingAndGlyphs">****</text>
<text x="236.1" y="123.4" font-size="15.52" font-weight="bold" fill="#000" text-anchor="middle" textLength="21.2" lengthAdjust="spacingAndGlyphs">****</text>
<text x="272.1" y="106.6" font-size="15.52" font-weight="bold" fill="#000" text-anchor="middle" textLength="21.2" lengthAdjust="spacingAndGlyphs">****</text>
<text x="288.9" y="88.5" font-size="15.52" font-weight="bold" fill="#000" text-anchor="middle" textLength="21.2" lengthAdjust="spacingAndGlyphs">****</text>
<text x="311.7" y="83.5" font-size="15.52" font-weight="bold" fill="#000" text-anchor="middle" textLength="21.2" lengthAdjust="spacingAndGlyphs">****</text>
<text x="329.0" y="9.6" font-size="12.50" font-weight="bold" fill="#000">c</text>
<text x="374.7" y="26.3" font-size="9.80" font-weight="bold" fill="#000" textLength="61.5" lengthAdjust="spacingAndGlyphs">13/18 (72.2%)</text>
<line x1="344.50" y1="29.00" x2="344.50" y2="79.00" stroke="#222" stroke-width="1.00"/>
<text x="341.8" y="54.5" font-size="10.00" font-weight="bold" fill="#000" text-anchor="middle" transform="rotate(-90 341.8 54.5)">Control</text>
<text x="357.2" y="58.4" font-size="10.20" font-weight="bold" fill="#2b7bca" textLength="23.4" lengthAdjust="spacingAndGlyphs">Icilin</text>
<line x1="355.00" y1="63.00" x2="380.00" y2="63.00" stroke="#2b7bca" stroke-width="1.60"/>
<path d="M355 73.6 L364 73.4 M366.2 73.2 L381 72.9 L382.5 70 L383.5 68.5 L384.3 67.4 L385.1 67.1 L385.9 67.9 L386.7 67.0 L387.5 67.7 L388.3 67.4 L389.1 67.0 L389.9 67.7 L390.7 67.0 L391.5 67.6 L392.3 67.0 L393.1 67.0 L393.9 67.5 L394.7 68.1" stroke="#1a1a1a" stroke-width="1.00" fill="none"/>
<path d="M363.4 65.2 L364.8 60.8 M365.2 65.2 L366.6 60.8" stroke="#222" stroke-width="0.8"/>
<path d="M363.4 75.5 L364.8 71.1 M365.2 75.5 L366.6 71.1" stroke="#222" stroke-width="0.8"/>
<path d="M394.6 67.6 L394.6 31.3 L417.8 34.8 L417.8 67.6 Z" stroke="#1a1a1a" stroke-width="0.60" fill="#1a1a1a"/>
<line x1="418.80" y1="35.60" x2="418.80" y2="67.40" stroke="#1a1a1a" stroke-width="0.90"/>
<path d="M417.8 67.2 L418.7 66.7 L419.6 66.7 L420.5 67.2 L421.4 67.5 L422.3 66.9 L423.2 66.7 L424.1 67.3 L425.0 66.1 L425.9 67.0 L426.8 66.2 L427.7 66.0 L428.6 65.9 L429.5 66.1 L430.4 66.6 L431.3 65.8 L432.2 66.2 L433.1 66.2 L434.0 65.8 L434.9 65.9 L435.8 65.3 L436.7 65.2" stroke="#1a1a1a" stroke-width="1.00" fill="none"/>
<text x="432.3" y="64.2" font-size="7.60" font-weight="normal" fill="#222" textLength="20.0" lengthAdjust="spacingAndGlyphs">50mV</text>
<path d="M455.6 55.2 V68.3 H462.9" stroke="#222" stroke-width="1.00" fill="none"/>
<text x="447.4" y="77.4" font-size="7.60" font-weight="normal" fill="#222" textLength="23.8" lengthAdjust="spacingAndGlyphs">200ms</text>
<text x="377.0" y="95.8" font-size="9.80" font-weight="bold" fill="#000" textLength="55.9" lengthAdjust="spacingAndGlyphs">5/16 (31.3%)</text>
<line x1="344.20" y1="98.00" x2="344.20" y2="147.30" stroke="#222" stroke-width="1.00"/>
<text x="341.5" y="122.8" font-size="10" font-weight="bold" text-anchor="middle" transform="rotate(-90 341.5 122.8)">Trhr<tspan font-size="5.6" dy="-3.8">Lbx1</tspan><tspan dy="3.8">Abl</tspan></text>
<line x1="354.00" y1="127.10" x2="378.60" y2="127.10" stroke="#2b7bca" stroke-width="1.60"/>
<path d="M354 134.1 L364 134.1 M366.2 134.1 L384.0 134.1 L386.0 133.2 L388.0 133.9 L390.0 133.0 L392.0 133.6 L394.0 133.3 L396.5 133.0 L397.6 131.0 L398.3 104.6 L398.9 104.6 L399.4 140.5 L401.0 140.8 L405.0 136.5 L410.0 132.5 L411.0 131.0 L411.7 103.5 L412.3 103.5 L412.9 141.0 L415.0 141.0 L419.0 137.0 L424.0 134.8 L439.5 135.2" stroke="#1a1a1a" stroke-width="0.90" fill="none" stroke-linejoin="round"/>
<path d="M363.4 129.3 L364.8 124.9 M365.2 129.3 L366.6 124.9" stroke="#222" stroke-width="0.8"/>
<path d="M363.4 136.3 L364.8 131.9 M365.2 136.3 L366.6 131.9" stroke="#222" stroke-width="0.8"/>
<text x="431.0" y="146.2" font-size="7.60" font-weight="normal" fill="#222" textLength="19.4" lengthAdjust="spacingAndGlyphs">50mV</text>
<path d="M453.7 135.9 V148.4 H461" stroke="#222" stroke-width="1.00" fill="none"/>
<text x="446.0" y="158.2" font-size="7.60" font-weight="normal" fill="#222" textLength="23.5" lengthAdjust="spacingAndGlyphs">200ms</text>
<text x="474.6" y="9.6" font-size="12.50" font-weight="bold" fill="#000">d</text>
<text x="489.5" y="16.9" font-size="11" font-weight="bold" textLength="177" lengthAdjust="spacingAndGlyphs">Icilin-APs in Calcrl<tspan font-size="6.0" dy="-3.8">+</tspan><tspan dy="3.8"> SPB neurons</tspan></text>
<circle cx="518.5" cy="27.3" r="2.1" fill="#bbb" stroke="#222" stroke-width="0.9"/>
<text x="527.0" y="30.3" font-size="10.00" font-weight="bold" fill="#000">Control</text>
<rect x="516.60" y="35.40" width="3.80" height="3.80" fill="#f3e6c6" stroke="#c8964b" stroke-width="1"/>
<text x="527" y="40" font-size="10" font-weight="bold">Trhr<tspan font-size="5.6" dy="-3.8">Lbx1</tspan><tspan dy="3.8">-Abl</tspan></text>
<rect x="576.20" y="49.20" width="22.80" height="92.40" fill="#94bae4"/>
<line x1="527.00" y1="51.40" x2="527.00" y2="79.40" stroke="#222" stroke-width="1.00"/>
<line x1="525.00" y1="51.70" x2="527.00" y2="51.70" stroke="#222" stroke-width="1.00"/>
<text x="523.6" y="55.3" font-size="10.00" font-weight="bold" fill="#000" text-anchor="end">100</text>
<line x1="525.00" y1="65.50" x2="527.00" y2="65.50" stroke="#222" stroke-width="1.00"/>
<text x="523.6" y="69.1" font-size="10.00" font-weight="bold" fill="#000" text-anchor="end">50</text>
<line x1="525.00" y1="79.20" x2="527.00" y2="79.20" stroke="#222" stroke-width="1.00"/>
<text x="523.6" y="82.8" font-size="10.00" font-weight="bold" fill="#000" text-anchor="end">0</text>
<text x="497.2" y="62.3" font-size="10.30" font-weight="bold" fill="#000" text-anchor="middle" transform="rotate(-90 497.2 62.3)" textLength="44.0" lengthAdjust="spacingAndGlyphs">Icilin-eAP</text>
<text x="505.6" y="60.4" font-size="10.30" font-weight="bold" fill="#000" text-anchor="middle" transform="rotate(-90 505.6 60.4)" textLength="57.0" lengthAdjust="spacingAndGlyphs">neurons (%)</text>
<rect x="536.50" y="67.40" width="5" height="11.80" fill="#cfcfcf" stroke="#333" stroke-width="0.8" rx="0.5"/>
<circle cx="539.00" cy="67.40" r="1.6" fill="#bbb" stroke="#222" stroke-width="0.8"/>
<rect x="545.40" y="77.00" width="3.2" height="3" fill="#f3e6c6" stroke="#c8964b" stroke-width="0.8"/>
<rect x="559.10" y="63.91" width="5" height="15.29" fill="#cfcfcf" stroke="#333" stroke-width="0.8" rx="0.5"/>
<circle cx="561.60" cy="63.91" r="1.6" fill="#bbb" stroke="#222" stroke-width="0.8"/>
<rect x="567.10" y="77.47" width="5" height="1.73" fill="#f3e6c6" stroke="#c8964b" stroke-width="0.8" rx="0.5"/>
<rect x="568.10" y="75.97" width="3" height="3" fill="#f3e6c6" stroke="#c8964b" stroke-width="0.8"/>
<rect x="581.60" y="59.34" width="5" height="19.86" fill="#cfcfcf" stroke="#333" stroke-width="0.8" rx="0.5"/>
<circle cx="584.10" cy="59.34" r="1.6" fill="#bbb" stroke="#222" stroke-width="0.8"/>
<rect x="589.60" y="70.59" width="5" height="8.61" fill="#f3e6c6" stroke="#c8964b" stroke-width="0.8" rx="0.5"/>
<rect x="590.60" y="69.09" width="3" height="3" fill="#f3e6c6" stroke="#c8964b" stroke-width="0.8"/>
<rect x="603.60" y="56.29" width="5" height="22.91" fill="#cfcfcf" stroke="#333" stroke-width="0.8" rx="0.5"/>
<circle cx="606.10" cy="56.29" r="1.6" fill="#bbb" stroke="#222" stroke-width="0.8"/>
<rect x="611.60" y="67.16" width="5" height="12.05" fill="#f3e6c6" stroke="#c8964b" stroke-width="0.8" rx="0.5"/>
<rect x="612.60" y="65.66" width="3" height="3" fill="#f3e6c6" stroke="#c8964b" stroke-width="0.8"/>
<rect x="626.10" y="51.70" width="5" height="27.50" fill="#cfcfcf" stroke="#333" stroke-width="0.8" rx="0.5"/>
<circle cx="628.60" cy="51.70" r="1.6" fill="#bbb" stroke="#222" stroke-width="0.8"/>
<rect x="634.10" y="55.14" width="5" height="24.06" fill="#f3e6c6" stroke="#c8964b" stroke-width="0.8" rx="0.5"/>
<rect x="635.10" y="53.64" width="3" height="3" fill="#f3e6c6" stroke="#c8964b" stroke-width="0.8"/>
<rect x="648.20" y="51.70" width="5" height="27.50" fill="#cfcfcf" stroke="#333" stroke-width="0.8" rx="0.5"/>
<circle cx="650.70" cy="51.70" r="1.6" fill="#bbb" stroke="#222" stroke-width="0.8"/>
<rect x="656.20" y="51.70" width="5" height="27.50" fill="#f3e6c6" stroke="#c8964b" stroke-width="0.8" rx="0.5"/>
<rect x="657.20" y="50.20" width="3" height="3" fill="#f3e6c6" stroke="#c8964b" stroke-width="0.8"/>
<circle cx="547" cy="75.2" r="1.6" fill="#bbb" stroke="#222" stroke-width="0.8"/>
<text x="553.9" y="60.4" font-size="8.30" font-weight="normal" fill="#111" textLength="14.5" lengthAdjust="spacingAndGlyphs" stroke="#111" stroke-width="0.25">55.6</text>
<text x="564.9" y="75.7" font-size="8.30" font-weight="normal" fill="#111" textLength="10.5" lengthAdjust="spacingAndGlyphs" stroke="#111" stroke-width="0.25">6.3</text>
<text x="575.4" y="56.7" font-size="8.30" font-weight="normal" fill="#111" textLength="15.2" lengthAdjust="spacingAndGlyphs" stroke="#111" stroke-width="0.25">72.2</text>
<text x="587.1" y="68.7" font-size="8.30" font-weight="normal" fill="#111" textLength="14.9" lengthAdjust="spacingAndGlyphs" stroke="#111" stroke-width="0.25">31.3</text>
<text x="597.7" y="52.9" font-size="8.30" font-weight="normal" fill="#111" textLength="14.8" lengthAdjust="spacingAndGlyphs" stroke="#111" stroke-width="0.25">83.3</text>
<text x="609.6" y="66.0" font-size="8.30" font-weight="normal" fill="#111" textLength="15.2" lengthAdjust="spacingAndGlyphs" stroke="#111" stroke-width="0.25">43.8</text>
<text x="621.5" y="45.9" font-size="8.30" font-weight="normal" fill="#111" textLength="11.7" lengthAdjust="spacingAndGlyphs" stroke="#111" stroke-width="0.25">100</text>
<text x="631.2" y="52.2" font-size="8.30" font-weight="normal" fill="#111" textLength="15.2" lengthAdjust="spacingAndGlyphs" stroke="#111" stroke-width="0.25">87.5</text>
<text x="642.0" y="45.9" font-size="8.30" font-weight="normal" fill="#111" textLength="25.0" lengthAdjust="spacingAndGlyphs" stroke="#111" stroke-width="0.25">100100</text>
<path d="M539.0 66.3 V63.4 H547.0 V72.3" stroke="#222" stroke-width="0.90" fill="none"/>
<text x="543.2" y="63.9" font-size="15.52" font-weight="bold" fill="#000" text-anchor="middle" textLength="10.6" lengthAdjust="spacingAndGlyphs">**</text>
<path d="M561.4 54.7 V51.1 H568.9 V70.4" stroke="#222" stroke-width="0.90" fill="none"/>
<text x="566.0" y="53.1" font-size="15.52" font-weight="bold" fill="#000" text-anchor="middle" textLength="10.6" lengthAdjust="spacingAndGlyphs">**</text>
<path d="M583.6 50.3 V47.1 H592.0 V65.2" stroke="#222" stroke-width="0.90" fill="none"/>
<text x="588.0" y="48.9" font-size="15.52" font-weight="bold" fill="#000" text-anchor="middle" textLength="5.3" lengthAdjust="spacingAndGlyphs">*</text>
<path d="M606.0 47.8 V44.7 H614.5 V64.3" stroke="#222" stroke-width="0.90" fill="none"/>
<text x="610.4" y="46.1" font-size="15.52" font-weight="bold" fill="#000" text-anchor="middle" textLength="5.3" lengthAdjust="spacingAndGlyphs">*</text>
<path d="M628.5 39.0 V35.9 H637.0 V41.8" stroke="#222" stroke-width="0.90" fill="none"/>
<text x="633.3" y="34.3" font-size="10.00" font-weight="bold" fill="#000" text-anchor="middle">ns</text>
<path d="M651.0 38.6 V35.9 H659.2 V38.6" stroke="#222" stroke-width="0.90" fill="none"/>
<text x="655.0" y="34.3" font-size="10.00" font-weight="bold" fill="#000" text-anchor="middle">ns</text>
<line x1="527.00" y1="105.70" x2="527.00" y2="135.90" stroke="#222" stroke-width="1.00"/>
<line x1="525.00" y1="105.70" x2="527.00" y2="105.70" stroke="#222" stroke-width="1.00"/>
<text x="523.6" y="109.3" font-size="10.00" font-weight="bold" fill="#000" text-anchor="end">100</text>
<line x1="525.00" y1="121.00" x2="527.00" y2="121.00" stroke="#222" stroke-width="1.00"/>
<text x="523.6" y="124.6" font-size="10.00" font-weight="bold" fill="#000" text-anchor="end">50</text>
<line x1="525.00" y1="135.40" x2="527.00" y2="135.40" stroke="#222" stroke-width="1.00"/>
<text x="523.6" y="139.0" font-size="10.00" font-weight="bold" fill="#000" text-anchor="end">0</text>
<text x="498.0" y="123.4" font-size="10.30" font-weight="bold" fill="#000" text-anchor="middle" transform="rotate(-90 498.0 123.4)" textLength="56.5" lengthAdjust="spacingAndGlyphs">Spike count</text>
<line x1="533.80" y1="141.60" x2="665.90" y2="141.60" stroke="#8a8a8a" stroke-width="1.40"/>
<line x1="543.40" y1="141.60" x2="543.40" y2="144.00" stroke="#555" stroke-width="0.90"/>
<text x="543.4" y="153.4" font-size="10.00" font-weight="bold" fill="#000" text-anchor="middle">0.1</text>
<line x1="566.00" y1="141.60" x2="566.00" y2="144.00" stroke="#555" stroke-width="0.90"/>
<text x="566.0" y="153.4" font-size="10.00" font-weight="bold" fill="#000" text-anchor="middle">0.3</text>
<line x1="588.50" y1="141.60" x2="588.50" y2="144.00" stroke="#555" stroke-width="0.90"/>
<text x="588.5" y="153.4" font-size="10.00" font-weight="bold" fill="#000" text-anchor="middle">1</text>
<line x1="610.50" y1="141.60" x2="610.50" y2="144.00" stroke="#555" stroke-width="0.90"/>
<text x="610.5" y="153.4" font-size="10.00" font-weight="bold" fill="#000" text-anchor="middle">3</text>
<line x1="633.00" y1="141.60" x2="633.00" y2="144.00" stroke="#555" stroke-width="0.90"/>
<text x="633.0" y="153.4" font-size="10.00" font-weight="bold" fill="#000" text-anchor="middle">5</text>
<line x1="655.10" y1="141.60" x2="655.10" y2="144.00" stroke="#555" stroke-width="0.90"/>
<text x="655.1" y="153.4" font-size="10.00" font-weight="bold" fill="#000" text-anchor="middle">10</text>
<text x="599.5" y="165.5" font-size="10.20" font-weight="bold" fill="#000" text-anchor="middle" textLength="98.7" lengthAdjust="spacingAndGlyphs">Concentration (μM)</text>
<circle cx="540.9" cy="134.9" r="1.5" fill="none" stroke="#222" stroke-width="0.8"/>
<circle cx="539.4" cy="134.9" r="1.5" fill="none" stroke="#222" stroke-width="0.8"/>
<circle cx="539.6" cy="134.9" r="1.5" fill="none" stroke="#222" stroke-width="0.8"/>
<circle cx="538.1" cy="135.3" r="1.5" fill="none" stroke="#222" stroke-width="0.8"/>
<circle cx="539.9" cy="134.7" r="1.5" fill="none" stroke="#222" stroke-width="0.8"/>
<rect x="547.5" y="134.0" width="2.8" height="2.8" fill="#f3e6c6" stroke="#c8964b" stroke-width="0.8"/>
<rect x="546.2" y="133.7" width="2.8" height="2.8" fill="#f3e6c6" stroke="#c8964b" stroke-width="0.8"/>
<rect x="544.2" y="133.8" width="2.8" height="2.8" fill="#f3e6c6" stroke="#c8964b" stroke-width="0.8"/>
<rect x="545.7" y="134.0" width="2.8" height="2.8" fill="#f3e6c6" stroke="#c8964b" stroke-width="0.8"/>
<rect x="544.4" y="134.0" width="2.8" height="2.8" fill="#f3e6c6" stroke="#c8964b" stroke-width="0.8"/>
<rect x="543.7" y="133.9" width="2.8" height="2.8" fill="#f3e6c6" stroke="#c8964b" stroke-width="0.8"/>
<rect x="545.4" y="133.9" width="2.8" height="2.8" fill="#f3e6c6" stroke="#c8964b" stroke-width="0.8"/>
<rect x="545.7" y="133.7" width="2.8" height="2.8" fill="#f3e6c6" stroke="#c8964b" stroke-width="0.8"/>
<circle cx="562.3" cy="134.5" r="1.5" fill="none" stroke="#222" stroke-width="0.8"/>
<circle cx="563.8" cy="134.9" r="1.5" fill="none" stroke="#222" stroke-width="0.8"/>
<circle cx="562.5" cy="133.9" r="1.5" fill="none" stroke="#222" stroke-width="0.8"/>
<circle cx="560.7" cy="135.0" r="1.5" fill="none" stroke="#222" stroke-width="0.8"/>
<circle cx="561.2" cy="134.0" r="1.5" fill="none" stroke="#222" stroke-width="0.8"/>
<circle cx="563.6" cy="134.7" r="1.5" fill="none" stroke="#222" stroke-width="0.8"/>
<circle cx="560.3" cy="135.4" r="1.5" fill="none" stroke="#222" stroke-width="0.8"/>
<rect x="568.1" y="133.7" width="2.8" height="2.8" fill="#f3e6c6" stroke="#c8964b" stroke-width="0.8"/>
<rect x="567.8" y="133.7" width="2.8" height="2.8" fill="#f3e6c6" stroke="#c8964b" stroke-width="0.8"/>
<rect x="568.7" y="134.0" width="2.8" height="2.8" fill="#f3e6c6" stroke="#c8964b" stroke-width="0.8"/>
<rect x="567.3" y="133.8" width="2.8" height="2.8" fill="#f3e6c6" stroke="#c8964b" stroke-width="0.8"/>
<rect x="567.5" y="134.0" width="2.8" height="2.8" fill="#f3e6c6" stroke="#c8964b" stroke-width="0.8"/>
<rect x="569.2" y="133.7" width="2.8" height="2.8" fill="#f3e6c6" stroke="#c8964b" stroke-width="0.8"/>
<rect x="567.2" y="134.0" width="2.8" height="2.8" fill="#f3e6c6" stroke="#c8964b" stroke-width="0.8"/>
<rect x="566.4" y="134.0" width="2.8" height="2.8" fill="#f3e6c6" stroke="#c8964b" stroke-width="0.8"/>
<circle cx="582.7" cy="126.1" r="1.5" fill="none" stroke="#222" stroke-width="0.8"/>
<circle cx="583.9" cy="130.1" r="1.5" fill="none" stroke="#222" stroke-width="0.8"/>
<circle cx="585.1" cy="134.5" r="1.5" fill="none" stroke="#222" stroke-width="0.8"/>
<circle cx="584.7" cy="134.9" r="1.5" fill="none" stroke="#222" stroke-width="0.8"/>
<circle cx="583.8" cy="135.0" r="1.5" fill="none" stroke="#222" stroke-width="0.8"/>
<circle cx="583.1" cy="134.3" r="1.5" fill="none" stroke="#222" stroke-width="0.8"/>
<circle cx="585.4" cy="122.7" r="1.5" fill="none" stroke="#222" stroke-width="0.8"/>
<circle cx="585.8" cy="133.4" r="1.5" fill="none" stroke="#222" stroke-width="0.8"/>
<circle cx="583.6" cy="134.3" r="1.5" fill="none" stroke="#222" stroke-width="0.8"/>
<circle cx="584.7" cy="125.0" r="1.5" fill="none" stroke="#222" stroke-width="0.8"/>
<circle cx="586.3" cy="135.1" r="1.5" fill="none" stroke="#222" stroke-width="0.8"/>
<circle cx="583.0" cy="134.3" r="1.5" fill="none" stroke="#222" stroke-width="0.8"/>
<circle cx="583.3" cy="126.6" r="1.5" fill="none" stroke="#222" stroke-width="0.8"/>
<circle cx="582.2" cy="133.5" r="1.5" fill="none" stroke="#222" stroke-width="0.8"/>
<circle cx="584.5" cy="135.1" r="1.5" fill="none" stroke="#222" stroke-width="0.8"/>
<circle cx="584.5" cy="134.0" r="1.5" fill="none" stroke="#222" stroke-width="0.8"/>
<circle cx="583.9" cy="132.7" r="1.5" fill="none" stroke="#222" stroke-width="0.8"/>
<rect x="590.6" y="133.7" width="2.8" height="2.8" fill="#f3e6c6" stroke="#c8964b" stroke-width="0.8"/>
<rect x="592.2" y="133.8" width="2.8" height="2.8" fill="#f3e6c6" stroke="#c8964b" stroke-width="0.8"/>
<rect x="589.3" y="133.9" width="2.8" height="2.8" fill="#f3e6c6" stroke="#c8964b" stroke-width="0.8"/>
<rect x="592.0" y="133.7" width="2.8" height="2.8" fill="#f3e6c6" stroke="#c8964b" stroke-width="0.8"/>
<rect x="589.5" y="133.9" width="2.8" height="2.8" fill="#f3e6c6" stroke="#c8964b" stroke-width="0.8"/>
<rect x="592.5" y="133.8" width="2.8" height="2.8" fill="#f3e6c6" stroke="#c8964b" stroke-width="0.8"/>
<rect x="592.5" y="133.9" width="2.8" height="2.8" fill="#f3e6c6" stroke="#c8964b" stroke-width="0.8"/>
<rect x="591.1" y="133.7" width="2.8" height="2.8" fill="#f3e6c6" stroke="#c8964b" stroke-width="0.8"/>
<circle cx="604.4" cy="130.9" r="1.5" fill="none" stroke="#222" stroke-width="0.8"/>
<circle cx="608.1" cy="135.3" r="1.5" fill="none" stroke="#222" stroke-width="0.8"/>
<circle cx="607.0" cy="133.6" r="1.5" fill="none" stroke="#222" stroke-width="0.8"/>
<circle cx="607.5" cy="133.4" r="1.5" fill="none" stroke="#222" stroke-width="0.8"/>
<circle cx="605.2" cy="127.6" r="1.5" fill="none" stroke="#222" stroke-width="0.8"/>
<circle cx="607.1" cy="134.3" r="1.5" fill="none" stroke="#222" stroke-width="0.8"/>
<circle cx="604.9" cy="135.2" r="1.5" fill="none" stroke="#222" stroke-width="0.8"/>
<circle cx="607.7" cy="128.4" r="1.5" fill="none" stroke="#222" stroke-width="0.8"/>
<circle cx="605.1" cy="127.2" r="1.5" fill="none" stroke="#222" stroke-width="0.8"/>
<circle cx="604.8" cy="119.9" r="1.5" fill="none" stroke="#222" stroke-width="0.8"/>
<circle cx="605.1" cy="135.4" r="1.5" fill="none" stroke="#222" stroke-width="0.8"/>
<circle cx="604.2" cy="130.5" r="1.5" fill="none" stroke="#222" stroke-width="0.8"/>
<circle cx="605.5" cy="134.3" r="1.5" fill="none" stroke="#222" stroke-width="0.8"/>
<circle cx="604.5" cy="128.1" r="1.5" fill="none" stroke="#222" stroke-width="0.8"/>
<circle cx="607.8" cy="131.9" r="1.5" fill="none" stroke="#222" stroke-width="0.8"/>
<circle cx="606.8" cy="118.1" r="1.5" fill="none" stroke="#222" stroke-width="0.8"/>
<circle cx="606.5" cy="125.5" r="1.5" fill="none" stroke="#222" stroke-width="0.8"/>
<circle cx="604.1" cy="134.6" r="1.5" fill="none" stroke="#222" stroke-width="0.8"/>
<rect x="614.3" y="134.0" width="2.8" height="2.8" fill="#f3e6c6" stroke="#c8964b" stroke-width="0.8"/>
<rect x="614.6" y="133.6" width="2.8" height="2.8" fill="#f3e6c6" stroke="#c8964b" stroke-width="0.8"/>
<rect x="613.2" y="134.0" width="2.8" height="2.8" fill="#f3e6c6" stroke="#c8964b" stroke-width="0.8"/>
<rect x="613.6" y="133.7" width="2.8" height="2.8" fill="#f3e6c6" stroke="#c8964b" stroke-width="0.8"/>
<rect x="614.7" y="133.8" width="2.8" height="2.8" fill="#f3e6c6" stroke="#c8964b" stroke-width="0.8"/>
<rect x="612.9" y="134.0" width="2.8" height="2.8" fill="#f3e6c6" stroke="#c8964b" stroke-width="0.8"/>
<rect x="614.3" y="133.6" width="2.8" height="2.8" fill="#f3e6c6" stroke="#c8964b" stroke-width="0.8"/>
<rect x="613.5" y="133.6" width="2.8" height="2.8" fill="#f3e6c6" stroke="#c8964b" stroke-width="0.8"/>
<circle cx="630.4" cy="120.2" r="1.5" fill="none" stroke="#222" stroke-width="0.8"/>
<circle cx="629.4" cy="127.0" r="1.5" fill="none" stroke="#222" stroke-width="0.8"/>
<circle cx="630.2" cy="118.5" r="1.5" fill="none" stroke="#222" stroke-width="0.8"/>
<circle cx="629.9" cy="126.0" r="1.5" fill="none" stroke="#222" stroke-width="0.8"/>
<circle cx="628.9" cy="119.1" r="1.5" fill="none" stroke="#222" stroke-width="0.8"/>
<circle cx="628.1" cy="122.8" r="1.5" fill="none" stroke="#222" stroke-width="0.8"/>
<circle cx="629.1" cy="123.4" r="1.5" fill="none" stroke="#222" stroke-width="0.8"/>
<circle cx="629.2" cy="131.2" r="1.5" fill="none" stroke="#222" stroke-width="0.8"/>
<circle cx="630.3" cy="117.1" r="1.5" fill="none" stroke="#222" stroke-width="0.8"/>
<circle cx="628.1" cy="121.2" r="1.5" fill="none" stroke="#222" stroke-width="0.8"/>
<circle cx="629.0" cy="121.1" r="1.5" fill="none" stroke="#222" stroke-width="0.8"/>
<circle cx="630.1" cy="125.6" r="1.5" fill="none" stroke="#222" stroke-width="0.8"/>
<circle cx="629.7" cy="131.1" r="1.5" fill="none" stroke="#222" stroke-width="0.8"/>
<circle cx="629.0" cy="132.0" r="1.5" fill="none" stroke="#222" stroke-width="0.8"/>
<circle cx="627.4" cy="125.0" r="1.5" fill="none" stroke="#222" stroke-width="0.8"/>
<circle cx="628.6" cy="121.6" r="1.5" fill="none" stroke="#222" stroke-width="0.8"/>
<circle cx="630.5" cy="122.9" r="1.5" fill="none" stroke="#222" stroke-width="0.8"/>
<circle cx="626.4" cy="128.5" r="1.5" fill="none" stroke="#222" stroke-width="0.8"/>
<rect x="635.9" y="132.4" width="2.8" height="2.8" fill="#f3e6c6" stroke="#c8964b" stroke-width="0.8"/>
<rect x="633.9" y="132.9" width="2.8" height="2.8" fill="#f3e6c6" stroke="#c8964b" stroke-width="0.8"/>
<rect x="635.8" y="129.2" width="2.8" height="2.8" fill="#f3e6c6" stroke="#c8964b" stroke-width="0.8"/>
<rect x="636.8" y="131.6" width="2.8" height="2.8" fill="#f3e6c6" stroke="#c8964b" stroke-width="0.8"/>
<rect x="635.9" y="132.3" width="2.8" height="2.8" fill="#f3e6c6" stroke="#c8964b" stroke-width="0.8"/>
<rect x="634.9" y="132.9" width="2.8" height="2.8" fill="#f3e6c6" stroke="#c8964b" stroke-width="0.8"/>
<rect x="636.9" y="129.7" width="2.8" height="2.8" fill="#f3e6c6" stroke="#c8964b" stroke-width="0.8"/>
<rect x="634.7" y="129.3" width="2.8" height="2.8" fill="#f3e6c6" stroke="#c8964b" stroke-width="0.8"/>
<circle cx="649.9" cy="118.7" r="1.5" fill="none" stroke="#222" stroke-width="0.8"/>
<circle cx="650.7" cy="124.7" r="1.5" fill="none" stroke="#222" stroke-width="0.8"/>
<circle cx="652.2" cy="115.3" r="1.5" fill="none" stroke="#222" stroke-width="0.8"/>
<circle cx="652.7" cy="117.0" r="1.5" fill="none" stroke="#222" stroke-width="0.8"/>
<circle cx="649.2" cy="122.8" r="1.5" fill="none" stroke="#222" stroke-width="0.8"/>
<circle cx="649.7" cy="120.5" r="1.5" fill="none" stroke="#222" stroke-width="0.8"/>
<circle cx="650.3" cy="123.6" r="1.5" fill="none" stroke="#222" stroke-width="0.8"/>
<circle cx="650.7" cy="118.1" r="1.5" fill="none" stroke="#222" stroke-width="0.8"/>
<circle cx="652.2" cy="122.3" r="1.5" fill="none" stroke="#222" stroke-width="0.8"/>
<circle cx="650.5" cy="113.4" r="1.5" fill="none" stroke="#222" stroke-width="0.8"/>
<circle cx="648.6" cy="125.5" r="1.5" fill="none" stroke="#222" stroke-width="0.8"/>
<circle cx="648.7" cy="114.8" r="1.5" fill="none" stroke="#222" stroke-width="0.8"/>
<circle cx="651.0" cy="117.0" r="1.5" fill="none" stroke="#222" stroke-width="0.8"/>
<circle cx="652.0" cy="122.4" r="1.5" fill="none" stroke="#222" stroke-width="0.8"/>
<circle cx="649.1" cy="126.2" r="1.5" fill="none" stroke="#222" stroke-width="0.8"/>
<circle cx="648.6" cy="120.4" r="1.5" fill="none" stroke="#222" stroke-width="0.8"/>
<rect x="656.2" y="127.6" width="2.8" height="2.8" fill="#f3e6c6" stroke="#c8964b" stroke-width="0.8"/>
<rect x="655.5" y="131.7" width="2.8" height="2.8" fill="#f3e6c6" stroke="#c8964b" stroke-width="0.8"/>
<rect x="657.1" y="128.8" width="2.8" height="2.8" fill="#f3e6c6" stroke="#c8964b" stroke-width="0.8"/>
<rect x="657.9" y="128.8" width="2.8" height="2.8" fill="#f3e6c6" stroke="#c8964b" stroke-width="0.8"/>
<rect x="659.1" y="127.7" width="2.8" height="2.8" fill="#f3e6c6" stroke="#c8964b" stroke-width="0.8"/>
<rect x="656.1" y="128.4" width="2.8" height="2.8" fill="#f3e6c6" stroke="#c8964b" stroke-width="0.8"/>
<rect x="656.0" y="129.7" width="2.8" height="2.8" fill="#f3e6c6" stroke="#c8964b" stroke-width="0.8"/>
<rect x="657.2" y="132.5" width="2.8" height="2.8" fill="#f3e6c6" stroke="#c8964b" stroke-width="0.8"/>
<path d="M539.4 132.0 V129.5 H547.4 V132.0" stroke="#222" stroke-width="0.90" fill="none"/>
<text x="543.9" y="126.6" font-size="10.00" font-weight="bold" fill="#000" text-anchor="middle">ns</text>
<path d="M562.0 132.0 V129.5 H570.0 V132.0" stroke="#222" stroke-width="0.90" fill="none"/>
<text x="566.5" y="126.6" font-size="10.00" font-weight="bold" fill="#000" text-anchor="middle">ns</text>
<path d="M584.1 116.1 V113.6 H592.3 V135.8" stroke="#222" stroke-width="0.90" fill="none"/>
<text x="588.5" y="114.1" font-size="15.52" font-weight="bold" fill="#000" text-anchor="middle" textLength="21.2" lengthAdjust="spacingAndGlyphs">****</text>
<path d="M606.1 115.5 V113.0 H614.3 V135.0" stroke="#222" stroke-width="0.90" fill="none"/>
<text x="611.8" y="114.1" font-size="15.52" font-weight="bold" fill="#000" text-anchor="middle" textLength="21.2" lengthAdjust="spacingAndGlyphs">****</text>
<path d="M628.6 111.5 V109.0 H636.8 V131.4" stroke="#222" stroke-width="0.90" fill="none"/>
<text x="632.6" y="108.6" font-size="15.52" font-weight="bold" fill="#000" text-anchor="middle" textLength="21.2" lengthAdjust="spacingAndGlyphs">****</text>
<path d="M650.7 111.0 V108.5 H658.9 V124.0" stroke="#222" stroke-width="0.90" fill="none"/>
<text x="657.5" y="108.6" font-size="15.52" font-weight="bold" fill="#000" text-anchor="middle" textLength="21.2" lengthAdjust="spacingAndGlyphs">****</text>
<text x="0.0" y="186.9" font-size="12.50" font-weight="bold" fill="#000">e</text>
<text x="19.9" y="197.8" font-size="10.40" font-weight="bold" fill="#000" textLength="201.6" lengthAdjust="spacingAndGlyphs">Control: AAVrg-Syn-jGCaMP7f-WPRE</text>
<rect x="42.5" y="211.2" width="11.4" height="5.1" fill="#31409a"/>
<text x="56.6" y="216.4" font-size="9.30" font-weight="bold" fill="#2a2020" textLength="62.4" lengthAdjust="spacingAndGlyphs">Cool-specific</text>
<rect x="130.0" y="211.2" width="10.8" height="5.2" fill="#1596b0"/>
<text x="144.2" y="216.4" font-size="9.30" font-weight="bold" fill="#2a2020" textLength="77.6" lengthAdjust="spacingAndGlyphs">Cool-polymodal</text>
<rect x="225.8" y="211.2" width="11.2" height="5.2" fill="#f5ea12"/>
<text x="241.2" y="216.4" font-size="9.30" font-weight="bold" fill="#2a2020" textLength="77.4" lengthAdjust="spacingAndGlyphs">Cool-insensitive</text>
<text x="97.8" y="230.0" font-size="9.60" font-weight="bold" fill="#000" textLength="19.3" lengthAdjust="spacingAndGlyphs">4 °C</text>
<line x1="96.80" y1="233.60" x2="117.10" y2="233.60" stroke="#3d2b2b" stroke-width="1.80"/>
<text x="146.4" y="230.0" font-size="9.60" font-weight="bold" fill="#000" textLength="23.8" lengthAdjust="spacingAndGlyphs">50 °C</text>
<line x1="146.90" y1="233.60" x2="169.70" y2="233.60" stroke="#3d2b2b" stroke-width="1.80"/>
<text x="199.5" y="230.0" font-size="9.60" font-weight="bold" fill="#000" textLength="26.8" lengthAdjust="spacingAndGlyphs">Pinch</text>
<line x1="199.50" y1="233.60" x2="218.90" y2="233.60" stroke="#3d2b2b" stroke-width="1.80"/>
<text x="251.1" y="230.0" font-size="9.60" font-weight="bold" fill="#000" textLength="25.3" lengthAdjust="spacingAndGlyphs">15 °C</text>
<line x1="251.10" y1="233.60" x2="276.40" y2="233.60" stroke="#3d2b2b" stroke-width="1.80"/>
<line x1="97.01" y1="239.60" x2="97.01" y2="388.24" stroke="#fff" stroke-width="1.30" stroke-dasharray="2.4 3"/>
<line x1="148.22" y1="239.60" x2="148.22" y2="388.24" stroke="#fff" stroke-width="1.30" stroke-dasharray="2.4 3"/>
<line x1="199.43" y1="239.60" x2="199.43" y2="388.24" stroke="#fff" stroke-width="1.30" stroke-dasharray="2.4 3"/>
<line x1="250.64" y1="239.60" x2="250.64" y2="388.24" stroke="#fff" stroke-width="1.30" stroke-dasharray="2.4 3"/>
<line x1="45.80" y1="238.30" x2="306.70" y2="238.30" stroke="#222" stroke-width="0.80"/>
<line x1="45.40" y1="238.60" x2="45.40" y2="388.74" stroke="#222" stroke-width="1.00"/>
<line x1="45.80" y1="388.84" x2="306.70" y2="388.84" stroke="#222" stroke-width="1.10"/>
<line x1="41.40" y1="242.00" x2="45.20" y2="242.00" stroke="#222" stroke-width="1.00"/>
<text x="40.2" y="244.4" font-size="9.60" font-weight="bold" fill="#000" text-anchor="end">1</text>
<line x1="41.40" y1="262.29" x2="45.20" y2="262.29" stroke="#222" stroke-width="1.00"/>
<text x="40.2" y="264.7" font-size="9.60" font-weight="bold" fill="#000" text-anchor="end">7</text>
<line x1="41.40" y1="282.57" x2="45.20" y2="282.57" stroke="#222" stroke-width="1.00"/>
<text x="40.2" y="285.0" font-size="9.60" font-weight="bold" fill="#000" text-anchor="end">13</text>
<line x1="41.40" y1="302.86" x2="45.20" y2="302.86" stroke="#222" stroke-width="1.00"/>
<text x="40.2" y="305.3" font-size="9.60" font-weight="bold" fill="#000" text-anchor="end">19</text>
<line x1="41.40" y1="323.14" x2="45.20" y2="323.14" stroke="#222" stroke-width="1.00"/>
<text x="40.2" y="325.5" font-size="9.60" font-weight="bold" fill="#000" text-anchor="end">25</text>
<line x1="41.40" y1="343.43" x2="45.20" y2="343.43" stroke="#222" stroke-width="1.00"/>
<text x="40.2" y="345.8" font-size="9.60" font-weight="bold" fill="#000" text-anchor="end">31</text>
<line x1="41.40" y1="363.72" x2="45.20" y2="363.72" stroke="#222" stroke-width="1.00"/>
<text x="40.2" y="366.1" font-size="9.60" font-weight="bold" fill="#000" text-anchor="end">37</text>
<line x1="41.40" y1="384.00" x2="45.20" y2="384.00" stroke="#222" stroke-width="1.00"/>
<text x="40.2" y="386.4" font-size="9.60" font-weight="bold" fill="#000" text-anchor="end">43</text>
<rect x="16.2" y="238.6" width="7.4" height="8.1" fill="#31409a"/>
<rect x="16.2" y="247.5" width="7.4" height="56.6" fill="#1596b0"/>
<rect x="16.2" y="305.0" width="7.4" height="84.4" fill="#f5ea12"/>
<text x="10.8" y="313.2" font-size="10.60" font-weight="bold" fill="#000" text-anchor="middle" transform="rotate(-90 10.8 313.2)" textLength="51.0" lengthAdjust="spacingAndGlyphs">Neuron ID</text>
<line x1="45.80" y1="388.24" x2="45.80" y2="392.20" stroke="#222" stroke-width="1.00"/>
<text x="45.8" y="402.6" font-size="9.80" font-weight="bold" fill="#000" text-anchor="middle">0</text>
<line x1="96.74" y1="388.24" x2="96.74" y2="392.20" stroke="#222" stroke-width="1.00"/>
<text x="96.7" y="402.6" font-size="9.80" font-weight="bold" fill="#000" text-anchor="middle">30</text>
<line x1="147.68" y1="388.24" x2="147.68" y2="392.20" stroke="#222" stroke-width="1.00"/>
<text x="147.7" y="402.6" font-size="9.80" font-weight="bold" fill="#000" text-anchor="middle">60</text>
<line x1="198.62" y1="388.24" x2="198.62" y2="392.20" stroke="#222" stroke-width="1.00"/>
<text x="198.6" y="402.6" font-size="9.80" font-weight="bold" fill="#000" text-anchor="middle">90</text>
<line x1="249.56" y1="388.24" x2="249.56" y2="392.20" stroke="#222" stroke-width="1.00"/>
<text x="249.6" y="402.6" font-size="9.80" font-weight="bold" fill="#000" text-anchor="middle">120</text>
<line x1="300.50" y1="388.24" x2="300.50" y2="392.20" stroke="#222" stroke-width="1.00"/>
<text x="300.5" y="402.6" font-size="9.80" font-weight="bold" fill="#000" text-anchor="middle">150</text>
<text x="176.7" y="413.8" font-size="10.40" font-weight="bold" fill="#000" text-anchor="middle" textLength="41.3" lengthAdjust="spacingAndGlyphs">Time (s)</text>
<text x="329.2" y="186.8" font-size="12.50" font-weight="bold" fill="#000">f</text>
<text x="347.6" y="198.1" font-size="10.4" font-weight="bold" textLength="223.4" lengthAdjust="spacingAndGlyphs">Trhr<tspan font-size="5.6" dy="-3.8">Lbx1</tspan><tspan dy="3.8">-Abl: AAVrg-Syn-jGCaMP7f-WPRE</tspan></text>
<rect x="370.4" y="211.2" width="11.2" height="5.2" fill="#1596b0"/>
<text x="385.4" y="216.4" font-size="9.30" font-weight="bold" fill="#2a2020" textLength="75.2" lengthAdjust="spacingAndGlyphs">Cool-polymodal</text>
<rect x="465.8" y="211.2" width="11.4" height="5.2" fill="#f5ea12"/>
<text x="481.8" y="216.4" font-size="9.30" font-weight="bold" fill="#2a2020" textLength="77.2" lengthAdjust="spacingAndGlyphs">Cool-insensitive</text>
<rect x="566.8" y="211.2" width="10.9" height="5.2" fill="#d6d6d6"/>
<text x="581.8" y="216.4" font-size="9.30" font-weight="bold" fill="#2a2020" textLength="60.1" lengthAdjust="spacingAndGlyphs">No response</text>
<text x="424.3" y="229.7" font-size="9.60" font-weight="bold" fill="#000" textLength="18.1" lengthAdjust="spacingAndGlyphs">4 °C</text>
<line x1="423.30" y1="233.30" x2="443.00" y2="233.30" stroke="#3d2b2b" stroke-width="1.80"/>
<text x="473.5" y="229.7" font-size="9.60" font-weight="bold" fill="#000" textLength="24.9" lengthAdjust="spacingAndGlyphs">50 °C</text>
<line x1="474.00" y1="233.30" x2="496.80" y2="233.30" stroke="#3d2b2b" stroke-width="1.80"/>
<text x="524.8" y="229.7" font-size="9.60" font-weight="bold" fill="#000" textLength="27.0" lengthAdjust="spacingAndGlyphs">Pinch</text>
<line x1="525.90" y1="233.30" x2="545.50" y2="233.30" stroke="#3d2b2b" stroke-width="1.80"/>
<text x="576.6" y="229.7" font-size="9.60" font-weight="bold" fill="#000" textLength="24.4" lengthAdjust="spacingAndGlyphs">15 °C</text>
<line x1="577.70" y1="233.30" x2="601.50" y2="233.30" stroke="#3d2b2b" stroke-width="1.80"/>
<text x="635.0" y="229.7" font-size="9.80" font-weight="normal" fill="#111" textLength="33.6" lengthAdjust="spacingAndGlyphs" stroke="#111" stroke-width="0.35">ΔF/F0</text>
<line x1="422.65" y1="240.30" x2="422.65" y2="388.72" stroke="#fff" stroke-width="1.30" stroke-dasharray="2.4 3"/>
<line x1="474.10" y1="240.30" x2="474.10" y2="388.72" stroke="#fff" stroke-width="1.30" stroke-dasharray="2.4 3"/>
<line x1="525.55" y1="240.30" x2="525.55" y2="388.72" stroke="#fff" stroke-width="1.30" stroke-dasharray="2.4 3"/>
<line x1="577.00" y1="240.30" x2="577.00" y2="388.72" stroke="#fff" stroke-width="1.30" stroke-dasharray="2.4 3"/>
<line x1="371.20" y1="239.00" x2="631.70" y2="239.00" stroke="#222" stroke-width="0.80"/>
<line x1="370.80" y1="239.30" x2="370.80" y2="389.22" stroke="#222" stroke-width="1.00"/>
<line x1="371.20" y1="389.32" x2="631.70" y2="389.32" stroke="#222" stroke-width="1.10"/>
<line x1="367.80" y1="240.50" x2="371.20" y2="240.50" stroke="#222" stroke-width="1.00"/>
<text x="366.6" y="242.9" font-size="9.60" font-weight="bold" fill="#000" text-anchor="end">1</text>
<line x1="367.80" y1="255.10" x2="371.20" y2="255.10" stroke="#222" stroke-width="1.00"/>
<text x="366.6" y="257.5" font-size="9.60" font-weight="bold" fill="#000" text-anchor="end">7</text>
<line x1="367.80" y1="269.70" x2="371.20" y2="269.70" stroke="#222" stroke-width="1.00"/>
<text x="366.6" y="272.1" font-size="9.60" font-weight="bold" fill="#000" text-anchor="end">13</text>
<line x1="367.80" y1="284.29" x2="371.20" y2="284.29" stroke="#222" stroke-width="1.00"/>
<text x="366.6" y="286.7" font-size="9.60" font-weight="bold" fill="#000" text-anchor="end">19</text>
<line x1="367.80" y1="298.89" x2="371.20" y2="298.89" stroke="#222" stroke-width="1.00"/>
<text x="366.6" y="301.3" font-size="9.60" font-weight="bold" fill="#000" text-anchor="end">25</text>
<line x1="367.80" y1="313.49" x2="371.20" y2="313.49" stroke="#222" stroke-width="1.00"/>
<text x="366.6" y="315.9" font-size="9.60" font-weight="bold" fill="#000" text-anchor="end">31</text>
<line x1="367.80" y1="328.09" x2="371.20" y2="328.09" stroke="#222" stroke-width="1.00"/>
<text x="366.6" y="330.5" font-size="9.60" font-weight="bold" fill="#000" text-anchor="end">37</text>
<line x1="367.80" y1="342.69" x2="371.20" y2="342.69" stroke="#222" stroke-width="1.00"/>
<text x="366.6" y="345.1" font-size="9.60" font-weight="bold" fill="#000" text-anchor="end">43</text>
<line x1="367.80" y1="357.28" x2="371.20" y2="357.28" stroke="#222" stroke-width="1.00"/>
<text x="366.6" y="359.7" font-size="9.60" font-weight="bold" fill="#000" text-anchor="end">49</text>
<line x1="367.80" y1="371.88" x2="371.20" y2="371.88" stroke="#222" stroke-width="1.00"/>
<text x="366.6" y="374.3" font-size="9.60" font-weight="bold" fill="#000" text-anchor="end">55</text>
<line x1="367.80" y1="386.48" x2="371.20" y2="386.48" stroke="#222" stroke-width="1.00"/>
<text x="366.6" y="388.9" font-size="9.60" font-weight="bold" fill="#000" text-anchor="end">61</text>
<rect x="346.4" y="240.2" width="6.9" height="9.4" fill="#1596b0"/>
<rect x="346.4" y="250.1" width="6.9" height="112.7" fill="#f5ea12"/>
<rect x="346.4" y="363.8" width="6.9" height="25.6" fill="#d6d6d6"/>
<text x="341.6" y="313.4" font-size="10.60" font-weight="bold" fill="#000" text-anchor="middle" transform="rotate(-90 341.6 313.4)" textLength="51.0" lengthAdjust="spacingAndGlyphs">Neuron ID</text>
<line x1="371.20" y1="388.72" x2="371.20" y2="392.20" stroke="#222" stroke-width="1.00"/>
<text x="371.2" y="402.6" font-size="9.80" font-weight="bold" fill="#000" text-anchor="middle">0</text>
<line x1="422.31" y1="388.72" x2="422.31" y2="392.20" stroke="#222" stroke-width="1.00"/>
<text x="422.3" y="402.6" font-size="9.80" font-weight="bold" fill="#000" text-anchor="middle">30</text>
<line x1="473.41" y1="388.72" x2="473.41" y2="392.20" stroke="#222" stroke-width="1.00"/>
<text x="473.4" y="402.6" font-size="9.80" font-weight="bold" fill="#000" text-anchor="middle">60</text>
<line x1="524.51" y1="388.72" x2="524.51" y2="392.20" stroke="#222" stroke-width="1.00"/>
<text x="524.5" y="402.6" font-size="9.80" font-weight="bold" fill="#000" text-anchor="middle">90</text>
<line x1="575.62" y1="388.72" x2="575.62" y2="392.20" stroke="#222" stroke-width="1.00"/>
<text x="575.6" y="402.6" font-size="9.80" font-weight="bold" fill="#000" text-anchor="middle">120</text>
<line x1="626.73" y1="388.72" x2="626.73" y2="392.20" stroke="#222" stroke-width="1.00"/>
<text x="626.7" y="402.6" font-size="9.80" font-weight="bold" fill="#000" text-anchor="middle">150</text>
<text x="502.4" y="413.8" font-size="10.40" font-weight="bold" fill="#000" text-anchor="middle" textLength="41.3" lengthAdjust="spacingAndGlyphs">Time (s)</text>
<defs><linearGradient id="cbg" x1="0" y1="0" x2="0" y2="1"><stop offset="0.000" stop-color="#f4ee9a"/><stop offset="0.017" stop-color="#f4e98c"/><stop offset="0.033" stop-color="#f4e57e"/><stop offset="0.050" stop-color="#f4e070"/><stop offset="0.067" stop-color="#f4da62"/><stop offset="0.083" stop-color="#f5d553"/><stop offset="0.100" stop-color="#f5cf45"/><stop offset="0.117" stop-color="#f5c63d"/><stop offset="0.133" stop-color="#f6be35"/><stop offset="0.150" stop-color="#f6b62f"/><stop offset="0.167" stop-color="#f5b12b"/><stop offset="0.183" stop-color="#f5ac28"/><stop offset="0.200" stop-color="#f5a624"/><stop offset="0.217" stop-color="#f4a121"/><stop offset="0.233" stop-color="#f39b21"/><stop offset="0.250" stop-color="#f29522"/><stop offset="0.267" stop-color="#f18f24"/><stop offset="0.283" stop-color="#f08826"/><stop offset="0.300" stop-color="#ed8129"/><stop offset="0.317" stop-color="#eb792c"/><stop offset="0.333" stop-color="#e9712f"/><stop offset="0.350" stop-color="#e76b32"/><stop offset="0.367" stop-color="#e46635"/><stop offset="0.383" stop-color="#e26237"/><stop offset="0.400" stop-color="#df5d3a"/><stop offset="0.417" stop-color="#dd583e"/><stop offset="0.433" stop-color="#d95444"/><stop offset="0.450" stop-color="#d6504a"/><stop offset="0.467" stop-color="#d34b50"/><stop offset="0.483" stop-color="#cf4756"/><stop offset="0.500" stop-color="#c84259"/><stop offset="0.517" stop-color="#c13e5d"/><stop offset="0.533" stop-color="#bb3960"/><stop offset="0.550" stop-color="#b43464"/><stop offset="0.567" stop-color="#ac3268"/><stop offset="0.583" stop-color="#a4306c"/><stop offset="0.600" stop-color="#9d2d70"/><stop offset="0.617" stop-color="#952c72"/><stop offset="0.633" stop-color="#8d2b73"/><stop offset="0.650" stop-color="#862a74"/><stop offset="0.667" stop-color="#7e2975"/><stop offset="0.683" stop-color="#762876"/><stop offset="0.700" stop-color="#6f2875"/><stop offset="0.717" stop-color="#672875"/><stop offset="0.733" stop-color="#5f2874"/><stop offset="0.750" stop-color="#582773"/><stop offset="0.767" stop-color="#522471"/><stop offset="0.783" stop-color="#4c2270"/><stop offset="0.800" stop-color="#46206e"/><stop offset="0.817" stop-color="#3f1f69"/><stop offset="0.833" stop-color="#391f64"/><stop offset="0.850" stop-color="#321e5f"/><stop offset="0.867" stop-color="#2f1e59"/><stop offset="0.883" stop-color="#2b1e54"/><stop offset="0.900" stop-color="#281e4e"/><stop offset="0.917" stop-color="#251d43"/><stop offset="0.933" stop-color="#211d38"/><stop offset="0.950" stop-color="#1e1c2d"/><stop offset="0.967" stop-color="#1b1926"/><stop offset="0.983" stop-color="#17171f"/><stop offset="1.000" stop-color="#141418"/></linearGradient></defs>
<rect x="637.2" y="237.7" width="10" height="151.3" fill="url(#cbg)" stroke="#222" stroke-width="0.8"/>
<line x1="637.20" y1="252.82" x2="639.70" y2="252.82" stroke="#222" stroke-width="1.00"/>
<line x1="644.70" y1="252.82" x2="647.20" y2="252.82" stroke="#222" stroke-width="1.00"/>
<text x="649.4" y="256.3" font-size="9.80" font-weight="bold" fill="#000">1.0</text>
<line x1="637.20" y1="320.91" x2="639.70" y2="320.91" stroke="#222" stroke-width="1.00"/>
<line x1="644.70" y1="320.91" x2="647.20" y2="320.91" stroke="#222" stroke-width="1.00"/>
<text x="649.4" y="324.4" font-size="9.80" font-weight="bold" fill="#000">0.5</text>
<text x="649.4" y="392.5" font-size="9.80" font-weight="bold" fill="#000">0</text>
<text x="0.0" y="430.4" font-size="12.50" font-weight="bold" fill="#000">g</text>
<rect x="12" y="437" width="14.6" height="6.4" fill="#31409a" stroke="#222" stroke-width="0.6"/>
<text x="32.4" y="443.7" font-size="9.40" font-weight="bold" fill="#000" textLength="62.2" lengthAdjust="spacingAndGlyphs">Cool-specific</text>
<rect x="12" y="450.6" width="14.6" height="6.4" fill="#1596b0" stroke="#222" stroke-width="0.6"/>
<text x="32.4" y="457.9" font-size="9.40" font-weight="bold" fill="#000" textLength="74.8" lengthAdjust="spacingAndGlyphs">Cool-polymodal</text>
<rect x="129.5" y="437.1" width="14.4" height="6.6" fill="#f5ea12" stroke="#222" stroke-width="0.6"/>
<text x="149.3" y="444.3" font-size="9.40" font-weight="bold" fill="#000" textLength="76.3" lengthAdjust="spacingAndGlyphs">Cool-insensitive</text>
<rect x="129.5" y="450.6" width="14.4" height="6.6" fill="#d6d6d6" stroke="#222" stroke-width="0.6"/>
<text x="149.3" y="458.0" font-size="9.40" font-weight="bold" fill="#000" textLength="60.5" lengthAdjust="spacingAndGlyphs">No response</text>
<path d="M56.00 485.50 A49.00 49.00 0 0 1 69.97 487.53 L62.93 511.21 A24.30 24.30 0 0 0 56.00 510.20 Z" fill="#31409a" stroke="#fff" stroke-width="0.7"/>
<path d="M69.97 487.53 A49.00 49.00 0 0 1 76.30 579.10 L66.07 556.62 A24.30 24.30 0 0 0 62.93 511.21 Z" fill="#1596b0" stroke="#fff" stroke-width="0.7"/>
<path d="M76.30 579.10 A49.00 49.00 0 1 1 56.00 485.50 L56.00 510.20 A24.30 24.30 0 1 0 66.07 556.62 Z" fill="#f5ea12" stroke="#fff" stroke-width="0.7"/>
<circle cx="56.00" cy="534.50" r="49.00" fill="none" stroke="#222" stroke-width="0.8"/>
<circle cx="56.00" cy="534.50" r="24.30" fill="#fff" stroke="#222" stroke-width="0.8"/>
<path d="M62.6 491.4 L65.9 478.9 H84.1" stroke="#222" stroke-width="0.90" fill="none"/>
<text x="88.2" y="481.6" font-size="9.80" font-weight="normal" fill="#111" textLength="23.3" lengthAdjust="spacingAndGlyphs" stroke="#111" stroke-width="0.3">4.6%</text>
<text x="66.7" y="511.5" font-size="10.40" font-weight="bold" fill="#f2ec12" textLength="28.4" lengthAdjust="spacingAndGlyphs">38.6%</text>
<text x="56.2" y="537.6" font-size="10.00" font-weight="bold" fill="#000" text-anchor="middle">Control</text>
<text x="32.4" y="573.5" font-size="10.40" font-weight="bold" fill="#333" textLength="28.4" lengthAdjust="spacingAndGlyphs">56.8%</text>
<path d="M172.40 485.20 A49.30 49.30 0 0 1 191.98 489.25 L182.01 512.29 A24.20 24.20 0 0 0 172.40 510.30 Z" fill="#1596b0" stroke="#fff" stroke-width="0.7"/>
<path d="M191.98 489.25 A49.30 49.30 0 1 1 128.20 512.67 L150.70 523.79 A24.20 24.20 0 1 0 182.01 512.29 Z" fill="#f5ea12" stroke="#fff" stroke-width="0.7"/>
<path d="M128.20 512.67 A49.30 49.30 0 0 1 172.40 485.20 L172.40 510.30 A24.20 24.20 0 0 0 150.70 523.79 Z" fill="#d6d6d6" stroke="#fff" stroke-width="0.7"/>
<circle cx="172.40" cy="534.50" r="49.30" fill="none" stroke="#222" stroke-width="0.8"/>
<circle cx="172.40" cy="534.50" r="24.20" fill="#fff" stroke="#222" stroke-width="0.8"/>
<path d="M181.7 490.2 L185.2 477.7 H201.8" stroke="#222" stroke-width="0.90" fill="none"/>
<text x="206.7" y="481.6" font-size="9.80" font-weight="normal" fill="#111" textLength="22.3" lengthAdjust="spacingAndGlyphs" stroke="#111" stroke-width="0.3">6.5%</text>
<text x="140.7" y="507.4" font-size="10.40" font-weight="bold" fill="#444" textLength="29.0" lengthAdjust="spacingAndGlyphs">17.7%</text>
<text x="172.5" y="536.4" font-size="9.4" font-weight="bold" text-anchor="middle" textLength="48" lengthAdjust="spacingAndGlyphs">Trhr<tspan font-size="5.2" dy="-3.5">Lbx1</tspan><tspan dy="3.5">-Abl</tspan></text>
<text x="162.5" y="572.8" font-size="10.40" font-weight="bold" fill="#333" textLength="27.8" lengthAdjust="spacingAndGlyphs">75.8%</text>
<text x="264.6" y="443.6" font-size="11.00" font-weight="bold" fill="#000" textLength="89.7" lengthAdjust="spacingAndGlyphs">Cool responding</text>
<text x="245.5" y="464.5" font-size="10.00" font-weight="bold" fill="#000" textLength="37.2" lengthAdjust="spacingAndGlyphs">Control</text>
<text x="306.8" y="464.5" font-size="9.60" font-weight="normal" fill="#1a1a1a" textLength="62.2" lengthAdjust="spacingAndGlyphs" stroke="#1a1a1a" stroke-width="0.2">43.2% (19/44)</text>
<text x="245.5" y="483.5" font-size="10" font-weight="bold" textLength="55.6" lengthAdjust="spacingAndGlyphs">Trhr<tspan font-size="5.6" dy="-3.8">Lbx1</tspan><tspan dy="3.8">-Abl</tspan></text>
<text x="306.8" y="483.5" font-size="9.60" font-weight="normal" fill="#1a1a1a" stroke="#1a1a1a" stroke-width="0.2">6.5%</text>
<text x="338.4" y="483.5" font-size="9.60" font-weight="normal" fill="#1a1a1a" textLength="25.3" lengthAdjust="spacingAndGlyphs" stroke="#1a1a1a" stroke-width="0.2">(4/62)</text>
<line x1="242.70" y1="498.90" x2="378.40" y2="498.90" stroke="#333" stroke-width="1.50"/>
<rect x="242.70" y="499.60" width="135.70" height="17.50" fill="#e6e6e6"/>
<line x1="242.70" y1="517.60" x2="378.40" y2="517.60" stroke="#666" stroke-width="1.60"/>
<text x="256.9" y="512.6" font-size="10.00" font-weight="bold" fill="#333" textLength="36.6" lengthAdjust="spacingAndGlyphs">Control</text>
<text x="299.5" y="512.6" font-size="10.00" font-weight="bold" fill="#333">vs</text>
<text x="316.3" y="512.6" font-size="10" font-weight="bold" fill="#333" textLength="49.4" lengthAdjust="spacingAndGlyphs">Trhr<tspan font-size="5.6" dy="-3.8">Lbx1</tspan><tspan dy="3.8">Abl</tspan></text>
<text x="248.6" y="536.4" font-size="9.60" font-weight="normal" fill="#444" textLength="62.8" lengthAdjust="spacingAndGlyphs">Chi-square, df</text>
<text x="333.5" y="536.4" font-size="9.60" font-weight="normal" fill="#444">25.5, 3</text>
<text x="248.6" y="555.7" font-size="9.60" font-weight="normal" fill="#444">P value</text>
<text x="332.4" y="555.7" font-size="9.60" font-weight="normal" fill="#444">< 0.0001</text>
<text x="248.6" y="574.3" font-size="9.60" font-weight="normal" fill="#444" textLength="76.5" lengthAdjust="spacingAndGlyphs">P value summary</text>
<text x="333.5" y="578.5" font-size="9.00" font-weight="normal" fill="#444">****</text>
<line x1="242.70" y1="583.70" x2="378.40" y2="583.70" stroke="#333" stroke-width="1.30"/>
<text x="387.0" y="431.4" font-size="12.50" font-weight="bold" fill="#000">h</text>
<circle cx="398" cy="440.7" r="3.3" fill="#f6e51c" stroke="#222" stroke-width="0.8"/>
<text x="405.7" y="444.7" font-size="9.40" font-weight="bold" fill="#000" textLength="23.8" lengthAdjust="spacingAndGlyphs">IPBN</text>
<circle cx="441.2" cy="440.9" r="3.2" fill="#1e2d5c"/>
<line x1="443.00" y1="440.90" x2="446.00" y2="440.90" stroke="#1e2d5c" stroke-width="1.10"/>
<path d="M448.8 438.6 L446.2 440.9 L448.8 443.2" stroke="#1e2d5c" stroke-width="1.00" fill="none" stroke-linejoin="miter"/>
<text x="453.6" y="444.7" font-size="9.40" font-weight="bold" fill="#3b5d95" textLength="63.1" lengthAdjust="spacingAndGlyphs">DRG neurons</text>
<circle cx="527.4" cy="441.1" r="3.2" fill="#3f8f3f"/>
<line x1="529.00" y1="441.10" x2="532.50" y2="441.10" stroke="#3f8f3f" stroke-width="1.10"/>
<path d="M535.3 438.8 L532.7 441.1 L535.3 443.4" stroke="#3f8f3f" stroke-width="1.00" fill="none" stroke-linejoin="miter"/>
<text x="540.5" y="445.3" font-size="9.40" font-weight="bold" fill="#62ad4e" textLength="61.4" lengthAdjust="spacingAndGlyphs">SPB neurons</text>
<g><path d="M396.7 475.3 C398 471.5 403 466 408.8 464.1 C407.4 468 406.8 474 406.9 480 C407 486 406.5 492 404.3 495.9 C402 497 399.5 496.8 397.6 494.5 C395.2 490.5 395 482 396.7 475.3 Z" fill="none" stroke="#2e2e2e" stroke-width="0.70"/><path d="M400.7 470.8 H407" fill="none" stroke="#2e2e2e" stroke-width="0.50"/><path d="M409.7 462.7 C411 460.5 413 459.8 415 460.2 C417.5 460.8 419 463 418.6 465.5 C418 468 416.5 470 415 472.5 C413.5 476 412 480 410.6 482.4 C409.5 484 408 484.6 407.2 484 C406.4 480 406.5 476 406.8 472 C407.2 468 408.2 465 409.7 462.7 Z" fill="none" stroke="#2e2e2e" stroke-width="0.70"/><path d="M406.1 485.4 L411.5 487.8 L406.3 488.2" fill="none" stroke="#2e2e2e" stroke-width="0.55"/><path d="M405.6 490 C406.5 488.5 409 488.6 410.4 490.5 C411.4 493.5 411 498 409.4 500.2 C407.6 501 406 499.5 405.6 496.5 C405.3 494 405.2 492 405.6 490 Z" fill="none" stroke="#2e2e2e" stroke-width="0.55"/><path d="M420.2 463 C420.5 453 429 449.6 436 450.2 C441 450.8 445 452.6 447.2 455.2" fill="none" stroke="#2e2e2e" stroke-width="0.80"/><path d="M421.5 463 C422 455 429 451.2 436 451.7 C440 452 443 453.5 445 455.5" fill="none" stroke="#2e2e2e" stroke-width="0.50"/><path d="M426 468 C423 460 428 452.5 434 452.8 C440 453.2 445 457 446 462 C444 468 438 471 432 471.5 C429 471.5 427 470 426 468 Z" fill="none" stroke="#2e2e2e" stroke-width="0.65"/><path d="M436.5 451 C438 456 439.5 460 440 464" fill="none" stroke="#2e2e2e" stroke-width="0.55"/><path d="M420.6 466 C418.5 478 415.5 492 411.5 504.5" fill="none" stroke="#2e2e2e" stroke-width="0.80"/><path d="M419.2 467.2 C417.2 479 414.2 492 410.2 504" fill="none" stroke="#2e2e2e" stroke-width="0.55"/><path d="M409.5 498 C412 508 424 516 437 521.6 C441 523.3 444 523.9 447.2 523.9" fill="none" stroke="#2e2e2e" stroke-width="0.80"/><path d="M428 516.5 C432 512.5 438 512.5 442 515.2 C444 516.8 446 517 447.2 516.6" fill="none" stroke="#2e2e2e" stroke-width="0.60"/><path d="M431 520.3 C436 518.2 441 518.3 447.2 520.3" fill="none" stroke="#2e2e2e" stroke-width="0.55"/><ellipse cx="428.6" cy="484.5" rx="6.0" ry="4.6" transform="rotate(-32.0 428.6 484.5)" fill="none" stroke="#2e2e2e" stroke-width="0.55"/><path d="M424.5 486.5 L426 482.5 M427 487.5 L428.5 483 M429.5 488 L431 484 M432 487 L433 483.5" fill="none" stroke="#2e2e2e" stroke-width="0.50"/><path d="M422.5 500.5 C427 496 433.5 496 437.5 500 C440.5 504 440 509.5 436 512" fill="none" stroke="#2e2e2e" stroke-width="0.60"/><path d="M409.8 497.5 C412.5 502 415 505 419 507.5" fill="none" stroke="#2e2e2e" stroke-width="0.55"/><path d="M421 492 C424 491.5 427 493 429 495.5" fill="none" stroke="#2e2e2e" stroke-width="0.50"/><path d="M447.2 463.2 C444 462.8 440 464 436.8 467 C433.6 470 434 476 437 479.6 C440 482.6 444 483.2 447.2 483.2" fill="none" stroke="#2e2e2e" stroke-width="0.80"/><path d="M447.2 461.2 C442.5 460.8 437 463 433.8 466.5 C431.5 469.5 432 475 434.5 479" fill="none" stroke="#2e2e2e" stroke-width="0.50"/><path d="M437 479.6 C434.2 485 432.8 490 433.5 497" fill="none" stroke="#2e2e2e" stroke-width="0.60"/><path d="M441 482.5 C439.6 488 440.2 493 442.2 497" fill="none" stroke="#2e2e2e" stroke-width="0.55"/><path d="M447.2 483.2 V509" fill="none" stroke="#2e2e2e" stroke-width="0.55"/><path d="M445.4 486 V506" fill="none" stroke="#2e2e2e" stroke-width="0.50"/><circle cx="444.3" cy="495" r="1.3" fill="none" stroke="#2e2e2e" stroke-width="0.45"/><rect x="442.8" y="501.5" width="2.8" height="3.6" rx="1" fill="none" stroke="#2e2e2e" stroke-width="0.45"/></g>
<g transform="translate(894.4 0) scale(-1 1)"><path d="M396.7 475.3 C398 471.5 403 466 408.8 464.1 C407.4 468 406.8 474 406.9 480 C407 486 406.5 492 404.3 495.9 C402 497 399.5 496.8 397.6 494.5 C395.2 490.5 395 482 396.7 475.3 Z" fill="none" stroke="#2e2e2e" stroke-width="0.70"/><path d="M400.7 470.8 H407" fill="none" stroke="#2e2e2e" stroke-width="0.50"/><path d="M409.7 462.7 C411 460.5 413 459.8 415 460.2 C417.5 460.8 419 463 418.6 465.5 C418 468 416.5 470 415 472.5 C413.5 476 412 480 410.6 482.4 C409.5 484 408 484.6 407.2 484 C406.4 480 406.5 476 406.8 472 C407.2 468 408.2 465 409.7 462.7 Z" fill="none" stroke="#2e2e2e" stroke-width="0.70"/><path d="M406.1 485.4 L411.5 487.8 L406.3 488.2" fill="none" stroke="#2e2e2e" stroke-width="0.55"/><path d="M405.6 490 C406.5 488.5 409 488.6 410.4 490.5 C411.4 493.5 411 498 409.4 500.2 C407.6 501 406 499.5 405.6 496.5 C405.3 494 405.2 492 405.6 490 Z" fill="none" stroke="#2e2e2e" stroke-width="0.55"/><path d="M420.2 463 C420.5 453 429 449.6 436 450.2 C441 450.8 445 452.6 447.2 455.2" fill="none" stroke="#2e2e2e" stroke-width="0.80"/><path d="M421.5 463 C422 455 429 451.2 436 451.7 C440 452 443 453.5 445 455.5" fill="none" stroke="#2e2e2e" stroke-width="0.50"/><path d="M426 468 C423 460 428 452.5 434 452.8 C440 453.2 445 457 446 462 C444 468 438 471 432 471.5 C429 471.5 427 470 426 468 Z" fill="none" stroke="#2e2e2e" stroke-width="0.65"/><path d="M436.5 451 C438 456 439.5 460 440 464" fill="none" stroke="#2e2e2e" stroke-width="0.55"/><path d="M420.6 466 C418.5 478 415.5 492 411.5 504.5" fill="none" stroke="#2e2e2e" stroke-width="0.80"/><path d="M419.2 467.2 C417.2 479 414.2 492 410.2 504" fill="none" stroke="#2e2e2e" stroke-width="0.55"/><path d="M409.5 498 C412 508 424 516 437 521.6 C441 523.3 444 523.9 447.2 523.9" fill="none" stroke="#2e2e2e" stroke-width="0.80"/><path d="M428 516.5 C432 512.5 438 512.5 442 515.2 C444 516.8 446 517 447.2 516.6" fill="none" stroke="#2e2e2e" stroke-width="0.60"/><path d="M431 520.3 C436 518.2 441 518.3 447.2 520.3" fill="none" stroke="#2e2e2e" stroke-width="0.55"/><ellipse cx="428.6" cy="484.5" rx="6.0" ry="4.6" transform="rotate(-32.0 428.6 484.5)" fill="none" stroke="#2e2e2e" stroke-width="0.55"/><path d="M424.5 486.5 L426 482.5 M427 487.5 L428.5 483 M429.5 488 L431 484 M432 487 L433 483.5" fill="none" stroke="#2e2e2e" stroke-width="0.50"/><path d="M422.5 500.5 C427 496 433.5 496 437.5 500 C440.5 504 440 509.5 436 512" fill="none" stroke="#2e2e2e" stroke-width="0.60"/><path d="M409.8 497.5 C412.5 502 415 505 419 507.5" fill="none" stroke="#2e2e2e" stroke-width="0.55"/><path d="M421 492 C424 491.5 427 493 429 495.5" fill="none" stroke="#2e2e2e" stroke-width="0.50"/><path d="M447.2 463.2 C444 462.8 440 464 436.8 467 C433.6 470 434 476 437 479.6 C440 482.6 444 483.2 447.2 483.2" fill="none" stroke="#2e2e2e" stroke-width="0.80"/><path d="M447.2 461.2 C442.5 460.8 437 463 433.8 466.5 C431.5 469.5 432 475 434.5 479" fill="none" stroke="#2e2e2e" stroke-width="0.50"/><path d="M437 479.6 C434.2 485 432.8 490 433.5 497" fill="none" stroke="#2e2e2e" stroke-width="0.60"/><path d="M441 482.5 C439.6 488 440.2 493 442.2 497" fill="none" stroke="#2e2e2e" stroke-width="0.55"/><path d="M447.2 483.2 V509" fill="none" stroke="#2e2e2e" stroke-width="0.55"/><path d="M445.4 486 V506" fill="none" stroke="#2e2e2e" stroke-width="0.50"/><circle cx="444.3" cy="495" r="1.3" fill="none" stroke="#2e2e2e" stroke-width="0.45"/><rect x="442.8" y="501.5" width="2.8" height="3.6" rx="1" fill="none" stroke="#2e2e2e" stroke-width="0.45"/></g>
<path d="M446.8 543.2 C450 540.5 462 539.8 470 545 C478 552 478.5 570 472 579 C466 587 455 589.5 448 588.5 L447.2 576 L446.2 576 L445.4 588.5 C438 589.5 426 587 420 579 C414 570 414.5 552 422.5 545 C430 539.8 442.5 540.5 446.8 543.2 Z" fill="#e9cdbc" stroke="#d8b8a5" stroke-width="0.5"/>
<path d="M425 550 C428 546 433 548 436 552 C440 557 444 560 446.6 561 C449 560 454 557 458 552 C461 548 466 546 469 550 C471 554 467 558 463 562 C461 565 462 568 465 572 C468 576 465 580 460 579 C455 577 451 573 446.6 572 C442 573 438 577 433 579 C428 580 425 576 428 572 C431 568 432 565 430 562 C426 558 423 554 425 550 Z" fill="#d6b29b"/>
<rect x="459.3" y="544.2" width="23.6" height="16.4" fill="none" stroke="#a0645a" stroke-width="0.8" stroke-dasharray="1.2 1"/>
<path d="M465 550.5 C470 547 476 546 481 547.5 C485 548.5 489 551 496 555 C489 553.5 485 553 480 553.5 C474 554 469 553 465 550.5 Z" fill="#eccb7c" stroke="#c9a050" stroke-width="0.4"/>
<circle cx="478.3" cy="548.9" r="1.5" fill="#1e2d5c"/>
<path d="M466 550.5 L473 549.5" stroke="#444" stroke-width="0.60" fill="none"/>
<circle cx="465.2" cy="552.8" r="1.4" fill="#b06a30"/>
<line x1="483.30" y1="544.20" x2="540.50" y2="486.00" stroke="#777" stroke-width="0.60"/>
<line x1="483.30" y1="560.60" x2="541.00" y2="590.50" stroke="#777" stroke-width="0.60"/>
<path d="M463.6 494.5 C455 503 440 513 433 524 C428 532 424.5 542 424.5 555 C424.5 563 426 568 429 569.2 C436 568 443 563 449.4 561.3 C456 559 460 553 463.2 550.1" stroke="#2f6e33" stroke-width="1.00" fill="none"/>
<circle cx="463.4" cy="550.2" r="1.4" fill="#3f8f3f"/>
<path d="M465 489.9 L460.9 494.2 L466.2 494.6 Z" fill="#2f6e33"/>
<circle cx="466.7" cy="486.5" r="2.5" fill="#f6e51c" stroke="#2a4a9a" stroke-width="0.8"/>
<text x="497" y="537.5" font-size="12" font-weight="bold" fill="#2a4a8a" textLength="36" lengthAdjust="spacingAndGlyphs">TRPM8</text>
<text x="533.6" y="530.6" font-size="6.20" font-weight="bold" fill="#2a4a8a">+</text>
<circle cx="519" cy="544.5" r="4.4" fill="#2a4a8a"/>
<line x1="519.00" y1="548.00" x2="519.00" y2="553.90" stroke="#1e2d5c" stroke-width="1.30"/>
<rect x="540.4" y="484.3" width="69.2" height="106.4" rx="4" fill="#f0dab9" stroke="#b9874e" stroke-width="0.9"/>
<line x1="502.60" y1="553.90" x2="554.00" y2="553.90" stroke="#1e2d5c" stroke-width="1.60"/>
<line x1="545.40" y1="505.30" x2="545.40" y2="553.90" stroke="#1e2d5c" stroke-width="1.60"/>
<line x1="545.40" y1="505.30" x2="553.00" y2="505.30" stroke="#1e2d5c" stroke-width="1.60"/>
<path d="M557.8 501.7 L553.2 505.8 L557.8 509.9" stroke="#1e2d5c" stroke-width="1.60" fill="none" stroke-linejoin="miter"/>
<path d="M558.2 549.8 L553.6 553.9 L558.2 558.0" stroke="#1e2d5c" stroke-width="1.60" fill="none" stroke-linejoin="miter"/>
<line x1="577.40" y1="474.00" x2="577.40" y2="496.00" stroke="#2f6e33" stroke-width="1.30"/>
<path d="M577.4 469.2 L574.2 475.4 L580.6 475.4 Z" fill="#2f6e33"/>
<text x="537.3" y="464.6" font-size="12.50" font-weight="bold" fill="#000" textLength="79.5" lengthAdjust="spacingAndGlyphs">Cool sensing</text>
<ellipse cx="577.5" cy="506.7" rx="17.2" ry="10.8" fill="#3f9a3f" stroke="#2f7a2f" stroke-width="0.6"/>
<text x="575.8" y="510" font-size="9.4" font-weight="bold" fill="#fff" text-anchor="middle">Calcrl<tspan font-size="5.0" dy="-3.5">+</tspan><tspan dy="3.5"></tspan></text>
<path d="M573.5 520.2 L577.5 524.2 L581.5 520.2 M577.5 524.2 V536" stroke="#9a6535" stroke-width="1.20" fill="none"/>
<circle cx="577.8" cy="553.8" r="17.6" fill="#a0643a" stroke="#8a5530" stroke-width="0.6"/>
<text x="576.4" y="547.8" font-size="9.4" font-weight="bold" fill="#f2e60c" text-anchor="middle">Trhr<tspan font-size="5.0" dy="-3.5">+</tspan><tspan dy="3.5"></tspan></text>
<text x="576.4" y="557.6" font-size="9.4" font-weight="bold" fill="#f2e60c" text-anchor="middle">Calb1<tspan font-size="5.0" dy="-3.5">+</tspan><tspan dy="3.5"></tspan></text>
<text x="576.4" y="567.6" font-size="9.4" font-weight="bold" fill="#f2e60c" text-anchor="middle">VT2<tspan font-size="5.0" dy="-3.5">+</tspan><tspan dy="3.5"></tspan></text>
<path d="M590 541.1 L602.4 530.2 H668" stroke="#222" stroke-width="0.90" fill="none"/>
<text x="613.6" y="527.0" font-size="11.70" font-weight="bold" fill="#000">Cool-specific</text>
<text x="542.4" y="588.0" font-size="8.40" font-weight="bold" fill="#000">I-II</text>
<text x="559.9" y="588.0" font-size="8.40" font-weight="bold" fill="#000" textLength="45.9" lengthAdjust="spacingAndGlyphs">Spinal cord</text>
</svg>
</body></html>
